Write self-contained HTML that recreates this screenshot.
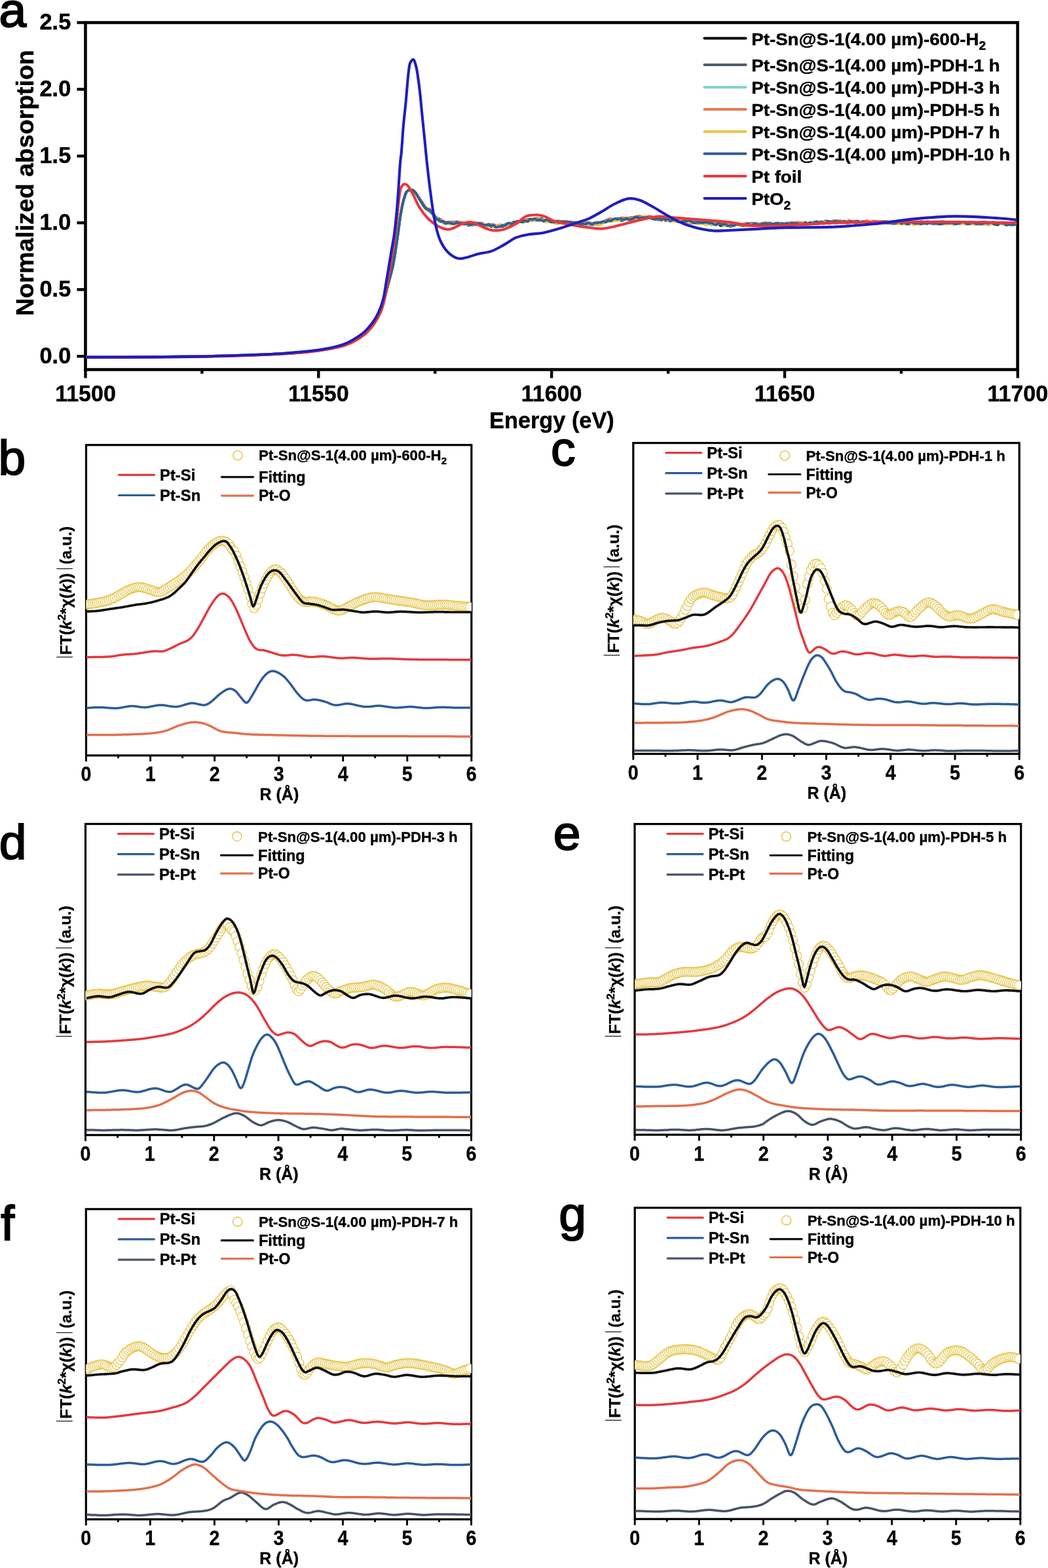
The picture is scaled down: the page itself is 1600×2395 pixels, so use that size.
<!DOCTYPE html>
<html><head><meta charset="utf-8"><style>html,body{margin:0;padding:0;background:#fff;}svg{display:block;}</style></head>
<body><svg xmlns="http://www.w3.org/2000/svg" width="1600" height="2395" viewBox="0 0 1600 2395" style="font-family:'Liberation Sans',Arial,Helvetica,sans-serif;font-weight:bold">
<rect width="1600" height="2395" fill="#fff"/>
<rect x="130.5" y="34.5" width="1423.1" height="530.0" fill="none" stroke="#000" stroke-width="4.6"/>
<line x1="117.5" y1="544.2" x2="130.5" y2="544.2" stroke="#000" stroke-width="4.4"/>
<text transform="translate(108.3,554.6) scale(0.97,1)" text-anchor="end" font-size="35.5" stroke="#000" stroke-width="0.45">0.0</text>
<line x1="117.5" y1="442.3" x2="130.5" y2="442.3" stroke="#000" stroke-width="4.4"/>
<text transform="translate(108.3,452.7) scale(0.97,1)" text-anchor="end" font-size="35.5" stroke="#000" stroke-width="0.45">0.5</text>
<line x1="117.5" y1="340.3" x2="130.5" y2="340.3" stroke="#000" stroke-width="4.4"/>
<text transform="translate(108.3,350.7) scale(0.97,1)" text-anchor="end" font-size="35.5" stroke="#000" stroke-width="0.45">1.0</text>
<line x1="117.5" y1="238.4" x2="130.5" y2="238.4" stroke="#000" stroke-width="4.4"/>
<text transform="translate(108.3,248.8) scale(0.97,1)" text-anchor="end" font-size="35.5" stroke="#000" stroke-width="0.45">1.5</text>
<line x1="117.5" y1="136.4" x2="130.5" y2="136.4" stroke="#000" stroke-width="4.4"/>
<text transform="translate(108.3,146.8) scale(0.97,1)" text-anchor="end" font-size="35.5" stroke="#000" stroke-width="0.45">2.0</text>
<line x1="117.5" y1="34.5" x2="130.5" y2="34.5" stroke="#000" stroke-width="4.4"/>
<text transform="translate(108.3,44.9) scale(0.97,1)" text-anchor="end" font-size="35.5" stroke="#000" stroke-width="0.45">2.5</text>
<line x1="130.5" y1="564.5" x2="130.5" y2="577.5" stroke="#000" stroke-width="4.4"/>
<text transform="translate(130.5,613.4) scale(0.95,1)" text-anchor="middle" font-size="35.8" stroke="#000" stroke-width="0.45">11500</text>
<line x1="308.4" y1="564.5" x2="308.4" y2="570.8" stroke="#000" stroke-width="4.4"/>
<line x1="486.3" y1="564.5" x2="486.3" y2="577.5" stroke="#000" stroke-width="4.4"/>
<text transform="translate(486.3,613.4) scale(0.95,1)" text-anchor="middle" font-size="35.8" stroke="#000" stroke-width="0.45">11550</text>
<line x1="664.2" y1="564.5" x2="664.2" y2="570.8" stroke="#000" stroke-width="4.4"/>
<line x1="842.1" y1="564.5" x2="842.1" y2="577.5" stroke="#000" stroke-width="4.4"/>
<text transform="translate(842.1,613.4) scale(0.95,1)" text-anchor="middle" font-size="35.8" stroke="#000" stroke-width="0.45">11600</text>
<line x1="1020.1" y1="564.5" x2="1020.1" y2="570.8" stroke="#000" stroke-width="4.4"/>
<line x1="1198.0" y1="564.5" x2="1198.0" y2="577.5" stroke="#000" stroke-width="4.4"/>
<text transform="translate(1198.0,613.4) scale(0.95,1)" text-anchor="middle" font-size="35.8" stroke="#000" stroke-width="0.45">11650</text>
<line x1="1375.9" y1="564.5" x2="1375.9" y2="570.8" stroke="#000" stroke-width="4.4"/>
<line x1="1553.8" y1="564.5" x2="1553.8" y2="577.5" stroke="#000" stroke-width="4.4"/>
<text transform="translate(1553.8,613.4) scale(0.95,1)" text-anchor="middle" font-size="35.8" stroke="#000" stroke-width="0.45">11700</text>
<text transform="translate(842.4,654.1) scale(0.967,1)" text-anchor="middle" font-size="35.5" stroke="#000" stroke-width="0.45">Energy (eV)</text>
<text transform="translate(50.6,279.4) rotate(-90)" text-anchor="middle" font-size="37.5" stroke="#000" stroke-width="0.45">Normalized absorption</text>
<text x="-1.6" y="41.4" font-size="75" font-weight="normal" stroke="#000" stroke-width="2">a</text>
<path d="M131.0,545.6 C142.5,545.6 171.8,545.6 200.0,545.4 C228.2,545.2 270.0,545.1 300.0,544.6 C330.0,544.1 359.0,543.1 380.0,542.4 C401.0,541.7 410.6,541.5 425.9,540.6 C441.2,539.7 459.0,538.4 471.8,537.0 C484.6,535.6 493.6,534.2 502.5,532.5 C511.4,530.8 519.0,529.1 525.4,527.0 C531.8,524.9 535.6,522.9 540.7,520.0 C545.8,517.1 551.4,513.4 556.0,509.5 C560.6,505.6 564.7,501.1 568.3,496.5 C571.9,491.9 575.0,486.4 577.5,482.0 C580.0,477.6 580.9,477.0 583.1,470.0 C585.4,463.0 588.1,451.2 591.0,440.0 C593.9,428.8 597.7,416.4 600.4,403.0 C603.1,389.6 605.4,371.4 607.2,359.5 C609.0,347.6 609.7,339.5 611.0,331.4 C612.3,323.4 613.4,317.2 614.8,311.0 C616.3,304.9 618.5,297.8 619.9,294.4 C621.4,291.0 622.1,291.2 623.8,290.6 C625.5,290.0 628.2,289.8 630.2,290.6 C632.1,291.5 633.3,293.3 635.3,295.7 C637.2,298.2 640.0,302.8 641.6,305.3 C643.3,307.9 644.0,309.2 645.1,310.9 C646.3,312.6 647.5,314.2 648.6,315.6 C649.8,316.9 651.0,318.0 652.1,319.2 C653.3,320.4 654.5,321.8 655.6,322.7 C656.8,323.6 658.0,323.0 659.1,324.4 C660.3,325.8 661.5,329.9 662.6,331.2 C663.8,332.6 665.0,331.8 666.1,332.3 C667.3,332.7 668.5,333.2 669.6,334.0 C670.8,334.7 672.0,335.6 673.1,336.5 C674.3,337.4 675.5,338.6 676.6,339.1 C677.8,339.6 679.0,339.2 680.1,339.5 C681.3,339.8 682.5,341.0 683.6,341.1 C684.8,341.3 686.0,340.4 687.1,340.4 C688.3,340.4 689.5,341.4 690.6,341.3 C691.8,341.3 693.0,340.0 694.1,340.0 C695.3,340.1 696.5,341.9 697.6,341.8 C698.8,341.8 700.0,339.6 701.1,339.5 C702.3,339.4 703.5,341.0 704.6,341.4 C705.8,341.8 707.0,341.9 708.1,341.9 C709.3,342.0 710.5,341.3 711.6,341.8 C712.8,342.2 714.0,344.3 715.1,344.4 C716.3,344.6 717.5,342.8 718.6,342.6 C719.8,342.5 721.0,343.7 722.1,343.5 C723.3,343.3 724.5,341.6 725.6,341.2 C726.8,340.8 728.0,340.9 729.1,341.2 C730.3,341.6 731.5,343.1 732.6,343.4 C733.8,343.6 735.0,342.7 736.1,342.9 C737.3,343.0 738.5,343.8 739.6,344.1 C740.8,344.4 742.0,344.9 743.1,344.8 C744.3,344.7 745.5,343.2 746.6,343.4 C747.8,343.6 749.0,345.8 750.1,346.1 C751.3,346.4 752.5,345.0 753.6,345.2 C754.8,345.4 756.0,347.3 757.1,347.2 C758.3,347.1 759.5,345.0 760.6,344.6 C761.8,344.2 763.0,344.6 764.1,344.8 C765.3,345.0 766.5,346.1 767.6,345.9 C768.8,345.7 770.0,344.1 771.1,343.7 C772.3,343.3 773.5,343.5 774.6,343.5 C775.8,343.4 777.0,343.7 778.1,343.5 C779.3,343.3 780.5,342.7 781.6,342.1 C782.8,341.6 784.0,340.8 785.1,340.2 C786.3,339.6 787.5,338.8 788.6,338.4 C789.8,338.1 791.0,338.1 792.1,338.1 C793.3,338.2 794.5,338.7 795.6,338.9 C796.8,339.0 798.0,338.8 799.1,338.8 C800.3,338.8 801.5,339.4 802.6,338.9 C803.8,338.3 805.0,335.8 806.1,335.2 C807.3,334.7 808.5,335.6 809.6,335.5 C810.8,335.4 812.0,334.6 813.1,334.7 C814.3,334.8 815.5,336.0 816.6,336.2 C817.8,336.3 819.0,335.6 820.1,335.7 C821.3,335.7 822.5,336.3 823.6,336.3 C824.8,336.4 826.0,335.9 827.1,336.2 C828.3,336.4 829.5,337.7 830.6,337.9 C831.8,338.1 833.0,337.1 834.1,337.1 C835.3,337.2 836.5,337.9 837.6,338.1 C838.8,338.2 840.0,338.2 841.1,338.0 C842.3,337.9 843.5,337.1 844.6,337.4 C845.8,337.6 847.0,338.9 848.1,339.4 C849.3,339.9 850.5,340.3 851.6,340.4 C852.8,340.6 854.0,340.6 855.1,340.4 C856.3,340.3 857.5,339.7 858.6,339.6 C859.8,339.4 861.0,339.6 862.1,339.6 C863.3,339.6 864.5,339.6 865.6,339.7 C866.8,339.8 868.0,340.1 869.1,340.4 C870.3,340.7 871.5,341.4 872.6,341.7 C873.8,342.0 875.0,342.2 876.1,342.2 C877.3,342.1 878.5,341.2 879.6,341.2 C880.8,341.2 882.0,342.1 883.1,342.0 C884.3,341.8 885.5,340.3 886.6,340.4 C887.8,340.5 889.0,342.7 890.1,342.7 C891.3,342.8 892.5,340.6 893.6,340.5 C894.8,340.3 896.0,341.4 897.1,341.9 C898.3,342.3 899.5,342.9 900.6,343.0 C901.8,343.0 903.0,341.8 904.1,341.9 C905.3,342.0 906.5,343.4 907.6,343.3 C908.8,343.3 910.0,341.9 911.1,341.6 C912.3,341.3 913.5,341.9 914.6,341.7 C915.8,341.5 917.0,340.8 918.1,340.5 C919.3,340.2 920.5,340.3 921.6,339.9 C922.8,339.4 924.0,338.1 925.1,337.7 C926.3,337.2 927.5,337.6 928.6,337.4 C929.8,337.1 931.0,336.4 932.1,336.3 C933.3,336.2 934.5,337.0 935.6,337.0 C936.8,337.0 938.0,336.7 939.1,336.4 C940.3,336.0 941.5,334.9 942.6,334.7 C943.8,334.6 945.0,334.9 946.1,335.2 C947.3,335.6 948.5,336.7 949.6,336.8 C950.8,336.9 952.0,336.4 953.1,335.8 C954.3,335.3 955.5,333.9 956.6,333.5 C957.8,333.2 959.0,333.7 960.1,333.6 C961.3,333.5 962.5,333.3 963.6,333.1 C964.8,332.8 966.0,332.1 967.1,332.0 C968.3,332.0 969.5,332.4 970.6,332.6 C971.8,332.9 973.0,333.6 974.1,333.7 C975.3,333.7 976.5,333.2 977.6,332.9 C978.8,332.6 980.0,332.1 981.1,332.0 C982.3,331.9 983.5,332.4 984.6,332.4 C985.8,332.4 987.0,332.2 988.1,332.1 C989.3,332.0 990.5,331.8 991.6,331.8 C992.8,331.8 994.0,331.7 995.1,331.8 C996.3,331.9 997.5,331.8 998.6,332.3 C999.8,332.8 1001.0,334.2 1002.1,334.7 C1003.3,335.2 1004.5,335.4 1005.6,335.4 C1006.8,335.3 1008.0,334.7 1009.1,334.6 C1010.3,334.5 1011.5,334.3 1012.6,334.7 C1013.8,335.0 1015.0,336.7 1016.1,336.7 C1017.3,336.8 1018.5,334.9 1019.6,334.7 C1020.8,334.6 1022.0,335.6 1023.1,335.8 C1024.3,336.1 1025.5,335.9 1026.6,336.2 C1027.8,336.4 1029.0,337.2 1030.1,337.4 C1031.3,337.6 1032.5,337.3 1033.6,337.3 C1034.8,337.3 1036.0,337.2 1037.1,337.5 C1038.3,337.9 1039.5,339.4 1040.6,339.5 C1041.8,339.7 1043.0,338.3 1044.1,338.4 C1045.3,338.4 1046.5,339.9 1047.6,339.8 C1048.8,339.6 1050.0,337.5 1051.1,337.6 C1052.3,337.7 1053.5,340.0 1054.6,340.4 C1055.8,340.9 1057.0,339.9 1058.1,340.0 C1059.3,340.1 1060.5,340.8 1061.6,340.9 C1062.8,341.0 1064.0,340.8 1065.1,340.7 C1066.3,340.7 1067.5,340.4 1068.6,340.4 C1069.8,340.4 1071.0,340.5 1072.1,340.6 C1073.3,340.6 1074.5,340.4 1075.6,340.6 C1076.8,340.7 1078.0,341.1 1079.1,341.4 C1080.3,341.6 1081.5,342.1 1082.6,342.1 C1083.8,342.0 1085.0,341.1 1086.1,341.1 C1087.3,341.2 1088.5,342.3 1089.6,342.4 C1090.8,342.5 1092.0,341.9 1093.1,341.8 C1094.3,341.7 1095.5,341.2 1096.6,341.6 C1097.8,342.1 1099.0,344.0 1100.1,344.4 C1101.3,344.8 1102.5,344.2 1103.6,344.2 C1104.8,344.1 1106.0,344.4 1107.1,344.0 C1108.3,343.7 1109.5,342.0 1110.6,342.2 C1111.8,342.4 1113.0,344.7 1114.1,345.2 C1115.3,345.8 1116.5,345.7 1117.6,345.2 C1118.8,344.8 1120.0,342.9 1121.1,342.4 C1122.3,341.9 1123.5,342.5 1124.6,342.5 C1125.8,342.5 1127.0,342.4 1128.1,342.5 C1129.3,342.6 1130.5,342.8 1131.6,343.2 C1132.8,343.6 1134.0,345.0 1135.1,344.8 C1136.3,344.5 1137.5,342.3 1138.6,341.8 C1139.8,341.3 1141.0,341.6 1142.1,341.8 C1143.3,342.1 1144.5,343.0 1145.6,343.2 C1146.8,343.4 1148.0,342.8 1149.1,342.9 C1150.3,343.1 1151.5,343.8 1152.6,343.8 C1153.8,343.8 1155.0,343.2 1156.1,343.0 C1157.3,342.8 1158.5,342.2 1159.6,342.4 C1160.8,342.6 1162.0,344.0 1163.1,344.3 C1164.3,344.6 1165.5,344.5 1166.6,344.3 C1167.8,344.0 1169.0,343.0 1170.1,343.0 C1171.3,342.9 1172.5,344.1 1173.6,343.9 C1174.8,343.7 1176.0,341.8 1177.1,341.8 C1178.3,341.8 1179.5,343.8 1180.6,343.9 C1181.8,344.1 1183.0,342.9 1184.1,342.7 C1185.3,342.4 1186.5,342.5 1187.6,342.5 C1188.8,342.5 1190.0,342.7 1191.1,342.9 C1192.3,343.1 1193.5,343.7 1194.6,343.9 C1195.8,344.1 1197.0,344.1 1198.1,344.0 C1199.3,344.0 1200.5,344.1 1201.6,343.6 C1202.8,343.2 1204.0,341.6 1205.1,341.4 C1206.3,341.2 1207.5,342.2 1208.6,342.4 C1209.8,342.6 1211.0,342.6 1212.1,342.5 C1213.3,342.4 1214.5,342.0 1215.6,341.8 C1216.8,341.7 1218.0,341.8 1219.1,341.7 C1220.3,341.7 1221.5,341.6 1222.6,341.6 C1223.8,341.6 1225.0,341.8 1226.1,341.7 C1227.3,341.6 1228.5,341.3 1229.6,341.2 C1230.8,341.1 1232.0,341.3 1233.1,341.3 C1234.3,341.3 1235.5,341.3 1236.6,341.1 C1237.8,341.0 1239.0,340.6 1240.1,340.4 C1241.3,340.3 1242.5,339.9 1243.6,340.2 C1244.8,340.4 1246.0,342.0 1247.1,342.0 C1248.3,342.0 1249.5,340.5 1250.6,340.2 C1251.8,339.9 1253.0,340.0 1254.1,340.2 C1255.3,340.4 1256.5,341.7 1257.6,341.4 C1258.8,341.1 1260.0,338.7 1261.1,338.5 C1262.3,338.3 1263.5,340.4 1264.6,340.4 C1265.8,340.4 1267.0,338.6 1268.1,338.5 C1269.3,338.5 1270.5,340.0 1271.6,339.9 C1272.8,339.8 1274.0,338.2 1275.1,337.9 C1276.3,337.5 1277.5,337.4 1278.6,337.7 C1279.8,338.0 1281.0,339.7 1282.1,339.7 C1283.3,339.8 1284.5,338.4 1285.6,338.1 C1286.8,337.7 1288.0,337.7 1289.1,337.7 C1290.3,337.8 1291.5,338.4 1292.6,338.4 C1293.8,338.5 1295.0,337.7 1296.1,337.9 C1297.3,338.0 1298.5,339.2 1299.6,339.4 C1300.8,339.5 1302.0,338.5 1303.1,338.8 C1304.3,339.0 1305.5,340.8 1306.6,340.8 C1307.8,340.8 1309.0,339.0 1310.1,338.8 C1311.3,338.6 1312.5,339.4 1313.6,339.4 C1314.8,339.4 1316.0,338.7 1317.1,339.0 C1318.3,339.3 1319.5,341.1 1320.6,341.0 C1321.8,340.9 1323.0,338.3 1324.1,338.3 C1325.3,338.2 1326.5,340.3 1327.6,340.6 C1328.8,340.9 1330.0,340.3 1331.1,339.9 C1332.3,339.5 1333.5,338.1 1334.6,338.3 C1335.8,338.5 1337.0,340.9 1338.1,341.4 C1339.3,341.8 1340.5,341.3 1341.6,340.9 C1342.8,340.6 1344.0,339.4 1345.1,339.2 C1346.3,339.1 1347.5,339.9 1348.6,339.9 C1349.8,339.9 1351.0,339.3 1352.1,339.4 C1353.3,339.5 1354.5,340.3 1355.6,340.4 C1356.8,340.5 1358.0,340.1 1359.1,340.0 C1360.3,339.9 1361.5,339.4 1362.6,339.6 C1363.8,339.7 1365.0,340.9 1366.1,340.8 C1367.3,340.7 1368.5,339.3 1369.6,339.0 C1370.8,338.8 1372.0,338.9 1373.1,339.2 C1374.3,339.5 1375.5,340.2 1376.6,340.7 C1377.8,341.2 1379.0,342.2 1380.1,342.2 C1381.3,342.3 1382.5,341.1 1383.6,341.1 C1384.8,341.0 1386.0,341.9 1387.1,341.8 C1388.3,341.8 1389.5,341.2 1390.6,340.8 C1391.8,340.5 1393.0,340.0 1394.1,339.7 C1395.3,339.5 1396.5,339.2 1397.6,339.5 C1398.8,339.7 1400.0,340.8 1401.1,341.3 C1402.3,341.7 1403.5,342.4 1404.6,342.2 C1405.8,342.0 1407.0,340.6 1408.1,340.2 C1409.3,339.8 1410.5,339.6 1411.6,339.8 C1412.8,340.1 1414.0,341.8 1415.1,341.8 C1416.3,341.8 1417.5,340.0 1418.6,339.9 C1419.8,339.7 1421.0,340.8 1422.1,341.1 C1423.3,341.4 1424.5,341.9 1425.6,341.8 C1426.8,341.6 1428.0,340.2 1429.1,340.2 C1430.3,340.3 1431.5,341.6 1432.6,341.9 C1433.8,342.2 1435.0,342.5 1436.1,342.1 C1437.3,341.6 1438.5,339.6 1439.6,339.2 C1440.8,338.8 1442.0,339.4 1443.1,339.4 C1444.3,339.5 1445.5,339.3 1446.6,339.6 C1447.8,339.8 1449.0,340.8 1450.1,341.1 C1451.3,341.4 1452.5,341.4 1453.6,341.1 C1454.8,340.9 1456.0,339.2 1457.1,339.4 C1458.3,339.6 1459.5,342.2 1460.6,342.2 C1461.8,342.3 1463.0,339.8 1464.1,339.6 C1465.3,339.4 1466.5,341.2 1467.6,341.2 C1468.8,341.3 1470.0,340.0 1471.1,339.9 C1472.3,339.9 1473.5,340.8 1474.6,340.9 C1475.8,341.1 1477.0,340.8 1478.1,340.9 C1479.3,341.0 1480.5,341.5 1481.6,341.6 C1482.8,341.7 1484.0,341.5 1485.1,341.5 C1486.3,341.5 1487.5,341.6 1488.6,341.5 C1489.8,341.4 1491.0,340.6 1492.1,340.9 C1493.3,341.1 1494.5,342.7 1495.6,342.8 C1496.8,342.9 1498.0,341.6 1499.1,341.5 C1500.3,341.4 1501.5,342.4 1502.6,342.4 C1503.8,342.4 1505.0,341.4 1506.1,341.6 C1507.3,341.7 1508.5,343.1 1509.6,343.1 C1510.8,343.0 1512.0,341.3 1513.1,341.1 C1514.3,340.9 1515.5,341.6 1516.6,341.9 C1517.8,342.2 1519.0,342.9 1520.1,343.1 C1521.3,343.2 1522.5,343.3 1523.6,343.0 C1524.8,342.8 1526.0,341.8 1527.1,341.4 C1528.3,341.0 1529.5,340.3 1530.6,340.5 C1531.8,340.7 1533.0,342.3 1534.1,342.8 C1535.3,343.3 1536.5,343.4 1537.6,343.4 C1538.8,343.4 1540.0,343.3 1541.1,343.1 C1542.3,342.8 1543.5,342.4 1544.6,342.0 C1545.8,341.6 1547.0,340.9 1548.1,340.7 C1549.3,340.5 1551.0,340.7 1551.6,340.7" fill="none" stroke="#000000" stroke-width="4.0" stroke-linejoin="round"/>
<path d="M131.0,545.6 C142.5,545.6 171.8,545.6 200.0,545.4 C228.2,545.2 270.0,545.1 300.0,544.6 C330.0,544.1 359.0,543.1 380.0,542.4 C401.0,541.7 410.6,541.5 425.9,540.6 C441.2,539.7 459.0,538.4 471.8,537.0 C484.6,535.6 493.6,534.2 502.5,532.5 C511.4,530.8 519.0,529.1 525.4,527.0 C531.8,524.9 535.6,522.9 540.7,520.0 C545.8,517.1 551.4,513.4 556.0,509.5 C560.6,505.6 564.7,501.1 568.3,496.5 C571.9,491.9 575.0,486.4 577.5,482.0 C580.0,477.6 580.9,477.0 583.1,470.0 C585.4,463.0 588.1,451.2 591.0,440.0 C593.9,428.8 597.7,416.4 600.4,403.0 C603.1,389.6 605.4,371.4 607.2,359.5 C609.0,347.6 609.7,339.5 611.0,331.4 C612.3,323.4 613.4,317.2 614.8,311.0 C616.3,304.9 618.5,297.8 619.9,294.4 C621.4,291.0 622.1,291.2 623.8,290.6 C625.5,290.0 628.2,289.8 630.2,290.6 C632.1,291.5 633.3,293.2 635.3,295.7 C637.2,298.2 640.0,303.4 641.6,305.8 C643.3,308.1 644.0,307.8 645.1,309.7 C646.3,311.6 647.5,315.7 648.6,317.3 C649.8,319.0 651.0,319.0 652.1,319.5 C653.3,319.9 654.5,319.0 655.6,320.0 C656.8,321.0 658.0,323.8 659.1,325.3 C660.3,326.9 661.5,327.9 662.6,329.3 C663.8,330.7 665.0,332.7 666.1,333.6 C667.3,334.5 668.5,334.2 669.6,334.5 C670.8,334.9 672.0,334.9 673.1,335.7 C674.3,336.5 675.5,338.3 676.6,339.3 C677.8,340.2 679.0,341.1 680.1,341.3 C681.3,341.5 682.5,340.6 683.6,340.4 C684.8,340.3 686.0,340.6 687.1,340.3 C688.3,340.0 689.5,338.8 690.6,338.7 C691.8,338.6 693.0,339.8 694.1,339.8 C695.3,339.7 696.5,338.4 697.6,338.4 C698.8,338.4 700.0,339.3 701.1,339.8 C702.3,340.3 703.5,341.0 704.6,341.4 C705.8,341.8 707.0,342.0 708.1,342.1 C709.3,342.3 710.5,342.4 711.6,342.2 C712.8,342.1 714.0,341.3 715.1,341.4 C716.3,341.6 717.5,343.5 718.6,343.2 C719.8,343.0 721.0,340.1 722.1,340.0 C723.3,339.9 724.5,342.7 725.6,342.8 C726.8,342.9 728.0,340.6 729.1,340.5 C730.3,340.3 731.5,341.8 732.6,342.0 C733.8,342.1 735.0,341.0 736.1,341.4 C737.3,341.8 738.5,344.0 739.6,344.4 C740.8,344.8 742.0,344.0 743.1,343.7 C744.3,343.4 745.5,342.5 746.6,342.5 C747.8,342.5 749.0,343.4 750.1,343.5 C751.3,343.6 752.5,343.0 753.6,343.2 C754.8,343.4 756.0,344.7 757.1,344.9 C758.3,345.2 759.5,344.5 760.6,344.7 C761.8,344.8 763.0,345.6 764.1,345.8 C765.3,346.0 766.5,346.3 767.6,345.8 C768.8,345.3 770.0,343.0 771.1,342.7 C772.3,342.4 773.5,343.9 774.6,344.0 C775.8,344.1 777.0,343.7 778.1,343.4 C779.3,343.1 780.5,342.9 781.6,342.2 C782.8,341.6 784.0,339.7 785.1,339.4 C786.3,339.1 787.5,340.4 788.6,340.5 C789.8,340.6 791.0,340.5 792.1,339.8 C793.3,339.2 794.5,337.0 795.6,336.7 C796.8,336.4 798.0,338.0 799.1,338.0 C800.3,338.0 801.5,337.1 802.6,336.7 C803.8,336.3 805.0,336.0 806.1,335.6 C807.3,335.3 808.5,334.5 809.6,334.7 C810.8,334.8 812.0,336.6 813.1,336.6 C814.3,336.5 815.5,335.0 816.6,334.4 C817.8,333.9 819.0,333.3 820.1,333.4 C821.3,333.4 822.5,334.6 823.6,334.6 C824.8,334.6 826.0,333.1 827.1,333.5 C828.3,333.9 829.5,336.5 830.6,337.2 C831.8,337.9 833.0,337.8 834.1,337.6 C835.3,337.4 836.5,335.9 837.6,335.9 C838.8,336.0 840.0,337.1 841.1,337.6 C842.3,338.1 843.5,339.1 844.6,339.2 C845.8,339.2 847.0,338.1 848.1,337.9 C849.3,337.6 850.5,337.5 851.6,337.5 C852.8,337.5 854.0,337.7 855.1,337.9 C856.3,338.1 857.5,338.7 858.6,338.8 C859.8,338.9 861.0,338.1 862.1,338.4 C863.3,338.8 864.5,340.6 865.6,341.1 C866.8,341.6 868.0,341.5 869.1,341.5 C870.3,341.5 871.5,341.5 872.6,341.3 C873.8,341.0 875.0,340.1 876.1,340.0 C877.3,339.9 878.5,340.7 879.6,340.7 C880.8,340.7 882.0,339.6 883.1,339.9 C884.3,340.1 885.5,342.1 886.6,342.2 C887.8,342.4 889.0,341.2 890.1,340.9 C891.3,340.6 892.5,340.6 893.6,340.6 C894.8,340.7 896.0,341.0 897.1,341.4 C898.3,341.7 899.5,343.0 900.6,342.9 C901.8,342.8 903.0,340.8 904.1,340.7 C905.3,340.5 906.5,342.0 907.6,342.0 C908.8,342.0 910.0,340.6 911.1,340.4 C912.3,340.3 913.5,341.2 914.6,341.0 C915.8,340.8 917.0,339.5 918.1,339.3 C919.3,339.0 920.5,339.9 921.6,339.4 C922.8,339.0 924.0,337.4 925.1,336.8 C926.3,336.1 927.5,335.5 928.6,335.4 C929.8,335.3 931.0,336.1 932.1,336.1 C933.3,336.1 934.5,335.6 935.6,335.6 C936.8,335.6 938.0,336.7 939.1,336.4 C940.3,336.0 941.5,333.6 942.6,333.5 C943.8,333.3 945.0,335.1 946.1,335.3 C947.3,335.6 948.5,335.1 949.6,334.7 C950.8,334.3 952.0,333.0 953.1,332.9 C954.3,332.9 955.5,334.3 956.6,334.4 C957.8,334.5 959.0,334.0 960.1,333.6 C961.3,333.1 962.5,331.9 963.6,331.9 C964.8,332.0 966.0,334.0 967.1,333.9 C968.3,333.7 969.5,331.4 970.6,331.0 C971.8,330.5 973.0,331.1 974.1,331.1 C975.3,331.2 976.5,331.3 977.6,331.3 C978.8,331.3 980.0,330.9 981.1,330.9 C982.3,330.9 983.5,331.2 984.6,331.3 C985.8,331.4 987.0,331.5 988.1,331.5 C989.3,331.5 990.5,331.3 991.6,331.3 C992.8,331.3 994.0,331.3 995.1,331.4 C996.3,331.6 997.5,331.8 998.6,332.1 C999.8,332.3 1001.0,332.3 1002.1,332.7 C1003.3,333.0 1004.5,333.9 1005.6,334.3 C1006.8,334.7 1008.0,335.1 1009.1,335.3 C1010.3,335.5 1011.5,335.6 1012.6,335.6 C1013.8,335.6 1015.0,335.0 1016.1,335.2 C1017.3,335.3 1018.5,336.3 1019.6,336.6 C1020.8,337.0 1022.0,337.4 1023.1,337.3 C1024.3,337.2 1025.5,336.2 1026.6,336.1 C1027.8,336.0 1029.0,336.7 1030.1,336.7 C1031.3,336.8 1032.5,336.4 1033.6,336.3 C1034.8,336.2 1036.0,335.8 1037.1,336.0 C1038.3,336.3 1039.5,337.7 1040.6,337.9 C1041.8,338.0 1043.0,336.8 1044.1,336.9 C1045.3,337.0 1046.5,338.4 1047.6,338.7 C1048.8,339.0 1050.0,338.8 1051.1,338.7 C1052.3,338.6 1053.5,338.3 1054.6,338.0 C1055.8,337.8 1057.0,337.4 1058.1,337.3 C1059.3,337.2 1060.5,337.3 1061.6,337.4 C1062.8,337.4 1064.0,337.3 1065.1,337.4 C1066.3,337.5 1067.5,337.8 1068.6,338.0 C1069.8,338.3 1071.0,338.4 1072.1,338.8 C1073.3,339.3 1074.5,340.2 1075.6,340.6 C1076.8,341.0 1078.0,341.4 1079.1,341.2 C1080.3,341.0 1081.5,339.5 1082.6,339.4 C1083.8,339.3 1085.0,340.2 1086.1,340.6 C1087.3,341.0 1088.5,341.6 1089.6,341.7 C1090.8,341.8 1092.0,341.1 1093.1,341.1 C1094.3,341.1 1095.5,341.8 1096.6,341.9 C1097.8,342.0 1099.0,341.8 1100.1,341.8 C1101.3,341.8 1102.5,341.8 1103.6,342.0 C1104.8,342.2 1106.0,342.5 1107.1,342.9 C1108.3,343.3 1109.5,344.3 1110.6,344.2 C1111.8,344.2 1113.0,342.8 1114.1,342.6 C1115.3,342.5 1116.5,343.3 1117.6,343.4 C1118.8,343.5 1120.0,343.3 1121.1,343.2 C1122.3,343.1 1123.5,343.2 1124.6,343.0 C1125.8,342.8 1127.0,341.8 1128.1,341.9 C1129.3,341.9 1130.5,342.9 1131.6,343.2 C1132.8,343.4 1134.0,343.4 1135.1,343.5 C1136.3,343.6 1137.5,343.8 1138.6,343.8 C1139.8,343.8 1141.0,344.0 1142.1,343.6 C1143.3,343.1 1144.5,341.5 1145.6,341.1 C1146.8,340.6 1148.0,340.6 1149.1,340.7 C1150.3,340.7 1151.5,341.4 1152.6,341.5 C1153.8,341.6 1155.0,341.0 1156.1,341.3 C1157.3,341.7 1158.5,343.6 1159.6,343.5 C1160.8,343.5 1162.0,341.3 1163.1,341.1 C1164.3,340.9 1165.5,341.9 1166.6,342.1 C1167.8,342.3 1169.0,342.8 1170.1,342.5 C1171.3,342.2 1172.5,340.8 1173.6,340.6 C1174.8,340.3 1176.0,340.6 1177.1,340.9 C1178.3,341.2 1179.5,342.1 1180.6,342.5 C1181.8,342.9 1183.0,343.4 1184.1,343.5 C1185.3,343.5 1186.5,343.5 1187.6,343.1 C1188.8,342.6 1190.0,341.0 1191.1,340.8 C1192.3,340.5 1193.5,341.5 1194.6,341.6 C1195.8,341.7 1197.0,341.2 1198.1,341.4 C1199.3,341.5 1200.5,342.6 1201.6,342.6 C1202.8,342.6 1204.0,341.7 1205.1,341.5 C1206.3,341.4 1207.5,341.5 1208.6,341.7 C1209.8,341.8 1211.0,342.5 1212.1,342.6 C1213.3,342.8 1214.5,342.8 1215.6,342.6 C1216.8,342.4 1218.0,342.0 1219.1,341.6 C1220.3,341.2 1221.5,340.1 1222.6,340.3 C1223.8,340.4 1225.0,342.7 1226.1,342.6 C1227.3,342.5 1228.5,339.8 1229.6,339.6 C1230.8,339.4 1232.0,341.1 1233.1,341.4 C1234.3,341.7 1235.5,341.7 1236.6,341.4 C1237.8,341.0 1239.0,339.7 1240.1,339.4 C1241.3,339.0 1242.5,339.3 1243.6,339.2 C1244.8,339.0 1246.0,338.4 1247.1,338.5 C1248.3,338.6 1249.5,339.5 1250.6,339.7 C1251.8,340.0 1253.0,340.3 1254.1,340.1 C1255.3,339.9 1256.5,339.1 1257.6,338.7 C1258.8,338.3 1260.0,337.6 1261.1,337.5 C1262.3,337.5 1263.5,337.9 1264.6,338.3 C1265.8,338.7 1267.0,339.9 1268.1,339.8 C1269.3,339.6 1270.5,337.9 1271.6,337.5 C1272.8,337.1 1274.0,337.1 1275.1,337.3 C1276.3,337.5 1277.5,338.8 1278.6,338.8 C1279.8,338.8 1281.0,337.3 1282.1,337.2 C1283.3,337.0 1284.5,337.8 1285.6,338.0 C1286.8,338.2 1288.0,337.9 1289.1,338.2 C1290.3,338.5 1291.5,339.6 1292.6,339.8 C1293.8,340.0 1295.0,339.8 1296.1,339.6 C1297.3,339.3 1298.5,338.3 1299.6,338.1 C1300.8,338.0 1302.0,338.6 1303.1,338.5 C1304.3,338.4 1305.5,337.7 1306.6,337.7 C1307.8,337.7 1309.0,338.2 1310.1,338.4 C1311.3,338.7 1312.5,339.0 1313.6,339.0 C1314.8,339.0 1316.0,338.6 1317.1,338.6 C1318.3,338.5 1319.5,338.8 1320.6,338.7 C1321.8,338.5 1323.0,337.5 1324.1,337.6 C1325.3,337.7 1326.5,339.1 1327.6,339.5 C1328.8,339.9 1330.0,340.0 1331.1,339.8 C1332.3,339.7 1333.5,338.9 1334.6,338.7 C1335.8,338.5 1337.0,338.5 1338.1,338.5 C1339.3,338.5 1340.5,338.8 1341.6,338.7 C1342.8,338.7 1344.0,338.4 1345.1,338.4 C1346.3,338.3 1347.5,338.3 1348.6,338.3 C1349.8,338.3 1351.0,338.3 1352.1,338.4 C1353.3,338.5 1354.5,338.7 1355.6,339.0 C1356.8,339.4 1358.0,340.5 1359.1,340.5 C1360.3,340.5 1361.5,339.5 1362.6,339.1 C1363.8,338.8 1365.0,338.1 1366.1,338.3 C1367.3,338.5 1368.5,340.1 1369.6,340.4 C1370.8,340.8 1372.0,340.3 1373.1,340.3 C1374.3,340.3 1375.5,340.4 1376.6,340.5 C1377.8,340.6 1379.0,341.0 1380.1,340.9 C1381.3,340.7 1382.5,340.1 1383.6,339.7 C1384.8,339.4 1386.0,338.9 1387.1,338.7 C1388.3,338.5 1389.5,338.2 1390.6,338.6 C1391.8,339.0 1393.0,340.9 1394.1,341.3 C1395.3,341.7 1396.5,341.3 1397.6,341.0 C1398.8,340.8 1400.0,340.2 1401.1,339.8 C1402.3,339.4 1403.5,338.7 1404.6,338.6 C1405.8,338.5 1407.0,338.6 1408.1,339.1 C1409.3,339.6 1410.5,341.5 1411.6,341.6 C1412.8,341.7 1414.0,339.8 1415.1,339.7 C1416.3,339.5 1417.5,340.7 1418.6,340.7 C1419.8,340.8 1421.0,340.1 1422.1,339.9 C1423.3,339.7 1424.5,339.4 1425.6,339.5 C1426.8,339.6 1428.0,340.5 1429.1,340.4 C1430.3,340.4 1431.5,339.0 1432.6,339.1 C1433.8,339.2 1435.0,341.3 1436.1,341.3 C1437.3,341.2 1438.5,338.6 1439.6,338.7 C1440.8,338.7 1442.0,341.2 1443.1,341.4 C1444.3,341.6 1445.5,340.0 1446.6,339.8 C1447.8,339.5 1449.0,339.7 1450.1,340.0 C1451.3,340.2 1452.5,341.1 1453.6,341.2 C1454.8,341.4 1456.0,340.8 1457.1,340.8 C1458.3,340.7 1459.5,340.9 1460.6,341.0 C1461.8,341.0 1463.0,340.9 1464.1,341.0 C1465.3,341.0 1466.5,341.6 1467.6,341.3 C1468.8,341.1 1470.0,339.6 1471.1,339.6 C1472.3,339.6 1473.5,341.3 1474.6,341.4 C1475.8,341.4 1477.0,339.9 1478.1,339.6 C1479.3,339.3 1480.5,339.5 1481.6,339.7 C1482.8,339.8 1484.0,340.4 1485.1,340.6 C1486.3,340.9 1487.5,341.1 1488.6,341.2 C1489.8,341.4 1491.0,341.8 1492.1,341.5 C1493.3,341.2 1494.5,339.3 1495.6,339.3 C1496.8,339.3 1498.0,341.4 1499.1,341.6 C1500.3,341.8 1501.5,340.6 1502.6,340.5 C1503.8,340.3 1505.0,340.4 1506.1,340.6 C1507.3,340.9 1508.5,341.9 1509.6,342.0 C1510.8,342.2 1512.0,342.0 1513.1,341.6 C1514.3,341.2 1515.5,339.6 1516.6,339.4 C1517.8,339.2 1519.0,340.3 1520.1,340.4 C1521.3,340.6 1522.5,340.2 1523.6,340.4 C1524.8,340.6 1526.0,341.8 1527.1,341.8 C1528.3,341.7 1529.5,340.5 1530.6,340.2 C1531.8,340.0 1533.0,340.1 1534.1,340.1 C1535.3,340.1 1536.5,339.9 1537.6,340.3 C1538.8,340.6 1540.0,342.0 1541.1,342.1 C1542.3,342.2 1543.5,340.7 1544.6,340.9 C1545.8,341.0 1547.0,343.1 1548.1,343.0 C1549.3,342.8 1551.0,340.5 1551.6,340.0" fill="none" stroke="#4E5A6E" stroke-width="4.0" stroke-linejoin="round"/>
<path d="M131.0,545.6 C142.5,545.6 171.8,545.6 200.0,545.4 C228.2,545.2 270.0,545.1 300.0,544.6 C330.0,544.1 359.0,543.1 380.0,542.4 C401.0,541.7 410.6,541.5 425.9,540.6 C441.2,539.7 459.0,538.4 471.8,537.0 C484.6,535.6 493.6,534.2 502.5,532.5 C511.4,530.8 519.0,529.1 525.4,527.0 C531.8,524.9 535.6,522.9 540.7,520.0 C545.8,517.1 551.4,513.4 556.0,509.5 C560.6,505.6 564.7,501.1 568.3,496.5 C571.9,491.9 575.0,486.4 577.5,482.0 C580.0,477.6 580.9,477.0 583.1,470.0 C585.4,463.0 588.1,451.2 591.0,440.0 C593.9,428.8 597.7,416.4 600.4,403.0 C603.1,389.6 605.4,371.4 607.2,359.5 C609.0,347.6 609.7,339.5 611.0,331.4 C612.3,323.4 613.4,317.2 614.8,311.0 C616.3,304.9 618.5,297.8 619.9,294.4 C621.4,291.0 622.1,291.2 623.8,290.6 C625.5,290.0 628.2,289.8 630.2,290.6 C632.1,291.5 633.3,293.1 635.3,295.7 C637.2,298.3 640.0,303.4 641.6,306.1 C643.3,308.8 644.0,310.0 645.1,311.9 C646.3,313.8 647.5,316.3 648.6,317.3 C649.8,318.4 651.0,317.4 652.1,318.2 C653.3,319.1 654.5,321.0 655.6,322.3 C656.8,323.6 658.0,324.8 659.1,326.0 C660.3,327.2 661.5,328.3 662.6,329.3 C663.8,330.2 665.0,330.8 666.1,331.8 C667.3,332.8 668.5,334.6 669.6,335.4 C670.8,336.3 672.0,335.9 673.1,336.7 C674.3,337.6 675.5,340.0 676.6,340.6 C677.8,341.2 679.0,340.3 680.1,340.5 C681.3,340.7 682.5,341.6 683.6,341.8 C684.8,341.9 686.0,341.4 687.1,341.4 C688.3,341.5 689.5,342.0 690.6,342.2 C691.8,342.3 693.0,342.6 694.1,342.4 C695.3,342.2 696.5,340.8 697.6,340.7 C698.8,340.7 700.0,341.9 701.1,342.0 C702.3,342.1 703.5,341.4 704.6,341.5 C705.8,341.6 707.0,342.5 708.1,342.7 C709.3,343.0 710.5,343.0 711.6,342.9 C712.8,342.9 714.0,342.3 715.1,342.2 C716.3,342.2 717.5,342.8 718.6,342.7 C719.8,342.5 721.0,341.5 722.1,341.3 C723.3,341.0 724.5,341.0 725.6,341.3 C726.8,341.6 728.0,342.6 729.1,342.8 C730.3,343.0 731.5,342.5 732.6,342.5 C733.8,342.6 735.0,342.8 736.1,343.2 C737.3,343.5 738.5,344.1 739.6,344.6 C740.8,345.1 742.0,346.0 743.1,346.0 C744.3,346.1 745.5,345.1 746.6,344.9 C747.8,344.7 749.0,344.5 750.1,344.8 C751.3,345.1 752.5,346.2 753.6,346.6 C754.8,347.0 756.0,347.3 757.1,347.1 C758.3,346.9 759.5,345.6 760.6,345.2 C761.8,344.9 763.0,345.2 764.1,344.9 C765.3,344.7 766.5,343.9 767.6,343.6 C768.8,343.3 770.0,343.1 771.1,343.2 C772.3,343.4 773.5,345.0 774.6,344.7 C775.8,344.4 777.0,342.0 778.1,341.5 C779.3,341.0 780.5,341.8 781.6,341.8 C782.8,341.8 784.0,341.7 785.1,341.4 C786.3,341.1 787.5,340.5 788.6,340.2 C789.8,339.9 791.0,340.0 792.1,339.6 C793.3,339.2 794.5,338.1 795.6,337.8 C796.8,337.5 798.0,337.7 799.1,337.8 C800.3,337.9 801.5,338.5 802.6,338.3 C803.8,338.2 805.0,337.3 806.1,337.0 C807.3,336.7 808.5,336.7 809.6,336.3 C810.8,336.0 812.0,334.7 813.1,334.8 C814.3,334.9 815.5,336.7 816.6,336.8 C817.8,337.0 819.0,336.2 820.1,335.9 C821.3,335.6 822.5,334.9 823.6,334.9 C824.8,335.0 826.0,335.7 827.1,336.0 C828.3,336.4 829.5,336.4 830.6,336.9 C831.8,337.4 833.0,339.0 834.1,339.1 C835.3,339.3 836.5,338.1 837.6,338.0 C838.8,337.8 840.0,338.3 841.1,338.5 C842.3,338.7 843.5,339.1 844.6,339.3 C845.8,339.4 847.0,339.5 848.1,339.4 C849.3,339.3 850.5,338.8 851.6,338.8 C852.8,338.7 854.0,338.8 855.1,339.2 C856.3,339.6 857.5,341.1 858.6,341.3 C859.8,341.5 861.0,340.5 862.1,340.6 C863.3,340.7 864.5,341.6 865.6,341.9 C866.8,342.2 868.0,342.3 869.1,342.2 C870.3,342.1 871.5,341.4 872.6,341.4 C873.8,341.4 875.0,342.3 876.1,342.3 C877.3,342.4 878.5,342.0 879.6,341.8 C880.8,341.7 882.0,341.5 883.1,341.4 C884.3,341.2 885.5,341.1 886.6,341.2 C887.8,341.2 889.0,341.8 890.1,341.9 C891.3,341.9 892.5,341.3 893.6,341.5 C894.8,341.8 896.0,343.2 897.1,343.6 C898.3,344.0 899.5,344.1 900.6,343.8 C901.8,343.6 903.0,342.2 904.1,342.1 C905.3,342.0 906.5,343.2 907.6,343.2 C908.8,343.1 910.0,341.6 911.1,341.7 C912.3,341.7 913.5,343.6 914.6,343.5 C915.8,343.4 917.0,342.1 918.1,341.3 C919.3,340.5 920.5,339.1 921.6,338.7 C922.8,338.2 924.0,338.8 925.1,338.5 C926.3,338.1 927.5,336.8 928.6,336.6 C929.8,336.4 931.0,337.0 932.1,337.2 C933.3,337.4 934.5,338.2 935.6,337.8 C936.8,337.4 938.0,335.3 939.1,334.7 C940.3,334.2 941.5,334.5 942.6,334.5 C943.8,334.5 945.0,334.4 946.1,334.6 C947.3,334.8 948.5,335.3 949.6,335.5 C950.8,335.7 952.0,336.1 953.1,336.1 C954.3,336.0 955.5,335.7 956.6,335.2 C957.8,334.8 959.0,333.3 960.1,333.4 C961.3,333.5 962.5,336.0 963.6,335.8 C964.8,335.7 966.0,332.9 967.1,332.5 C968.3,332.1 969.5,333.8 970.6,333.6 C971.8,333.5 973.0,332.1 974.1,331.8 C975.3,331.5 976.5,331.8 977.6,331.7 C978.8,331.7 980.0,331.4 981.1,331.5 C982.3,331.5 983.5,331.9 984.6,332.2 C985.8,332.5 987.0,333.3 988.1,333.4 C989.3,333.5 990.5,333.1 991.6,332.8 C992.8,332.5 994.0,331.4 995.1,331.8 C996.3,332.1 997.5,334.5 998.6,335.1 C999.8,335.7 1001.0,335.6 1002.1,335.3 C1003.3,335.1 1004.5,333.8 1005.6,333.8 C1006.8,333.7 1008.0,334.9 1009.1,335.2 C1010.3,335.6 1011.5,335.9 1012.6,335.8 C1013.8,335.8 1015.0,335.1 1016.1,335.1 C1017.3,335.2 1018.5,335.6 1019.6,336.2 C1020.8,336.7 1022.0,338.1 1023.1,338.3 C1024.3,338.4 1025.5,337.4 1026.6,337.2 C1027.8,337.0 1029.0,337.0 1030.1,337.1 C1031.3,337.2 1032.5,337.6 1033.6,337.8 C1034.8,338.1 1036.0,338.5 1037.1,338.5 C1038.3,338.6 1039.5,338.0 1040.6,337.9 C1041.8,337.9 1043.0,338.0 1044.1,338.4 C1045.3,338.8 1046.5,340.4 1047.6,340.3 C1048.8,340.3 1050.0,338.1 1051.1,337.9 C1052.3,337.8 1053.5,339.4 1054.6,339.4 C1055.8,339.4 1057.0,338.1 1058.1,337.9 C1059.3,337.8 1060.5,337.9 1061.6,338.5 C1062.8,339.1 1064.0,341.3 1065.1,341.4 C1066.3,341.6 1067.5,339.5 1068.6,339.4 C1069.8,339.4 1071.0,341.3 1072.1,341.4 C1073.3,341.4 1074.5,339.5 1075.6,339.7 C1076.8,339.8 1078.0,341.7 1079.1,342.2 C1080.3,342.6 1081.5,342.2 1082.6,342.4 C1083.8,342.6 1085.0,343.6 1086.1,343.4 C1087.3,343.1 1088.5,341.2 1089.6,341.0 C1090.8,340.9 1092.0,342.2 1093.1,342.3 C1094.3,342.4 1095.5,341.7 1096.6,341.6 C1097.8,341.6 1099.0,342.0 1100.1,342.2 C1101.3,342.4 1102.5,342.8 1103.6,342.9 C1104.8,342.9 1106.0,342.3 1107.1,342.4 C1108.3,342.4 1109.5,342.7 1110.6,343.2 C1111.8,343.6 1113.0,345.0 1114.1,345.1 C1115.3,345.1 1116.5,343.9 1117.6,343.5 C1118.8,343.1 1120.0,342.8 1121.1,342.7 C1122.3,342.6 1123.5,342.4 1124.6,342.6 C1125.8,342.9 1127.0,343.9 1128.1,344.1 C1129.3,344.3 1130.5,343.8 1131.6,344.0 C1132.8,344.2 1134.0,345.2 1135.1,345.3 C1136.3,345.5 1137.5,345.3 1138.6,345.1 C1139.8,344.9 1141.0,344.6 1142.1,344.2 C1143.3,343.8 1144.5,342.9 1145.6,342.5 C1146.8,342.2 1148.0,342.0 1149.1,342.0 C1150.3,341.9 1151.5,342.3 1152.6,342.4 C1153.8,342.6 1155.0,343.0 1156.1,343.0 C1157.3,343.1 1158.5,342.7 1159.6,342.8 C1160.8,342.9 1162.0,343.4 1163.1,343.5 C1164.3,343.6 1165.5,343.2 1166.6,343.4 C1167.8,343.6 1169.0,344.9 1170.1,344.6 C1171.3,344.3 1172.5,341.9 1173.6,341.7 C1174.8,341.6 1176.0,343.1 1177.1,343.6 C1178.3,344.1 1179.5,344.9 1180.6,344.6 C1181.8,344.3 1183.0,341.9 1184.1,341.8 C1185.3,341.8 1186.5,344.1 1187.6,344.1 C1188.8,344.1 1190.0,342.4 1191.1,342.1 C1192.3,341.7 1193.5,341.9 1194.6,341.9 C1195.8,341.8 1197.0,341.5 1198.1,341.8 C1199.3,342.0 1200.5,343.3 1201.6,343.3 C1202.8,343.2 1204.0,341.8 1205.1,341.6 C1206.3,341.4 1207.5,341.9 1208.6,342.1 C1209.8,342.2 1211.0,342.3 1212.1,342.5 C1213.3,342.8 1214.5,343.6 1215.6,343.5 C1216.8,343.3 1218.0,341.7 1219.1,341.6 C1220.3,341.4 1221.5,342.4 1222.6,342.5 C1223.8,342.7 1225.0,342.6 1226.1,342.4 C1227.3,342.2 1228.5,341.3 1229.6,341.3 C1230.8,341.3 1232.0,342.4 1233.1,342.7 C1234.3,342.9 1235.5,343.2 1236.6,342.8 C1237.8,342.3 1239.0,340.2 1240.1,339.7 C1241.3,339.2 1242.5,339.3 1243.6,339.7 C1244.8,340.1 1246.0,341.8 1247.1,342.0 C1248.3,342.2 1249.5,341.2 1250.6,340.9 C1251.8,340.6 1253.0,340.5 1254.1,340.1 C1255.3,339.8 1256.5,338.7 1257.6,338.8 C1258.8,338.9 1260.0,340.9 1261.1,340.8 C1262.3,340.8 1263.5,338.6 1264.6,338.6 C1265.8,338.6 1267.0,341.0 1268.1,341.0 C1269.3,341.0 1270.5,338.6 1271.6,338.6 C1272.8,338.6 1274.0,340.9 1275.1,341.0 C1276.3,341.1 1277.5,339.8 1278.6,339.4 C1279.8,338.9 1281.0,338.5 1282.1,338.6 C1283.3,338.6 1284.5,339.9 1285.6,339.8 C1286.8,339.7 1288.0,338.2 1289.1,338.1 C1290.3,337.9 1291.5,339.1 1292.6,339.1 C1293.8,339.1 1295.0,338.2 1296.1,338.3 C1297.3,338.4 1298.5,339.5 1299.6,339.7 C1300.8,339.9 1302.0,339.7 1303.1,339.7 C1304.3,339.7 1305.5,339.8 1306.6,339.7 C1307.8,339.6 1309.0,339.2 1310.1,339.1 C1311.3,339.0 1312.5,339.0 1313.6,339.3 C1314.8,339.6 1316.0,340.7 1317.1,341.0 C1318.3,341.3 1319.5,341.6 1320.6,341.3 C1321.8,341.0 1323.0,339.5 1324.1,339.2 C1325.3,338.9 1326.5,339.2 1327.6,339.6 C1328.8,340.0 1330.0,341.3 1331.1,341.5 C1332.3,341.7 1333.5,341.1 1334.6,341.0 C1335.8,340.9 1337.0,341.0 1338.1,341.0 C1339.3,341.0 1340.5,341.2 1341.6,341.2 C1342.8,341.2 1344.0,341.4 1345.1,341.0 C1346.3,340.6 1347.5,339.0 1348.6,338.8 C1349.8,338.7 1351.0,339.7 1352.1,340.0 C1353.3,340.3 1354.5,340.5 1355.6,340.5 C1356.8,340.6 1358.0,340.3 1359.1,340.4 C1360.3,340.5 1361.5,341.2 1362.6,341.3 C1363.8,341.4 1365.0,340.8 1366.1,340.9 C1367.3,341.0 1368.5,342.0 1369.6,341.9 C1370.8,341.8 1372.0,340.6 1373.1,340.2 C1374.3,339.8 1375.5,339.3 1376.6,339.4 C1377.8,339.4 1379.0,339.8 1380.1,340.3 C1381.3,340.8 1382.5,342.1 1383.6,342.3 C1384.8,342.5 1386.0,342.0 1387.1,341.5 C1388.3,341.1 1389.5,339.7 1390.6,339.7 C1391.8,339.7 1393.0,341.1 1394.1,341.5 C1395.3,341.8 1396.5,341.8 1397.6,341.8 C1398.8,341.7 1400.0,341.2 1401.1,341.1 C1402.3,341.0 1403.5,341.3 1404.6,341.2 C1405.8,341.1 1407.0,340.4 1408.1,340.5 C1409.3,340.7 1410.5,341.9 1411.6,342.0 C1412.8,342.1 1414.0,341.4 1415.1,341.2 C1416.3,341.0 1417.5,340.6 1418.6,340.8 C1419.8,341.0 1421.0,342.4 1422.1,342.3 C1423.3,342.2 1424.5,340.3 1425.6,340.4 C1426.8,340.5 1428.0,342.7 1429.1,342.7 C1430.3,342.6 1431.5,340.8 1432.6,340.3 C1433.8,339.7 1435.0,339.5 1436.1,339.5 C1437.3,339.5 1438.5,339.9 1439.6,340.2 C1440.8,340.5 1442.0,341.6 1443.1,341.6 C1444.3,341.5 1445.5,340.3 1446.6,340.2 C1447.8,340.0 1449.0,340.2 1450.1,340.6 C1451.3,341.0 1452.5,342.2 1453.6,342.5 C1454.8,342.8 1456.0,342.8 1457.1,342.5 C1458.3,342.3 1459.5,341.2 1460.6,341.2 C1461.8,341.1 1463.0,342.3 1464.1,342.4 C1465.3,342.6 1466.5,342.3 1467.6,341.9 C1468.8,341.5 1470.0,340.4 1471.1,340.2 C1472.3,340.0 1473.5,340.4 1474.6,340.8 C1475.8,341.1 1477.0,342.6 1478.1,342.4 C1479.3,342.3 1480.5,340.1 1481.6,340.1 C1482.8,340.1 1484.0,342.0 1485.1,342.4 C1486.3,342.8 1487.5,342.5 1488.6,342.5 C1489.8,342.5 1491.0,342.3 1492.1,342.3 C1493.3,342.4 1494.5,343.1 1495.6,342.9 C1496.8,342.6 1498.0,341.0 1499.1,340.9 C1500.3,340.8 1501.5,342.3 1502.6,342.3 C1503.8,342.2 1505.0,340.3 1506.1,340.4 C1507.3,340.5 1508.5,342.4 1509.6,342.7 C1510.8,342.9 1512.0,342.1 1513.1,341.9 C1514.3,341.6 1515.5,341.5 1516.6,341.3 C1517.8,341.2 1519.0,340.9 1520.1,340.9 C1521.3,340.9 1522.5,341.3 1523.6,341.4 C1524.8,341.5 1526.0,341.3 1527.1,341.5 C1528.3,341.7 1529.5,342.5 1530.6,342.6 C1531.8,342.7 1533.0,342.0 1534.1,341.9 C1535.3,341.9 1536.5,342.2 1537.6,342.4 C1538.8,342.5 1540.0,342.8 1541.1,342.9 C1542.3,342.9 1543.5,342.4 1544.6,342.5 C1545.8,342.7 1547.0,343.8 1548.1,343.8 C1549.3,343.7 1551.0,342.5 1551.6,342.2" fill="none" stroke="#7ED3C9" stroke-width="4.0" stroke-linejoin="round"/>
<path d="M131.0,545.6 C142.5,545.6 171.8,545.6 200.0,545.4 C228.2,545.2 270.0,545.1 300.0,544.6 C330.0,544.1 359.0,543.1 380.0,542.4 C401.0,541.7 410.6,541.5 425.9,540.6 C441.2,539.7 459.0,538.4 471.8,537.0 C484.6,535.6 493.6,534.2 502.5,532.5 C511.4,530.8 519.0,529.1 525.4,527.0 C531.8,524.9 535.6,522.9 540.7,520.0 C545.8,517.1 551.4,513.4 556.0,509.5 C560.6,505.6 564.7,501.1 568.3,496.5 C571.9,491.9 575.0,486.4 577.5,482.0 C580.0,477.6 580.9,477.0 583.1,470.0 C585.4,463.0 588.1,451.2 591.0,440.0 C593.9,428.8 597.7,416.4 600.4,403.0 C603.1,389.6 605.4,371.4 607.2,359.5 C609.0,347.6 609.7,339.5 611.0,331.4 C612.3,323.4 613.4,317.2 614.8,311.0 C616.3,304.9 618.5,297.8 619.9,294.4 C621.4,291.0 622.1,291.2 623.8,290.6 C625.5,290.0 628.2,289.8 630.2,290.6 C632.1,291.5 633.3,293.3 635.3,295.7 C637.2,298.1 640.0,302.2 641.6,304.9 C643.3,307.7 644.0,310.4 645.1,312.1 C646.3,313.8 647.5,313.9 648.6,315.1 C649.8,316.3 651.0,318.8 652.1,319.5 C653.3,320.1 654.5,318.4 655.6,319.1 C656.8,319.7 658.0,321.8 659.1,323.2 C660.3,324.6 661.5,325.8 662.6,327.4 C663.8,329.1 665.0,331.7 666.1,333.1 C667.3,334.5 668.5,335.4 669.6,335.9 C670.8,336.3 672.0,335.6 673.1,335.9 C674.3,336.2 675.5,337.0 676.6,337.7 C677.8,338.4 679.0,340.1 680.1,340.3 C681.3,340.5 682.5,339.2 683.6,338.9 C684.8,338.7 686.0,338.9 687.1,339.0 C688.3,339.1 689.5,339.5 690.6,339.6 C691.8,339.7 693.0,339.7 694.1,339.7 C695.3,339.7 696.5,339.6 697.6,339.5 C698.8,339.5 700.0,339.2 701.1,339.2 C702.3,339.2 703.5,339.3 704.6,339.6 C705.8,339.8 707.0,340.2 708.1,340.4 C709.3,340.7 710.5,340.9 711.6,341.1 C712.8,341.2 714.0,341.4 715.1,341.3 C716.3,341.3 717.5,340.8 718.6,340.8 C719.8,340.7 721.0,341.1 722.1,340.9 C723.3,340.8 724.5,339.5 725.6,339.7 C726.8,339.9 728.0,342.0 729.1,342.3 C730.3,342.6 731.5,341.9 732.6,341.6 C733.8,341.4 735.0,340.2 736.1,340.6 C737.3,340.9 738.5,343.4 739.6,343.9 C740.8,344.4 742.0,343.6 743.1,343.7 C744.3,343.8 745.5,344.4 746.6,344.3 C747.8,344.1 749.0,343.1 750.1,342.8 C751.3,342.6 752.5,342.7 753.6,343.0 C754.8,343.3 756.0,344.6 757.1,344.9 C758.3,345.1 759.5,344.7 760.6,344.5 C761.8,344.2 763.0,343.2 764.1,343.3 C765.3,343.3 766.5,344.7 767.6,344.8 C768.8,344.9 770.0,344.4 771.1,343.8 C772.3,343.2 773.5,341.8 774.6,341.4 C775.8,341.1 777.0,342.0 778.1,341.7 C779.3,341.5 780.5,340.5 781.6,340.0 C782.8,339.5 784.0,338.9 785.1,338.8 C786.3,338.6 787.5,338.9 788.6,338.9 C789.8,338.9 791.0,339.1 792.1,338.7 C793.3,338.3 794.5,336.8 795.6,336.7 C796.8,336.5 798.0,338.2 799.1,338.1 C800.3,337.9 801.5,336.1 802.6,335.6 C803.8,335.1 805.0,335.1 806.1,335.2 C807.3,335.3 808.5,336.4 809.6,336.4 C810.8,336.3 812.0,335.2 813.1,334.9 C814.3,334.6 815.5,334.8 816.6,334.6 C817.8,334.3 819.0,333.3 820.1,333.5 C821.3,333.7 822.5,335.4 823.6,335.7 C824.8,335.9 826.0,335.0 827.1,335.0 C828.3,335.0 829.5,335.1 830.6,335.5 C831.8,336.0 833.0,337.6 834.1,337.6 C835.3,337.7 836.5,335.7 837.6,335.8 C838.8,335.8 840.0,337.5 841.1,337.7 C842.3,337.9 843.5,337.0 844.6,337.1 C845.8,337.2 847.0,338.1 848.1,338.4 C849.3,338.8 850.5,339.2 851.6,339.2 C852.8,339.2 854.0,338.7 855.1,338.5 C856.3,338.2 857.5,337.9 858.6,337.9 C859.8,337.9 861.0,338.3 862.1,338.3 C863.3,338.3 864.5,337.5 865.6,337.9 C866.8,338.3 868.0,340.3 869.1,340.4 C870.3,340.6 871.5,339.2 872.6,339.0 C873.8,338.8 875.0,338.9 876.1,339.2 C877.3,339.6 878.5,340.9 879.6,341.0 C880.8,341.0 882.0,340.0 883.1,339.8 C884.3,339.6 885.5,339.7 886.6,340.0 C887.8,340.3 889.0,341.7 890.1,341.8 C891.3,341.8 892.5,340.3 893.6,340.1 C894.8,339.9 896.0,340.6 897.1,340.7 C898.3,340.7 899.5,340.5 900.6,340.5 C901.8,340.5 903.0,340.6 904.1,340.7 C905.3,340.9 906.5,341.5 907.6,341.3 C908.8,341.2 910.0,340.0 911.1,339.8 C912.3,339.6 913.5,340.0 914.6,340.2 C915.8,340.4 917.0,341.1 918.1,340.9 C919.3,340.7 920.5,339.1 921.6,338.8 C922.8,338.4 924.0,339.5 925.1,338.9 C926.3,338.3 927.5,336.0 928.6,335.2 C929.8,334.4 931.0,334.0 932.1,334.1 C933.3,334.2 934.5,335.6 935.6,335.8 C936.8,336.0 938.0,335.2 939.1,335.1 C940.3,335.1 941.5,335.8 942.6,335.5 C943.8,335.3 945.0,334.1 946.1,333.6 C947.3,333.1 948.5,332.6 949.6,332.5 C950.8,332.4 952.0,332.9 953.1,333.0 C954.3,333.0 955.5,332.6 956.6,332.9 C957.8,333.1 959.0,334.4 960.1,334.3 C961.3,334.1 962.5,332.3 963.6,332.0 C964.8,331.6 966.0,332.1 967.1,332.2 C968.3,332.3 969.5,332.8 970.6,332.5 C971.8,332.1 973.0,330.4 974.1,330.0 C975.3,329.6 976.5,329.7 977.6,330.1 C978.8,330.5 980.0,332.2 981.1,332.5 C982.3,332.9 983.5,332.5 984.6,332.3 C985.8,332.0 987.0,331.5 988.1,331.1 C989.3,330.8 990.5,329.8 991.6,330.0 C992.8,330.2 994.0,331.9 995.1,332.2 C996.3,332.4 997.5,331.5 998.6,331.7 C999.8,331.9 1001.0,333.0 1002.1,333.2 C1003.3,333.5 1004.5,333.3 1005.6,333.2 C1006.8,333.0 1008.0,332.0 1009.1,332.4 C1010.3,332.7 1011.5,335.1 1012.6,335.3 C1013.8,335.5 1015.0,333.4 1016.1,333.4 C1017.3,333.4 1018.5,334.8 1019.6,335.3 C1020.8,335.8 1022.0,336.2 1023.1,336.5 C1024.3,336.9 1025.5,337.3 1026.6,337.4 C1027.8,337.5 1029.0,337.4 1030.1,337.3 C1031.3,337.3 1032.5,337.5 1033.6,337.2 C1034.8,337.0 1036.0,336.0 1037.1,335.9 C1038.3,335.7 1039.5,335.8 1040.6,336.2 C1041.8,336.5 1043.0,337.8 1044.1,337.8 C1045.3,337.8 1046.5,336.2 1047.6,336.1 C1048.8,336.0 1050.0,336.8 1051.1,337.2 C1052.3,337.6 1053.5,338.6 1054.6,338.5 C1055.8,338.5 1057.0,337.2 1058.1,336.9 C1059.3,336.6 1060.5,336.7 1061.6,336.8 C1062.8,337.0 1064.0,337.3 1065.1,337.8 C1066.3,338.3 1067.5,339.9 1068.6,340.0 C1069.8,340.1 1071.0,338.7 1072.1,338.4 C1073.3,338.2 1074.5,338.4 1075.6,338.4 C1076.8,338.5 1078.0,338.5 1079.1,338.6 C1080.3,338.7 1081.5,338.6 1082.6,339.1 C1083.8,339.6 1085.0,341.5 1086.1,341.8 C1087.3,342.1 1088.5,340.7 1089.6,340.8 C1090.8,340.9 1092.0,342.0 1093.1,342.3 C1094.3,342.6 1095.5,342.8 1096.6,342.6 C1097.8,342.4 1099.0,341.3 1100.1,341.2 C1101.3,341.1 1102.5,342.0 1103.6,341.9 C1104.8,341.9 1106.0,340.8 1107.1,340.8 C1108.3,340.8 1109.5,342.1 1110.6,342.1 C1111.8,342.1 1113.0,340.9 1114.1,341.0 C1115.3,341.0 1116.5,342.3 1117.6,342.3 C1118.8,342.4 1120.0,341.3 1121.1,341.1 C1122.3,341.0 1123.5,341.1 1124.6,341.3 C1125.8,341.4 1127.0,341.8 1128.1,342.1 C1129.3,342.5 1130.5,343.3 1131.6,343.2 C1132.8,343.1 1134.0,342.0 1135.1,341.8 C1136.3,341.5 1137.5,341.5 1138.6,341.5 C1139.8,341.5 1141.0,341.8 1142.1,341.7 C1143.3,341.6 1144.5,340.9 1145.6,341.0 C1146.8,341.0 1148.0,341.9 1149.1,341.9 C1150.3,341.8 1151.5,340.8 1152.6,340.7 C1153.8,340.6 1155.0,340.9 1156.1,341.3 C1157.3,341.6 1158.5,342.3 1159.6,342.6 C1160.8,342.9 1162.0,343.4 1163.1,343.0 C1164.3,342.6 1165.5,340.7 1166.6,340.3 C1167.8,339.8 1169.0,340.0 1170.1,340.3 C1171.3,340.6 1172.5,341.7 1173.6,342.1 C1174.8,342.5 1176.0,342.4 1177.1,342.5 C1178.3,342.6 1179.5,342.5 1180.6,342.6 C1181.8,342.6 1183.0,343.0 1184.1,342.6 C1185.3,342.2 1186.5,340.4 1187.6,340.2 C1188.8,340.1 1190.0,341.3 1191.1,341.7 C1192.3,342.2 1193.5,342.5 1194.6,342.7 C1195.8,343.0 1197.0,343.3 1198.1,343.1 C1199.3,342.8 1200.5,341.6 1201.6,341.1 C1202.8,340.6 1204.0,340.3 1205.1,340.2 C1206.3,340.1 1207.5,340.3 1208.6,340.3 C1209.8,340.3 1211.0,340.0 1212.1,340.1 C1213.3,340.1 1214.5,340.7 1215.6,340.6 C1216.8,340.5 1218.0,339.5 1219.1,339.5 C1220.3,339.5 1221.5,340.5 1222.6,340.6 C1223.8,340.7 1225.0,340.0 1226.1,340.0 C1227.3,340.1 1228.5,340.7 1229.6,340.8 C1230.8,340.9 1232.0,340.3 1233.1,340.4 C1234.3,340.4 1235.5,341.2 1236.6,341.2 C1237.8,341.3 1239.0,340.8 1240.1,340.7 C1241.3,340.7 1242.5,341.2 1243.6,340.9 C1244.8,340.7 1246.0,339.5 1247.1,339.2 C1248.3,338.9 1249.5,339.3 1250.6,339.1 C1251.8,338.9 1253.0,338.1 1254.1,338.2 C1255.3,338.2 1256.5,339.2 1257.6,339.5 C1258.8,339.7 1260.0,339.9 1261.1,339.8 C1262.3,339.8 1263.5,339.5 1264.6,339.3 C1265.8,339.1 1267.0,338.9 1268.1,338.6 C1269.3,338.3 1270.5,337.8 1271.6,337.6 C1272.8,337.4 1274.0,337.4 1275.1,337.4 C1276.3,337.4 1277.5,337.3 1278.6,337.4 C1279.8,337.4 1281.0,337.5 1282.1,337.6 C1283.3,337.8 1284.5,338.1 1285.6,338.3 C1286.8,338.4 1288.0,338.2 1289.1,338.3 C1290.3,338.4 1291.5,339.3 1292.6,339.0 C1293.8,338.8 1295.0,336.6 1296.1,336.6 C1297.3,336.7 1298.5,338.9 1299.6,339.1 C1300.8,339.4 1302.0,338.5 1303.1,338.3 C1304.3,338.1 1305.5,337.9 1306.6,338.1 C1307.8,338.4 1309.0,339.7 1310.1,339.9 C1311.3,340.1 1312.5,339.2 1313.6,339.1 C1314.8,339.0 1316.0,339.6 1317.1,339.4 C1318.3,339.2 1319.5,338.3 1320.6,337.9 C1321.8,337.6 1323.0,337.1 1324.1,337.3 C1325.3,337.6 1326.5,339.1 1327.6,339.3 C1328.8,339.5 1330.0,339.0 1331.1,338.7 C1332.3,338.4 1333.5,337.5 1334.6,337.6 C1335.8,337.6 1337.0,338.6 1338.1,338.9 C1339.3,339.2 1340.5,339.3 1341.6,339.6 C1342.8,339.8 1344.0,340.4 1345.1,340.5 C1346.3,340.6 1347.5,340.8 1348.6,340.5 C1349.8,340.1 1351.0,338.2 1352.1,338.1 C1353.3,338.1 1354.5,339.6 1355.6,339.9 C1356.8,340.2 1358.0,340.3 1359.1,340.0 C1360.3,339.8 1361.5,338.7 1362.6,338.5 C1363.8,338.2 1365.0,338.4 1366.1,338.3 C1367.3,338.2 1368.5,337.7 1369.6,337.8 C1370.8,338.0 1372.0,338.8 1373.1,339.1 C1374.3,339.5 1375.5,339.8 1376.6,339.9 C1377.8,339.9 1379.0,339.6 1380.1,339.6 C1381.3,339.5 1382.5,339.7 1383.6,339.5 C1384.8,339.4 1386.0,338.7 1387.1,338.5 C1388.3,338.4 1389.5,338.5 1390.6,338.6 C1391.8,338.7 1393.0,339.0 1394.1,339.1 C1395.3,339.2 1396.5,339.2 1397.6,339.1 C1398.8,339.0 1400.0,338.3 1401.1,338.5 C1402.3,338.7 1403.5,340.2 1404.6,340.2 C1405.8,340.1 1407.0,338.2 1408.1,338.2 C1409.3,338.1 1410.5,339.9 1411.6,339.9 C1412.8,339.9 1414.0,338.5 1415.1,338.3 C1416.3,338.1 1417.5,338.3 1418.6,338.6 C1419.8,339.0 1421.0,340.2 1422.1,340.6 C1423.3,341.0 1424.5,341.1 1425.6,340.9 C1426.8,340.6 1428.0,339.4 1429.1,339.2 C1430.3,339.0 1431.5,339.7 1432.6,339.6 C1433.8,339.6 1435.0,339.0 1436.1,338.7 C1437.3,338.5 1438.5,338.1 1439.6,338.2 C1440.8,338.3 1442.0,338.9 1443.1,339.3 C1444.3,339.7 1445.5,340.4 1446.6,340.6 C1447.8,340.7 1449.0,340.6 1450.1,340.4 C1451.3,340.1 1452.5,338.7 1453.6,338.8 C1454.8,339.0 1456.0,340.8 1457.1,341.1 C1458.3,341.4 1459.5,341.2 1460.6,340.8 C1461.8,340.3 1463.0,338.5 1464.1,338.4 C1465.3,338.3 1466.5,339.9 1467.6,340.1 C1468.8,340.3 1470.0,339.8 1471.1,339.8 C1472.3,339.8 1473.5,340.2 1474.6,340.3 C1475.8,340.3 1477.0,340.2 1478.1,340.1 C1479.3,339.9 1480.5,339.3 1481.6,339.4 C1482.8,339.5 1484.0,340.4 1485.1,340.6 C1486.3,340.7 1487.5,340.3 1488.6,340.5 C1489.8,340.6 1491.0,341.5 1492.1,341.7 C1493.3,341.9 1494.5,341.8 1495.6,341.4 C1496.8,341.0 1498.0,339.6 1499.1,339.2 C1500.3,338.7 1501.5,338.8 1502.6,338.8 C1503.8,338.9 1505.0,339.3 1506.1,339.5 C1507.3,339.6 1508.5,339.6 1509.6,339.7 C1510.8,339.9 1512.0,340.6 1513.1,340.5 C1514.3,340.4 1515.5,339.1 1516.6,339.1 C1517.8,339.1 1519.0,340.4 1520.1,340.6 C1521.3,340.9 1522.5,340.6 1523.6,340.7 C1524.8,340.8 1526.0,341.1 1527.1,341.3 C1528.3,341.4 1529.5,341.9 1530.6,341.7 C1531.8,341.5 1533.0,340.2 1534.1,340.2 C1535.3,340.1 1536.5,341.1 1537.6,341.2 C1538.8,341.4 1540.0,341.3 1541.1,341.0 C1542.3,340.7 1543.5,339.7 1544.6,339.7 C1545.8,339.6 1547.0,340.8 1548.1,340.9 C1549.3,340.9 1551.0,340.2 1551.6,340.0" fill="none" stroke="#E8774F" stroke-width="4.0" stroke-linejoin="round"/>
<path d="M131.0,545.6 C142.5,545.6 171.8,545.6 200.0,545.4 C228.2,545.2 270.0,545.1 300.0,544.6 C330.0,544.1 359.0,543.1 380.0,542.4 C401.0,541.7 410.6,541.5 425.9,540.6 C441.2,539.7 459.0,538.4 471.8,537.0 C484.6,535.6 493.6,534.2 502.5,532.5 C511.4,530.8 519.0,529.1 525.4,527.0 C531.8,524.9 535.6,522.9 540.7,520.0 C545.8,517.1 551.4,513.4 556.0,509.5 C560.6,505.6 564.7,501.1 568.3,496.5 C571.9,491.9 575.0,486.4 577.5,482.0 C580.0,477.6 580.9,477.0 583.1,470.0 C585.4,463.0 588.1,451.2 591.0,440.0 C593.9,428.8 597.7,416.4 600.4,403.0 C603.1,389.6 605.4,371.4 607.2,359.5 C609.0,347.6 609.7,339.5 611.0,331.4 C612.3,323.4 613.4,317.2 614.8,311.0 C616.3,304.9 618.5,297.8 619.9,294.4 C621.4,291.0 622.1,291.2 623.8,290.6 C625.5,290.0 628.2,289.8 630.2,290.6 C632.1,291.5 633.3,293.1 635.3,295.7 C637.2,298.4 640.0,303.9 641.6,306.5 C643.3,309.1 644.0,309.6 645.1,311.4 C646.3,313.2 647.5,315.9 648.6,317.3 C649.8,318.8 651.0,319.3 652.1,320.0 C653.3,320.6 654.5,320.2 655.6,321.1 C656.8,322.0 658.0,323.9 659.1,325.4 C660.3,326.9 661.5,328.8 662.6,330.3 C663.8,331.7 665.0,332.9 666.1,334.1 C667.3,335.2 668.5,336.6 669.6,337.2 C670.8,337.9 672.0,337.3 673.1,337.9 C674.3,338.5 675.5,340.3 676.6,340.8 C677.8,341.2 679.0,340.6 680.1,340.7 C681.3,340.7 682.5,340.9 683.6,341.1 C684.8,341.4 686.0,342.3 687.1,342.3 C688.3,342.4 689.5,341.4 690.6,341.3 C691.8,341.2 693.0,341.5 694.1,341.7 C695.3,341.9 696.5,342.7 697.6,342.5 C698.8,342.3 700.0,340.5 701.1,340.4 C702.3,340.2 703.5,341.5 704.6,341.7 C705.8,341.8 707.0,341.2 708.1,341.5 C709.3,341.7 710.5,342.7 711.6,343.0 C712.8,343.4 714.0,343.5 715.1,343.6 C716.3,343.7 717.5,343.6 718.6,343.5 C719.8,343.4 721.0,343.2 722.1,343.0 C723.3,342.8 724.5,342.4 725.6,342.1 C726.8,341.9 728.0,341.4 729.1,341.6 C730.3,341.8 731.5,343.1 732.6,343.5 C733.8,343.8 735.0,343.9 736.1,343.9 C737.3,343.8 738.5,342.7 739.6,343.0 C740.8,343.3 742.0,345.4 743.1,345.6 C744.3,345.8 745.5,344.4 746.6,344.2 C747.8,344.0 749.0,344.1 750.1,344.6 C751.3,345.0 752.5,346.5 753.6,346.8 C754.8,347.1 756.0,346.7 757.1,346.4 C758.3,346.1 759.5,345.3 760.6,345.0 C761.8,344.8 763.0,345.0 764.1,344.8 C765.3,344.7 766.5,344.2 767.6,344.1 C768.8,344.0 770.0,344.5 771.1,344.3 C772.3,344.1 773.5,343.2 774.6,342.8 C775.8,342.4 777.0,342.0 778.1,341.7 C779.3,341.5 780.5,341.5 781.6,341.3 C782.8,341.1 784.0,340.4 785.1,340.4 C786.3,340.5 787.5,341.7 788.6,341.5 C789.8,341.3 791.0,340.0 792.1,339.3 C793.3,338.7 794.5,337.9 795.6,337.7 C796.8,337.4 798.0,337.6 799.1,337.8 C800.3,338.1 801.5,338.9 802.6,339.0 C803.8,339.1 805.0,338.7 806.1,338.3 C807.3,338.0 808.5,337.1 809.6,337.0 C810.8,336.9 812.0,338.1 813.1,337.8 C814.3,337.5 815.5,335.7 816.6,335.2 C817.8,334.7 819.0,334.4 820.1,334.8 C821.3,335.1 822.5,337.2 823.6,337.4 C824.8,337.5 826.0,335.6 827.1,335.5 C828.3,335.4 829.5,336.1 830.6,336.6 C831.8,337.0 833.0,338.0 834.1,338.4 C835.3,338.8 836.5,338.9 837.6,339.0 C838.8,339.0 840.0,338.9 841.1,338.9 C842.3,339.0 843.5,338.8 844.6,339.3 C845.8,339.7 847.0,341.5 848.1,341.5 C849.3,341.4 850.5,339.2 851.6,339.1 C852.8,339.1 854.0,341.1 855.1,341.1 C856.3,341.1 857.5,339.0 858.6,339.2 C859.8,339.3 861.0,341.4 862.1,342.0 C863.3,342.6 864.5,342.6 865.6,342.6 C866.8,342.5 868.0,341.7 869.1,341.7 C870.3,341.6 871.5,342.2 872.6,342.2 C873.8,342.2 875.0,341.6 876.1,341.6 C877.3,341.7 878.5,342.7 879.6,342.6 C880.8,342.5 882.0,340.7 883.1,340.8 C884.3,341.0 885.5,343.4 886.6,343.4 C887.8,343.4 889.0,341.2 890.1,341.0 C891.3,340.8 892.5,342.0 893.6,342.1 C894.8,342.1 896.0,341.3 897.1,341.2 C898.3,341.1 899.5,341.2 900.6,341.6 C901.8,342.0 903.0,343.7 904.1,343.7 C905.3,343.6 906.5,341.5 907.6,341.5 C908.8,341.4 910.0,343.2 911.1,343.5 C912.3,343.8 913.5,343.5 914.6,343.3 C915.8,343.1 917.0,343.1 918.1,342.3 C919.3,341.6 920.5,339.6 921.6,339.0 C922.8,338.3 924.0,338.8 925.1,338.6 C926.3,338.5 927.5,338.4 928.6,338.1 C929.8,337.9 931.0,337.2 932.1,337.2 C933.3,337.2 934.5,338.5 935.6,338.3 C936.8,338.2 938.0,336.7 939.1,336.4 C940.3,336.2 941.5,337.0 942.6,336.9 C943.8,336.7 945.0,335.8 946.1,335.4 C947.3,335.0 948.5,334.6 949.6,334.5 C950.8,334.4 952.0,334.8 953.1,335.0 C954.3,335.1 955.5,335.1 956.6,335.3 C957.8,335.4 959.0,335.6 960.1,335.6 C961.3,335.6 962.5,335.2 963.6,335.1 C964.8,335.0 966.0,334.9 967.1,334.9 C968.3,335.0 969.5,335.8 970.6,335.3 C971.8,334.8 973.0,332.2 974.1,331.9 C975.3,331.6 976.5,333.7 977.6,333.5 C978.8,333.4 980.0,331.5 981.1,331.1 C982.3,330.8 983.5,331.3 984.6,331.4 C985.8,331.5 987.0,331.7 988.1,331.8 C989.3,331.9 990.5,331.8 991.6,332.0 C992.8,332.2 994.0,333.0 995.1,333.1 C996.3,333.2 997.5,332.8 998.6,332.8 C999.8,332.9 1001.0,333.3 1002.1,333.5 C1003.3,333.7 1004.5,333.3 1005.6,333.9 C1006.8,334.4 1008.0,336.4 1009.1,336.8 C1010.3,337.1 1011.5,336.1 1012.6,335.9 C1013.8,335.7 1015.0,335.5 1016.1,335.5 C1017.3,335.5 1018.5,335.9 1019.6,336.0 C1020.8,336.1 1022.0,335.8 1023.1,336.1 C1024.3,336.4 1025.5,337.9 1026.6,337.9 C1027.8,337.9 1029.0,336.2 1030.1,336.4 C1031.3,336.6 1032.5,339.0 1033.6,339.2 C1034.8,339.5 1036.0,338.3 1037.1,338.0 C1038.3,337.6 1039.5,337.2 1040.6,337.2 C1041.8,337.2 1043.0,337.4 1044.1,337.9 C1045.3,338.5 1046.5,339.9 1047.6,340.3 C1048.8,340.7 1050.0,340.4 1051.1,340.2 C1052.3,340.0 1053.5,339.2 1054.6,339.3 C1055.8,339.4 1057.0,340.7 1058.1,341.0 C1059.3,341.2 1060.5,340.7 1061.6,340.8 C1062.8,341.0 1064.0,341.7 1065.1,341.9 C1066.3,342.1 1067.5,342.0 1068.6,341.9 C1069.8,341.8 1071.0,341.3 1072.1,341.4 C1073.3,341.6 1074.5,342.5 1075.6,342.8 C1076.8,343.1 1078.0,343.5 1079.1,343.2 C1080.3,343.0 1081.5,341.4 1082.6,341.2 C1083.8,341.0 1085.0,342.0 1086.1,342.1 C1087.3,342.1 1088.5,341.2 1089.6,341.3 C1090.8,341.5 1092.0,342.7 1093.1,342.8 C1094.3,342.9 1095.5,342.2 1096.6,342.0 C1097.8,341.9 1099.0,341.7 1100.1,342.0 C1101.3,342.3 1102.5,343.3 1103.6,343.8 C1104.8,344.4 1106.0,345.3 1107.1,345.3 C1108.3,345.2 1109.5,343.8 1110.6,343.5 C1111.8,343.2 1113.0,343.0 1114.1,343.3 C1115.3,343.6 1116.5,345.5 1117.6,345.5 C1118.8,345.5 1120.0,343.6 1121.1,343.3 C1122.3,343.0 1123.5,343.6 1124.6,343.6 C1125.8,343.5 1127.0,342.7 1128.1,343.0 C1129.3,343.4 1130.5,345.2 1131.6,345.5 C1132.8,345.9 1134.0,345.2 1135.1,345.0 C1136.3,344.9 1137.5,344.7 1138.6,344.7 C1139.8,344.7 1141.0,345.3 1142.1,345.2 C1143.3,345.1 1144.5,344.3 1145.6,344.3 C1146.8,344.2 1148.0,345.1 1149.1,344.9 C1150.3,344.7 1151.5,343.0 1152.6,343.0 C1153.8,343.0 1155.0,344.9 1156.1,344.9 C1157.3,345.0 1158.5,343.4 1159.6,343.2 C1160.8,343.0 1162.0,343.8 1163.1,343.8 C1164.3,343.9 1165.5,343.5 1166.6,343.5 C1167.8,343.6 1169.0,344.4 1170.1,344.3 C1171.3,344.1 1172.5,342.7 1173.6,342.7 C1174.8,342.6 1176.0,344.0 1177.1,343.9 C1178.3,343.9 1179.5,342.8 1180.6,342.6 C1181.8,342.5 1183.0,343.0 1184.1,343.2 C1185.3,343.4 1186.5,343.9 1187.6,343.8 C1188.8,343.7 1190.0,342.5 1191.1,342.5 C1192.3,342.4 1193.5,343.6 1194.6,343.6 C1195.8,343.7 1197.0,343.0 1198.1,342.9 C1199.3,342.8 1200.5,343.0 1201.6,343.1 C1202.8,343.3 1204.0,344.0 1205.1,343.9 C1206.3,343.7 1207.5,342.4 1208.6,342.4 C1209.8,342.4 1211.0,343.6 1212.1,343.7 C1213.3,343.7 1214.5,343.0 1215.6,342.8 C1216.8,342.7 1218.0,342.5 1219.1,342.7 C1220.3,342.8 1221.5,343.9 1222.6,343.7 C1223.8,343.4 1225.0,341.2 1226.1,341.2 C1227.3,341.2 1228.5,343.8 1229.6,343.7 C1230.8,343.6 1232.0,341.4 1233.1,340.8 C1234.3,340.2 1235.5,339.9 1236.6,340.2 C1237.8,340.4 1239.0,341.9 1240.1,342.2 C1241.3,342.5 1242.5,342.0 1243.6,341.8 C1244.8,341.6 1246.0,341.2 1247.1,341.0 C1248.3,340.7 1249.5,340.7 1250.6,340.5 C1251.8,340.2 1253.0,339.4 1254.1,339.7 C1255.3,339.9 1256.5,342.0 1257.6,341.9 C1258.8,341.8 1260.0,339.1 1261.1,339.0 C1262.3,338.9 1263.5,341.1 1264.6,341.4 C1265.8,341.8 1267.0,341.5 1268.1,341.1 C1269.3,340.7 1270.5,339.2 1271.6,338.9 C1272.8,338.6 1274.0,339.1 1275.1,339.5 C1276.3,339.8 1277.5,340.9 1278.6,340.9 C1279.8,341.0 1281.0,339.8 1282.1,339.8 C1283.3,339.7 1284.5,340.6 1285.6,340.7 C1286.8,340.9 1288.0,340.6 1289.1,340.6 C1290.3,340.5 1291.5,340.4 1292.6,340.6 C1293.8,340.7 1295.0,341.6 1296.1,341.3 C1297.3,341.1 1298.5,339.3 1299.6,339.1 C1300.8,338.9 1302.0,340.1 1303.1,340.0 C1304.3,339.9 1305.5,338.8 1306.6,338.6 C1307.8,338.4 1309.0,338.5 1310.1,338.7 C1311.3,339.0 1312.5,339.8 1313.6,340.1 C1314.8,340.3 1316.0,340.5 1317.1,340.3 C1318.3,340.2 1319.5,339.3 1320.6,339.1 C1321.8,339.0 1323.0,339.4 1324.1,339.5 C1325.3,339.6 1326.5,339.5 1327.6,339.7 C1328.8,339.9 1330.0,340.4 1331.1,340.5 C1332.3,340.5 1333.5,340.3 1334.6,340.1 C1335.8,340.0 1337.0,339.3 1338.1,339.5 C1339.3,339.6 1340.5,341.1 1341.6,341.0 C1342.8,341.0 1344.0,339.2 1345.1,339.3 C1346.3,339.5 1347.5,341.9 1348.6,341.9 C1349.8,341.9 1351.0,339.7 1352.1,339.4 C1353.3,339.1 1354.5,339.8 1355.6,340.1 C1356.8,340.5 1358.0,341.3 1359.1,341.6 C1360.3,342.0 1361.5,342.3 1362.6,342.3 C1363.8,342.2 1365.0,341.3 1366.1,341.3 C1367.3,341.2 1368.5,341.8 1369.6,341.9 C1370.8,342.1 1372.0,342.0 1373.1,342.0 C1374.3,342.1 1375.5,342.3 1376.6,342.3 C1377.8,342.3 1379.0,342.2 1380.1,342.1 C1381.3,342.0 1382.5,342.1 1383.6,341.8 C1384.8,341.6 1386.0,341.0 1387.1,340.8 C1388.3,340.7 1389.5,340.6 1390.6,341.0 C1391.8,341.3 1393.0,342.6 1394.1,342.9 C1395.3,343.2 1396.5,342.9 1397.6,342.7 C1398.8,342.5 1400.0,341.7 1401.1,341.5 C1402.3,341.3 1403.5,341.5 1404.6,341.4 C1405.8,341.2 1407.0,340.6 1408.1,340.5 C1409.3,340.4 1410.5,340.8 1411.6,341.0 C1412.8,341.1 1414.0,341.6 1415.1,341.5 C1416.3,341.3 1417.5,340.3 1418.6,340.1 C1419.8,339.8 1421.0,339.9 1422.1,339.9 C1423.3,339.9 1424.5,339.9 1425.6,340.3 C1426.8,340.6 1428.0,342.1 1429.1,342.2 C1430.3,342.3 1431.5,341.0 1432.6,340.8 C1433.8,340.6 1435.0,340.8 1436.1,340.9 C1437.3,341.1 1438.5,341.4 1439.6,341.6 C1440.8,341.8 1442.0,341.8 1443.1,342.0 C1444.3,342.1 1445.5,342.8 1446.6,342.6 C1447.8,342.4 1449.0,340.6 1450.1,340.5 C1451.3,340.5 1452.5,341.9 1453.6,342.1 C1454.8,342.2 1456.0,341.6 1457.1,341.4 C1458.3,341.2 1459.5,340.6 1460.6,340.7 C1461.8,340.8 1463.0,341.7 1464.1,341.9 C1465.3,342.1 1466.5,342.0 1467.6,341.8 C1468.8,341.5 1470.0,340.4 1471.1,340.6 C1472.3,340.8 1473.5,343.1 1474.6,343.0 C1475.8,343.0 1477.0,340.6 1478.1,340.3 C1479.3,339.9 1480.5,340.5 1481.6,340.7 C1482.8,340.9 1484.0,341.1 1485.1,341.4 C1486.3,341.8 1487.5,342.6 1488.6,342.8 C1489.8,343.0 1491.0,342.6 1492.1,342.5 C1493.3,342.5 1494.5,342.9 1495.6,342.6 C1496.8,342.3 1498.0,340.7 1499.1,340.8 C1500.3,340.8 1501.5,342.5 1502.6,342.8 C1503.8,343.0 1505.0,342.5 1506.1,342.3 C1507.3,342.1 1508.5,341.5 1509.6,341.4 C1510.8,341.4 1512.0,341.7 1513.1,342.0 C1514.3,342.3 1515.5,342.9 1516.6,343.0 C1517.8,343.2 1519.0,342.9 1520.1,342.7 C1521.3,342.6 1522.5,342.3 1523.6,342.0 C1524.8,341.8 1526.0,341.3 1527.1,341.2 C1528.3,341.2 1529.5,341.8 1530.6,341.9 C1531.8,341.9 1533.0,341.2 1534.1,341.2 C1535.3,341.2 1536.5,341.9 1537.6,341.9 C1538.8,341.9 1540.0,340.9 1541.1,341.3 C1542.3,341.6 1543.5,344.0 1544.6,344.1 C1545.8,344.3 1547.0,342.5 1548.1,342.2 C1549.3,341.8 1551.0,342.0 1551.6,342.0" fill="none" stroke="#E9C548" stroke-width="4.0" stroke-linejoin="round"/>
<path d="M131.0,545.6 C142.5,545.6 171.8,545.6 200.0,545.4 C228.2,545.2 270.0,545.1 300.0,544.6 C330.0,544.1 359.0,543.1 380.0,542.4 C401.0,541.7 410.6,541.5 425.9,540.6 C441.2,539.7 459.0,538.4 471.8,537.0 C484.6,535.6 493.6,534.2 502.5,532.5 C511.4,530.8 519.0,529.1 525.4,527.0 C531.8,524.9 535.6,522.9 540.7,520.0 C545.8,517.1 551.4,513.4 556.0,509.5 C560.6,505.6 564.7,501.1 568.3,496.5 C571.9,491.9 575.0,486.4 577.5,482.0 C580.0,477.6 580.9,477.0 583.1,470.0 C585.4,463.0 588.1,451.2 591.0,440.0 C593.9,428.8 597.7,416.4 600.4,403.0 C603.1,389.6 605.4,371.4 607.2,359.5 C609.0,347.6 609.7,339.5 611.0,331.4 C612.3,323.4 613.4,317.2 614.8,311.0 C616.3,304.9 618.5,297.8 619.9,294.4 C621.4,291.0 622.1,291.2 623.8,290.6 C625.5,290.0 628.2,289.8 630.2,290.6 C632.1,291.5 633.3,293.1 635.3,295.7 C637.2,298.3 640.0,303.6 641.6,306.2 C643.3,308.9 644.0,309.9 645.1,311.6 C646.3,313.4 647.5,315.5 648.6,316.9 C649.8,318.2 651.0,319.1 652.1,319.8 C653.3,320.5 654.5,320.0 655.6,320.8 C656.8,321.7 658.0,323.8 659.1,325.1 C660.3,326.4 661.5,327.0 662.6,328.5 C663.8,330.0 665.0,332.9 666.1,334.2 C667.3,335.4 668.5,335.3 669.6,336.0 C670.8,336.7 672.0,338.1 673.1,338.4 C674.3,338.8 675.5,337.7 676.6,338.2 C677.8,338.7 679.0,341.1 680.1,341.4 C681.3,341.7 682.5,340.2 683.6,340.1 C684.8,340.0 686.0,340.3 687.1,340.6 C688.3,340.8 689.5,341.5 690.6,341.7 C691.8,341.9 693.0,341.9 694.1,341.6 C695.3,341.3 696.5,340.1 697.6,340.1 C698.8,340.0 700.0,341.4 701.1,341.5 C702.3,341.6 703.5,340.7 704.6,340.8 C705.8,340.9 707.0,341.9 708.1,342.1 C709.3,342.2 710.5,341.6 711.6,341.6 C712.8,341.7 714.0,342.2 715.1,342.5 C716.3,342.9 717.5,343.7 718.6,343.6 C719.8,343.4 721.0,341.7 722.1,341.6 C723.3,341.5 724.5,343.0 725.6,343.0 C726.8,343.0 728.0,341.9 729.1,341.6 C730.3,341.2 731.5,340.6 732.6,340.9 C733.8,341.1 735.0,342.4 736.1,342.9 C737.3,343.4 738.5,343.8 739.6,343.8 C740.8,343.9 742.0,343.4 743.1,343.4 C744.3,343.4 745.5,343.5 746.6,343.7 C747.8,344.0 749.0,344.7 750.1,344.8 C751.3,344.9 752.5,343.9 753.6,344.2 C754.8,344.6 756.0,346.6 757.1,347.0 C758.3,347.3 759.5,346.6 760.6,346.4 C761.8,346.2 763.0,346.3 764.1,345.9 C765.3,345.6 766.5,344.6 767.6,344.3 C768.8,344.0 770.0,344.9 771.1,344.4 C772.3,344.0 773.5,342.2 774.6,341.6 C775.8,340.9 777.0,340.5 778.1,340.7 C779.3,340.9 780.5,343.1 781.6,342.8 C782.8,342.6 784.0,339.7 785.1,339.2 C786.3,338.7 787.5,340.0 788.6,339.7 C789.8,339.5 791.0,338.1 792.1,338.0 C793.3,337.8 794.5,338.7 795.6,338.6 C796.8,338.5 798.0,337.8 799.1,337.6 C800.3,337.4 801.5,337.3 802.6,337.4 C803.8,337.4 805.0,338.4 806.1,337.9 C807.3,337.5 808.5,335.0 809.6,334.6 C810.8,334.2 812.0,335.6 813.1,335.5 C814.3,335.4 815.5,333.8 816.6,334.0 C817.8,334.1 819.0,336.0 820.1,336.4 C821.3,336.7 822.5,336.1 823.6,336.1 C824.8,336.1 826.0,336.1 827.1,336.3 C828.3,336.5 829.5,337.5 830.6,337.3 C831.8,337.2 833.0,335.5 834.1,335.4 C835.3,335.3 836.5,336.1 837.6,336.8 C838.8,337.4 840.0,338.7 841.1,339.1 C842.3,339.6 843.5,339.3 844.6,339.2 C845.8,339.2 847.0,338.9 848.1,338.8 C849.3,338.7 850.5,338.7 851.6,338.9 C852.8,339.0 854.0,339.8 855.1,339.8 C856.3,339.7 857.5,338.7 858.6,338.7 C859.8,338.6 861.0,339.2 862.1,339.3 C863.3,339.4 864.5,339.5 865.6,339.4 C866.8,339.4 868.0,339.0 869.1,339.0 C870.3,339.1 871.5,339.4 872.6,339.8 C873.8,340.1 875.0,341.0 876.1,341.0 C877.3,341.0 878.5,339.5 879.6,339.6 C880.8,339.7 882.0,341.1 883.1,341.6 C884.3,342.0 885.5,342.3 886.6,342.3 C887.8,342.3 889.0,341.5 890.1,341.5 C891.3,341.5 892.5,342.7 893.6,342.6 C894.8,342.4 896.0,340.6 897.1,340.3 C898.3,340.1 899.5,340.7 900.6,341.2 C901.8,341.6 903.0,343.3 904.1,343.2 C905.3,343.1 906.5,340.8 907.6,340.4 C908.8,340.0 910.0,340.8 911.1,340.7 C912.3,340.6 913.5,339.9 914.6,339.7 C915.8,339.5 917.0,339.9 918.1,339.6 C919.3,339.3 920.5,337.9 921.6,337.9 C922.8,337.8 924.0,339.5 925.1,339.3 C926.3,339.1 927.5,337.0 928.6,336.7 C929.8,336.4 931.0,337.8 932.1,337.5 C933.3,337.3 934.5,335.8 935.6,335.2 C936.8,334.6 938.0,334.0 939.1,334.0 C940.3,333.9 941.5,334.8 942.6,334.8 C943.8,334.8 945.0,333.9 946.1,333.9 C947.3,333.9 948.5,334.7 949.6,334.9 C950.8,335.1 952.0,335.2 953.1,335.1 C954.3,334.9 955.5,333.9 956.6,334.0 C957.8,334.1 959.0,335.4 960.1,335.5 C961.3,335.7 962.5,335.4 963.6,335.0 C964.8,334.7 966.0,334.2 967.1,333.6 C968.3,333.0 969.5,331.7 970.6,331.5 C971.8,331.3 973.0,332.1 974.1,332.3 C975.3,332.6 976.5,333.0 977.6,332.9 C978.8,332.9 980.0,332.3 981.1,332.3 C982.3,332.2 983.5,332.7 984.6,332.6 C985.8,332.6 987.0,332.1 988.1,332.0 C989.3,331.9 990.5,331.8 991.6,332.1 C992.8,332.5 994.0,333.5 995.1,333.9 C996.3,334.3 997.5,334.5 998.6,334.6 C999.8,334.7 1001.0,334.9 1002.1,334.6 C1003.3,334.4 1004.5,332.8 1005.6,333.0 C1006.8,333.3 1008.0,336.0 1009.1,336.1 C1010.3,336.3 1011.5,334.0 1012.6,333.9 C1013.8,333.9 1015.0,335.6 1016.1,335.7 C1017.3,335.7 1018.5,334.1 1019.6,334.4 C1020.8,334.7 1022.0,337.2 1023.1,337.5 C1024.3,337.7 1025.5,336.4 1026.6,336.0 C1027.8,335.7 1029.0,335.3 1030.1,335.5 C1031.3,335.7 1032.5,336.9 1033.6,337.4 C1034.8,338.0 1036.0,338.7 1037.1,338.9 C1038.3,339.1 1039.5,338.9 1040.6,338.7 C1041.8,338.6 1043.0,338.0 1044.1,337.9 C1045.3,337.8 1046.5,338.2 1047.6,338.1 C1048.8,337.9 1050.0,336.9 1051.1,336.8 C1052.3,336.8 1053.5,337.3 1054.6,337.8 C1055.8,338.3 1057.0,339.4 1058.1,339.8 C1059.3,340.3 1060.5,340.4 1061.6,340.3 C1062.8,340.3 1064.0,339.6 1065.1,339.5 C1066.3,339.5 1067.5,339.9 1068.6,340.0 C1069.8,340.1 1071.0,340.3 1072.1,340.2 C1073.3,340.2 1074.5,339.8 1075.6,339.7 C1076.8,339.6 1078.0,339.4 1079.1,339.6 C1080.3,339.7 1081.5,340.6 1082.6,340.8 C1083.8,340.9 1085.0,340.4 1086.1,340.6 C1087.3,340.9 1088.5,341.6 1089.6,342.1 C1090.8,342.6 1092.0,343.7 1093.1,343.5 C1094.3,343.3 1095.5,341.1 1096.6,340.9 C1097.8,340.7 1099.0,342.1 1100.1,342.4 C1101.3,342.8 1102.5,343.0 1103.6,342.9 C1104.8,342.9 1106.0,341.7 1107.1,342.0 C1108.3,342.3 1109.5,344.4 1110.6,344.8 C1111.8,345.2 1113.0,344.7 1114.1,344.6 C1115.3,344.5 1116.5,344.4 1117.6,344.4 C1118.8,344.3 1120.0,344.9 1121.1,344.5 C1122.3,344.2 1123.5,342.4 1124.6,342.2 C1125.8,341.9 1127.0,342.8 1128.1,343.0 C1129.3,343.2 1130.5,343.0 1131.6,343.3 C1132.8,343.5 1134.0,344.3 1135.1,344.3 C1136.3,344.2 1137.5,343.6 1138.6,343.1 C1139.8,342.6 1141.0,341.2 1142.1,341.4 C1143.3,341.6 1144.5,343.9 1145.6,344.3 C1146.8,344.7 1148.0,344.0 1149.1,343.5 C1150.3,343.1 1151.5,341.7 1152.6,341.7 C1153.8,341.6 1155.0,343.1 1156.1,343.4 C1157.3,343.6 1158.5,343.4 1159.6,343.3 C1160.8,343.3 1162.0,343.5 1163.1,343.1 C1164.3,342.8 1165.5,341.7 1166.6,341.5 C1167.8,341.3 1169.0,341.8 1170.1,341.9 C1171.3,342.0 1172.5,342.0 1173.6,342.2 C1174.8,342.3 1176.0,342.6 1177.1,342.7 C1178.3,342.7 1179.5,342.7 1180.6,342.5 C1181.8,342.2 1183.0,341.1 1184.1,341.0 C1185.3,340.8 1186.5,340.9 1187.6,341.3 C1188.8,341.7 1190.0,343.3 1191.1,343.3 C1192.3,343.4 1193.5,341.9 1194.6,341.7 C1195.8,341.5 1197.0,342.3 1198.1,342.2 C1199.3,342.1 1200.5,340.8 1201.6,341.0 C1202.8,341.1 1204.0,343.3 1205.1,343.2 C1206.3,343.1 1207.5,340.7 1208.6,340.5 C1209.8,340.4 1211.0,342.2 1212.1,342.2 C1213.3,342.2 1214.5,340.3 1215.6,340.5 C1216.8,340.6 1218.0,342.6 1219.1,343.0 C1220.3,343.3 1221.5,342.6 1222.6,342.5 C1223.8,342.4 1225.0,342.5 1226.1,342.3 C1227.3,342.0 1228.5,340.8 1229.6,340.8 C1230.8,340.7 1232.0,342.3 1233.1,342.2 C1234.3,342.0 1235.5,340.0 1236.6,339.9 C1237.8,339.8 1239.0,341.6 1240.1,341.6 C1241.3,341.6 1242.5,340.5 1243.6,340.1 C1244.8,339.6 1246.0,338.6 1247.1,338.7 C1248.3,338.8 1249.5,340.6 1250.6,340.7 C1251.8,340.8 1253.0,339.2 1254.1,339.2 C1255.3,339.3 1256.5,340.8 1257.6,341.0 C1258.8,341.2 1260.0,340.9 1261.1,340.4 C1262.3,339.8 1263.5,338.0 1264.6,337.9 C1265.8,337.7 1267.0,339.3 1268.1,339.5 C1269.3,339.7 1270.5,339.2 1271.6,339.0 C1272.8,338.8 1274.0,338.1 1275.1,338.1 C1276.3,338.2 1277.5,339.0 1278.6,339.1 C1279.8,339.2 1281.0,338.6 1282.1,338.7 C1283.3,338.8 1284.5,339.5 1285.6,339.4 C1286.8,339.3 1288.0,338.1 1289.1,338.3 C1290.3,338.4 1291.5,340.2 1292.6,340.5 C1293.8,340.7 1295.0,340.0 1296.1,339.5 C1297.3,339.1 1298.5,337.8 1299.6,337.9 C1300.8,337.9 1302.0,339.6 1303.1,339.6 C1304.3,339.7 1305.5,338.5 1306.6,338.2 C1307.8,337.9 1309.0,337.6 1310.1,337.8 C1311.3,337.9 1312.5,339.1 1313.6,339.2 C1314.8,339.3 1316.0,338.4 1317.1,338.4 C1318.3,338.5 1319.5,339.0 1320.6,339.3 C1321.8,339.7 1323.0,340.6 1324.1,340.7 C1325.3,340.8 1326.5,340.0 1327.6,340.0 C1328.8,340.0 1330.0,340.7 1331.1,340.5 C1332.3,340.3 1333.5,339.0 1334.6,338.9 C1335.8,338.7 1337.0,339.6 1338.1,339.7 C1339.3,339.8 1340.5,339.7 1341.6,339.7 C1342.8,339.6 1344.0,339.5 1345.1,339.5 C1346.3,339.4 1347.5,339.4 1348.6,339.5 C1349.8,339.7 1351.0,340.4 1352.1,340.6 C1353.3,340.7 1354.5,340.7 1355.6,340.7 C1356.8,340.7 1358.0,340.5 1359.1,340.5 C1360.3,340.5 1361.5,340.7 1362.6,340.9 C1363.8,341.0 1365.0,341.5 1366.1,341.3 C1367.3,341.2 1368.5,340.2 1369.6,339.8 C1370.8,339.5 1372.0,338.9 1373.1,339.2 C1374.3,339.4 1375.5,341.5 1376.6,341.4 C1377.8,341.3 1379.0,338.7 1380.1,338.8 C1381.3,338.8 1382.5,341.4 1383.6,341.9 C1384.8,342.4 1386.0,342.4 1387.1,341.9 C1388.3,341.4 1389.5,339.1 1390.6,338.9 C1391.8,338.7 1393.0,340.0 1394.1,340.4 C1395.3,340.8 1396.5,341.3 1397.6,341.4 C1398.8,341.4 1400.0,340.9 1401.1,340.8 C1402.3,340.7 1403.5,340.5 1404.6,340.6 C1405.8,340.8 1407.0,341.8 1408.1,341.8 C1409.3,341.8 1410.5,340.7 1411.6,340.6 C1412.8,340.5 1414.0,341.2 1415.1,341.3 C1416.3,341.3 1417.5,340.7 1418.6,340.6 C1419.8,340.5 1421.0,340.6 1422.1,340.6 C1423.3,340.6 1424.5,340.6 1425.6,340.7 C1426.8,340.8 1428.0,341.0 1429.1,341.2 C1430.3,341.3 1431.5,341.4 1432.6,341.5 C1433.8,341.6 1435.0,341.6 1436.1,341.7 C1437.3,341.7 1438.5,342.1 1439.6,341.9 C1440.8,341.7 1442.0,340.6 1443.1,340.4 C1444.3,340.2 1445.5,340.6 1446.6,340.6 C1447.8,340.7 1449.0,340.9 1450.1,340.7 C1451.3,340.6 1452.5,339.6 1453.6,339.8 C1454.8,340.0 1456.0,341.8 1457.1,341.9 C1458.3,342.1 1459.5,340.9 1460.6,340.8 C1461.8,340.7 1463.0,341.5 1464.1,341.2 C1465.3,341.0 1466.5,339.7 1467.6,339.3 C1468.8,338.9 1470.0,338.7 1471.1,339.1 C1472.3,339.4 1473.5,340.7 1474.6,341.2 C1475.8,341.7 1477.0,342.3 1478.1,342.3 C1479.3,342.2 1480.5,341.2 1481.6,340.7 C1482.8,340.3 1484.0,339.5 1485.1,339.5 C1486.3,339.6 1487.5,340.7 1488.6,341.1 C1489.8,341.5 1491.0,341.9 1492.1,341.9 C1493.3,341.9 1494.5,341.2 1495.6,341.2 C1496.8,341.3 1498.0,342.3 1499.1,342.2 C1500.3,342.1 1501.5,340.7 1502.6,340.5 C1503.8,340.3 1505.0,340.8 1506.1,340.8 C1507.3,340.9 1508.5,341.1 1509.6,340.9 C1510.8,340.8 1512.0,339.6 1513.1,339.8 C1514.3,339.9 1515.5,341.1 1516.6,341.6 C1517.8,342.1 1519.0,342.8 1520.1,342.9 C1521.3,343.0 1522.5,342.6 1523.6,342.2 C1524.8,341.7 1526.0,340.6 1527.1,340.4 C1528.3,340.1 1529.5,340.6 1530.6,340.8 C1531.8,341.0 1533.0,341.4 1534.1,341.6 C1535.3,341.8 1536.5,341.7 1537.6,342.0 C1538.8,342.2 1540.0,342.9 1541.1,343.1 C1542.3,343.3 1543.5,343.1 1544.6,343.1 C1545.8,343.1 1547.0,343.3 1548.1,343.2 C1549.3,343.1 1551.0,342.5 1551.6,342.3" fill="none" stroke="#2F6092" stroke-width="4.0" stroke-linejoin="round"/>
<path d="M131.0,545.8 C142.5,545.8 171.8,545.8 200.0,545.7 C228.2,545.6 270.0,545.5 300.0,545.0 C330.0,544.5 359.0,543.5 380.0,542.8 C401.0,542.1 410.6,541.9 425.9,541.0 C441.2,540.1 459.0,538.8 471.8,537.5 C484.6,536.2 493.6,534.6 502.5,533.0 C511.4,531.4 519.0,529.9 525.4,528.0 C531.8,526.1 535.6,524.2 540.7,521.5 C545.8,518.8 551.4,515.3 556.0,511.5 C560.6,507.7 564.7,503.1 568.3,498.5 C571.9,493.9 574.7,489.6 577.5,484.0 C580.3,478.4 582.6,474.8 585.1,465.0 C587.6,455.2 589.8,441.7 592.7,425.0 C595.6,408.3 599.4,386.0 602.3,364.8 C605.2,343.6 608.0,311.2 609.9,297.8 C611.8,284.4 612.4,287.2 613.7,284.4 C615.0,281.6 616.0,281.2 617.6,281.2 C619.2,281.2 621.1,281.6 623.3,284.4 C625.5,287.2 628.1,292.4 631.0,297.8 C633.9,303.2 636.7,310.9 640.5,317.0 C644.3,323.1 649.1,329.4 653.9,334.2 C658.7,339.0 664.4,343.0 669.2,345.7 C674.0,348.4 678.8,349.9 682.6,350.4 C686.4,350.9 688.7,349.8 692.2,348.5 C695.7,347.2 699.6,344.4 703.7,342.8 C707.9,341.2 712.7,338.9 717.1,339.0 C721.5,339.1 725.0,341.6 730.4,343.7 C735.8,345.8 743.2,350.3 749.6,351.4 C756.0,352.5 762.3,352.0 768.7,350.4 C775.1,348.8 782.1,345.1 787.8,341.8 C793.5,338.5 797.7,332.7 803.1,330.4 C808.5,328.1 815.1,328.1 820.0,328.2 C824.9,328.3 827.9,329.1 832.5,330.8 C837.1,332.5 840.5,336.2 847.8,338.4 C855.1,340.6 867.8,342.6 876.5,344.2 C885.2,345.8 892.9,346.9 900.0,347.8 C907.1,348.7 912.7,349.7 919.1,349.4 C925.5,349.1 931.9,347.3 938.3,345.9 C944.7,344.5 951.0,342.7 957.4,341.1 C963.8,339.5 970.1,337.8 976.5,336.3 C982.9,334.8 990.6,333.1 995.7,332.1 C1000.8,331.2 1002.3,330.6 1007.1,330.6 C1011.9,330.6 1016.8,331.5 1024.4,332.1 C1032.1,332.7 1041.8,333.5 1053.0,334.4 C1064.2,335.3 1080.1,336.3 1091.3,337.3 C1102.5,338.3 1112.0,339.1 1120.0,340.2 C1128.0,341.3 1131.1,343.1 1139.1,344.0 C1147.1,344.9 1155.6,345.6 1167.8,345.5 C1180.0,345.4 1194.8,344.4 1212.4,343.6 C1230.1,342.8 1253.3,341.3 1273.7,340.5 C1294.1,339.7 1314.5,339.2 1334.9,339.0 C1355.3,338.8 1375.7,339.0 1396.1,339.0 C1416.5,339.0 1431.3,338.8 1457.3,339.0 C1483.3,339.2 1536.4,340.2 1552.2,340.5" fill="none" stroke="#E8383D" stroke-width="4.1" stroke-linejoin="round"/>
<path d="M131.0,545.6 C142.5,545.6 171.8,545.6 200.0,545.4 C228.2,545.2 270.0,545.1 300.0,544.6 C330.0,544.1 359.0,542.9 380.0,542.2 C401.0,541.5 410.6,541.2 425.9,540.2 C441.2,539.2 459.0,537.7 471.8,536.3 C484.6,534.9 493.6,533.5 502.5,531.7 C511.4,529.9 519.0,527.9 525.4,525.6 C531.8,523.3 535.6,521.1 540.7,518.0 C545.8,514.9 551.4,511.3 556.0,507.2 C560.6,503.1 564.7,498.3 568.3,493.5 C571.9,488.7 574.7,484.3 577.5,478.2 C580.3,472.1 583.1,464.6 585.1,456.7 C587.1,448.8 588.2,439.6 589.7,430.7 C591.2,421.8 592.9,411.6 594.3,403.2 C595.7,394.8 596.8,388.2 598.1,380.2 C599.4,372.2 600.8,367.3 602.3,355.2 C603.8,343.1 605.6,324.9 607.0,307.4 C608.4,289.9 609.9,262.5 610.9,250.0 C611.9,237.5 612.1,241.5 612.9,232.2 C613.7,222.8 614.6,206.7 615.7,193.9 C616.8,181.2 618.5,167.5 619.6,155.7 C620.7,143.9 621.5,132.5 622.4,123.1 C623.3,113.7 624.3,104.3 625.3,99.2 C626.3,94.1 627.6,93.9 628.5,92.5 C629.4,91.1 630.0,90.5 630.7,90.8 C631.5,91.0 632.1,91.5 633.0,94.0 C633.9,96.5 634.9,98.8 636.2,105.9 C637.5,113.0 639.2,125.0 640.6,136.5 C642.0,148.0 643.1,162.1 644.4,174.8 C645.7,187.6 647.0,200.2 648.3,213.0 C649.6,225.8 650.5,237.2 652.1,251.3 C653.7,265.4 655.8,283.7 657.7,297.8 C659.6,311.9 661.3,324.8 663.5,336.0 C665.7,347.2 667.9,356.8 671.1,364.8 C674.3,372.8 678.1,379.0 682.6,383.9 C687.1,388.8 693.1,392.8 697.9,394.4 C702.7,396.0 705.9,394.6 711.3,393.5 C716.7,392.4 724.0,389.3 730.4,387.7 C736.8,386.1 743.2,386.1 749.6,383.9 C756.0,381.7 762.3,377.9 768.7,374.4 C775.1,370.9 781.4,365.6 787.8,362.9 C794.2,360.2 800.2,359.3 807.0,358.1 C813.8,356.9 820.3,357.4 828.7,355.7 C837.1,354.0 847.8,350.9 857.4,348.0 C867.0,345.1 879.0,340.8 886.1,338.4 C893.2,336.0 894.5,336.1 900.0,333.5 C905.5,330.9 912.7,326.7 919.1,323.0 C925.5,319.3 931.6,314.8 938.3,311.5 C945.0,308.2 952.9,304.4 959.3,303.4 C965.7,302.4 970.4,303.7 976.5,305.7 C982.6,307.7 989.3,311.8 995.7,315.3 C1002.1,318.8 1008.4,323.1 1014.8,326.8 C1021.2,330.5 1027.5,334.3 1033.9,337.3 C1040.3,340.3 1046.6,342.9 1053.0,345.0 C1059.4,347.1 1065.8,348.8 1072.2,350.1 C1078.6,351.4 1084.9,352.3 1091.3,352.6 C1097.7,352.9 1100.8,352.4 1110.4,352.0 C1120.0,351.6 1133.8,350.8 1148.7,350.1 C1163.6,349.4 1179.2,348.4 1200.0,347.8 C1220.8,347.2 1251.2,347.6 1273.7,346.6 C1296.2,345.6 1314.5,344.0 1334.9,342.0 C1355.3,340.0 1375.7,336.3 1396.1,334.4 C1416.5,332.5 1436.9,330.6 1457.3,330.4 C1477.7,330.1 1502.7,332.0 1518.5,332.9 C1534.3,333.8 1546.6,335.4 1552.2,335.9" fill="none" stroke="#1E1EBE" stroke-width="4.1" stroke-linejoin="round"/>
<line x1="1075.5" y1="58.6" x2="1138.5" y2="58.6" stroke="#000" stroke-width="4.0" stroke-linecap="round"/>
<text transform="translate(1147.3,68.5) scale(1.04,1)" font-size="26.6" stroke="#000" stroke-width="0.45">Pt-Sn@S-1(4.00 &#181;m)-600-H<tspan dy="7" font-size="18.5">2</tspan></text>
<line x1="1075.5" y1="98.9" x2="1138.5" y2="98.9" stroke="#4E5A6E" stroke-width="4.0" stroke-linecap="round"/>
<text transform="translate(1147.3,108.8) scale(1.04,1)" font-size="26.6" stroke="#000" stroke-width="0.45">Pt-Sn@S-1(4.00 &#181;m)-PDH-1 h</text>
<line x1="1075.5" y1="133.3" x2="1138.5" y2="133.3" stroke="#7ED3C9" stroke-width="4.0" stroke-linecap="round"/>
<text transform="translate(1147.3,143.2) scale(1.04,1)" font-size="26.6" stroke="#000" stroke-width="0.45">Pt-Sn@S-1(4.00 &#181;m)-PDH-3 h</text>
<line x1="1075.5" y1="167" x2="1138.5" y2="167" stroke="#E8774F" stroke-width="4.0" stroke-linecap="round"/>
<text transform="translate(1147.3,176.9) scale(1.04,1)" font-size="26.6" stroke="#000" stroke-width="0.45">Pt-Sn@S-1(4.00 &#181;m)-PDH-5 h</text>
<line x1="1075.5" y1="200.9" x2="1138.5" y2="200.9" stroke="#E9C548" stroke-width="4.0" stroke-linecap="round"/>
<text transform="translate(1147.3,210.8) scale(1.04,1)" font-size="26.6" stroke="#000" stroke-width="0.45">Pt-Sn@S-1(4.00 &#181;m)-PDH-7 h</text>
<line x1="1075.5" y1="234.8" x2="1138.5" y2="234.8" stroke="#2F6092" stroke-width="4.0" stroke-linecap="round"/>
<text transform="translate(1147.3,244.7) scale(1.04,1)" font-size="26.6" stroke="#000" stroke-width="0.45">Pt-Sn@S-1(4.00 &#181;m)-PDH-10 h</text>
<line x1="1075.5" y1="269" x2="1138.5" y2="269" stroke="#E8383D" stroke-width="4.0" stroke-linecap="round"/>
<text transform="translate(1147.3,278.9) scale(1.04,1)" font-size="26.6" stroke="#000" stroke-width="0.45">Pt foil</text>
<line x1="1075.5" y1="303" x2="1138.5" y2="303" stroke="#1E1EBE" stroke-width="4.0" stroke-linecap="round"/>
<text transform="translate(1147.3,312.9) scale(1.04,1)" font-size="26.6" stroke="#000" stroke-width="0.45">PtO<tspan dy="7" font-size="18.5">2</tspan></text>
<rect x="131.5" y="679.7" width="588.3" height="474.2" fill="none" stroke="#000" stroke-width="3.2"/>
<line x1="131.5" y1="1153.9" x2="131.5" y2="1163.1" stroke="#000" stroke-width="2.9"/>
<text transform="translate(131.5,1193.2) scale(0.9,1)" text-anchor="middle" font-size="31.8" stroke="#000" stroke-width="0.4">0</text>
<line x1="180.5" y1="1153.9" x2="180.5" y2="1158.1" stroke="#000" stroke-width="2.9"/>
<line x1="229.6" y1="1153.9" x2="229.6" y2="1163.1" stroke="#000" stroke-width="2.9"/>
<text transform="translate(229.6,1193.2) scale(0.9,1)" text-anchor="middle" font-size="31.8" stroke="#000" stroke-width="0.4">1</text>
<line x1="278.6" y1="1153.9" x2="278.6" y2="1158.1" stroke="#000" stroke-width="2.9"/>
<line x1="327.6" y1="1153.9" x2="327.6" y2="1163.1" stroke="#000" stroke-width="2.9"/>
<text transform="translate(327.6,1193.2) scale(0.9,1)" text-anchor="middle" font-size="31.8" stroke="#000" stroke-width="0.4">2</text>
<line x1="376.6" y1="1153.9" x2="376.6" y2="1158.1" stroke="#000" stroke-width="2.9"/>
<line x1="425.6" y1="1153.9" x2="425.6" y2="1163.1" stroke="#000" stroke-width="2.9"/>
<text transform="translate(425.6,1193.2) scale(0.9,1)" text-anchor="middle" font-size="31.8" stroke="#000" stroke-width="0.4">3</text>
<line x1="474.7" y1="1153.9" x2="474.7" y2="1158.1" stroke="#000" stroke-width="2.9"/>
<line x1="523.7" y1="1153.9" x2="523.7" y2="1163.1" stroke="#000" stroke-width="2.9"/>
<text transform="translate(523.7,1193.2) scale(0.9,1)" text-anchor="middle" font-size="31.8" stroke="#000" stroke-width="0.4">4</text>
<line x1="572.7" y1="1153.9" x2="572.7" y2="1158.1" stroke="#000" stroke-width="2.9"/>
<line x1="621.8" y1="1153.9" x2="621.8" y2="1163.1" stroke="#000" stroke-width="2.9"/>
<text transform="translate(621.8,1193.2) scale(0.9,1)" text-anchor="middle" font-size="31.8" stroke="#000" stroke-width="0.4">5</text>
<line x1="670.8" y1="1153.9" x2="670.8" y2="1158.1" stroke="#000" stroke-width="2.9"/>
<line x1="719.8" y1="1153.9" x2="719.8" y2="1163.1" stroke="#000" stroke-width="2.9"/>
<text transform="translate(719.8,1193.2) scale(0.9,1)" text-anchor="middle" font-size="31.8" stroke="#000" stroke-width="0.4">6</text>
<text x="426.4" y="1222.4" text-anchor="middle" font-size="25" stroke="#000" stroke-width="0.4">R (&#197;)</text>
<line x1="86.3" y1="1003.6" x2="111.0" y2="1003.6" stroke="#222" stroke-width="1.3"/>
<line x1="86.3" y1="868.6" x2="111.0" y2="868.6" stroke="#222" stroke-width="1.3"/>
<text transform="translate(109.3,1000.4) rotate(-90)" font-size="24.5" stroke="#000" stroke-width="0.3" textLength="125" lengthAdjust="spacingAndGlyphs">FT(<tspan font-style="italic">k</tspan><tspan dy="-9" font-size="17">2</tspan><tspan dy="9">*</tspan>&#967;(<tspan font-style="italic">k</tspan>))</text>
<text transform="translate(109.3,862.0) rotate(-90)" font-size="24.5" stroke="#000" stroke-width="0.3" textLength="58" lengthAdjust="spacingAndGlyphs">(a.u.)</text>
<text x="-2.5" y="724.9" font-size="75" font-weight="normal" stroke="#000" stroke-width="2">b</text>
<line x1="181.5" y1="725.3" x2="235.5" y2="725.3" stroke="#E33A3F" stroke-width="3.2" stroke-linecap="round"/>
<text transform="translate(244.0,733.5) scale(1.02,1)" font-size="23.4" stroke="#000" stroke-width="0.4">Pt-Si</text>
<line x1="181.5" y1="756.5" x2="235.5" y2="756.5" stroke="#2C5C98" stroke-width="3.2" stroke-linecap="round"/>
<text transform="translate(244.0,764.7) scale(1.02,1)" font-size="23.4" stroke="#000" stroke-width="0.4">Pt-Sn</text>
<circle cx="362.9" cy="695.8" r="7.1" fill="none" stroke="#E4BF3A" stroke-width="1.3"/>
<text x="395.1" y="702.8" font-size="22.2" stroke="#000" stroke-width="0.4">Pt-Sn@S-1(4.00 &#181;m)-600-H<tspan dy="6" font-size="15">2</tspan></text>
<line x1="338.5" y1="728.6" x2="386.5" y2="728.6" stroke="#111111" stroke-width="3.2" stroke-linecap="round"/>
<text x="395.1" y="736.8" font-size="23.4" stroke="#000" stroke-width="0.4">Fitting</text>
<line x1="338.5" y1="757.1" x2="386.5" y2="757.1" stroke="#E2714D" stroke-width="3.2" stroke-linecap="round"/>
<text transform="translate(395.1,765.3) scale(0.98,1)" font-size="23.4" stroke="#000" stroke-width="0.4">Pt-O</text>
<clipPath id="clipb"><rect x="131.5" y="679.7" width="588.3" height="474.2"/></clipPath>
<g clip-path="url(#clipb)">
<path d="M131.9,1122.5 133.4,1122.5 134.9,1122.5 136.4,1122.5 137.9,1122.5 139.4,1122.5 140.9,1122.5 142.4,1122.5 143.9,1122.5 145.4,1122.5 146.9,1122.5 148.4,1122.5 149.9,1122.5 151.4,1122.5 152.9,1122.5 154.4,1122.5 155.9,1122.5 157.4,1122.5 158.9,1122.5 160.4,1122.5 161.9,1122.5 163.4,1122.5 164.9,1122.5 166.4,1122.5 167.9,1122.5 169.4,1122.5 170.9,1122.4 172.4,1122.4 173.9,1122.4 175.4,1122.4 176.9,1122.3 178.4,1122.3 179.9,1122.3 181.4,1122.3 182.9,1122.2 184.4,1122.2 185.9,1122.2 187.4,1122.1 188.9,1122.1 190.4,1122.1 191.9,1122.0 193.4,1122.0 194.9,1121.9 196.4,1121.9 197.9,1121.8 199.4,1121.8 200.9,1121.7 202.4,1121.7 203.9,1121.6 205.4,1121.6 206.9,1121.5 208.4,1121.4 209.9,1121.4 211.4,1121.3 212.9,1121.2 214.4,1121.2 215.9,1121.1 217.4,1121.0 218.9,1120.9 220.4,1120.9 221.9,1120.8 223.4,1120.7 224.9,1120.6 226.4,1120.5 227.9,1120.3 229.4,1120.2 230.9,1120.1 232.4,1119.9 233.9,1119.8 235.4,1119.6 236.9,1119.4 238.4,1119.2 239.9,1119.0 241.4,1118.7 242.9,1118.5 244.4,1118.2 245.9,1117.9 247.4,1117.6 248.9,1117.2 250.4,1116.9 251.9,1116.5 253.4,1116.0 254.9,1115.6 256.4,1115.1 257.9,1114.5 259.4,1113.9 260.9,1113.3 262.4,1112.7 263.9,1112.0 265.4,1111.4 266.9,1110.7 268.4,1110.1 269.9,1109.4 271.4,1108.9 272.9,1108.3 274.4,1107.8 275.9,1107.3 277.4,1106.9 278.9,1106.4 280.4,1106.0 281.9,1105.5 283.4,1105.1 284.9,1104.8 286.4,1104.4 287.9,1104.1 289.4,1103.8 290.9,1103.6 292.4,1103.4 293.9,1103.2 295.4,1103.2 296.9,1103.1 298.4,1103.1 299.9,1103.2 301.4,1103.3 302.9,1103.5 304.4,1103.7 305.9,1103.9 307.4,1104.2 308.9,1104.5 310.4,1104.9 311.9,1105.4 313.4,1105.9 314.9,1106.4 316.4,1107.0 317.9,1107.6 319.4,1108.3 320.9,1108.9 322.4,1109.6 323.9,1110.4 325.4,1111.2 326.9,1112.0 328.4,1112.9 329.9,1113.7 331.4,1114.5 332.9,1115.3 334.4,1115.9 335.9,1116.5 337.4,1116.9 338.9,1117.3 340.4,1117.6 341.9,1117.9 343.4,1118.1 344.9,1118.3 346.4,1118.5 347.9,1118.6 349.4,1118.7 350.9,1118.9 352.4,1119.0 353.9,1119.1 355.4,1119.2 356.9,1119.3 358.4,1119.5 359.9,1119.6 361.4,1119.8 362.9,1120.0 364.4,1120.2 365.9,1120.3 367.4,1120.5 368.9,1120.7 370.4,1120.8 371.9,1121.0 373.4,1121.1 374.9,1121.2 376.4,1121.4 377.9,1121.5 379.4,1121.6 380.9,1121.6 382.4,1121.7 383.9,1121.8 385.4,1121.9 386.9,1121.9 388.4,1122.0 389.9,1122.0 391.4,1122.1 392.9,1122.1 394.4,1122.2 395.9,1122.2 397.4,1122.2 398.9,1122.3 400.4,1122.3 401.9,1122.3 403.4,1122.4 404.9,1122.4 406.4,1122.5 407.9,1122.5 409.4,1122.5 410.9,1122.6 412.4,1122.6 413.9,1122.6 415.4,1122.7 416.9,1122.7 418.4,1122.7 419.9,1122.8 421.4,1122.8 422.9,1122.9 424.4,1122.9 425.9,1122.9 427.4,1123.0 428.9,1123.0 430.4,1123.0 431.9,1123.1 433.4,1123.1 434.9,1123.1 436.4,1123.2 437.9,1123.2 439.4,1123.2 440.9,1123.3 442.4,1123.3 443.9,1123.3 445.4,1123.4 446.9,1123.4 448.4,1123.4 449.9,1123.5 451.4,1123.5 452.9,1123.5 454.4,1123.6 455.9,1123.6 457.4,1123.6 458.9,1123.7 460.4,1123.7 461.9,1123.7 463.4,1123.7 464.9,1123.8 466.4,1123.8 467.9,1123.8 469.4,1123.8 470.9,1123.9 472.4,1123.9 473.9,1123.9 475.4,1123.9 476.9,1124.0 478.4,1124.0 479.9,1124.0 481.4,1124.0 482.9,1124.0 484.4,1124.1 485.9,1124.1 487.4,1124.1 488.9,1124.1 490.4,1124.1 491.9,1124.1 493.4,1124.1 494.9,1124.2 496.4,1124.2 497.9,1124.2 499.4,1124.2 500.9,1124.2 502.4,1124.2 503.9,1124.2 505.4,1124.2 506.9,1124.2 508.4,1124.2 509.9,1124.2 511.4,1124.3 512.9,1124.3 514.4,1124.3 515.9,1124.3 517.4,1124.3 518.9,1124.3 520.4,1124.3 521.9,1124.3 523.4,1124.3 524.9,1124.3 526.4,1124.3 527.9,1124.3 529.4,1124.3 530.9,1124.3 532.4,1124.3 533.9,1124.3 535.4,1124.4 536.9,1124.4 538.4,1124.4 539.9,1124.4 541.4,1124.4 542.9,1124.4 544.4,1124.4 545.9,1124.4 547.4,1124.4 548.9,1124.4 550.4,1124.4 551.9,1124.4 553.4,1124.4 554.9,1124.4 556.4,1124.4 557.9,1124.4 559.4,1124.4 560.9,1124.4 562.4,1124.5 563.9,1124.5 565.4,1124.5 566.9,1124.5 568.4,1124.5 569.9,1124.5 571.4,1124.5 572.9,1124.5 574.4,1124.5 575.9,1124.5 577.4,1124.5 578.9,1124.5 580.4,1124.5 581.9,1124.5 583.4,1124.5 584.9,1124.5 586.4,1124.5 587.9,1124.5 589.4,1124.5 590.9,1124.5 592.4,1124.5 593.9,1124.5 595.4,1124.6 596.9,1124.6 598.4,1124.6 599.9,1124.6 601.4,1124.6 602.9,1124.6 604.4,1124.6 605.9,1124.6 607.4,1124.6 608.9,1124.6 610.4,1124.6 611.9,1124.6 613.4,1124.6 614.9,1124.6 616.4,1124.6 617.9,1124.6 619.4,1124.6 620.9,1124.6 622.4,1124.6 623.9,1124.6 625.4,1124.7 626.9,1124.7 628.4,1124.7 629.9,1124.7 631.4,1124.7 632.9,1124.7 634.4,1124.7 635.9,1124.7 637.4,1124.7 638.9,1124.7 640.4,1124.7 641.9,1124.7 643.4,1124.7 644.9,1124.7 646.4,1124.7 647.9,1124.7 649.4,1124.7 650.9,1124.7 652.4,1124.7 653.9,1124.7 655.4,1124.7 656.9,1124.8 658.4,1124.8 659.9,1124.8 661.4,1124.8 662.9,1124.8 664.4,1124.8 665.9,1124.8 667.4,1124.8 668.9,1124.8 670.4,1124.8 671.9,1124.8 673.4,1124.8 674.9,1124.8 676.4,1124.8 677.9,1124.8 679.4,1124.8 680.9,1124.8 682.4,1124.8 683.9,1124.8 685.4,1124.8 686.9,1124.8 688.4,1124.8 689.9,1124.8 691.4,1124.8 692.9,1124.9 694.4,1124.9 695.9,1124.9 697.4,1124.9 698.9,1124.9 700.4,1124.9 701.9,1124.9 703.4,1124.9 704.9,1124.9 706.4,1124.9 707.9,1124.9 709.4,1124.9 710.9,1124.9 712.4,1124.9 713.9,1124.9 715.4,1124.9 716.9,1124.9 718.4,1124.9 719.9,1124.9" fill="none" stroke="#E2714D" stroke-width="3.5" stroke-linejoin="round"/>
<path d="M131.9,1081.3 133.4,1081.3 134.9,1081.2 136.4,1081.1 137.9,1081.0 139.4,1080.9 140.9,1080.8 142.4,1080.7 143.9,1080.6 145.4,1080.6 146.9,1080.5 148.4,1080.4 149.9,1080.4 151.4,1080.4 152.9,1080.4 154.4,1080.4 155.9,1080.5 157.4,1080.6 158.9,1080.7 160.4,1080.8 161.9,1080.9 163.4,1081.0 164.9,1081.2 166.4,1081.3 167.9,1081.4 169.4,1081.5 170.9,1081.6 172.4,1081.7 173.9,1081.7 175.4,1081.8 176.9,1081.7 178.4,1081.7 179.9,1081.6 181.4,1081.4 182.9,1081.2 184.4,1081.0 185.9,1080.7 187.4,1080.4 188.9,1080.1 190.4,1079.9 191.9,1079.6 193.4,1079.3 194.9,1079.1 196.4,1078.9 197.9,1078.7 199.4,1078.6 200.9,1078.5 202.4,1078.5 203.9,1078.5 205.4,1078.7 206.9,1078.8 208.4,1079.0 209.9,1079.2 211.4,1079.5 212.9,1079.7 214.4,1079.9 215.9,1080.1 217.4,1080.2 218.9,1080.3 220.4,1080.4 221.9,1080.4 223.4,1080.3 224.9,1080.1 226.4,1079.9 227.9,1079.7 229.4,1079.4 230.9,1079.1 232.4,1078.8 233.9,1078.5 235.4,1078.2 236.9,1077.9 238.4,1077.6 239.9,1077.4 241.4,1077.2 242.9,1077.1 244.4,1077.0 245.9,1077.0 247.4,1077.0 248.9,1077.1 250.4,1077.3 251.9,1077.5 253.4,1077.7 254.9,1077.9 256.4,1078.2 257.9,1078.4 259.4,1078.7 260.9,1078.9 262.4,1079.1 263.9,1079.3 265.4,1079.4 266.9,1079.4 268.4,1079.5 269.9,1079.4 271.4,1079.2 272.9,1079.0 274.4,1078.7 275.9,1078.3 277.4,1077.9 278.9,1077.4 280.4,1077.0 281.9,1076.5 283.4,1076.0 284.9,1075.6 286.4,1075.2 287.9,1074.8 289.4,1074.5 290.9,1074.3 292.4,1074.1 293.9,1074.1 295.4,1074.2 296.9,1074.3 298.4,1074.6 299.9,1074.9 301.4,1075.3 302.9,1075.7 304.4,1076.0 305.9,1076.3 307.4,1076.6 308.9,1076.8 310.4,1076.9 311.9,1076.9 313.4,1076.7 314.9,1076.2 316.4,1075.6 317.9,1074.9 319.4,1074.0 320.9,1073.0 322.4,1071.9 323.9,1070.7 325.4,1069.4 326.9,1068.0 328.4,1066.6 329.9,1065.2 331.4,1063.8 332.9,1062.4 334.4,1061.1 335.9,1059.9 337.4,1058.8 338.9,1057.7 340.4,1056.7 341.9,1055.7 343.4,1054.8 344.9,1053.9 346.4,1053.2 347.9,1052.7 349.4,1052.2 350.9,1052.1 352.4,1052.1 353.9,1052.4 355.4,1053.0 356.9,1053.7 358.4,1054.7 359.9,1055.9 361.4,1057.3 362.9,1059.1 364.4,1061.0 365.9,1063.0 367.4,1064.9 368.9,1066.7 370.4,1068.5 371.9,1070.3 373.4,1071.9 374.9,1073.0 376.4,1073.4 377.9,1072.8 379.4,1071.3 380.9,1069.2 382.4,1066.7 383.9,1064.1 385.4,1061.6 386.9,1059.1 388.4,1056.4 389.9,1053.8 391.4,1051.1 392.9,1048.4 394.4,1045.8 395.9,1043.3 397.4,1040.9 398.9,1038.7 400.4,1036.6 401.9,1034.6 403.4,1032.8 404.9,1031.1 406.4,1029.7 407.9,1028.4 409.4,1027.3 410.9,1026.4 412.4,1025.7 413.9,1025.2 415.4,1025.0 416.9,1025.0 418.4,1025.2 419.9,1025.5 421.4,1026.0 422.9,1026.6 424.4,1027.3 425.9,1028.1 427.4,1029.0 428.9,1030.0 430.4,1031.0 431.9,1032.1 433.4,1033.4 434.9,1034.8 436.4,1036.4 437.9,1038.1 439.4,1039.9 440.9,1041.7 442.4,1043.5 443.9,1045.4 445.4,1047.4 446.9,1049.5 448.4,1051.6 449.9,1053.7 451.4,1055.7 452.9,1057.6 454.4,1059.4 455.9,1061.1 457.4,1062.7 458.9,1064.3 460.4,1065.7 461.9,1067.0 463.4,1068.1 464.9,1068.9 466.4,1069.5 467.9,1069.8 469.4,1069.9 470.9,1069.8 472.4,1069.6 473.9,1069.4 475.4,1069.1 476.9,1068.8 478.4,1068.6 479.9,1068.5 481.4,1068.5 482.9,1068.7 484.4,1068.9 485.9,1069.2 487.4,1069.5 488.9,1069.8 490.4,1070.2 491.9,1070.6 493.4,1071.0 494.9,1071.5 496.4,1071.9 497.9,1072.4 499.4,1072.9 500.9,1073.5 502.4,1074.1 503.9,1074.8 505.4,1075.4 506.9,1075.9 508.4,1076.4 509.9,1076.8 511.4,1077.0 512.9,1077.1 514.4,1077.1 515.9,1077.0 517.4,1076.8 518.9,1076.5 520.4,1076.2 521.9,1075.9 523.4,1075.6 524.9,1075.3 526.4,1075.1 527.9,1074.9 529.4,1074.8 530.9,1074.8 532.4,1074.9 533.9,1075.1 535.4,1075.3 536.9,1075.5 538.4,1075.8 539.9,1076.1 541.4,1076.5 542.9,1076.8 544.4,1077.2 545.9,1077.5 547.4,1077.9 548.9,1078.2 550.4,1078.5 551.9,1078.8 553.4,1079.1 554.9,1079.3 556.4,1079.4 557.9,1079.6 559.4,1079.6 560.9,1079.6 562.4,1079.5 563.9,1079.4 565.4,1079.3 566.9,1079.1 568.4,1078.9 569.9,1078.7 571.4,1078.5 572.9,1078.3 574.4,1078.2 575.9,1078.1 577.4,1078.1 578.9,1078.1 580.4,1078.1 581.9,1078.2 583.4,1078.4 584.9,1078.6 586.4,1078.8 587.9,1079.0 589.4,1079.2 590.9,1079.4 592.4,1079.7 593.9,1079.9 595.4,1080.1 596.9,1080.3 598.4,1080.5 599.9,1080.7 601.4,1080.8 602.9,1080.9 604.4,1080.9 605.9,1080.9 607.4,1080.9 608.9,1080.8 610.4,1080.7 611.9,1080.6 613.4,1080.5 614.9,1080.3 616.4,1080.2 617.9,1080.0 619.4,1079.9 620.9,1079.8 622.4,1079.7 623.9,1079.6 625.4,1079.6 626.9,1079.6 628.4,1079.6 629.9,1079.7 631.4,1079.8 632.9,1080.0 634.4,1080.1 635.9,1080.3 637.4,1080.5 638.9,1080.6 640.4,1080.8 641.9,1081.0 643.4,1081.1 644.9,1081.3 646.4,1081.4 647.9,1081.4 649.4,1081.5 650.9,1081.5 652.4,1081.5 653.9,1081.4 655.4,1081.4 656.9,1081.3 658.4,1081.2 659.9,1081.1 661.4,1080.9 662.9,1080.8 664.4,1080.7 665.9,1080.6 667.4,1080.5 668.9,1080.4 670.4,1080.3 671.9,1080.2 673.4,1080.2 674.9,1080.2 676.4,1080.2 677.9,1080.2 679.4,1080.2 680.9,1080.3 682.4,1080.4 683.9,1080.4 685.4,1080.5 686.9,1080.6 688.4,1080.7 689.9,1080.8 691.4,1080.9 692.9,1081.0 694.4,1081.0 695.9,1081.1 697.4,1081.1 698.9,1081.1 700.4,1081.1 701.9,1081.1 703.4,1081.1 704.9,1081.1 706.4,1081.1 707.9,1081.1 709.4,1081.1 710.9,1081.1 712.4,1081.0 713.9,1081.0 715.4,1081.0 716.9,1081.0 718.4,1080.9 719.9,1080.9" fill="none" stroke="#2C5C98" stroke-width="3.5" stroke-linejoin="round"/>
<path d="M131.9,1003.8 133.4,1003.8 134.9,1003.8 136.4,1003.8 137.9,1003.7 139.4,1003.7 140.9,1003.7 142.4,1003.6 143.9,1003.6 145.4,1003.6 146.9,1003.5 148.4,1003.5 149.9,1003.5 151.4,1003.4 152.9,1003.4 154.4,1003.4 155.9,1003.4 157.4,1003.4 158.9,1003.3 160.4,1003.3 161.9,1003.3 163.4,1003.2 164.9,1003.1 166.4,1003.0 167.9,1002.9 169.4,1002.8 170.9,1002.6 172.4,1002.4 173.9,1002.2 175.4,1001.9 176.9,1001.7 178.4,1001.4 179.9,1001.1 181.4,1000.9 182.9,1000.6 184.4,1000.4 185.9,1000.2 187.4,1000.0 188.9,999.9 190.4,999.8 191.9,999.6 193.4,999.5 194.9,999.5 196.4,999.4 197.9,999.3 199.4,999.2 200.9,999.1 202.4,999.0 203.9,998.9 205.4,998.8 206.9,998.6 208.4,998.5 209.9,998.3 211.4,998.0 212.9,997.8 214.4,997.6 215.9,997.4 217.4,997.1 218.9,996.9 220.4,996.6 221.9,996.4 223.4,996.1 224.9,995.9 226.4,995.7 227.9,995.5 229.4,995.3 230.9,995.1 232.4,994.9 233.9,994.8 235.4,994.7 236.9,994.7 238.4,994.7 239.9,994.8 241.4,994.9 242.9,995.0 244.4,995.1 245.9,995.1 247.4,995.0 248.9,994.8 250.4,994.4 251.9,994.0 253.4,993.4 254.9,992.8 256.4,992.1 257.9,991.5 259.4,990.8 260.9,990.1 262.4,989.4 263.9,988.6 265.4,987.9 266.9,987.1 268.4,986.3 269.9,985.5 271.4,984.8 272.9,984.0 274.4,983.4 275.9,982.7 277.4,982.2 278.9,981.6 280.4,981.0 281.9,980.4 283.4,979.8 284.9,979.1 286.4,978.3 287.9,977.3 289.4,976.3 290.9,975.0 292.4,973.6 293.9,972.0 295.4,970.2 296.9,968.1 298.4,965.9 299.9,963.6 301.4,961.1 302.9,958.6 304.4,956.0 305.9,953.3 307.4,950.6 308.9,947.8 310.4,945.1 311.9,942.3 313.4,939.6 314.9,936.8 316.4,934.0 317.9,931.3 319.4,928.6 320.9,926.1 322.4,923.7 323.9,921.4 325.4,919.1 326.9,917.0 328.4,915.0 329.9,913.2 331.4,911.5 332.9,910.0 334.4,908.8 335.9,907.8 337.4,907.1 338.9,906.7 340.4,906.7 341.9,907.0 343.4,907.5 344.9,908.3 346.4,909.4 347.9,910.6 349.4,912.0 350.9,913.7 352.4,915.7 353.9,917.9 355.4,920.5 356.9,923.3 358.4,926.2 359.9,929.3 361.4,932.5 362.9,935.8 364.4,939.2 365.9,942.7 367.4,946.3 368.9,950.0 370.4,953.6 371.9,957.3 373.4,960.9 374.9,964.4 376.4,967.9 377.9,971.3 379.4,974.6 380.9,977.5 382.4,980.2 383.9,982.6 385.4,984.8 386.9,986.8 388.4,988.6 389.9,990.0 391.4,991.1 392.9,991.9 394.4,992.4 395.9,992.7 397.4,992.9 398.9,993.0 400.4,993.0 401.9,993.1 403.4,993.3 404.9,993.7 406.4,994.1 407.9,994.5 409.4,995.0 410.9,995.5 412.4,996.0 413.9,996.4 415.4,996.9 416.9,997.3 418.4,997.8 419.9,998.3 421.4,998.8 422.9,999.2 424.4,999.7 425.9,1000.1 427.4,1000.4 428.9,1000.7 430.4,1001.0 431.9,1001.1 433.4,1001.2 434.9,1001.2 436.4,1001.1 437.9,1001.0 439.4,1000.9 440.9,1000.7 442.4,1000.5 443.9,1000.3 445.4,1000.2 446.9,1000.2 448.4,1000.2 449.9,1000.3 451.4,1000.4 452.9,1000.6 454.4,1000.8 455.9,1001.0 457.4,1001.3 458.9,1001.5 460.4,1001.8 461.9,1002.1 463.4,1002.3 464.9,1002.6 466.4,1002.8 467.9,1003.0 469.4,1003.2 470.9,1003.4 472.4,1003.5 473.9,1003.6 475.4,1003.6 476.9,1003.6 478.4,1003.5 479.9,1003.4 481.4,1003.3 482.9,1003.1 484.4,1002.9 485.9,1002.8 487.4,1002.7 488.9,1002.5 490.4,1002.5 491.9,1002.5 493.4,1002.5 494.9,1002.6 496.4,1002.7 497.9,1002.9 499.4,1003.0 500.9,1003.2 502.4,1003.4 503.9,1003.6 505.4,1003.8 506.9,1004.0 508.4,1004.2 509.9,1004.4 511.4,1004.6 512.9,1004.8 514.4,1004.9 515.9,1005.1 517.4,1005.2 518.9,1005.3 520.4,1005.4 521.9,1005.4 523.4,1005.4 524.9,1005.3 526.4,1005.2 527.9,1005.1 529.4,1005.0 530.9,1004.9 532.4,1004.8 533.9,1004.7 535.4,1004.6 536.9,1004.6 538.4,1004.6 539.9,1004.6 541.4,1004.7 542.9,1004.8 544.4,1004.8 545.9,1004.9 547.4,1005.1 548.9,1005.2 550.4,1005.3 551.9,1005.4 553.4,1005.5 554.9,1005.7 556.4,1005.8 557.9,1005.9 559.4,1006.0 560.9,1006.1 562.4,1006.2 563.9,1006.2 565.4,1006.3 566.9,1006.3 568.4,1006.3 569.9,1006.3 571.4,1006.3 572.9,1006.3 574.4,1006.3 575.9,1006.2 577.4,1006.2 578.9,1006.1 580.4,1006.1 581.9,1006.1 583.4,1006.0 584.9,1006.0 586.4,1005.9 587.9,1005.9 589.4,1005.9 590.9,1005.9 592.4,1005.9 593.9,1006.0 595.4,1006.0 596.9,1006.0 598.4,1006.1 599.9,1006.1 601.4,1006.2 602.9,1006.3 604.4,1006.3 605.9,1006.4 607.4,1006.5 608.9,1006.6 610.4,1006.6 611.9,1006.7 613.4,1006.8 614.9,1006.8 616.4,1006.9 617.9,1007.0 619.4,1007.0 620.9,1007.1 622.4,1007.1 623.9,1007.1 625.4,1007.2 626.9,1007.2 628.4,1007.2 629.9,1007.3 631.4,1007.3 632.9,1007.3 634.4,1007.3 635.9,1007.3 637.4,1007.3 638.9,1007.4 640.4,1007.4 641.9,1007.4 643.4,1007.4 644.9,1007.4 646.4,1007.4 647.9,1007.4 649.4,1007.4 650.9,1007.5 652.4,1007.5 653.9,1007.5 655.4,1007.5 656.9,1007.5 658.4,1007.5 659.9,1007.5 661.4,1007.5 662.9,1007.5 664.4,1007.6 665.9,1007.6 667.4,1007.6 668.9,1007.6 670.4,1007.6 671.9,1007.6 673.4,1007.6 674.9,1007.6 676.4,1007.6 677.9,1007.6 679.4,1007.6 680.9,1007.6 682.4,1007.6 683.9,1007.7 685.4,1007.7 686.9,1007.7 688.4,1007.7 689.9,1007.7 691.4,1007.7 692.9,1007.7 694.4,1007.7 695.9,1007.7 697.4,1007.7 698.9,1007.7 700.4,1007.7 701.9,1007.7 703.4,1007.7 704.9,1007.8 706.4,1007.8 707.9,1007.8 709.4,1007.8 710.9,1007.8 712.4,1007.8 713.9,1007.8 715.4,1007.8 716.9,1007.8 718.4,1007.8 719.9,1007.8" fill="none" stroke="#E33A3F" stroke-width="3.5" stroke-linejoin="round"/>
<g fill="#fff" stroke="#E4BF3A" stroke-width="1.1"><circle cx="133.0" cy="923.3" r="7"/><circle cx="136.0" cy="922.8" r="7"/><circle cx="139.0" cy="922.4" r="7"/><circle cx="142.0" cy="921.9" r="7"/><circle cx="145.0" cy="921.4" r="7"/><circle cx="148.0" cy="920.9" r="7"/><circle cx="151.0" cy="920.2" r="7"/><circle cx="154.0" cy="919.6" r="7"/><circle cx="157.0" cy="919.0" r="7"/><circle cx="160.0" cy="918.3" r="7"/><circle cx="163.0" cy="917.5" r="7"/><circle cx="166.0" cy="916.6" r="7"/><circle cx="169.0" cy="915.6" r="7"/><circle cx="172.0" cy="914.3" r="7"/><circle cx="175.0" cy="912.8" r="7"/><circle cx="178.0" cy="911.2" r="7"/><circle cx="181.0" cy="909.6" r="7"/><circle cx="184.0" cy="907.9" r="7"/><circle cx="187.0" cy="906.2" r="7"/><circle cx="190.0" cy="904.3" r="7"/><circle cx="193.0" cy="902.5" r="7"/><circle cx="196.0" cy="901.0" r="7"/><circle cx="199.0" cy="899.8" r="7"/><circle cx="202.0" cy="898.7" r="7"/><circle cx="205.0" cy="897.8" r="7"/><circle cx="208.0" cy="897.2" r="7"/><circle cx="211.0" cy="896.8" r="7"/><circle cx="214.0" cy="896.8" r="7"/><circle cx="217.0" cy="897.2" r="7"/><circle cx="220.0" cy="897.9" r="7"/><circle cx="223.0" cy="898.8" r="7"/><circle cx="226.0" cy="899.7" r="7"/><circle cx="229.0" cy="900.6" r="7"/><circle cx="232.0" cy="901.7" r="7"/><circle cx="235.0" cy="902.8" r="7"/><circle cx="238.0" cy="903.8" r="7"/><circle cx="241.0" cy="904.3" r="7"/><circle cx="244.0" cy="904.2" r="7"/><circle cx="247.0" cy="903.2" r="7"/><circle cx="250.0" cy="901.7" r="7"/><circle cx="253.0" cy="900.0" r="7"/><circle cx="256.0" cy="898.1" r="7"/><circle cx="259.0" cy="896.2" r="7"/><circle cx="262.0" cy="894.2" r="7"/><circle cx="265.0" cy="892.2" r="7"/><circle cx="268.0" cy="890.2" r="7"/><circle cx="271.0" cy="888.3" r="7"/><circle cx="274.0" cy="886.2" r="7"/><circle cx="277.0" cy="884.1" r="7"/><circle cx="280.0" cy="881.7" r="7"/><circle cx="283.0" cy="879.2" r="7"/><circle cx="286.0" cy="876.5" r="7"/><circle cx="289.0" cy="873.6" r="7"/><circle cx="292.0" cy="870.6" r="7"/><circle cx="295.0" cy="867.4" r="7"/><circle cx="298.0" cy="864.1" r="7"/><circle cx="301.0" cy="860.6" r="7"/><circle cx="304.0" cy="857.1" r="7"/><circle cx="307.0" cy="853.3" r="7"/><circle cx="310.0" cy="849.3" r="7"/><circle cx="313.0" cy="845.0" r="7"/><circle cx="316.0" cy="841.1" r="7"/><circle cx="319.0" cy="837.8" r="7"/><circle cx="322.0" cy="835.0" r="7"/><circle cx="325.0" cy="832.5" r="7"/><circle cx="328.0" cy="830.4" r="7"/><circle cx="331.0" cy="828.5" r="7"/><circle cx="334.0" cy="827.0" r="7"/><circle cx="337.0" cy="826.1" r="7"/><circle cx="340.0" cy="826.0" r="7"/><circle cx="343.0" cy="826.7" r="7"/><circle cx="346.0" cy="828.2" r="7"/><circle cx="349.0" cy="830.8" r="7"/><circle cx="352.0" cy="835.4" r="7"/><circle cx="355.0" cy="839.9" r="7"/><circle cx="358.0" cy="842.0" r="7"/><circle cx="361.0" cy="848.9" r="7"/><circle cx="364.0" cy="856.9" r="7"/><circle cx="367.0" cy="865.2" r="7"/><circle cx="370.0" cy="873.7" r="7"/><circle cx="373.0" cy="882.0" r="7"/><circle cx="376.0" cy="890.7" r="7"/><circle cx="379.0" cy="900.3" r="7"/><circle cx="382.0" cy="911.0" r="7"/><circle cx="385.0" cy="922.5" r="7"/><circle cx="388.0" cy="928.8" r="7"/><circle cx="391.0" cy="923.7" r="7"/><circle cx="394.0" cy="915.6" r="7"/><circle cx="397.0" cy="906.7" r="7"/><circle cx="400.0" cy="898.7" r="7"/><circle cx="403.0" cy="891.8" r="7"/><circle cx="406.0" cy="885.5" r="7"/><circle cx="409.0" cy="880.0" r="7"/><circle cx="412.0" cy="875.7" r="7"/><circle cx="415.0" cy="872.4" r="7"/><circle cx="418.0" cy="870.1" r="7"/><circle cx="421.0" cy="869.6" r="7"/><circle cx="424.0" cy="870.8" r="7"/><circle cx="427.0" cy="873.1" r="7"/><circle cx="430.0" cy="876.1" r="7"/><circle cx="433.0" cy="879.8" r="7"/><circle cx="436.0" cy="884.0" r="7"/><circle cx="439.0" cy="888.5" r="7"/><circle cx="442.0" cy="893.2" r="7"/><circle cx="445.0" cy="898.0" r="7"/><circle cx="448.0" cy="902.7" r="7"/><circle cx="451.0" cy="907.0" r="7"/><circle cx="454.0" cy="911.1" r="7"/><circle cx="457.0" cy="914.5" r="7"/><circle cx="460.0" cy="917.1" r="7"/><circle cx="463.0" cy="918.6" r="7"/><circle cx="466.0" cy="919.2" r="7"/><circle cx="469.0" cy="919.2" r="7"/><circle cx="472.0" cy="918.9" r="7"/><circle cx="475.0" cy="918.7" r="7"/><circle cx="478.0" cy="918.8" r="7"/><circle cx="481.0" cy="919.3" r="7"/><circle cx="484.0" cy="920.0" r="7"/><circle cx="487.0" cy="920.8" r="7"/><circle cx="490.0" cy="921.8" r="7"/><circle cx="493.0" cy="922.9" r="7"/><circle cx="496.0" cy="924.1" r="7"/><circle cx="499.0" cy="925.4" r="7"/><circle cx="502.0" cy="926.7" r="7"/><circle cx="505.0" cy="928.2" r="7"/><circle cx="508.0" cy="929.7" r="7"/><circle cx="511.0" cy="931.0" r="7"/><circle cx="514.0" cy="932.0" r="7"/><circle cx="517.0" cy="932.6" r="7"/><circle cx="520.0" cy="932.4" r="7"/><circle cx="523.0" cy="931.4" r="7"/><circle cx="526.0" cy="929.9" r="7"/><circle cx="529.0" cy="928.3" r="7"/><circle cx="532.0" cy="926.8" r="7"/><circle cx="535.0" cy="925.3" r="7"/><circle cx="538.0" cy="923.6" r="7"/><circle cx="541.0" cy="922.0" r="7"/><circle cx="544.0" cy="920.5" r="7"/><circle cx="547.0" cy="919.1" r="7"/><circle cx="550.0" cy="917.8" r="7"/><circle cx="553.0" cy="916.7" r="7"/><circle cx="556.0" cy="915.6" r="7"/><circle cx="559.0" cy="914.6" r="7"/><circle cx="562.0" cy="913.7" r="7"/><circle cx="565.0" cy="912.9" r="7"/><circle cx="568.0" cy="912.4" r="7"/><circle cx="571.0" cy="912.0" r="7"/><circle cx="574.0" cy="912.0" r="7"/><circle cx="577.0" cy="912.2" r="7"/><circle cx="580.0" cy="912.6" r="7"/><circle cx="583.0" cy="913.2" r="7"/><circle cx="586.0" cy="913.8" r="7"/><circle cx="589.0" cy="914.3" r="7"/><circle cx="592.0" cy="914.9" r="7"/><circle cx="595.0" cy="915.3" r="7"/><circle cx="598.0" cy="915.7" r="7"/><circle cx="601.0" cy="916.2" r="7"/><circle cx="604.0" cy="916.6" r="7"/><circle cx="607.0" cy="917.1" r="7"/><circle cx="610.0" cy="917.6" r="7"/><circle cx="613.0" cy="918.0" r="7"/><circle cx="616.0" cy="918.4" r="7"/><circle cx="619.0" cy="918.9" r="7"/><circle cx="622.0" cy="919.3" r="7"/><circle cx="625.0" cy="919.7" r="7"/><circle cx="628.0" cy="920.2" r="7"/><circle cx="631.0" cy="920.7" r="7"/><circle cx="634.0" cy="921.4" r="7"/><circle cx="637.0" cy="922.1" r="7"/><circle cx="640.0" cy="922.8" r="7"/><circle cx="643.0" cy="923.5" r="7"/><circle cx="646.0" cy="924.0" r="7"/><circle cx="649.0" cy="924.4" r="7"/><circle cx="652.0" cy="924.5" r="7"/><circle cx="655.0" cy="924.6" r="7"/><circle cx="658.0" cy="924.5" r="7"/><circle cx="661.0" cy="924.3" r="7"/><circle cx="664.0" cy="924.1" r="7"/><circle cx="667.0" cy="923.9" r="7"/><circle cx="670.0" cy="923.7" r="7"/><circle cx="673.0" cy="923.6" r="7"/><circle cx="676.0" cy="923.5" r="7"/><circle cx="679.0" cy="923.5" r="7"/><circle cx="682.0" cy="923.7" r="7"/><circle cx="685.0" cy="924.0" r="7"/><circle cx="688.0" cy="924.3" r="7"/><circle cx="691.0" cy="924.7" r="7"/><circle cx="694.0" cy="925.0" r="7"/><circle cx="697.0" cy="925.4" r="7"/><circle cx="700.0" cy="925.6" r="7"/><circle cx="703.0" cy="925.9" r="7"/><circle cx="706.0" cy="926.2" r="7"/><circle cx="709.0" cy="926.4" r="7"/><circle cx="712.0" cy="926.7" r="7"/><circle cx="715.0" cy="926.9" r="7"/><circle cx="718.0" cy="927.2" r="7"/></g>
<path d="M131.9,934.0 133.4,933.9 134.9,933.9 136.4,933.8 137.9,933.8 139.4,933.7 140.9,933.6 142.4,933.6 143.9,933.5 145.4,933.4 146.9,933.3 148.4,933.1 149.9,933.0 151.4,932.8 152.9,932.6 154.4,932.4 155.9,932.2 157.4,931.9 158.9,931.7 160.4,931.5 161.9,931.2 163.4,931.0 164.9,930.7 166.4,930.5 167.9,930.2 169.4,930.0 170.9,929.8 172.4,929.6 173.9,929.4 175.4,929.1 176.9,928.9 178.4,928.7 179.9,928.5 181.4,928.3 182.9,928.0 184.4,927.8 185.9,927.6 187.4,927.3 188.9,927.1 190.4,926.8 191.9,926.5 193.4,926.3 194.9,926.0 196.4,925.7 197.9,925.4 199.4,925.1 200.9,924.9 202.4,924.6 203.9,924.3 205.4,924.1 206.9,923.8 208.4,923.6 209.9,923.4 211.4,923.2 212.9,923.0 214.4,922.8 215.9,922.7 217.4,922.5 218.9,922.3 220.4,922.1 221.9,921.9 223.4,921.6 224.9,921.3 226.4,921.0 227.9,920.7 229.4,920.4 230.9,920.1 232.4,919.7 233.9,919.3 235.4,919.0 236.9,918.6 238.4,918.1 239.9,917.7 241.4,917.3 242.9,916.8 244.4,916.3 245.9,915.9 247.4,915.4 248.9,914.9 250.4,914.4 251.9,913.9 253.4,913.3 254.9,912.7 256.4,912.1 257.9,911.3 259.4,910.5 260.9,909.6 262.4,908.5 263.9,907.3 265.4,906.1 266.9,904.8 268.4,903.4 269.9,902.0 271.4,900.6 272.9,899.2 274.4,897.8 275.9,896.4 277.4,895.0 278.9,893.5 280.4,892.0 281.9,890.4 283.4,888.6 284.9,886.7 286.4,884.6 287.9,882.5 289.4,880.3 290.9,878.1 292.4,876.0 293.9,873.8 295.4,871.7 296.9,869.6 298.4,867.4 299.9,865.3 301.4,863.3 302.9,861.4 304.4,859.5 305.9,857.7 307.4,855.9 308.9,854.1 310.4,852.4 311.9,850.6 313.4,848.8 314.9,846.9 316.4,845.0 317.9,843.2 319.4,841.4 320.9,839.8 322.4,838.2 323.9,836.7 325.4,835.2 326.9,833.8 328.4,832.6 329.9,831.4 331.4,830.4 332.9,829.5 334.4,828.6 335.9,827.9 337.4,827.3 338.9,826.9 340.4,826.5 341.9,826.4 343.4,826.6 344.9,827.1 346.4,828.1 347.9,829.7 349.4,831.8 350.9,834.0 352.4,836.1 353.9,838.4 355.4,841.0 356.9,844.0 358.4,847.2 359.9,850.4 361.4,853.7 362.9,857.1 364.4,860.6 365.9,864.3 367.4,868.0 368.9,872.0 370.4,876.1 371.9,880.4 373.4,884.9 374.9,889.5 376.4,894.1 377.9,898.8 379.4,903.5 380.9,908.4 382.4,913.5 383.9,919.4 385.4,924.5 386.9,926.2 388.4,924.2 389.9,920.0 391.4,915.4 392.9,910.9 394.4,906.2 395.9,901.6 397.4,897.5 398.9,893.9 400.4,890.7 401.9,887.8 403.4,885.1 404.9,882.6 406.4,880.3 407.9,878.1 409.4,876.3 410.9,874.7 412.4,873.5 413.9,872.6 415.4,871.8 416.9,871.3 418.4,871.1 419.9,871.1 421.4,871.3 422.9,871.8 424.4,872.5 425.9,873.4 427.4,874.7 428.9,876.1 430.4,877.9 431.9,879.8 433.4,881.8 434.9,883.9 436.4,885.9 437.9,887.9 439.4,889.9 440.9,892.0 442.4,894.1 443.9,896.2 445.4,898.3 446.9,900.4 448.4,902.5 449.9,904.6 451.4,906.7 452.9,908.7 454.4,910.7 455.9,912.6 457.4,914.6 458.9,916.5 460.4,918.2 461.9,919.6 463.4,920.6 464.9,921.2 466.4,921.6 467.9,921.8 469.4,921.9 470.9,922.0 472.4,922.1 473.9,922.4 475.4,922.6 476.9,922.8 478.4,922.9 479.9,923.2 481.4,923.4 482.9,923.7 484.4,924.0 485.9,924.4 487.4,924.8 488.9,925.3 490.4,925.8 491.9,926.2 493.4,926.7 494.9,927.2 496.4,927.8 497.9,928.3 499.4,929.0 500.9,929.6 502.4,930.1 503.9,930.6 505.4,931.0 506.9,931.3 508.4,931.5 509.9,931.6 511.4,931.6 512.9,931.5 514.4,931.5 515.9,931.4 517.4,931.3 518.9,931.3 520.4,931.2 521.9,931.2 523.4,931.1 524.9,931.1 526.4,931.3 527.9,931.5 529.4,931.7 530.9,931.9 532.4,932.1 533.9,932.4 535.4,932.6 536.9,932.8 538.4,933.1 539.9,933.3 541.4,933.6 542.9,933.8 544.4,934.0 545.9,934.3 547.4,934.5 548.9,934.8 550.4,935.1 551.9,935.2 553.4,935.3 554.9,935.3 556.4,935.3 557.9,935.2 559.4,935.1 560.9,934.9 562.4,934.8 563.9,934.6 565.4,934.5 566.9,934.3 568.4,934.2 569.9,934.1 571.4,934.1 572.9,934.0 574.4,934.0 575.9,934.1 577.4,934.2 578.9,934.3 580.4,934.5 581.9,934.6 583.4,934.8 584.9,934.9 586.4,935.0 587.9,935.2 589.4,935.3 590.9,935.3 592.4,935.3 593.9,935.3 595.4,935.3 596.9,935.2 598.4,935.1 599.9,935.0 601.4,934.8 602.9,934.7 604.4,934.6 605.9,934.4 607.4,934.3 608.9,934.3 610.4,934.2 611.9,934.2 613.4,934.2 614.9,934.3 616.4,934.3 617.9,934.4 619.4,934.4 620.9,934.5 622.4,934.6 623.9,934.7 625.4,934.7 626.9,934.8 628.4,934.9 629.9,935.0 631.4,935.1 632.9,935.2 634.4,935.2 635.9,935.3 637.4,935.3 638.9,935.3 640.4,935.4 641.9,935.4 643.4,935.3 644.9,935.3 646.4,935.3 647.9,935.3 649.4,935.2 650.9,935.2 652.4,935.1 653.9,935.0 655.4,935.0 656.9,934.9 658.4,934.9 659.9,934.8 661.4,934.8 662.9,934.7 664.4,934.7 665.9,934.6 667.4,934.6 668.9,934.6 670.4,934.6 671.9,934.6 673.4,934.6 674.9,934.7 676.4,934.7 677.9,934.7 679.4,934.8 680.9,934.8 682.4,934.9 683.9,934.9 685.4,934.9 686.9,935.0 688.4,935.0 689.9,935.0 691.4,935.0 692.9,935.0 694.4,935.0 695.9,935.0 697.4,935.0 698.9,935.0 700.4,935.0 701.9,935.0 703.4,935.0 704.9,935.0 706.4,935.0 707.9,935.0 709.4,935.0 710.9,935.0 712.4,935.0 713.9,935.0 715.4,935.0 716.9,935.0 718.4,935.0 719.9,935.0" fill="none" stroke="#111111" stroke-width="3.7" stroke-linejoin="round"/>
</g>
<rect x="966.8" y="676.6" width="589.4" height="474.9" fill="none" stroke="#000" stroke-width="3.2"/>
<line x1="966.8" y1="1151.5" x2="966.8" y2="1160.7" stroke="#000" stroke-width="2.9"/>
<text transform="translate(966.8,1190.8) scale(0.9,1)" text-anchor="middle" font-size="31.8" stroke="#000" stroke-width="0.4">0</text>
<line x1="1015.9" y1="1151.5" x2="1015.9" y2="1155.7" stroke="#000" stroke-width="2.9"/>
<line x1="1065.0" y1="1151.5" x2="1065.0" y2="1160.7" stroke="#000" stroke-width="2.9"/>
<text transform="translate(1065.0,1190.8) scale(0.9,1)" text-anchor="middle" font-size="31.8" stroke="#000" stroke-width="0.4">1</text>
<line x1="1114.2" y1="1151.5" x2="1114.2" y2="1155.7" stroke="#000" stroke-width="2.9"/>
<line x1="1163.3" y1="1151.5" x2="1163.3" y2="1160.7" stroke="#000" stroke-width="2.9"/>
<text transform="translate(1163.3,1190.8) scale(0.9,1)" text-anchor="middle" font-size="31.8" stroke="#000" stroke-width="0.4">2</text>
<line x1="1212.4" y1="1151.5" x2="1212.4" y2="1155.7" stroke="#000" stroke-width="2.9"/>
<line x1="1261.5" y1="1151.5" x2="1261.5" y2="1160.7" stroke="#000" stroke-width="2.9"/>
<text transform="translate(1261.5,1190.8) scale(0.9,1)" text-anchor="middle" font-size="31.8" stroke="#000" stroke-width="0.4">3</text>
<line x1="1310.6" y1="1151.5" x2="1310.6" y2="1155.7" stroke="#000" stroke-width="2.9"/>
<line x1="1359.7" y1="1151.5" x2="1359.7" y2="1160.7" stroke="#000" stroke-width="2.9"/>
<text transform="translate(1359.7,1190.8) scale(0.9,1)" text-anchor="middle" font-size="31.8" stroke="#000" stroke-width="0.4">4</text>
<line x1="1408.8" y1="1151.5" x2="1408.8" y2="1155.7" stroke="#000" stroke-width="2.9"/>
<line x1="1458.0" y1="1151.5" x2="1458.0" y2="1160.7" stroke="#000" stroke-width="2.9"/>
<text transform="translate(1458.0,1190.8) scale(0.9,1)" text-anchor="middle" font-size="31.8" stroke="#000" stroke-width="0.4">5</text>
<line x1="1507.1" y1="1151.5" x2="1507.1" y2="1155.7" stroke="#000" stroke-width="2.9"/>
<line x1="1556.2" y1="1151.5" x2="1556.2" y2="1160.7" stroke="#000" stroke-width="2.9"/>
<text transform="translate(1556.2,1190.8) scale(0.9,1)" text-anchor="middle" font-size="31.8" stroke="#000" stroke-width="0.4">6</text>
<text x="1262.3" y="1220.0" text-anchor="middle" font-size="25" stroke="#000" stroke-width="0.4">R (&#197;)</text>
<line x1="921.6" y1="1000.8" x2="946.3" y2="1000.8" stroke="#222" stroke-width="1.3"/>
<line x1="921.6" y1="865.8" x2="946.3" y2="865.8" stroke="#222" stroke-width="1.3"/>
<text transform="translate(944.6,997.6) rotate(-90)" font-size="24.5" stroke="#000" stroke-width="0.3" textLength="125" lengthAdjust="spacingAndGlyphs">FT(<tspan font-style="italic">k</tspan><tspan dy="-9" font-size="17">2</tspan><tspan dy="9">*</tspan>&#967;(<tspan font-style="italic">k</tspan>))</text>
<text transform="translate(944.6,859.2) rotate(-90)" font-size="24.5" stroke="#000" stroke-width="0.3" textLength="58" lengthAdjust="spacingAndGlyphs">(a.u.)</text>
<text x="840.9" y="711.3" font-size="75" font-weight="normal" stroke="#000" stroke-width="2">c</text>
<line x1="1016.8" y1="691.7" x2="1070.8" y2="691.7" stroke="#E33A3F" stroke-width="3.2" stroke-linecap="round"/>
<text transform="translate(1079.3,699.9) scale(1.02,1)" font-size="23.4" stroke="#000" stroke-width="0.4">Pt-Si</text>
<line x1="1016.8" y1="722.7" x2="1070.8" y2="722.7" stroke="#2C5C98" stroke-width="3.2" stroke-linecap="round"/>
<text transform="translate(1079.3,730.9) scale(1.02,1)" font-size="23.4" stroke="#000" stroke-width="0.4">Pt-Sn</text>
<line x1="1016.8" y1="753.9" x2="1070.8" y2="753.9" stroke="#48526A" stroke-width="3.2" stroke-linecap="round"/>
<text transform="translate(1079.3,762.1) scale(1.02,1)" font-size="23.4" stroke="#000" stroke-width="0.4">Pt-Pt</text>
<circle cx="1198.2" cy="695.7" r="7.1" fill="none" stroke="#E4BF3A" stroke-width="1.3"/>
<text x="1230.4" y="703.8" font-size="22.2" stroke="#000" stroke-width="0.4">Pt-Sn@S-1(4.00 &#181;m)-PDH-1 h</text>
<line x1="1173.8" y1="724.5" x2="1221.8" y2="724.5" stroke="#111111" stroke-width="3.2" stroke-linecap="round"/>
<text x="1230.4" y="732.7" font-size="23.4" stroke="#000" stroke-width="0.4">Fitting</text>
<line x1="1173.8" y1="752.3" x2="1221.8" y2="752.3" stroke="#E2714D" stroke-width="3.2" stroke-linecap="round"/>
<text transform="translate(1230.4,760.5) scale(0.98,1)" font-size="23.4" stroke="#000" stroke-width="0.4">Pt-O</text>
<clipPath id="clipc"><rect x="966.8" y="676.6" width="589.4" height="474.9"/></clipPath>
<g clip-path="url(#clipc)">
<path d="M967.9,1146.4 969.4,1146.4 970.9,1146.4 972.4,1146.4 973.9,1146.4 975.4,1146.4 976.9,1146.4 978.4,1146.4 979.9,1146.4 981.4,1146.4 982.9,1146.4 984.4,1146.4 985.9,1146.4 987.4,1146.4 988.9,1146.4 990.4,1146.4 991.9,1146.4 993.4,1146.4 994.9,1146.4 996.4,1146.4 997.9,1146.4 999.4,1146.4 1000.9,1146.5 1002.4,1146.5 1003.9,1146.5 1005.4,1146.6 1006.9,1146.6 1008.4,1146.6 1009.9,1146.7 1011.4,1146.7 1012.9,1146.7 1014.4,1146.7 1015.9,1146.8 1017.4,1146.8 1018.9,1146.8 1020.4,1146.8 1021.9,1146.8 1023.4,1146.8 1024.9,1146.7 1026.4,1146.7 1027.9,1146.7 1029.4,1146.6 1030.9,1146.6 1032.4,1146.5 1033.9,1146.4 1035.4,1146.4 1036.9,1146.3 1038.4,1146.2 1039.9,1146.2 1041.4,1146.1 1042.9,1146.0 1044.4,1146.0 1045.9,1145.9 1047.4,1145.9 1048.9,1145.8 1050.4,1145.8 1051.9,1145.8 1053.4,1145.8 1054.9,1145.9 1056.4,1145.9 1057.9,1146.0 1059.4,1146.0 1060.9,1146.1 1062.4,1146.2 1063.9,1146.3 1065.4,1146.4 1066.9,1146.5 1068.4,1146.6 1069.9,1146.7 1071.4,1146.7 1072.9,1146.8 1074.4,1146.8 1075.9,1146.8 1077.4,1146.8 1078.9,1146.7 1080.4,1146.6 1081.9,1146.5 1083.4,1146.4 1084.9,1146.2 1086.4,1146.1 1087.9,1145.9 1089.4,1145.7 1090.9,1145.5 1092.4,1145.4 1093.9,1145.2 1095.4,1145.1 1096.9,1145.0 1098.4,1144.9 1099.9,1144.9 1101.4,1144.9 1102.9,1144.9 1104.4,1145.0 1105.9,1145.1 1107.4,1145.3 1108.9,1145.4 1110.4,1145.6 1111.9,1145.7 1113.4,1145.8 1114.9,1145.9 1116.4,1145.9 1117.9,1145.9 1119.4,1145.7 1120.9,1145.5 1122.4,1145.2 1123.9,1144.9 1125.4,1144.4 1126.9,1144.0 1128.4,1143.5 1129.9,1143.0 1131.4,1142.5 1132.9,1142.0 1134.4,1141.6 1135.9,1141.2 1137.4,1140.8 1138.9,1140.4 1140.4,1140.0 1141.9,1139.6 1143.4,1139.3 1144.9,1138.9 1146.4,1138.5 1147.9,1138.2 1149.4,1137.8 1150.9,1137.5 1152.4,1137.3 1153.9,1137.0 1155.4,1136.8 1156.9,1136.6 1158.4,1136.4 1159.9,1136.1 1161.4,1135.8 1162.9,1135.5 1164.4,1135.1 1165.9,1134.6 1167.4,1134.0 1168.9,1133.5 1170.4,1132.8 1171.9,1132.1 1173.4,1131.4 1174.9,1130.7 1176.4,1130.0 1177.9,1129.3 1179.4,1128.6 1180.9,1127.9 1182.4,1127.2 1183.9,1126.5 1185.4,1125.8 1186.9,1125.0 1188.4,1124.4 1189.9,1123.7 1191.4,1123.2 1192.9,1122.7 1194.4,1122.3 1195.9,1122.0 1197.4,1121.7 1198.9,1121.6 1200.4,1121.5 1201.9,1121.6 1203.4,1121.8 1204.9,1122.1 1206.4,1122.6 1207.9,1123.1 1209.4,1123.7 1210.9,1124.4 1212.4,1125.3 1213.9,1126.2 1215.4,1127.2 1216.9,1128.3 1218.4,1129.4 1219.9,1130.4 1221.4,1131.4 1222.9,1132.4 1224.4,1133.3 1225.9,1134.2 1227.4,1135.1 1228.9,1136.0 1230.4,1136.7 1231.9,1137.3 1233.4,1137.6 1234.9,1137.7 1236.4,1137.5 1237.9,1137.1 1239.4,1136.5 1240.9,1135.9 1242.4,1135.3 1243.9,1134.7 1245.4,1134.1 1246.9,1133.5 1248.4,1132.8 1249.9,1132.3 1251.4,1131.9 1252.9,1131.7 1254.4,1131.7 1255.9,1131.8 1257.4,1131.9 1258.9,1132.1 1260.4,1132.3 1261.9,1132.6 1263.4,1132.9 1264.9,1133.2 1266.4,1133.6 1267.9,1134.0 1269.4,1134.4 1270.9,1134.8 1272.4,1135.3 1273.9,1135.9 1275.4,1136.5 1276.9,1137.3 1278.4,1138.0 1279.9,1138.8 1281.4,1139.5 1282.9,1140.3 1284.4,1140.9 1285.9,1141.5 1287.4,1141.9 1288.9,1142.2 1290.4,1142.4 1291.9,1142.4 1293.4,1142.3 1294.9,1142.1 1296.4,1141.9 1297.9,1141.7 1299.4,1141.5 1300.9,1141.2 1302.4,1141.1 1303.9,1141.0 1305.4,1141.0 1306.9,1141.2 1308.4,1141.4 1309.9,1141.6 1311.4,1141.9 1312.9,1142.2 1314.4,1142.6 1315.9,1142.9 1317.4,1143.3 1318.9,1143.7 1320.4,1144.0 1321.9,1144.4 1323.4,1144.7 1324.9,1145.0 1326.4,1145.2 1327.9,1145.3 1329.4,1145.4 1330.9,1145.5 1332.4,1145.4 1333.9,1145.3 1335.4,1145.1 1336.9,1145.0 1338.4,1144.8 1339.9,1144.5 1341.4,1144.3 1342.9,1144.2 1344.4,1144.0 1345.9,1143.9 1347.4,1143.9 1348.9,1144.0 1350.4,1144.1 1351.9,1144.2 1353.4,1144.4 1354.9,1144.6 1356.4,1144.8 1357.9,1145.1 1359.4,1145.3 1360.9,1145.5 1362.4,1145.8 1363.9,1146.0 1365.4,1146.1 1366.9,1146.3 1368.4,1146.4 1369.9,1146.4 1371.4,1146.4 1372.9,1146.3 1374.4,1146.2 1375.9,1146.0 1377.4,1145.9 1378.9,1145.7 1380.4,1145.5 1381.9,1145.4 1383.4,1145.3 1384.9,1145.1 1386.4,1145.1 1387.9,1145.1 1389.4,1145.1 1390.9,1145.2 1392.4,1145.3 1393.9,1145.4 1395.4,1145.5 1396.9,1145.7 1398.4,1145.9 1399.9,1146.0 1401.4,1146.2 1402.9,1146.4 1404.4,1146.5 1405.9,1146.6 1407.4,1146.7 1408.9,1146.8 1410.4,1146.8 1411.9,1146.7 1413.4,1146.7 1414.9,1146.6 1416.4,1146.5 1417.9,1146.4 1419.4,1146.3 1420.9,1146.1 1422.4,1146.0 1423.9,1145.9 1425.4,1145.9 1426.9,1145.8 1428.4,1145.8 1429.9,1145.9 1431.4,1145.9 1432.9,1146.0 1434.4,1146.1 1435.9,1146.2 1437.4,1146.3 1438.9,1146.5 1440.4,1146.6 1441.9,1146.7 1443.4,1146.8 1444.9,1146.9 1446.4,1146.9 1447.9,1147.0 1449.4,1147.0 1450.9,1147.0 1452.4,1147.0 1453.9,1147.0 1455.4,1146.9 1456.9,1146.9 1458.4,1146.9 1459.9,1146.9 1461.4,1146.8 1462.9,1146.8 1464.4,1146.8 1465.9,1146.7 1467.4,1146.7 1468.9,1146.7 1470.4,1146.6 1471.9,1146.6 1473.4,1146.6 1474.9,1146.5 1476.4,1146.5 1477.9,1146.5 1479.4,1146.4 1480.9,1146.4 1482.4,1146.4 1483.9,1146.4 1485.4,1146.4 1486.9,1146.4 1488.4,1146.4 1489.9,1146.4 1491.4,1146.4 1492.9,1146.4 1494.4,1146.5 1495.9,1146.5 1497.4,1146.5 1498.9,1146.5 1500.4,1146.6 1501.9,1146.6 1503.4,1146.6 1504.9,1146.7 1506.4,1146.7 1507.9,1146.7 1509.4,1146.8 1510.9,1146.8 1512.4,1146.8 1513.9,1146.8 1515.4,1146.9 1516.9,1146.9 1518.4,1146.9 1519.9,1146.9 1521.4,1146.9 1522.9,1147.0 1524.4,1147.0 1525.9,1147.0 1527.4,1147.0 1528.9,1147.0 1530.4,1147.0 1531.9,1147.0 1533.4,1147.0 1534.9,1147.0 1536.4,1146.9 1537.9,1146.9 1539.4,1146.9 1540.9,1146.9 1542.4,1146.9 1543.9,1146.9 1545.4,1146.9 1546.9,1146.8 1548.4,1146.8 1549.9,1146.8 1551.4,1146.8 1552.9,1146.8 1554.4,1146.8 1555.9,1146.8" fill="none" stroke="#48526A" stroke-width="3.5" stroke-linejoin="round"/>
<path d="M967.9,1104.3 969.4,1104.3 970.9,1104.3 972.4,1104.3 973.9,1104.2 975.4,1104.2 976.9,1104.2 978.4,1104.2 979.9,1104.2 981.4,1104.2 982.9,1104.1 984.4,1104.1 985.9,1104.1 987.4,1104.1 988.9,1104.1 990.4,1104.1 991.9,1104.1 993.4,1104.0 994.9,1104.0 996.4,1104.0 997.9,1104.0 999.4,1104.0 1000.9,1104.0 1002.4,1103.9 1003.9,1103.9 1005.4,1103.9 1006.9,1103.9 1008.4,1103.9 1009.9,1103.9 1011.4,1103.9 1012.9,1103.9 1014.4,1103.8 1015.9,1103.8 1017.4,1103.8 1018.9,1103.8 1020.4,1103.8 1021.9,1103.8 1023.4,1103.8 1024.9,1103.8 1026.4,1103.8 1027.9,1103.8 1029.4,1103.8 1030.9,1103.7 1032.4,1103.7 1033.9,1103.7 1035.4,1103.6 1036.9,1103.6 1038.4,1103.5 1039.9,1103.5 1041.4,1103.4 1042.9,1103.3 1044.4,1103.2 1045.9,1103.2 1047.4,1103.1 1048.9,1103.0 1050.4,1102.8 1051.9,1102.7 1053.4,1102.6 1054.9,1102.5 1056.4,1102.3 1057.9,1102.2 1059.4,1102.0 1060.9,1101.9 1062.4,1101.7 1063.9,1101.5 1065.4,1101.3 1066.9,1101.1 1068.4,1100.9 1069.9,1100.7 1071.4,1100.4 1072.9,1100.2 1074.4,1099.9 1075.9,1099.6 1077.4,1099.3 1078.9,1098.9 1080.4,1098.6 1081.9,1098.2 1083.4,1097.8 1084.9,1097.4 1086.4,1096.9 1087.9,1096.5 1089.4,1096.0 1090.9,1095.5 1092.4,1094.9 1093.9,1094.4 1095.4,1093.7 1096.9,1093.1 1098.4,1092.4 1099.9,1091.8 1101.4,1091.1 1102.9,1090.4 1104.4,1089.8 1105.9,1089.1 1107.4,1088.5 1108.9,1087.9 1110.4,1087.4 1111.9,1086.9 1113.4,1086.5 1114.9,1086.1 1116.4,1085.7 1117.9,1085.3 1119.4,1084.9 1120.9,1084.6 1122.4,1084.3 1123.9,1084.0 1125.4,1083.8 1126.9,1083.6 1128.4,1083.4 1129.9,1083.3 1131.4,1083.2 1132.9,1083.2 1134.4,1083.3 1135.9,1083.5 1137.4,1083.7 1138.9,1083.9 1140.4,1084.3 1141.9,1084.6 1143.4,1085.0 1144.9,1085.5 1146.4,1086.0 1147.9,1086.6 1149.4,1087.2 1150.9,1087.9 1152.4,1088.6 1153.9,1089.3 1155.4,1090.0 1156.9,1090.7 1158.4,1091.4 1159.9,1092.2 1161.4,1093.0 1162.9,1093.9 1164.4,1094.7 1165.9,1095.6 1167.4,1096.3 1168.9,1097.1 1170.4,1097.7 1171.9,1098.3 1173.4,1098.8 1174.9,1099.2 1176.4,1099.5 1177.9,1099.9 1179.4,1100.2 1180.9,1100.4 1182.4,1100.7 1183.9,1100.9 1185.4,1101.1 1186.9,1101.3 1188.4,1101.5 1189.9,1101.7 1191.4,1101.9 1192.9,1102.0 1194.4,1102.2 1195.9,1102.4 1197.4,1102.6 1198.9,1102.8 1200.4,1103.0 1201.9,1103.2 1203.4,1103.3 1204.9,1103.5 1206.4,1103.6 1207.9,1103.8 1209.4,1103.9 1210.9,1104.0 1212.4,1104.1 1213.9,1104.2 1215.4,1104.3 1216.9,1104.4 1218.4,1104.5 1219.9,1104.6 1221.4,1104.6 1222.9,1104.7 1224.4,1104.7 1225.9,1104.8 1227.4,1104.8 1228.9,1104.9 1230.4,1104.9 1231.9,1105.0 1233.4,1105.0 1234.9,1105.0 1236.4,1105.1 1237.9,1105.1 1239.4,1105.1 1240.9,1105.2 1242.4,1105.2 1243.9,1105.3 1245.4,1105.3 1246.9,1105.4 1248.4,1105.4 1249.9,1105.4 1251.4,1105.5 1252.9,1105.5 1254.4,1105.6 1255.9,1105.6 1257.4,1105.7 1258.9,1105.7 1260.4,1105.8 1261.9,1105.8 1263.4,1105.9 1264.9,1105.9 1266.4,1106.0 1267.9,1106.0 1269.4,1106.1 1270.9,1106.1 1272.4,1106.1 1273.9,1106.2 1275.4,1106.2 1276.9,1106.3 1278.4,1106.3 1279.9,1106.4 1281.4,1106.4 1282.9,1106.5 1284.4,1106.5 1285.9,1106.5 1287.4,1106.6 1288.9,1106.6 1290.4,1106.7 1291.9,1106.7 1293.4,1106.7 1294.9,1106.8 1296.4,1106.8 1297.9,1106.9 1299.4,1106.9 1300.9,1106.9 1302.4,1107.0 1303.9,1107.0 1305.4,1107.0 1306.9,1107.1 1308.4,1107.1 1309.9,1107.1 1311.4,1107.1 1312.9,1107.2 1314.4,1107.2 1315.9,1107.2 1317.4,1107.2 1318.9,1107.2 1320.4,1107.3 1321.9,1107.3 1323.4,1107.3 1324.9,1107.3 1326.4,1107.3 1327.9,1107.3 1329.4,1107.4 1330.9,1107.4 1332.4,1107.4 1333.9,1107.4 1335.4,1107.4 1336.9,1107.4 1338.4,1107.4 1339.9,1107.4 1341.4,1107.4 1342.9,1107.4 1344.4,1107.4 1345.9,1107.4 1347.4,1107.4 1348.9,1107.4 1350.4,1107.4 1351.9,1107.5 1353.4,1107.5 1354.9,1107.5 1356.4,1107.5 1357.9,1107.5 1359.4,1107.5 1360.9,1107.5 1362.4,1107.5 1363.9,1107.5 1365.4,1107.5 1366.9,1107.5 1368.4,1107.5 1369.9,1107.5 1371.4,1107.5 1372.9,1107.5 1374.4,1107.5 1375.9,1107.5 1377.4,1107.5 1378.9,1107.5 1380.4,1107.5 1381.9,1107.5 1383.4,1107.5 1384.9,1107.5 1386.4,1107.5 1387.9,1107.5 1389.4,1107.5 1390.9,1107.6 1392.4,1107.6 1393.9,1107.6 1395.4,1107.6 1396.9,1107.6 1398.4,1107.6 1399.9,1107.6 1401.4,1107.6 1402.9,1107.6 1404.4,1107.6 1405.9,1107.7 1407.4,1107.7 1408.9,1107.7 1410.4,1107.7 1411.9,1107.7 1413.4,1107.7 1414.9,1107.7 1416.4,1107.7 1417.9,1107.8 1419.4,1107.8 1420.9,1107.8 1422.4,1107.8 1423.9,1107.8 1425.4,1107.8 1426.9,1107.8 1428.4,1107.8 1429.9,1107.8 1431.4,1107.9 1432.9,1107.9 1434.4,1107.9 1435.9,1107.9 1437.4,1107.9 1438.9,1107.9 1440.4,1107.9 1441.9,1107.9 1443.4,1108.0 1444.9,1108.0 1446.4,1108.0 1447.9,1108.0 1449.4,1108.0 1450.9,1108.0 1452.4,1108.0 1453.9,1108.0 1455.4,1108.0 1456.9,1108.1 1458.4,1108.1 1459.9,1108.1 1461.4,1108.1 1462.9,1108.1 1464.4,1108.1 1465.9,1108.1 1467.4,1108.1 1468.9,1108.1 1470.4,1108.2 1471.9,1108.2 1473.4,1108.2 1474.9,1108.2 1476.4,1108.2 1477.9,1108.2 1479.4,1108.2 1480.9,1108.2 1482.4,1108.2 1483.9,1108.2 1485.4,1108.3 1486.9,1108.3 1488.4,1108.3 1489.9,1108.3 1491.4,1108.3 1492.9,1108.3 1494.4,1108.3 1495.9,1108.3 1497.4,1108.3 1498.9,1108.3 1500.4,1108.3 1501.9,1108.4 1503.4,1108.4 1504.9,1108.4 1506.4,1108.4 1507.9,1108.4 1509.4,1108.4 1510.9,1108.4 1512.4,1108.4 1513.9,1108.4 1515.4,1108.4 1516.9,1108.5 1518.4,1108.5 1519.9,1108.5 1521.4,1108.5 1522.9,1108.5 1524.4,1108.5 1525.9,1108.5 1527.4,1108.5 1528.9,1108.5 1530.4,1108.5 1531.9,1108.5 1533.4,1108.6 1534.9,1108.6 1536.4,1108.6 1537.9,1108.6 1539.4,1108.6 1540.9,1108.6 1542.4,1108.6 1543.9,1108.6 1545.4,1108.6 1546.9,1108.6 1548.4,1108.7 1549.9,1108.7 1551.4,1108.7 1552.9,1108.7 1554.4,1108.7 1555.9,1108.7" fill="none" stroke="#E2714D" stroke-width="3.5" stroke-linejoin="round"/>
<path d="M967.9,1074.7 969.4,1074.7 970.9,1074.8 972.4,1074.9 973.9,1075.0 975.4,1075.1 976.9,1075.2 978.4,1075.3 979.9,1075.4 981.4,1075.5 982.9,1075.6 984.4,1075.6 985.9,1075.6 987.4,1075.6 988.9,1075.6 990.4,1075.5 991.9,1075.4 993.4,1075.2 994.9,1075.0 996.4,1074.8 997.9,1074.6 999.4,1074.3 1000.9,1074.1 1002.4,1073.9 1003.9,1073.6 1005.4,1073.5 1006.9,1073.3 1008.4,1073.2 1009.9,1073.1 1011.4,1073.1 1012.9,1073.2 1014.4,1073.2 1015.9,1073.3 1017.4,1073.5 1018.9,1073.6 1020.4,1073.8 1021.9,1073.9 1023.4,1074.1 1024.9,1074.3 1026.4,1074.4 1027.9,1074.5 1029.4,1074.6 1030.9,1074.6 1032.4,1074.6 1033.9,1074.6 1035.4,1074.5 1036.9,1074.4 1038.4,1074.2 1039.9,1074.0 1041.4,1073.8 1042.9,1073.6 1044.4,1073.4 1045.9,1073.1 1047.4,1072.9 1048.9,1072.7 1050.4,1072.5 1051.9,1072.3 1053.4,1072.1 1054.9,1072.0 1056.4,1071.9 1057.9,1071.8 1059.4,1071.8 1060.9,1071.8 1062.4,1072.0 1063.9,1072.1 1065.4,1072.3 1066.9,1072.5 1068.4,1072.7 1069.9,1072.9 1071.4,1073.1 1072.9,1073.2 1074.4,1073.3 1075.9,1073.3 1077.4,1073.3 1078.9,1073.1 1080.4,1073.0 1081.9,1072.8 1083.4,1072.5 1084.9,1072.2 1086.4,1071.9 1087.9,1071.6 1089.4,1071.3 1090.9,1071.0 1092.4,1070.7 1093.9,1070.5 1095.4,1070.3 1096.9,1070.1 1098.4,1070.0 1099.9,1069.9 1101.4,1069.9 1102.9,1070.1 1104.4,1070.3 1105.9,1070.7 1107.4,1071.0 1108.9,1071.4 1110.4,1071.8 1111.9,1072.1 1113.4,1072.3 1114.9,1072.4 1116.4,1072.4 1117.9,1072.2 1119.4,1071.9 1120.9,1071.5 1122.4,1071.0 1123.9,1070.5 1125.4,1069.9 1126.9,1069.2 1128.4,1068.6 1129.9,1067.9 1131.4,1067.3 1132.9,1066.7 1134.4,1066.2 1135.9,1065.7 1137.4,1065.3 1138.9,1065.0 1140.4,1064.9 1141.9,1064.9 1143.4,1064.9 1144.9,1065.1 1146.4,1065.2 1147.9,1065.4 1149.4,1065.4 1150.9,1065.4 1152.4,1065.2 1153.9,1064.9 1155.4,1064.2 1156.9,1063.2 1158.4,1062.0 1159.9,1060.6 1161.4,1059.0 1162.9,1057.2 1164.4,1055.3 1165.9,1053.3 1167.4,1051.2 1168.9,1049.3 1170.4,1047.4 1171.9,1045.8 1173.4,1044.3 1174.9,1043.0 1176.4,1041.8 1177.9,1040.7 1179.4,1039.7 1180.9,1038.9 1182.4,1038.1 1183.9,1037.5 1185.4,1037.1 1186.9,1037.0 1188.4,1037.0 1189.9,1037.4 1191.4,1038.1 1192.9,1039.0 1194.4,1040.2 1195.9,1041.6 1197.4,1043.5 1198.9,1045.7 1200.4,1048.3 1201.9,1051.1 1203.4,1054.1 1204.9,1057.7 1206.4,1061.7 1207.9,1065.6 1209.4,1068.6 1210.9,1070.0 1212.4,1069.4 1213.9,1067.0 1215.4,1063.3 1216.9,1058.9 1218.4,1054.5 1219.9,1050.5 1221.4,1046.6 1222.9,1042.7 1224.4,1038.7 1225.9,1034.9 1227.4,1031.2 1228.9,1027.5 1230.4,1023.9 1231.9,1020.4 1233.4,1017.0 1234.9,1013.8 1236.4,1011.0 1237.9,1008.5 1239.4,1006.5 1240.9,1004.8 1242.4,1003.4 1243.9,1002.2 1245.4,1001.3 1246.9,1000.9 1248.4,1000.9 1249.9,1001.2 1251.4,1001.8 1252.9,1002.7 1254.4,1003.8 1255.9,1005.3 1257.4,1007.2 1258.9,1009.4 1260.4,1011.7 1261.9,1014.1 1263.4,1016.4 1264.9,1018.9 1266.4,1021.4 1267.9,1024.0 1269.4,1026.8 1270.9,1029.8 1272.4,1032.9 1273.9,1035.9 1275.4,1038.8 1276.9,1041.4 1278.4,1043.8 1279.9,1046.0 1281.4,1048.1 1282.9,1050.0 1284.4,1051.7 1285.9,1053.2 1287.4,1054.5 1288.9,1055.5 1290.4,1056.2 1291.9,1056.7 1293.4,1056.9 1294.9,1057.1 1296.4,1057.2 1297.9,1057.5 1299.4,1057.8 1300.9,1058.2 1302.4,1058.6 1303.9,1059.0 1305.4,1059.5 1306.9,1060.1 1308.4,1060.8 1309.9,1061.6 1311.4,1062.5 1312.9,1063.4 1314.4,1064.3 1315.9,1065.1 1317.4,1065.8 1318.9,1066.5 1320.4,1067.1 1321.9,1067.7 1323.4,1068.2 1324.9,1068.6 1326.4,1068.9 1327.9,1069.0 1329.4,1069.0 1330.9,1068.8 1332.4,1068.5 1333.9,1068.2 1335.4,1067.8 1336.9,1067.6 1338.4,1067.4 1339.9,1067.3 1341.4,1067.3 1342.9,1067.3 1344.4,1067.3 1345.9,1067.4 1347.4,1067.6 1348.9,1067.7 1350.4,1068.0 1351.9,1068.3 1353.4,1068.7 1354.9,1069.1 1356.4,1069.6 1357.9,1070.0 1359.4,1070.5 1360.9,1071.0 1362.4,1071.4 1363.9,1071.8 1365.4,1072.2 1366.9,1072.4 1368.4,1072.6 1369.9,1072.8 1371.4,1072.8 1372.9,1072.7 1374.4,1072.6 1375.9,1072.4 1377.4,1072.2 1378.9,1071.9 1380.4,1071.7 1381.9,1071.5 1383.4,1071.4 1384.9,1071.4 1386.4,1071.4 1387.9,1071.6 1389.4,1071.7 1390.9,1071.9 1392.4,1072.2 1393.9,1072.5 1395.4,1072.8 1396.9,1073.1 1398.4,1073.4 1399.9,1073.7 1401.4,1074.0 1402.9,1074.2 1404.4,1074.5 1405.9,1074.7 1407.4,1074.9 1408.9,1075.0 1410.4,1075.0 1411.9,1075.0 1413.4,1074.9 1414.9,1074.7 1416.4,1074.5 1417.9,1074.3 1419.4,1074.1 1420.9,1073.9 1422.4,1073.8 1423.9,1073.7 1425.4,1073.7 1426.9,1073.8 1428.4,1073.9 1429.9,1074.0 1431.4,1074.2 1432.9,1074.3 1434.4,1074.5 1435.9,1074.7 1437.4,1074.8 1438.9,1075.0 1440.4,1075.2 1441.9,1075.3 1443.4,1075.4 1444.9,1075.5 1446.4,1075.6 1447.9,1075.6 1449.4,1075.6 1450.9,1075.5 1452.4,1075.4 1453.9,1075.3 1455.4,1075.1 1456.9,1074.9 1458.4,1074.8 1459.9,1074.6 1461.4,1074.5 1462.9,1074.4 1464.4,1074.3 1465.9,1074.3 1467.4,1074.3 1468.9,1074.4 1470.4,1074.5 1471.9,1074.6 1473.4,1074.8 1474.9,1075.0 1476.4,1075.1 1477.9,1075.3 1479.4,1075.5 1480.9,1075.7 1482.4,1075.8 1483.9,1075.9 1485.4,1076.0 1486.9,1076.0 1488.4,1076.0 1489.9,1076.0 1491.4,1076.0 1492.9,1075.9 1494.4,1075.9 1495.9,1075.8 1497.4,1075.8 1498.9,1075.7 1500.4,1075.6 1501.9,1075.6 1503.4,1075.5 1504.9,1075.5 1506.4,1075.4 1507.9,1075.3 1509.4,1075.3 1510.9,1075.3 1512.4,1075.2 1513.9,1075.2 1515.4,1075.2 1516.9,1075.2 1518.4,1075.2 1519.9,1075.2 1521.4,1075.3 1522.9,1075.3 1524.4,1075.3 1525.9,1075.3 1527.4,1075.3 1528.9,1075.4 1530.4,1075.4 1531.9,1075.4 1533.4,1075.5 1534.9,1075.5 1536.4,1075.5 1537.9,1075.6 1539.4,1075.6 1540.9,1075.6 1542.4,1075.7 1543.9,1075.7 1545.4,1075.8 1546.9,1075.8 1548.4,1075.8 1549.9,1075.9 1551.4,1075.9 1552.9,1075.9 1554.4,1076.0 1555.9,1076.0" fill="none" stroke="#2C5C98" stroke-width="3.5" stroke-linejoin="round"/>
<path d="M967.9,1001.9 969.4,1001.9 970.9,1001.8 972.4,1001.7 973.9,1001.6 975.4,1001.5 976.9,1001.4 978.4,1001.4 979.9,1001.3 981.4,1001.2 982.9,1001.1 984.4,1001.0 985.9,1000.9 987.4,1000.9 988.9,1000.8 990.4,1000.8 991.9,1000.7 993.4,1000.6 994.9,1000.5 996.4,1000.4 997.9,1000.3 999.4,1000.1 1000.9,999.9 1002.4,999.7 1003.9,999.5 1005.4,999.2 1006.9,998.9 1008.4,998.5 1009.9,998.2 1011.4,997.9 1012.9,997.6 1014.4,997.2 1015.9,996.9 1017.4,996.6 1018.9,996.3 1020.4,996.1 1021.9,995.8 1023.4,995.6 1024.9,995.4 1026.4,995.1 1027.9,994.9 1029.4,994.7 1030.9,994.5 1032.4,994.3 1033.9,994.1 1035.4,993.9 1036.9,993.6 1038.4,993.4 1039.9,993.1 1041.4,992.8 1042.9,992.5 1044.4,992.2 1045.9,991.9 1047.4,991.6 1048.9,991.3 1050.4,990.9 1051.9,990.6 1053.4,990.3 1054.9,990.0 1056.4,989.8 1057.9,989.5 1059.4,989.3 1060.9,989.1 1062.4,988.9 1063.9,988.7 1065.4,988.5 1066.9,988.4 1068.4,988.2 1069.9,988.0 1071.4,987.8 1072.9,987.6 1074.4,987.4 1075.9,987.1 1077.4,986.8 1078.9,986.5 1080.4,986.2 1081.9,985.8 1083.4,985.4 1084.9,985.0 1086.4,984.6 1087.9,984.1 1089.4,983.6 1090.9,983.1 1092.4,982.6 1093.9,982.1 1095.4,981.6 1096.9,981.0 1098.4,980.5 1099.9,979.9 1101.4,979.4 1102.9,978.9 1104.4,978.3 1105.9,977.8 1107.4,977.1 1108.9,976.5 1110.4,975.7 1111.9,974.8 1113.4,973.7 1114.9,972.5 1116.4,971.2 1117.9,969.7 1119.4,968.0 1120.9,966.3 1122.4,964.4 1123.9,962.4 1125.4,960.4 1126.9,958.4 1128.4,956.3 1129.9,954.3 1131.4,952.2 1132.9,950.2 1134.4,948.1 1135.9,946.0 1137.4,943.8 1138.9,941.5 1140.4,939.2 1141.9,936.9 1143.4,934.5 1144.9,932.1 1146.4,929.6 1147.9,927.0 1149.4,924.4 1150.9,921.8 1152.4,919.1 1153.9,916.3 1155.4,913.6 1156.9,910.9 1158.4,908.1 1159.9,905.4 1161.4,902.7 1162.9,900.0 1164.4,897.3 1165.9,894.6 1167.4,891.9 1168.9,889.1 1170.4,886.1 1171.9,883.3 1173.4,880.5 1174.9,878.0 1176.4,875.8 1177.9,873.9 1179.4,872.3 1180.9,870.9 1182.4,869.8 1183.9,868.9 1185.4,868.3 1186.9,868.0 1188.4,868.1 1189.9,868.7 1191.4,869.7 1192.9,871.1 1194.4,872.9 1195.9,875.3 1197.4,878.0 1198.9,881.2 1200.4,884.9 1201.9,889.0 1203.4,893.7 1204.9,898.8 1206.4,904.3 1207.9,909.9 1209.4,915.6 1210.9,921.4 1212.4,927.4 1213.9,933.5 1215.4,939.6 1216.9,945.7 1218.4,951.8 1219.9,957.6 1221.4,962.7 1222.9,967.2 1224.4,971.4 1225.9,975.5 1227.4,979.6 1228.9,983.8 1230.4,987.9 1231.9,991.6 1233.4,994.5 1234.9,996.3 1236.4,996.9 1237.9,996.3 1239.4,995.0 1240.9,993.6 1242.4,992.1 1243.9,990.7 1245.4,989.7 1246.9,988.9 1248.4,988.4 1249.9,988.2 1251.4,988.3 1252.9,988.7 1254.4,989.2 1255.9,989.8 1257.4,990.5 1258.9,991.3 1260.4,992.2 1261.9,993.2 1263.4,994.3 1264.9,995.4 1266.4,996.4 1267.9,997.3 1269.4,997.9 1270.9,998.3 1272.4,998.5 1273.9,998.3 1275.4,998.0 1276.9,997.5 1278.4,996.9 1279.9,996.3 1281.4,995.8 1282.9,995.4 1284.4,995.1 1285.9,995.0 1287.4,995.1 1288.9,995.2 1290.4,995.5 1291.9,995.8 1293.4,996.1 1294.9,996.4 1296.4,996.8 1297.9,997.2 1299.4,997.6 1300.9,998.1 1302.4,998.5 1303.9,999.0 1305.4,999.3 1306.9,999.5 1308.4,999.6 1309.9,999.5 1311.4,999.4 1312.9,999.2 1314.4,998.9 1315.9,998.7 1317.4,998.4 1318.9,998.1 1320.4,997.8 1321.9,997.6 1323.4,997.4 1324.9,997.3 1326.4,997.3 1327.9,997.4 1329.4,997.5 1330.9,997.7 1332.4,998.0 1333.9,998.3 1335.4,998.7 1336.9,999.1 1338.4,999.5 1339.9,999.9 1341.4,1000.3 1342.9,1000.7 1344.4,1001.0 1345.9,1001.3 1347.4,1001.6 1348.9,1001.8 1350.4,1001.9 1351.9,1001.9 1353.4,1001.8 1354.9,1001.6 1356.4,1001.3 1357.9,1001.0 1359.4,1000.7 1360.9,1000.4 1362.4,1000.2 1363.9,1000.1 1365.4,1000.1 1366.9,1000.1 1368.4,1000.2 1369.9,1000.3 1371.4,1000.4 1372.9,1000.6 1374.4,1000.8 1375.9,1001.0 1377.4,1001.2 1378.9,1001.4 1380.4,1001.6 1381.9,1001.8 1383.4,1002.0 1384.9,1002.1 1386.4,1002.3 1387.9,1002.4 1389.4,1002.5 1390.9,1002.5 1392.4,1002.5 1393.9,1002.5 1395.4,1002.4 1396.9,1002.3 1398.4,1002.2 1399.9,1002.0 1401.4,1001.9 1402.9,1001.8 1404.4,1001.7 1405.9,1001.6 1407.4,1001.6 1408.9,1001.6 1410.4,1001.6 1411.9,1001.7 1413.4,1001.8 1414.9,1002.0 1416.4,1002.1 1417.9,1002.3 1419.4,1002.5 1420.9,1002.7 1422.4,1002.8 1423.9,1003.0 1425.4,1003.1 1426.9,1003.2 1428.4,1003.3 1429.9,1003.3 1431.4,1003.3 1432.9,1003.3 1434.4,1003.3 1435.9,1003.2 1437.4,1003.1 1438.9,1003.1 1440.4,1003.0 1441.9,1003.0 1443.4,1002.9 1444.9,1002.9 1446.4,1002.9 1447.9,1002.9 1449.4,1003.0 1450.9,1003.0 1452.4,1003.1 1453.9,1003.2 1455.4,1003.3 1456.9,1003.4 1458.4,1003.5 1459.9,1003.5 1461.4,1003.6 1462.9,1003.7 1464.4,1003.8 1465.9,1003.8 1467.4,1003.9 1468.9,1003.9 1470.4,1003.9 1471.9,1004.0 1473.4,1004.0 1474.9,1004.0 1476.4,1004.0 1477.9,1004.0 1479.4,1004.1 1480.9,1004.1 1482.4,1004.1 1483.9,1004.1 1485.4,1004.1 1486.9,1004.1 1488.4,1004.1 1489.9,1004.1 1491.4,1004.1 1492.9,1004.1 1494.4,1004.2 1495.9,1004.2 1497.4,1004.2 1498.9,1004.2 1500.4,1004.2 1501.9,1004.2 1503.4,1004.2 1504.9,1004.2 1506.4,1004.3 1507.9,1004.3 1509.4,1004.3 1510.9,1004.3 1512.4,1004.3 1513.9,1004.3 1515.4,1004.4 1516.9,1004.4 1518.4,1004.4 1519.9,1004.4 1521.4,1004.4 1522.9,1004.4 1524.4,1004.5 1525.9,1004.5 1527.4,1004.5 1528.9,1004.5 1530.4,1004.5 1531.9,1004.5 1533.4,1004.6 1534.9,1004.6 1536.4,1004.6 1537.9,1004.6 1539.4,1004.6 1540.9,1004.6 1542.4,1004.7 1543.9,1004.7 1545.4,1004.7 1546.9,1004.7 1548.4,1004.7 1549.9,1004.7 1551.4,1004.8 1552.9,1004.8 1554.4,1004.8 1555.9,1004.8" fill="none" stroke="#E33A3F" stroke-width="3.5" stroke-linejoin="round"/>
<g fill="#fff" stroke="#E4BF3A" stroke-width="1.1"><circle cx="968.3" cy="946.6" r="7"/><circle cx="971.3" cy="947.0" r="7"/><circle cx="974.3" cy="947.6" r="7"/><circle cx="977.3" cy="948.3" r="7"/><circle cx="980.3" cy="949.6" r="7"/><circle cx="983.3" cy="951.3" r="7"/><circle cx="986.3" cy="952.7" r="7"/><circle cx="989.3" cy="953.0" r="7"/><circle cx="992.3" cy="952.1" r="7"/><circle cx="995.3" cy="950.4" r="7"/><circle cx="998.3" cy="948.5" r="7"/><circle cx="1001.3" cy="947.0" r="7"/><circle cx="1004.3" cy="945.7" r="7"/><circle cx="1007.3" cy="944.4" r="7"/><circle cx="1010.3" cy="943.7" r="7"/><circle cx="1013.3" cy="943.8" r="7"/><circle cx="1016.3" cy="944.7" r="7"/><circle cx="1019.3" cy="946.2" r="7"/><circle cx="1022.3" cy="947.8" r="7"/><circle cx="1025.3" cy="949.7" r="7"/><circle cx="1028.3" cy="952.1" r="7"/><circle cx="1031.3" cy="953.0" r="7"/><circle cx="1034.3" cy="951.5" r="7"/><circle cx="1037.3" cy="948.3" r="7"/><circle cx="1040.3" cy="943.7" r="7"/><circle cx="1043.3" cy="937.5" r="7"/><circle cx="1046.3" cy="931.3" r="7"/><circle cx="1049.3" cy="925.4" r="7"/><circle cx="1052.3" cy="919.7" r="7"/><circle cx="1055.3" cy="914.8" r="7"/><circle cx="1058.3" cy="911.5" r="7"/><circle cx="1061.3" cy="909.3" r="7"/><circle cx="1064.3" cy="907.7" r="7"/><circle cx="1067.3" cy="906.6" r="7"/><circle cx="1070.3" cy="905.8" r="7"/><circle cx="1073.3" cy="905.3" r="7"/><circle cx="1076.3" cy="905.3" r="7"/><circle cx="1079.3" cy="905.8" r="7"/><circle cx="1082.3" cy="906.8" r="7"/><circle cx="1085.3" cy="908.0" r="7"/><circle cx="1088.3" cy="909.1" r="7"/><circle cx="1091.3" cy="909.9" r="7"/><circle cx="1094.3" cy="910.7" r="7"/><circle cx="1097.3" cy="911.4" r="7"/><circle cx="1100.3" cy="912.1" r="7"/><circle cx="1103.3" cy="913.0" r="7"/><circle cx="1106.3" cy="913.7" r="7"/><circle cx="1109.3" cy="913.9" r="7"/><circle cx="1112.3" cy="913.4" r="7"/><circle cx="1115.3" cy="911.8" r="7"/><circle cx="1118.3" cy="908.3" r="7"/><circle cx="1121.3" cy="902.5" r="7"/><circle cx="1124.3" cy="895.9" r="7"/><circle cx="1127.3" cy="889.3" r="7"/><circle cx="1130.3" cy="882.5" r="7"/><circle cx="1133.3" cy="875.6" r="7"/><circle cx="1136.3" cy="868.4" r="7"/><circle cx="1139.3" cy="861.9" r="7"/><circle cx="1142.3" cy="857.1" r="7"/><circle cx="1145.3" cy="853.3" r="7"/><circle cx="1148.3" cy="850.2" r="7"/><circle cx="1151.3" cy="847.7" r="7"/><circle cx="1154.3" cy="846.1" r="7"/><circle cx="1157.3" cy="844.5" r="7"/><circle cx="1160.3" cy="842.1" r="7"/><circle cx="1163.3" cy="838.7" r="7"/><circle cx="1166.3" cy="834.5" r="7"/><circle cx="1169.3" cy="829.1" r="7"/><circle cx="1172.3" cy="822.8" r="7"/><circle cx="1175.3" cy="816.8" r="7"/><circle cx="1178.3" cy="811.0" r="7"/><circle cx="1181.3" cy="806.1" r="7"/><circle cx="1184.3" cy="803.1" r="7"/><circle cx="1187.3" cy="801.8" r="7"/><circle cx="1190.3" cy="802.4" r="7"/><circle cx="1193.3" cy="806.1" r="7"/><circle cx="1196.3" cy="812.5" r="7"/><circle cx="1199.3" cy="821.2" r="7"/><circle cx="1202.3" cy="830.9" r="7"/><circle cx="1205.3" cy="841.4" r="7"/><circle cx="1208.3" cy="862.4" r="7"/><circle cx="1211.3" cy="880.6" r="7"/><circle cx="1214.3" cy="897.5" r="7"/><circle cx="1217.3" cy="911.6" r="7"/><circle cx="1220.3" cy="922.9" r="7"/><circle cx="1223.3" cy="930.0" r="7"/><circle cx="1226.3" cy="928.6" r="7"/><circle cx="1229.3" cy="916.1" r="7"/><circle cx="1232.3" cy="891.8" r="7"/><circle cx="1235.3" cy="880.9" r="7"/><circle cx="1238.3" cy="870.6" r="7"/><circle cx="1241.3" cy="864.5" r="7"/><circle cx="1244.3" cy="861.3" r="7"/><circle cx="1247.3" cy="861.1" r="7"/><circle cx="1250.3" cy="863.3" r="7"/><circle cx="1253.3" cy="868.0" r="7"/><circle cx="1256.3" cy="875.3" r="7"/><circle cx="1259.3" cy="887.4" r="7"/><circle cx="1262.3" cy="899.5" r="7"/><circle cx="1265.3" cy="915.2" r="7"/><circle cx="1268.3" cy="926.7" r="7"/><circle cx="1271.3" cy="935.9" r="7"/><circle cx="1274.3" cy="939.5" r="7"/><circle cx="1277.3" cy="936.1" r="7"/><circle cx="1280.3" cy="932.7" r="7"/><circle cx="1283.3" cy="929.6" r="7"/><circle cx="1286.3" cy="926.7" r="7"/><circle cx="1289.3" cy="924.8" r="7"/><circle cx="1292.3" cy="924.9" r="7"/><circle cx="1295.3" cy="926.8" r="7"/><circle cx="1298.3" cy="929.6" r="7"/><circle cx="1301.3" cy="932.5" r="7"/><circle cx="1304.3" cy="936.3" r="7"/><circle cx="1307.3" cy="939.6" r="7"/><circle cx="1310.3" cy="940.4" r="7"/><circle cx="1313.3" cy="938.2" r="7"/><circle cx="1316.3" cy="934.4" r="7"/><circle cx="1319.3" cy="931.0" r="7"/><circle cx="1322.3" cy="928.2" r="7"/><circle cx="1325.3" cy="925.5" r="7"/><circle cx="1328.3" cy="923.0" r="7"/><circle cx="1331.3" cy="921.4" r="7"/><circle cx="1334.3" cy="921.0" r="7"/><circle cx="1337.3" cy="921.9" r="7"/><circle cx="1340.3" cy="923.6" r="7"/><circle cx="1343.3" cy="925.8" r="7"/><circle cx="1346.3" cy="928.7" r="7"/><circle cx="1349.3" cy="932.6" r="7"/><circle cx="1352.3" cy="936.4" r="7"/><circle cx="1355.3" cy="938.6" r="7"/><circle cx="1358.3" cy="938.8" r="7"/><circle cx="1361.3" cy="937.7" r="7"/><circle cx="1364.3" cy="936.0" r="7"/><circle cx="1367.3" cy="934.5" r="7"/><circle cx="1370.3" cy="933.8" r="7"/><circle cx="1373.3" cy="933.6" r="7"/><circle cx="1376.3" cy="934.0" r="7"/><circle cx="1379.3" cy="935.1" r="7"/><circle cx="1382.3" cy="937.5" r="7"/><circle cx="1385.3" cy="940.4" r="7"/><circle cx="1388.3" cy="942.3" r="7"/><circle cx="1391.3" cy="942.0" r="7"/><circle cx="1394.3" cy="939.5" r="7"/><circle cx="1397.3" cy="935.8" r="7"/><circle cx="1400.3" cy="932.3" r="7"/><circle cx="1403.3" cy="929.5" r="7"/><circle cx="1406.3" cy="926.8" r="7"/><circle cx="1409.3" cy="924.2" r="7"/><circle cx="1412.3" cy="922.0" r="7"/><circle cx="1415.3" cy="920.5" r="7"/><circle cx="1418.3" cy="920.0" r="7"/><circle cx="1421.3" cy="920.8" r="7"/><circle cx="1424.3" cy="922.6" r="7"/><circle cx="1427.3" cy="924.7" r="7"/><circle cx="1430.3" cy="927.3" r="7"/><circle cx="1433.3" cy="930.4" r="7"/><circle cx="1436.3" cy="933.7" r="7"/><circle cx="1439.3" cy="936.5" r="7"/><circle cx="1442.3" cy="938.7" r="7"/><circle cx="1445.3" cy="940.4" r="7"/><circle cx="1448.3" cy="941.5" r="7"/><circle cx="1451.3" cy="941.7" r="7"/><circle cx="1454.3" cy="941.2" r="7"/><circle cx="1457.3" cy="940.4" r="7"/><circle cx="1460.3" cy="939.8" r="7"/><circle cx="1463.3" cy="939.9" r="7"/><circle cx="1466.3" cy="940.5" r="7"/><circle cx="1469.3" cy="941.5" r="7"/><circle cx="1472.3" cy="942.7" r="7"/><circle cx="1475.3" cy="943.8" r="7"/><circle cx="1478.3" cy="944.6" r="7"/><circle cx="1481.3" cy="944.9" r="7"/><circle cx="1484.3" cy="944.5" r="7"/><circle cx="1487.3" cy="943.6" r="7"/><circle cx="1490.3" cy="942.2" r="7"/><circle cx="1493.3" cy="940.7" r="7"/><circle cx="1496.3" cy="939.2" r="7"/><circle cx="1499.3" cy="937.7" r="7"/><circle cx="1502.3" cy="936.0" r="7"/><circle cx="1505.3" cy="934.2" r="7"/><circle cx="1508.3" cy="932.6" r="7"/><circle cx="1511.3" cy="931.3" r="7"/><circle cx="1514.3" cy="930.6" r="7"/><circle cx="1517.3" cy="930.6" r="7"/><circle cx="1520.3" cy="931.0" r="7"/><circle cx="1523.3" cy="931.8" r="7"/><circle cx="1526.3" cy="932.8" r="7"/><circle cx="1529.3" cy="933.8" r="7"/><circle cx="1532.3" cy="934.7" r="7"/><circle cx="1535.3" cy="935.4" r="7"/><circle cx="1538.3" cy="936.0" r="7"/><circle cx="1541.3" cy="936.7" r="7"/><circle cx="1544.3" cy="937.3" r="7"/><circle cx="1547.3" cy="937.9" r="7"/><circle cx="1550.3" cy="938.6" r="7"/><circle cx="1553.3" cy="939.2" r="7"/></g>
<path d="M967.9,955.1 969.4,955.1 970.9,955.1 972.4,955.1 973.9,955.1 975.4,955.1 976.9,955.1 978.4,955.1 979.9,955.1 981.4,955.2 982.9,955.2 984.4,955.3 985.9,955.3 987.4,955.3 988.9,955.3 990.4,955.1 991.9,954.9 993.4,954.5 994.9,954.1 996.4,953.7 997.9,953.2 999.4,952.7 1000.9,952.2 1002.4,951.7 1003.9,951.3 1005.4,951.0 1006.9,950.6 1008.4,950.3 1009.9,950.0 1011.4,949.7 1012.9,949.4 1014.4,949.1 1015.9,948.9 1017.4,948.7 1018.9,948.5 1020.4,948.3 1021.9,948.2 1023.4,948.1 1024.9,948.0 1026.4,948.0 1027.9,948.0 1029.4,947.9 1030.9,947.9 1032.4,947.7 1033.9,947.5 1035.4,947.3 1036.9,946.9 1038.4,946.5 1039.9,946.0 1041.4,945.5 1042.9,944.9 1044.4,944.3 1045.9,943.7 1047.4,943.2 1048.9,942.5 1050.4,941.9 1051.9,941.2 1053.4,940.6 1054.9,940.0 1056.4,939.5 1057.9,939.2 1059.4,939.0 1060.9,938.9 1062.4,939.0 1063.9,939.0 1065.4,939.1 1066.9,939.2 1068.4,939.3 1069.9,939.4 1071.4,939.3 1072.9,939.2 1074.4,938.9 1075.9,938.4 1077.4,937.8 1078.9,937.0 1080.4,936.1 1081.9,935.2 1083.4,934.1 1084.9,933.0 1086.4,931.8 1087.9,930.7 1089.4,929.5 1090.9,928.3 1092.4,927.2 1093.9,926.2 1095.4,925.2 1096.9,924.2 1098.4,923.3 1099.9,922.3 1101.4,921.3 1102.9,920.3 1104.4,919.2 1105.9,918.1 1107.4,917.1 1108.9,915.9 1110.4,914.7 1111.9,913.4 1113.4,911.8 1114.9,910.0 1116.4,907.8 1117.9,905.4 1119.4,902.7 1120.9,899.9 1122.4,897.0 1123.9,893.9 1125.4,890.8 1126.9,887.7 1128.4,884.5 1129.9,881.2 1131.4,877.9 1132.9,874.8 1134.4,871.8 1135.9,869.0 1137.4,866.4 1138.9,863.9 1140.4,861.6 1141.9,859.6 1143.4,857.8 1144.9,856.1 1146.4,854.6 1147.9,853.2 1149.4,851.8 1150.9,850.5 1152.4,849.1 1153.9,847.8 1155.4,846.6 1156.9,845.3 1158.4,843.9 1159.9,842.4 1161.4,840.6 1162.9,838.6 1164.4,836.3 1165.9,833.7 1167.4,830.8 1168.9,827.8 1170.4,824.6 1171.9,821.6 1173.4,818.7 1174.9,815.8 1176.4,813.0 1177.9,810.3 1179.4,808.0 1180.9,806.2 1182.4,804.8 1183.9,803.8 1185.4,803.2 1186.9,803.1 1188.4,803.3 1189.9,804.4 1191.4,806.4 1192.9,809.6 1194.4,813.7 1195.9,818.5 1197.4,823.8 1198.9,829.9 1200.4,836.5 1201.9,843.1 1203.4,848.6 1204.9,854.2 1206.4,862.3 1207.9,871.0 1209.4,879.1 1210.9,886.8 1212.4,894.2 1213.9,901.6 1215.4,909.2 1216.9,916.7 1218.4,923.9 1219.9,930.5 1221.4,934.7 1222.9,935.5 1224.4,933.1 1225.9,928.7 1227.4,923.6 1228.9,918.4 1230.4,912.8 1231.9,906.6 1233.4,899.8 1234.9,893.2 1236.4,887.5 1237.9,882.9 1239.4,879.2 1240.9,876.2 1242.4,873.8 1243.9,872.0 1245.4,870.7 1246.9,869.9 1248.4,869.8 1249.9,870.2 1251.4,871.2 1252.9,872.8 1254.4,874.9 1255.9,877.6 1257.4,880.6 1258.9,883.9 1260.4,887.4 1261.9,891.0 1263.4,894.6 1264.9,898.3 1266.4,902.1 1267.9,905.9 1269.4,909.6 1270.9,913.3 1272.4,917.0 1273.9,920.6 1275.4,924.0 1276.9,927.1 1278.4,929.9 1279.9,932.0 1281.4,933.6 1282.9,934.9 1284.4,935.8 1285.9,936.6 1287.4,937.1 1288.9,937.5 1290.4,937.7 1291.9,937.8 1293.4,937.9 1294.9,938.1 1296.4,938.4 1297.9,938.8 1299.4,939.4 1300.9,940.1 1302.4,941.0 1303.9,942.0 1305.4,943.0 1306.9,944.0 1308.4,945.1 1309.9,946.4 1311.4,947.7 1312.9,949.1 1314.4,950.4 1315.9,951.6 1317.4,952.5 1318.9,953.0 1320.4,953.2 1321.9,953.2 1323.4,953.0 1324.9,952.6 1326.4,952.1 1327.9,951.6 1329.4,951.1 1330.9,950.5 1332.4,950.0 1333.9,949.7 1335.4,949.4 1336.9,949.4 1338.4,949.5 1339.9,949.7 1341.4,950.1 1342.9,950.5 1344.4,951.0 1345.9,951.5 1347.4,952.1 1348.9,952.6 1350.4,953.2 1351.9,953.9 1353.4,954.6 1354.9,955.3 1356.4,956.0 1357.9,956.6 1359.4,957.0 1360.9,957.3 1362.4,957.3 1363.9,957.2 1365.4,956.8 1366.9,956.4 1368.4,955.9 1369.9,955.4 1371.4,955.0 1372.9,954.7 1374.4,954.5 1375.9,954.5 1377.4,954.6 1378.9,954.7 1380.4,954.9 1381.9,955.1 1383.4,955.4 1384.9,955.6 1386.4,955.9 1387.9,956.1 1389.4,956.4 1390.9,956.7 1392.4,956.9 1393.9,957.1 1395.4,957.2 1396.9,957.3 1398.4,957.4 1399.9,957.4 1401.4,957.3 1402.9,957.2 1404.4,957.1 1405.9,957.0 1407.4,956.8 1408.9,956.7 1410.4,956.5 1411.9,956.4 1413.4,956.2 1414.9,956.1 1416.4,956.1 1417.9,956.0 1419.4,956.1 1420.9,956.1 1422.4,956.3 1423.9,956.5 1425.4,956.7 1426.9,956.9 1428.4,957.2 1429.9,957.4 1431.4,957.6 1432.9,957.8 1434.4,957.9 1435.9,957.9 1437.4,957.9 1438.9,957.9 1440.4,957.8 1441.9,957.7 1443.4,957.5 1444.9,957.4 1446.4,957.2 1447.9,957.0 1449.4,956.9 1450.9,956.7 1452.4,956.6 1453.9,956.5 1455.4,956.4 1456.9,956.4 1458.4,956.4 1459.9,956.5 1461.4,956.6 1462.9,956.7 1464.4,956.9 1465.9,957.0 1467.4,957.2 1468.9,957.4 1470.4,957.5 1471.9,957.7 1473.4,957.8 1474.9,957.9 1476.4,957.9 1477.9,958.0 1479.4,958.0 1480.9,958.0 1482.4,958.0 1483.9,958.1 1485.4,958.1 1486.9,958.1 1488.4,958.1 1489.9,958.1 1491.4,958.1 1492.9,958.1 1494.4,958.0 1495.9,958.0 1497.4,958.0 1498.9,958.0 1500.4,958.0 1501.9,958.0 1503.4,958.0 1504.9,958.0 1506.4,957.9 1507.9,957.9 1509.4,957.9 1510.9,957.9 1512.4,957.9 1513.9,957.9 1515.4,957.9 1516.9,957.9 1518.4,958.0 1519.9,958.0 1521.4,958.0 1522.9,958.0 1524.4,958.0 1525.9,958.0 1527.4,958.0 1528.9,958.0 1530.4,958.1 1531.9,958.1 1533.4,958.1 1534.9,958.1 1536.4,958.1 1537.9,958.1 1539.4,958.1 1540.9,958.2 1542.4,958.2 1543.9,958.2 1545.4,958.2 1546.9,958.2 1548.4,958.2 1549.9,958.3 1551.4,958.3 1552.9,958.3 1554.4,958.3 1555.9,958.3" fill="none" stroke="#111111" stroke-width="3.7" stroke-linejoin="round"/>
</g>
<rect x="130.5" y="1258.5" width="589.0" height="475.2" fill="none" stroke="#000" stroke-width="3.2"/>
<line x1="130.5" y1="1733.7" x2="130.5" y2="1742.9" stroke="#000" stroke-width="2.9"/>
<text transform="translate(130.5,1773.0) scale(0.9,1)" text-anchor="middle" font-size="31.8" stroke="#000" stroke-width="0.4">0</text>
<line x1="179.6" y1="1733.7" x2="179.6" y2="1737.9" stroke="#000" stroke-width="2.9"/>
<line x1="228.7" y1="1733.7" x2="228.7" y2="1742.9" stroke="#000" stroke-width="2.9"/>
<text transform="translate(228.7,1773.0) scale(0.9,1)" text-anchor="middle" font-size="31.8" stroke="#000" stroke-width="0.4">1</text>
<line x1="277.8" y1="1733.7" x2="277.8" y2="1737.9" stroke="#000" stroke-width="2.9"/>
<line x1="326.8" y1="1733.7" x2="326.8" y2="1742.9" stroke="#000" stroke-width="2.9"/>
<text transform="translate(326.8,1773.0) scale(0.9,1)" text-anchor="middle" font-size="31.8" stroke="#000" stroke-width="0.4">2</text>
<line x1="375.9" y1="1733.7" x2="375.9" y2="1737.9" stroke="#000" stroke-width="2.9"/>
<line x1="425.0" y1="1733.7" x2="425.0" y2="1742.9" stroke="#000" stroke-width="2.9"/>
<text transform="translate(425.0,1773.0) scale(0.9,1)" text-anchor="middle" font-size="31.8" stroke="#000" stroke-width="0.4">3</text>
<line x1="474.1" y1="1733.7" x2="474.1" y2="1737.9" stroke="#000" stroke-width="2.9"/>
<line x1="523.2" y1="1733.7" x2="523.2" y2="1742.9" stroke="#000" stroke-width="2.9"/>
<text transform="translate(523.2,1773.0) scale(0.9,1)" text-anchor="middle" font-size="31.8" stroke="#000" stroke-width="0.4">4</text>
<line x1="572.2" y1="1733.7" x2="572.2" y2="1737.9" stroke="#000" stroke-width="2.9"/>
<line x1="621.3" y1="1733.7" x2="621.3" y2="1742.9" stroke="#000" stroke-width="2.9"/>
<text transform="translate(621.3,1773.0) scale(0.9,1)" text-anchor="middle" font-size="31.8" stroke="#000" stroke-width="0.4">5</text>
<line x1="670.4" y1="1733.7" x2="670.4" y2="1737.9" stroke="#000" stroke-width="2.9"/>
<line x1="719.5" y1="1733.7" x2="719.5" y2="1742.9" stroke="#000" stroke-width="2.9"/>
<text transform="translate(719.5,1773.0) scale(0.9,1)" text-anchor="middle" font-size="31.8" stroke="#000" stroke-width="0.4">6</text>
<text x="425.8" y="1802.2" text-anchor="middle" font-size="25" stroke="#000" stroke-width="0.4">R (&#197;)</text>
<line x1="85.3" y1="1582.9" x2="110.0" y2="1582.9" stroke="#222" stroke-width="1.3"/>
<line x1="85.3" y1="1447.9" x2="110.0" y2="1447.9" stroke="#222" stroke-width="1.3"/>
<text transform="translate(108.3,1579.7) rotate(-90)" font-size="24.5" stroke="#000" stroke-width="0.3" textLength="125" lengthAdjust="spacingAndGlyphs">FT(<tspan font-style="italic">k</tspan><tspan dy="-9" font-size="17">2</tspan><tspan dy="9">*</tspan>&#967;(<tspan font-style="italic">k</tspan>))</text>
<text transform="translate(108.3,1441.3) rotate(-90)" font-size="24.5" stroke="#000" stroke-width="0.3" textLength="58" lengthAdjust="spacingAndGlyphs">(a.u.)</text>
<text x="-1.2" y="1311.5" font-size="75" font-weight="normal" stroke="#000" stroke-width="2">d</text>
<line x1="180.5" y1="1273.6" x2="234.5" y2="1273.6" stroke="#E33A3F" stroke-width="3.2" stroke-linecap="round"/>
<text transform="translate(243.0,1281.8) scale(1.02,1)" font-size="23.4" stroke="#000" stroke-width="0.4">Pt-Si</text>
<line x1="180.5" y1="1304.6" x2="234.5" y2="1304.6" stroke="#2C5C98" stroke-width="3.2" stroke-linecap="round"/>
<text transform="translate(243.0,1312.8) scale(1.02,1)" font-size="23.4" stroke="#000" stroke-width="0.4">Pt-Sn</text>
<line x1="180.5" y1="1335.8" x2="234.5" y2="1335.8" stroke="#48526A" stroke-width="3.2" stroke-linecap="round"/>
<text transform="translate(243.0,1344.0) scale(1.02,1)" font-size="23.4" stroke="#000" stroke-width="0.4">Pt-Pt</text>
<circle cx="361.9" cy="1277.6" r="7.1" fill="none" stroke="#E4BF3A" stroke-width="1.3"/>
<text x="394.1" y="1285.7" font-size="22.2" stroke="#000" stroke-width="0.4">Pt-Sn@S-1(4.00 &#181;m)-PDH-3 h</text>
<line x1="337.5" y1="1306.4" x2="385.5" y2="1306.4" stroke="#111111" stroke-width="3.2" stroke-linecap="round"/>
<text x="394.1" y="1314.6" font-size="23.4" stroke="#000" stroke-width="0.4">Fitting</text>
<line x1="337.5" y1="1334.2" x2="385.5" y2="1334.2" stroke="#E2714D" stroke-width="3.2" stroke-linecap="round"/>
<text transform="translate(394.1,1342.4) scale(0.98,1)" font-size="23.4" stroke="#000" stroke-width="0.4">Pt-O</text>
<clipPath id="clipd"><rect x="130.5" y="1258.5" width="589.0" height="475.2"/></clipPath>
<g clip-path="url(#clipd)">
<path d="M131.9,1725.8 133.4,1725.9 134.9,1725.9 136.4,1725.9 137.9,1726.0 139.4,1726.0 140.9,1726.1 142.4,1726.1 143.9,1726.1 145.4,1726.2 146.9,1726.2 148.4,1726.3 149.9,1726.3 151.4,1726.3 152.9,1726.3 154.4,1726.4 155.9,1726.4 157.4,1726.4 158.9,1726.4 160.4,1726.4 161.9,1726.4 163.4,1726.3 164.9,1726.3 166.4,1726.3 167.9,1726.2 169.4,1726.2 170.9,1726.2 172.4,1726.1 173.9,1726.1 175.4,1726.0 176.9,1726.0 178.4,1726.0 179.9,1725.9 181.4,1725.9 182.9,1725.9 184.4,1725.8 185.9,1725.8 187.4,1725.8 188.9,1725.8 190.4,1725.9 191.9,1725.9 193.4,1725.9 194.9,1726.0 196.4,1726.0 197.9,1726.1 199.4,1726.2 200.9,1726.2 202.4,1726.3 203.9,1726.3 205.4,1726.4 206.9,1726.4 208.4,1726.4 209.9,1726.4 211.4,1726.4 212.9,1726.3 214.4,1726.3 215.9,1726.2 217.4,1726.1 218.9,1726.0 220.4,1725.9 221.9,1725.8 223.4,1725.7 224.9,1725.6 226.4,1725.5 227.9,1725.4 229.4,1725.3 230.9,1725.2 232.4,1725.2 233.9,1725.1 235.4,1725.1 236.9,1725.1 238.4,1725.1 239.9,1725.1 241.4,1725.2 242.9,1725.3 244.4,1725.4 245.9,1725.5 247.4,1725.6 248.9,1725.7 250.4,1725.8 251.9,1726.0 253.4,1726.1 254.9,1726.2 256.4,1726.3 257.9,1726.4 259.4,1726.4 260.9,1726.4 262.4,1726.4 263.9,1726.4 265.4,1726.3 266.9,1726.1 268.4,1725.9 269.9,1725.7 271.4,1725.4 272.9,1725.1 274.4,1724.8 275.9,1724.5 277.4,1724.2 278.9,1723.9 280.4,1723.6 281.9,1723.3 283.4,1723.1 284.9,1722.9 286.4,1722.7 287.9,1722.5 289.4,1722.3 290.9,1722.1 292.4,1721.9 293.9,1721.7 295.4,1721.5 296.9,1721.4 298.4,1721.2 299.9,1721.1 301.4,1721.0 302.9,1720.9 304.4,1720.8 305.9,1720.8 307.4,1720.6 308.9,1720.5 310.4,1720.3 311.9,1720.0 313.4,1719.7 314.9,1719.4 316.4,1719.0 317.9,1718.5 319.4,1718.0 320.9,1717.5 322.4,1717.0 323.9,1716.4 325.4,1715.7 326.9,1715.0 328.4,1714.3 329.9,1713.4 331.4,1712.6 332.9,1711.7 334.4,1710.9 335.9,1710.0 337.4,1709.2 338.9,1708.4 340.4,1707.7 341.9,1707.0 343.4,1706.3 344.9,1705.6 346.4,1704.9 347.9,1704.2 349.4,1703.5 350.9,1702.9 352.4,1702.3 353.9,1701.8 355.4,1701.3 356.9,1700.9 358.4,1700.6 359.9,1700.5 361.4,1700.4 362.9,1700.5 364.4,1700.8 365.9,1701.2 367.4,1701.8 368.9,1702.4 370.4,1703.1 371.9,1703.8 373.4,1704.6 374.9,1705.6 376.4,1706.6 377.9,1707.8 379.4,1709.0 380.9,1710.1 382.4,1711.3 383.9,1712.4 385.4,1713.3 386.9,1714.2 388.4,1715.1 389.9,1715.9 391.4,1716.7 392.9,1717.4 394.4,1718.0 395.9,1718.4 397.4,1718.7 398.9,1718.7 400.4,1718.5 401.9,1718.0 403.4,1717.4 404.9,1716.7 406.4,1715.9 407.9,1715.1 409.4,1714.4 410.9,1713.8 412.4,1713.3 413.9,1712.8 415.4,1712.4 416.9,1712.0 418.4,1711.6 419.9,1711.3 421.4,1711.1 422.9,1710.9 424.4,1710.8 425.9,1710.8 427.4,1710.9 428.9,1711.1 430.4,1711.3 431.9,1711.7 433.4,1712.0 434.9,1712.4 436.4,1712.9 437.9,1713.4 439.4,1713.9 440.9,1714.6 442.4,1715.3 443.9,1716.1 445.4,1716.9 446.9,1717.7 448.4,1718.5 449.9,1719.2 451.4,1720.0 452.9,1720.7 454.4,1721.5 455.9,1722.2 457.4,1722.9 458.9,1723.5 460.4,1724.0 461.9,1724.4 463.4,1724.5 464.9,1724.6 466.4,1724.4 467.9,1724.2 469.4,1723.8 470.9,1723.5 472.4,1723.1 473.9,1722.8 475.4,1722.5 476.9,1722.3 478.4,1722.3 479.9,1722.3 481.4,1722.4 482.9,1722.5 484.4,1722.7 485.9,1722.9 487.4,1723.2 488.9,1723.4 490.4,1723.6 491.9,1723.9 493.4,1724.1 494.9,1724.4 496.4,1724.7 497.9,1725.0 499.4,1725.3 500.9,1725.6 502.4,1725.9 503.9,1726.1 505.4,1726.2 506.9,1726.2 508.4,1726.1 509.9,1725.9 511.4,1725.7 512.9,1725.3 514.4,1725.0 515.9,1724.7 517.4,1724.4 518.9,1724.1 520.4,1724.0 521.9,1724.0 523.4,1724.1 524.9,1724.2 526.4,1724.4 527.9,1724.5 529.4,1724.7 530.9,1724.8 532.4,1725.0 533.9,1725.1 535.4,1725.3 536.9,1725.4 538.4,1725.6 539.9,1725.7 541.4,1725.9 542.9,1726.0 544.4,1726.1 545.9,1726.2 547.4,1726.3 548.9,1726.4 550.4,1726.4 551.9,1726.4 553.4,1726.4 554.9,1726.3 556.4,1726.3 557.9,1726.2 559.4,1726.1 560.9,1726.0 562.4,1725.9 563.9,1725.8 565.4,1725.7 566.9,1725.6 568.4,1725.5 569.9,1725.5 571.4,1725.4 572.9,1725.4 574.4,1725.5 575.9,1725.5 577.4,1725.6 578.9,1725.7 580.4,1725.8 581.9,1725.9 583.4,1726.0 584.9,1726.1 586.4,1726.3 587.9,1726.4 589.4,1726.5 590.9,1726.6 592.4,1726.7 593.9,1726.7 595.4,1726.8 596.9,1726.8 598.4,1726.8 599.9,1726.7 601.4,1726.7 602.9,1726.6 604.4,1726.5 605.9,1726.5 607.4,1726.4 608.9,1726.3 610.4,1726.2 611.9,1726.1 613.4,1726.0 614.9,1726.0 616.4,1725.9 617.9,1725.9 619.4,1725.8 620.9,1725.8 622.4,1725.8 623.9,1725.9 625.4,1726.0 626.9,1726.0 628.4,1726.1 629.9,1726.2 631.4,1726.3 632.9,1726.4 634.4,1726.5 635.9,1726.6 637.4,1726.7 638.9,1726.7 640.4,1726.8 641.9,1726.8 643.4,1726.8 644.9,1726.8 646.4,1726.7 647.9,1726.7 649.4,1726.7 650.9,1726.6 652.4,1726.6 653.9,1726.5 655.4,1726.5 656.9,1726.5 658.4,1726.4 659.9,1726.4 661.4,1726.3 662.9,1726.3 664.4,1726.3 665.9,1726.2 667.4,1726.2 668.9,1726.2 670.4,1726.2 671.9,1726.2 673.4,1726.2 674.9,1726.2 676.4,1726.2 677.9,1726.2 679.4,1726.2 680.9,1726.2 682.4,1726.2 683.9,1726.2 685.4,1726.2 686.9,1726.2 688.4,1726.2 689.9,1726.2 691.4,1726.2 692.9,1726.2 694.4,1726.2 695.9,1726.2 697.4,1726.3 698.9,1726.3 700.4,1726.3 701.9,1726.3 703.4,1726.3 704.9,1726.3 706.4,1726.3 707.9,1726.3 709.4,1726.3 710.9,1726.3 712.4,1726.4 713.9,1726.4 715.4,1726.4 716.9,1726.4 718.4,1726.4 719.9,1726.4" fill="none" stroke="#48526A" stroke-width="3.5" stroke-linejoin="round"/>
<path d="M131.9,1695.8 133.4,1695.8 134.9,1695.7 136.4,1695.7 137.9,1695.7 139.4,1695.7 140.9,1695.7 142.4,1695.6 143.9,1695.6 145.4,1695.6 146.9,1695.6 148.4,1695.6 149.9,1695.5 151.4,1695.5 152.9,1695.5 154.4,1695.5 155.9,1695.5 157.4,1695.4 158.9,1695.4 160.4,1695.4 161.9,1695.3 163.4,1695.3 164.9,1695.3 166.4,1695.2 167.9,1695.2 169.4,1695.2 170.9,1695.1 172.4,1695.1 173.9,1695.1 175.4,1695.0 176.9,1695.0 178.4,1694.9 179.9,1694.9 181.4,1694.9 182.9,1694.8 184.4,1694.8 185.9,1694.7 187.4,1694.7 188.9,1694.6 190.4,1694.6 191.9,1694.5 193.4,1694.5 194.9,1694.4 196.4,1694.4 197.9,1694.3 199.4,1694.2 200.9,1694.2 202.4,1694.1 203.9,1694.0 205.4,1693.9 206.9,1693.8 208.4,1693.8 209.9,1693.7 211.4,1693.6 212.9,1693.5 214.4,1693.3 215.9,1693.2 217.4,1693.1 218.9,1692.9 220.4,1692.7 221.9,1692.5 223.4,1692.3 224.9,1692.1 226.4,1691.8 227.9,1691.5 229.4,1691.3 230.9,1691.0 232.4,1690.7 233.9,1690.3 235.4,1690.0 236.9,1689.6 238.4,1689.2 239.9,1688.8 241.4,1688.3 242.9,1687.8 244.4,1687.3 245.9,1686.7 247.4,1686.1 248.9,1685.4 250.4,1684.7 251.9,1684.0 253.4,1683.2 254.9,1682.5 256.4,1681.7 257.9,1680.8 259.4,1680.0 260.9,1679.2 262.4,1678.4 263.9,1677.6 265.4,1676.8 266.9,1675.9 268.4,1675.0 269.9,1674.1 271.4,1673.2 272.9,1672.3 274.4,1671.5 275.9,1670.6 277.4,1669.9 278.9,1669.2 280.4,1668.5 281.9,1668.0 283.4,1667.5 284.9,1667.0 286.4,1666.7 287.9,1666.4 289.4,1666.2 290.9,1666.1 292.4,1666.1 293.9,1666.2 295.4,1666.3 296.9,1666.5 298.4,1666.8 299.9,1667.2 301.4,1667.8 302.9,1668.4 304.4,1669.2 305.9,1670.1 307.4,1671.1 308.9,1672.2 310.4,1673.3 311.9,1674.4 313.4,1675.5 314.9,1676.6 316.4,1677.7 317.9,1678.8 319.4,1679.9 320.9,1681.1 322.4,1682.2 323.9,1683.2 325.4,1684.2 326.9,1685.1 328.4,1686.0 329.9,1686.7 331.4,1687.4 332.9,1688.1 334.4,1688.7 335.9,1689.3 337.4,1689.8 338.9,1690.3 340.4,1690.8 341.9,1691.3 343.4,1691.7 344.9,1692.1 346.4,1692.5 347.9,1692.9 349.4,1693.2 350.9,1693.6 352.4,1693.9 353.9,1694.2 355.4,1694.4 356.9,1694.7 358.4,1695.0 359.9,1695.2 361.4,1695.5 362.9,1695.8 364.4,1696.0 365.9,1696.3 367.4,1696.5 368.9,1696.7 370.4,1697.0 371.9,1697.2 373.4,1697.4 374.9,1697.6 376.4,1697.7 377.9,1697.9 379.4,1698.1 380.9,1698.2 382.4,1698.4 383.9,1698.5 385.4,1698.6 386.9,1698.7 388.4,1698.8 389.9,1698.9 391.4,1699.1 392.9,1699.2 394.4,1699.2 395.9,1699.3 397.4,1699.4 398.9,1699.5 400.4,1699.6 401.9,1699.7 403.4,1699.7 404.9,1699.8 406.4,1699.9 407.9,1699.9 409.4,1700.0 410.9,1700.1 412.4,1700.1 413.9,1700.2 415.4,1700.3 416.9,1700.3 418.4,1700.4 419.9,1700.4 421.4,1700.5 422.9,1700.5 424.4,1700.6 425.9,1700.6 427.4,1700.7 428.9,1700.7 430.4,1700.7 431.9,1700.7 433.4,1700.8 434.9,1700.8 436.4,1700.8 437.9,1700.8 439.4,1700.8 440.9,1700.9 442.4,1700.9 443.9,1700.9 445.4,1700.9 446.9,1700.9 448.4,1700.9 449.9,1701.0 451.4,1701.0 452.9,1701.0 454.4,1701.0 455.9,1701.0 457.4,1701.1 458.9,1701.1 460.4,1701.1 461.9,1701.1 463.4,1701.1 464.9,1701.2 466.4,1701.2 467.9,1701.2 469.4,1701.2 470.9,1701.3 472.4,1701.3 473.9,1701.3 475.4,1701.3 476.9,1701.3 478.4,1701.4 479.9,1701.4 481.4,1701.4 482.9,1701.4 484.4,1701.5 485.9,1701.5 487.4,1701.5 488.9,1701.6 490.4,1701.6 491.9,1701.7 493.4,1701.7 494.9,1701.8 496.4,1701.8 497.9,1701.9 499.4,1701.9 500.9,1702.0 502.4,1702.0 503.9,1702.1 505.4,1702.1 506.9,1702.2 508.4,1702.2 509.9,1702.3 511.4,1702.4 512.9,1702.4 514.4,1702.5 515.9,1702.6 517.4,1702.6 518.9,1702.7 520.4,1702.8 521.9,1702.8 523.4,1702.9 524.9,1703.0 526.4,1703.1 527.9,1703.1 529.4,1703.2 530.9,1703.3 532.4,1703.4 533.9,1703.5 535.4,1703.5 536.9,1703.6 538.4,1703.7 539.9,1703.8 541.4,1703.9 542.9,1704.0 544.4,1704.1 545.9,1704.1 547.4,1704.2 548.9,1704.3 550.4,1704.4 551.9,1704.5 553.4,1704.6 554.9,1704.6 556.4,1704.7 557.9,1704.8 559.4,1704.8 560.9,1704.9 562.4,1705.0 563.9,1705.0 565.4,1705.1 566.9,1705.2 568.4,1705.2 569.9,1705.3 571.4,1705.3 572.9,1705.3 574.4,1705.4 575.9,1705.4 577.4,1705.4 578.9,1705.5 580.4,1705.5 581.9,1705.5 583.4,1705.6 584.9,1705.6 586.4,1705.6 587.9,1705.6 589.4,1705.6 590.9,1705.7 592.4,1705.7 593.9,1705.7 595.4,1705.7 596.9,1705.7 598.4,1705.7 599.9,1705.7 601.4,1705.8 602.9,1705.8 604.4,1705.8 605.9,1705.8 607.4,1705.8 608.9,1705.8 610.4,1705.8 611.9,1705.8 613.4,1705.8 614.9,1705.8 616.4,1705.8 617.9,1705.8 619.4,1705.8 620.9,1705.8 622.4,1705.8 623.9,1705.8 625.4,1705.8 626.9,1705.8 628.4,1705.8 629.9,1705.8 631.4,1705.8 632.9,1705.9 634.4,1705.9 635.9,1705.9 637.4,1705.9 638.9,1705.9 640.4,1705.9 641.9,1705.9 643.4,1705.9 644.9,1705.9 646.4,1705.9 647.9,1705.9 649.4,1705.9 650.9,1705.9 652.4,1705.9 653.9,1705.9 655.4,1706.0 656.9,1706.0 658.4,1706.0 659.9,1706.0 661.4,1706.0 662.9,1706.0 664.4,1706.0 665.9,1706.0 667.4,1706.0 668.9,1706.0 670.4,1706.0 671.9,1706.1 673.4,1706.1 674.9,1706.1 676.4,1706.1 677.9,1706.1 679.4,1706.1 680.9,1706.1 682.4,1706.1 683.9,1706.1 685.4,1706.1 686.9,1706.1 688.4,1706.1 689.9,1706.1 691.4,1706.2 692.9,1706.2 694.4,1706.2 695.9,1706.2 697.4,1706.2 698.9,1706.2 700.4,1706.2 701.9,1706.2 703.4,1706.2 704.9,1706.2 706.4,1706.2 707.9,1706.2 709.4,1706.2 710.9,1706.3 712.4,1706.3 713.9,1706.3 715.4,1706.3 716.9,1706.3 718.4,1706.3 719.9,1706.3" fill="none" stroke="#E2714D" stroke-width="3.5" stroke-linejoin="round"/>
<path d="M131.9,1667.7 133.4,1667.7 134.9,1667.8 136.4,1667.9 137.9,1668.1 139.4,1668.2 140.9,1668.3 142.4,1668.4 143.9,1668.5 145.4,1668.6 146.9,1668.8 148.4,1668.8 149.9,1668.9 151.4,1669.0 152.9,1669.0 154.4,1669.1 155.9,1669.1 157.4,1669.0 158.9,1669.0 160.4,1668.9 161.9,1668.7 163.4,1668.6 164.9,1668.4 166.4,1668.1 167.9,1667.9 169.4,1667.6 170.9,1667.4 172.4,1667.1 173.9,1666.8 175.4,1666.6 176.9,1666.3 178.4,1666.1 179.9,1665.8 181.4,1665.6 182.9,1665.5 184.4,1665.3 185.9,1665.2 187.4,1665.2 188.9,1665.2 190.4,1665.3 191.9,1665.5 193.4,1665.7 194.9,1665.9 196.4,1666.2 197.9,1666.5 199.4,1666.8 200.9,1667.1 202.4,1667.4 203.9,1667.6 205.4,1667.8 206.9,1668.0 208.4,1668.0 209.9,1668.0 211.4,1667.9 212.9,1667.7 214.4,1667.5 215.9,1667.2 217.4,1666.8 218.9,1666.4 220.4,1666.0 221.9,1665.6 223.4,1665.1 224.9,1664.6 226.4,1664.2 227.9,1663.8 229.4,1663.4 230.9,1663.1 232.4,1662.8 233.9,1662.5 235.4,1662.4 236.9,1662.3 238.4,1662.4 239.9,1662.6 241.4,1662.9 242.9,1663.3 244.4,1663.8 245.9,1664.3 247.4,1664.8 248.9,1665.4 250.4,1666.0 251.9,1666.5 253.4,1666.9 254.9,1667.3 256.4,1667.6 257.9,1667.7 259.4,1667.7 260.9,1667.5 262.4,1667.1 263.9,1666.5 265.4,1665.8 266.9,1665.0 268.4,1664.1 269.9,1663.1 271.4,1662.2 272.9,1661.2 274.4,1660.2 275.9,1659.3 277.4,1658.5 278.9,1657.8 280.4,1657.2 281.9,1656.8 283.4,1656.6 284.9,1656.7 286.4,1656.9 287.9,1657.4 289.4,1658.1 290.9,1658.8 292.4,1659.6 293.9,1660.5 295.4,1661.2 296.9,1662.0 298.4,1662.5 299.9,1663.0 301.4,1663.1 302.9,1662.9 304.4,1662.0 305.9,1660.6 307.4,1658.9 308.9,1656.9 310.4,1655.0 311.9,1653.0 313.4,1651.0 314.9,1648.8 316.4,1646.7 317.9,1644.5 319.4,1642.3 320.9,1640.1 322.4,1637.8 323.9,1635.6 325.4,1633.5 326.9,1631.6 328.4,1630.0 329.9,1628.6 331.4,1627.4 332.9,1626.2 334.4,1625.2 335.9,1624.3 337.4,1623.7 338.9,1623.2 340.4,1622.9 341.9,1623.0 343.4,1623.5 344.9,1624.2 346.4,1625.3 347.9,1626.5 349.4,1628.1 350.9,1630.1 352.4,1632.3 353.9,1634.7 355.4,1637.4 356.9,1640.5 358.4,1643.7 359.9,1647.1 361.4,1650.6 362.9,1654.4 364.4,1658.0 365.9,1660.8 367.4,1662.1 368.9,1661.4 370.4,1659.2 371.9,1655.9 373.4,1651.9 374.9,1647.3 376.4,1642.2 377.9,1637.0 379.4,1631.9 380.9,1626.7 382.4,1621.7 383.9,1616.9 385.4,1612.6 386.9,1608.8 388.4,1605.3 389.9,1602.0 391.4,1599.0 392.9,1596.1 394.4,1593.3 395.9,1590.8 397.4,1588.5 398.9,1586.4 400.4,1584.7 401.9,1583.2 403.4,1581.9 404.9,1580.9 406.4,1580.3 407.9,1580.2 409.4,1580.5 410.9,1581.2 412.4,1582.3 413.9,1583.6 415.4,1585.2 416.9,1586.9 418.4,1588.9 419.9,1591.2 421.4,1593.7 422.9,1596.6 424.4,1599.8 425.9,1603.2 427.4,1606.8 428.9,1610.4 430.4,1614.0 431.9,1617.7 433.4,1621.5 434.9,1625.2 436.4,1628.7 437.9,1632.2 439.4,1635.5 440.9,1638.7 442.4,1641.8 443.9,1644.8 445.4,1647.7 446.9,1650.5 448.4,1653.1 449.9,1655.1 451.4,1656.4 452.9,1656.8 454.4,1656.6 455.9,1656.2 457.4,1655.6 458.9,1654.9 460.4,1654.3 461.9,1653.7 463.4,1653.2 464.9,1652.7 466.4,1652.3 467.9,1651.9 469.4,1651.7 470.9,1651.6 472.4,1651.8 473.9,1652.2 475.4,1652.9 476.9,1653.6 478.4,1654.4 479.9,1655.3 481.4,1656.2 482.9,1657.1 484.4,1658.0 485.9,1658.9 487.4,1659.9 488.9,1661.0 490.4,1662.0 491.9,1663.0 493.4,1663.9 494.9,1664.7 496.4,1665.4 497.9,1665.8 499.4,1666.0 500.9,1665.8 502.4,1665.4 503.9,1664.7 505.4,1664.0 506.9,1663.2 508.4,1662.6 509.9,1662.0 511.4,1661.6 512.9,1661.2 514.4,1660.9 515.9,1660.6 517.4,1660.4 518.9,1660.3 520.4,1660.3 521.9,1660.4 523.4,1660.6 524.9,1660.8 526.4,1661.1 527.9,1661.5 529.4,1661.9 530.9,1662.3 532.4,1662.8 533.9,1663.4 535.4,1664.1 536.9,1664.8 538.4,1665.5 539.9,1666.2 541.4,1666.8 542.9,1667.3 544.4,1667.7 545.9,1668.0 547.4,1668.0 548.9,1667.9 550.4,1667.7 551.9,1667.3 553.4,1666.9 554.9,1666.5 556.4,1666.0 557.9,1665.6 559.4,1665.1 560.9,1664.8 562.4,1664.5 563.9,1664.3 565.4,1664.2 566.9,1664.3 568.4,1664.5 569.9,1664.7 571.4,1665.0 572.9,1665.3 574.4,1665.6 575.9,1666.0 577.4,1666.4 578.9,1666.8 580.4,1667.2 581.9,1667.6 583.4,1668.0 584.9,1668.3 586.4,1668.6 587.9,1668.8 589.4,1668.9 590.9,1669.0 592.4,1669.0 593.9,1668.8 595.4,1668.7 596.9,1668.4 598.4,1668.2 599.9,1667.9 601.4,1667.5 602.9,1667.2 604.4,1666.9 605.9,1666.7 607.4,1666.4 608.9,1666.3 610.4,1666.2 611.9,1666.1 613.4,1666.2 614.9,1666.3 616.4,1666.4 617.9,1666.6 619.4,1666.8 620.9,1667.0 622.4,1667.3 623.9,1667.5 625.4,1667.7 626.9,1668.0 628.4,1668.2 629.9,1668.4 631.4,1668.6 632.9,1668.8 634.4,1668.9 635.9,1669.0 637.4,1669.0 638.9,1669.0 640.4,1668.9 641.9,1668.8 643.4,1668.7 644.9,1668.6 646.4,1668.4 647.9,1668.3 649.4,1668.1 650.9,1668.0 652.4,1667.8 653.9,1667.7 655.4,1667.6 656.9,1667.5 658.4,1667.5 659.9,1667.5 661.4,1667.5 662.9,1667.6 664.4,1667.7 665.9,1667.8 667.4,1667.9 668.9,1668.0 670.4,1668.2 671.9,1668.3 673.4,1668.4 674.9,1668.6 676.4,1668.7 677.9,1668.8 679.4,1668.9 680.9,1669.0 682.4,1669.0 683.9,1669.0 685.4,1669.0 686.9,1669.0 688.4,1669.1 689.9,1669.1 691.4,1669.1 692.9,1669.0 694.4,1669.0 695.9,1669.0 697.4,1669.0 698.9,1669.0 700.4,1668.9 701.9,1668.9 703.4,1668.9 704.9,1668.9 706.4,1668.8 707.9,1668.8 709.4,1668.8 710.9,1668.7 712.4,1668.7 713.9,1668.7 715.4,1668.7 716.9,1668.6 718.4,1668.6 719.9,1668.6" fill="none" stroke="#2C5C98" stroke-width="3.5" stroke-linejoin="round"/>
<path d="M131.9,1591.5 133.4,1591.5 134.9,1591.4 136.4,1591.4 137.9,1591.4 139.4,1591.4 140.9,1591.4 142.4,1591.3 143.9,1591.3 145.4,1591.3 146.9,1591.3 148.4,1591.2 149.9,1591.2 151.4,1591.2 152.9,1591.1 154.4,1591.1 155.9,1591.0 157.4,1591.0 158.9,1590.9 160.4,1590.9 161.9,1590.8 163.4,1590.7 164.9,1590.6 166.4,1590.6 167.9,1590.5 169.4,1590.4 170.9,1590.3 172.4,1590.2 173.9,1590.1 175.4,1590.0 176.9,1589.9 178.4,1589.8 179.9,1589.7 181.4,1589.6 182.9,1589.5 184.4,1589.4 185.9,1589.3 187.4,1589.2 188.9,1589.1 190.4,1589.0 191.9,1588.9 193.4,1588.8 194.9,1588.6 196.4,1588.5 197.9,1588.4 199.4,1588.3 200.9,1588.2 202.4,1588.0 203.9,1587.9 205.4,1587.8 206.9,1587.7 208.4,1587.5 209.9,1587.4 211.4,1587.2 212.9,1587.1 214.4,1586.9 215.9,1586.7 217.4,1586.6 218.9,1586.4 220.4,1586.2 221.9,1586.0 223.4,1585.8 224.9,1585.5 226.4,1585.3 227.9,1585.1 229.4,1584.8 230.9,1584.6 232.4,1584.3 233.9,1584.1 235.4,1583.8 236.9,1583.6 238.4,1583.3 239.9,1583.1 241.4,1582.8 242.9,1582.5 244.4,1582.3 245.9,1582.0 247.4,1581.7 248.9,1581.5 250.4,1581.2 251.9,1580.9 253.4,1580.6 254.9,1580.3 256.4,1580.0 257.9,1579.7 259.4,1579.3 260.9,1579.0 262.4,1578.6 263.9,1578.1 265.4,1577.6 266.9,1577.1 268.4,1576.6 269.9,1576.1 271.4,1575.5 272.9,1574.9 274.4,1574.4 275.9,1573.8 277.4,1573.1 278.9,1572.5 280.4,1571.9 281.9,1571.2 283.4,1570.5 284.9,1569.8 286.4,1569.1 287.9,1568.3 289.4,1567.5 290.9,1566.7 292.4,1565.8 293.9,1564.9 295.4,1563.9 296.9,1562.9 298.4,1561.9 299.9,1560.8 301.4,1559.7 302.9,1558.5 304.4,1557.4 305.9,1556.2 307.4,1554.9 308.9,1553.6 310.4,1552.3 311.9,1550.9 313.4,1549.5 314.9,1548.1 316.4,1546.6 317.9,1545.2 319.4,1543.7 320.9,1542.2 322.4,1540.6 323.9,1539.1 325.4,1537.6 326.9,1536.1 328.4,1534.7 329.9,1533.3 331.4,1531.9 332.9,1530.6 334.4,1529.3 335.9,1528.0 337.4,1526.8 338.9,1525.7 340.4,1524.6 341.9,1523.6 343.4,1522.7 344.9,1521.8 346.4,1520.9 347.9,1520.2 349.4,1519.5 350.9,1518.8 352.4,1518.3 353.9,1517.7 355.4,1517.2 356.9,1516.8 358.4,1516.5 359.9,1516.2 361.4,1516.0 362.9,1516.0 364.4,1516.0 365.9,1516.1 367.4,1516.3 368.9,1516.6 370.4,1517.0 371.9,1517.5 373.4,1518.1 374.9,1518.8 376.4,1519.7 377.9,1520.6 379.4,1521.7 380.9,1523.0 382.4,1524.4 383.9,1525.9 385.4,1527.6 386.9,1529.4 388.4,1531.4 389.9,1533.5 391.4,1535.8 392.9,1538.1 394.4,1540.5 395.9,1543.1 397.4,1545.7 398.9,1548.5 400.4,1551.3 401.9,1554.0 403.4,1556.6 404.9,1559.1 406.4,1561.6 407.9,1564.2 409.4,1566.8 410.9,1569.3 412.4,1571.5 413.9,1573.5 415.4,1575.2 416.9,1576.7 418.4,1578.0 419.9,1579.2 421.4,1580.1 422.9,1580.7 424.4,1580.9 425.9,1580.7 427.4,1580.3 428.9,1579.7 430.4,1579.2 431.9,1578.8 433.4,1578.3 434.9,1577.8 436.4,1577.4 437.9,1577.1 439.4,1577.0 440.9,1577.1 442.4,1577.2 443.9,1577.4 445.4,1577.8 446.9,1578.3 448.4,1578.9 449.9,1579.7 451.4,1580.7 452.9,1582.0 454.4,1583.4 455.9,1584.9 457.4,1586.5 458.9,1587.9 460.4,1589.3 461.9,1590.6 463.4,1591.9 464.9,1593.2 466.4,1594.4 467.9,1595.4 469.4,1596.3 470.9,1597.0 472.4,1597.5 473.9,1597.6 475.4,1597.4 476.9,1596.8 478.4,1596.0 479.9,1595.2 481.4,1594.5 482.9,1593.9 484.4,1593.2 485.9,1592.6 487.4,1592.0 488.9,1591.5 490.4,1591.1 491.9,1590.7 493.4,1590.5 494.9,1590.3 496.4,1590.3 497.9,1590.3 499.4,1590.5 500.9,1590.7 502.4,1591.0 503.9,1591.5 505.4,1592.0 506.9,1592.7 508.4,1593.5 509.9,1594.5 511.4,1595.4 512.9,1596.4 514.4,1597.3 515.9,1598.1 517.4,1598.9 518.9,1599.5 520.4,1599.9 521.9,1600.1 523.4,1600.1 524.9,1599.9 526.4,1599.5 527.9,1599.1 529.4,1598.5 530.9,1597.9 532.4,1597.3 533.9,1596.7 535.4,1596.2 536.9,1595.7 538.4,1595.4 539.9,1595.2 541.4,1595.1 542.9,1595.0 544.4,1595.1 545.9,1595.2 547.4,1595.3 548.9,1595.5 550.4,1595.8 551.9,1596.2 553.4,1596.6 554.9,1597.1 556.4,1597.6 557.9,1598.2 559.4,1598.8 560.9,1599.3 562.4,1599.8 563.9,1600.2 565.4,1600.5 566.9,1600.6 568.4,1600.7 569.9,1600.6 571.4,1600.4 572.9,1600.1 574.4,1599.7 575.9,1599.3 577.4,1598.9 578.9,1598.5 580.4,1598.1 581.9,1597.8 583.4,1597.5 584.9,1597.4 586.4,1597.3 587.9,1597.3 589.4,1597.4 590.9,1597.5 592.4,1597.7 593.9,1597.9 595.4,1598.2 596.9,1598.4 598.4,1598.7 599.9,1599.0 601.4,1599.3 602.9,1599.5 604.4,1599.8 605.9,1600.0 607.4,1600.2 608.9,1600.4 610.4,1600.4 611.9,1600.5 613.4,1600.5 614.9,1600.4 616.4,1600.3 617.9,1600.1 619.4,1599.9 620.9,1599.7 622.4,1599.5 623.9,1599.2 625.4,1599.0 626.9,1598.8 628.4,1598.6 629.9,1598.4 631.4,1598.3 632.9,1598.2 634.4,1598.2 635.9,1598.3 637.4,1598.3 638.9,1598.5 640.4,1598.6 641.9,1598.8 643.4,1599.0 644.9,1599.3 646.4,1599.5 647.9,1599.7 649.4,1599.9 650.9,1600.2 652.4,1600.3 653.9,1600.5 655.4,1600.6 656.9,1600.7 658.4,1600.7 659.9,1600.7 661.4,1600.6 662.9,1600.5 664.4,1600.4 665.9,1600.2 667.4,1600.0 668.9,1599.9 670.4,1599.7 671.9,1599.6 673.4,1599.4 674.9,1599.3 676.4,1599.2 677.9,1599.2 679.4,1599.2 680.9,1599.1 682.4,1599.1 683.9,1599.2 685.4,1599.2 686.9,1599.2 688.4,1599.2 689.9,1599.2 691.4,1599.3 692.9,1599.3 694.4,1599.3 695.9,1599.4 697.4,1599.4 698.9,1599.5 700.4,1599.5 701.9,1599.6 703.4,1599.6 704.9,1599.7 706.4,1599.7 707.9,1599.8 709.4,1599.8 710.9,1599.9 712.4,1599.9 713.9,1600.0 715.4,1600.0 716.9,1600.0 718.4,1600.1 719.9,1600.1" fill="none" stroke="#E33A3F" stroke-width="3.5" stroke-linejoin="round"/>
<g fill="#fff" stroke="#E4BF3A" stroke-width="1.1"><circle cx="132.0" cy="1520.6" r="7"/><circle cx="135.0" cy="1520.1" r="7"/><circle cx="138.0" cy="1519.5" r="7"/><circle cx="141.0" cy="1518.9" r="7"/><circle cx="144.0" cy="1518.4" r="7"/><circle cx="147.0" cy="1518.0" r="7"/><circle cx="150.0" cy="1517.8" r="7"/><circle cx="153.0" cy="1517.9" r="7"/><circle cx="156.0" cy="1518.1" r="7"/><circle cx="159.0" cy="1518.4" r="7"/><circle cx="162.0" cy="1518.7" r="7"/><circle cx="165.0" cy="1518.9" r="7"/><circle cx="168.0" cy="1518.8" r="7"/><circle cx="171.0" cy="1518.4" r="7"/><circle cx="174.0" cy="1517.8" r="7"/><circle cx="177.0" cy="1516.9" r="7"/><circle cx="180.0" cy="1516.0" r="7"/><circle cx="183.0" cy="1515.1" r="7"/><circle cx="186.0" cy="1514.3" r="7"/><circle cx="189.0" cy="1513.4" r="7"/><circle cx="192.0" cy="1512.6" r="7"/><circle cx="195.0" cy="1511.7" r="7"/><circle cx="198.0" cy="1510.9" r="7"/><circle cx="201.0" cy="1510.1" r="7"/><circle cx="204.0" cy="1509.3" r="7"/><circle cx="207.0" cy="1508.5" r="7"/><circle cx="210.0" cy="1507.8" r="7"/><circle cx="213.0" cy="1507.2" r="7"/><circle cx="216.0" cy="1506.6" r="7"/><circle cx="219.0" cy="1506.0" r="7"/><circle cx="222.0" cy="1505.6" r="7"/><circle cx="225.0" cy="1505.4" r="7"/><circle cx="228.0" cy="1505.6" r="7"/><circle cx="231.0" cy="1506.0" r="7"/><circle cx="234.0" cy="1506.6" r="7"/><circle cx="237.0" cy="1507.1" r="7"/><circle cx="240.0" cy="1507.4" r="7"/><circle cx="243.0" cy="1507.9" r="7"/><circle cx="246.0" cy="1508.3" r="7"/><circle cx="249.0" cy="1508.3" r="7"/><circle cx="252.0" cy="1507.5" r="7"/><circle cx="255.0" cy="1505.3" r="7"/><circle cx="258.0" cy="1502.0" r="7"/><circle cx="261.0" cy="1498.0" r="7"/><circle cx="264.0" cy="1493.8" r="7"/><circle cx="267.0" cy="1489.4" r="7"/><circle cx="270.0" cy="1484.7" r="7"/><circle cx="273.0" cy="1480.1" r="7"/><circle cx="276.0" cy="1476.0" r="7"/><circle cx="279.0" cy="1472.3" r="7"/><circle cx="282.0" cy="1468.9" r="7"/><circle cx="285.0" cy="1466.0" r="7"/><circle cx="288.0" cy="1463.4" r="7"/><circle cx="291.0" cy="1461.3" r="7"/><circle cx="294.0" cy="1459.6" r="7"/><circle cx="297.0" cy="1458.2" r="7"/><circle cx="300.0" cy="1457.1" r="7"/><circle cx="303.0" cy="1456.6" r="7"/><circle cx="306.0" cy="1456.2" r="7"/><circle cx="309.0" cy="1455.2" r="7"/><circle cx="312.0" cy="1453.9" r="7"/><circle cx="315.0" cy="1452.0" r="7"/><circle cx="318.0" cy="1449.3" r="7"/><circle cx="321.0" cy="1445.6" r="7"/><circle cx="324.0" cy="1441.2" r="7"/><circle cx="327.0" cy="1436.6" r="7"/><circle cx="330.0" cy="1431.9" r="7"/><circle cx="333.0" cy="1427.0" r="7"/><circle cx="336.0" cy="1422.2" r="7"/><circle cx="339.0" cy="1417.7" r="7"/><circle cx="342.0" cy="1414.0" r="7"/><circle cx="345.0" cy="1411.8" r="7"/><circle cx="348.0" cy="1411.9" r="7"/><circle cx="351.0" cy="1416.1" r="7"/><circle cx="354.0" cy="1421.0" r="7"/><circle cx="357.0" cy="1423.1" r="7"/><circle cx="360.0" cy="1429.6" r="7"/><circle cx="363.0" cy="1438.0" r="7"/><circle cx="366.0" cy="1446.7" r="7"/><circle cx="369.0" cy="1456.2" r="7"/><circle cx="372.0" cy="1466.6" r="7"/><circle cx="375.0" cy="1477.2" r="7"/><circle cx="378.0" cy="1487.5" r="7"/><circle cx="381.0" cy="1496.7" r="7"/><circle cx="384.0" cy="1505.9" r="7"/><circle cx="387.0" cy="1513.0" r="7"/><circle cx="390.0" cy="1512.5" r="7"/><circle cx="393.0" cy="1507.0" r="7"/><circle cx="396.0" cy="1498.3" r="7"/><circle cx="399.0" cy="1488.5" r="7"/><circle cx="402.0" cy="1479.6" r="7"/><circle cx="405.0" cy="1472.2" r="7"/><circle cx="408.0" cy="1466.5" r="7"/><circle cx="411.0" cy="1462.3" r="7"/><circle cx="414.0" cy="1459.3" r="7"/><circle cx="417.0" cy="1457.6" r="7"/><circle cx="420.0" cy="1457.7" r="7"/><circle cx="423.0" cy="1459.3" r="7"/><circle cx="426.0" cy="1461.9" r="7"/><circle cx="429.0" cy="1465.5" r="7"/><circle cx="432.0" cy="1469.7" r="7"/><circle cx="435.0" cy="1474.3" r="7"/><circle cx="438.0" cy="1479.3" r="7"/><circle cx="441.0" cy="1484.8" r="7"/><circle cx="444.0" cy="1490.8" r="7"/><circle cx="447.0" cy="1497.2" r="7"/><circle cx="450.0" cy="1503.9" r="7"/><circle cx="453.0" cy="1510.7" r="7"/><circle cx="456.0" cy="1513.7" r="7"/><circle cx="459.0" cy="1510.5" r="7"/><circle cx="462.0" cy="1505.7" r="7"/><circle cx="465.0" cy="1501.2" r="7"/><circle cx="468.0" cy="1497.1" r="7"/><circle cx="471.0" cy="1494.2" r="7"/><circle cx="474.0" cy="1492.0" r="7"/><circle cx="477.0" cy="1490.9" r="7"/><circle cx="480.0" cy="1491.0" r="7"/><circle cx="483.0" cy="1492.4" r="7"/><circle cx="486.0" cy="1494.5" r="7"/><circle cx="489.0" cy="1497.3" r="7"/><circle cx="492.0" cy="1500.7" r="7"/><circle cx="495.0" cy="1504.3" r="7"/><circle cx="498.0" cy="1507.6" r="7"/><circle cx="501.0" cy="1510.8" r="7"/><circle cx="504.0" cy="1513.5" r="7"/><circle cx="507.0" cy="1515.7" r="7"/><circle cx="510.0" cy="1517.2" r="7"/><circle cx="513.0" cy="1517.5" r="7"/><circle cx="516.0" cy="1516.1" r="7"/><circle cx="519.0" cy="1514.2" r="7"/><circle cx="522.0" cy="1513.3" r="7"/><circle cx="525.0" cy="1512.5" r="7"/><circle cx="528.0" cy="1511.4" r="7"/><circle cx="531.0" cy="1510.3" r="7"/><circle cx="534.0" cy="1509.4" r="7"/><circle cx="537.0" cy="1508.9" r="7"/><circle cx="540.0" cy="1508.5" r="7"/><circle cx="543.0" cy="1508.3" r="7"/><circle cx="546.0" cy="1508.1" r="7"/><circle cx="549.0" cy="1507.9" r="7"/><circle cx="552.0" cy="1507.6" r="7"/><circle cx="555.0" cy="1507.1" r="7"/><circle cx="558.0" cy="1506.4" r="7"/><circle cx="561.0" cy="1505.5" r="7"/><circle cx="564.0" cy="1504.7" r="7"/><circle cx="567.0" cy="1504.0" r="7"/><circle cx="570.0" cy="1503.8" r="7"/><circle cx="573.0" cy="1504.2" r="7"/><circle cx="576.0" cy="1505.0" r="7"/><circle cx="579.0" cy="1506.2" r="7"/><circle cx="582.0" cy="1507.6" r="7"/><circle cx="585.0" cy="1509.3" r="7"/><circle cx="588.0" cy="1511.0" r="7"/><circle cx="591.0" cy="1513.0" r="7"/><circle cx="594.0" cy="1515.7" r="7"/><circle cx="597.0" cy="1518.4" r="7"/><circle cx="600.0" cy="1520.7" r="7"/><circle cx="603.0" cy="1522.1" r="7"/><circle cx="606.0" cy="1522.2" r="7"/><circle cx="609.0" cy="1521.6" r="7"/><circle cx="612.0" cy="1520.5" r="7"/><circle cx="615.0" cy="1519.1" r="7"/><circle cx="618.0" cy="1517.6" r="7"/><circle cx="621.0" cy="1516.3" r="7"/><circle cx="624.0" cy="1515.4" r="7"/><circle cx="627.0" cy="1515.0" r="7"/><circle cx="630.0" cy="1515.3" r="7"/><circle cx="633.0" cy="1516.2" r="7"/><circle cx="636.0" cy="1517.3" r="7"/><circle cx="639.0" cy="1518.5" r="7"/><circle cx="642.0" cy="1519.6" r="7"/><circle cx="645.0" cy="1520.2" r="7"/><circle cx="648.0" cy="1520.2" r="7"/><circle cx="651.0" cy="1519.4" r="7"/><circle cx="654.0" cy="1517.7" r="7"/><circle cx="657.0" cy="1515.8" r="7"/><circle cx="660.0" cy="1513.7" r="7"/><circle cx="663.0" cy="1512.0" r="7"/><circle cx="666.0" cy="1510.8" r="7"/><circle cx="669.0" cy="1510.0" r="7"/><circle cx="672.0" cy="1509.3" r="7"/><circle cx="675.0" cy="1508.9" r="7"/><circle cx="678.0" cy="1508.7" r="7"/><circle cx="681.0" cy="1508.6" r="7"/><circle cx="684.0" cy="1508.8" r="7"/><circle cx="687.0" cy="1509.3" r="7"/><circle cx="690.0" cy="1509.9" r="7"/><circle cx="693.0" cy="1510.7" r="7"/><circle cx="696.0" cy="1511.6" r="7"/><circle cx="699.0" cy="1512.4" r="7"/><circle cx="702.0" cy="1513.3" r="7"/><circle cx="705.0" cy="1514.1" r="7"/><circle cx="708.0" cy="1515.0" r="7"/><circle cx="711.0" cy="1516.0" r="7"/><circle cx="714.0" cy="1516.9" r="7"/><circle cx="717.0" cy="1517.9" r="7"/></g>
<path d="M131.9,1524.5 133.4,1524.3 134.9,1524.0 136.4,1523.7 137.9,1523.4 139.4,1523.1 140.9,1522.8 142.4,1522.5 143.9,1522.2 145.4,1522.0 146.9,1521.8 148.4,1521.7 149.9,1521.7 151.4,1521.7 152.9,1521.8 154.4,1521.9 155.9,1522.1 157.4,1522.3 158.9,1522.5 160.4,1522.7 161.9,1522.8 163.4,1523.0 164.9,1523.1 166.4,1523.1 167.9,1523.0 169.4,1522.8 170.9,1522.5 172.4,1522.1 173.9,1521.6 175.4,1521.0 176.9,1520.5 178.4,1519.9 179.9,1519.4 181.4,1518.9 182.9,1518.4 184.4,1518.0 185.9,1517.5 187.4,1517.0 188.9,1516.5 190.4,1516.1 191.9,1515.7 193.4,1515.4 194.9,1515.2 196.4,1515.0 197.9,1515.0 199.4,1515.1 200.9,1515.3 202.4,1515.6 203.9,1516.0 205.4,1516.3 206.9,1516.7 208.4,1517.1 209.9,1517.4 211.4,1517.7 212.9,1517.9 214.4,1517.9 215.9,1517.8 217.4,1517.5 218.9,1517.0 220.4,1516.3 221.9,1515.5 223.4,1514.6 224.9,1513.7 226.4,1512.8 227.9,1511.9 229.4,1511.2 230.9,1510.5 232.4,1509.9 233.9,1509.3 235.4,1508.7 236.9,1508.2 238.4,1507.8 239.9,1507.5 241.4,1507.3 242.9,1507.3 244.4,1507.4 245.9,1507.6 247.4,1507.9 248.9,1508.1 250.4,1508.4 251.9,1508.5 253.4,1508.6 254.9,1508.5 256.4,1508.2 257.9,1507.5 259.4,1506.4 260.9,1504.9 262.4,1503.3 263.9,1501.6 265.4,1499.8 266.9,1497.9 268.4,1496.0 269.9,1494.0 271.4,1491.9 272.9,1489.8 274.4,1487.7 275.9,1485.5 277.4,1483.4 278.9,1481.1 280.4,1478.8 281.9,1476.5 283.4,1474.3 284.9,1472.0 286.4,1469.8 287.9,1467.5 289.4,1465.2 290.9,1462.8 292.4,1460.6 293.9,1458.5 295.4,1456.8 296.9,1455.4 298.4,1454.5 299.9,1453.9 301.4,1453.5 302.9,1453.3 304.4,1453.1 305.9,1452.8 307.4,1452.5 308.9,1452.3 310.4,1452.1 311.9,1451.7 313.4,1451.0 314.9,1449.9 316.4,1448.5 317.9,1446.9 319.4,1445.0 320.9,1442.8 322.4,1440.3 323.9,1437.5 325.4,1434.3 326.9,1431.2 328.4,1428.1 329.9,1425.2 331.4,1422.5 332.9,1419.8 334.4,1417.2 335.9,1414.7 337.4,1412.4 338.9,1410.2 340.4,1408.2 341.9,1406.5 343.4,1404.9 344.9,1403.6 346.4,1403.1 347.9,1403.2 349.4,1403.7 350.9,1404.4 352.4,1405.5 353.9,1406.9 355.4,1408.7 356.9,1410.9 358.4,1413.3 359.9,1416.2 361.4,1419.3 362.9,1423.0 364.4,1427.1 365.9,1431.8 367.4,1437.0 368.9,1442.5 370.4,1448.2 371.9,1454.2 373.4,1460.5 374.9,1466.9 376.4,1473.2 377.9,1479.3 379.4,1485.3 380.9,1491.2 382.4,1497.7 383.9,1505.3 385.4,1512.8 386.9,1516.8 388.4,1515.8 389.9,1511.2 391.4,1505.2 392.9,1499.8 394.4,1495.1 395.9,1490.7 397.4,1486.4 398.9,1482.4 400.4,1478.6 401.9,1474.9 403.4,1471.4 404.9,1468.3 406.4,1465.8 407.9,1463.9 409.4,1462.4 410.9,1461.3 412.4,1460.5 413.9,1460.0 415.4,1459.7 416.9,1459.8 418.4,1460.3 419.9,1461.1 421.4,1462.1 422.9,1463.4 424.4,1464.9 425.9,1466.6 427.4,1468.5 428.9,1470.5 430.4,1472.6 431.9,1474.8 433.4,1477.2 434.9,1479.9 436.4,1482.6 437.9,1485.2 439.4,1487.7 440.9,1489.8 442.4,1491.8 443.9,1493.7 445.4,1495.5 446.9,1497.0 448.4,1498.2 449.9,1499.2 451.4,1499.8 452.9,1500.2 454.4,1500.5 455.9,1500.7 457.4,1500.9 458.9,1501.2 460.4,1501.6 461.9,1502.1 463.4,1502.6 464.9,1503.1 466.4,1503.8 467.9,1504.5 469.4,1505.4 470.9,1506.5 472.4,1507.8 473.9,1509.2 475.4,1510.6 476.9,1512.0 478.4,1513.4 479.9,1514.7 481.4,1515.9 482.9,1517.1 484.4,1518.3 485.9,1519.3 487.4,1520.0 488.9,1520.4 490.4,1520.3 491.9,1519.8 493.4,1519.0 494.9,1518.0 496.4,1517.1 497.9,1516.2 499.4,1515.5 500.9,1514.9 502.4,1514.3 503.9,1513.7 505.4,1513.2 506.9,1512.8 508.4,1512.6 509.9,1512.4 511.4,1512.4 512.9,1512.4 514.4,1512.6 515.9,1512.8 517.4,1513.1 518.9,1513.4 520.4,1513.9 521.9,1514.6 523.4,1515.7 524.9,1516.7 526.4,1517.6 527.9,1518.6 529.4,1519.6 530.9,1520.6 532.4,1521.6 533.9,1522.4 535.4,1523.2 536.9,1523.7 538.4,1524.1 539.9,1524.1 541.4,1523.7 542.9,1523.2 544.4,1522.4 545.9,1521.6 547.4,1520.8 548.9,1520.2 550.4,1519.7 551.9,1519.4 553.4,1519.0 554.9,1518.8 556.4,1518.6 557.9,1518.4 559.4,1518.3 560.9,1518.3 562.4,1518.3 563.9,1518.5 565.4,1518.8 566.9,1519.1 568.4,1519.5 569.9,1520.0 571.4,1520.5 572.9,1521.1 574.4,1521.6 575.9,1522.1 577.4,1522.6 578.9,1523.1 580.4,1523.5 581.9,1523.8 583.4,1524.0 584.9,1524.1 586.4,1524.1 587.9,1524.0 589.4,1523.7 590.9,1523.4 592.4,1523.0 593.9,1522.6 595.4,1522.2 596.9,1521.7 598.4,1521.4 599.9,1521.1 601.4,1520.9 602.9,1520.7 604.4,1520.8 605.9,1520.9 607.4,1521.0 608.9,1521.2 610.4,1521.5 611.9,1521.8 613.4,1522.1 614.9,1522.5 616.4,1522.8 617.9,1523.2 619.4,1523.5 620.9,1523.9 622.4,1524.2 623.9,1524.4 625.4,1524.7 626.9,1524.8 628.4,1524.9 629.9,1524.9 631.4,1524.8 632.9,1524.7 634.4,1524.5 635.9,1524.3 637.4,1524.0 638.9,1523.7 640.4,1523.4 641.9,1523.1 643.4,1522.9 644.9,1522.6 646.4,1522.4 647.9,1522.3 649.4,1522.3 650.9,1522.3 652.4,1522.4 653.9,1522.5 655.4,1522.7 656.9,1522.9 658.4,1523.1 659.9,1523.3 661.4,1523.6 662.9,1523.8 664.4,1524.1 665.9,1524.3 667.4,1524.5 668.9,1524.7 670.4,1524.8 671.9,1524.9 673.4,1524.9 674.9,1524.9 676.4,1524.8 677.9,1524.6 679.4,1524.4 680.9,1524.2 682.4,1524.0 683.9,1523.7 685.4,1523.5 686.9,1523.3 688.4,1523.2 689.9,1523.1 691.4,1523.0 692.9,1523.0 694.4,1523.0 695.9,1523.1 697.4,1523.2 698.9,1523.2 700.4,1523.3 701.9,1523.4 703.4,1523.5 704.9,1523.7 706.4,1523.8 707.9,1523.9 709.4,1524.0 710.9,1524.2 712.4,1524.3 713.9,1524.4 715.4,1524.6 716.9,1524.7 718.4,1524.8 719.9,1524.9" fill="none" stroke="#111111" stroke-width="3.7" stroke-linejoin="round"/>
</g>
<rect x="969.0" y="1258.6" width="589.7" height="474.6" fill="none" stroke="#000" stroke-width="3.2"/>
<line x1="969.0" y1="1733.2" x2="969.0" y2="1742.4" stroke="#000" stroke-width="2.9"/>
<text transform="translate(969.0,1772.5) scale(0.9,1)" text-anchor="middle" font-size="31.8" stroke="#000" stroke-width="0.4">0</text>
<line x1="1018.1" y1="1733.2" x2="1018.1" y2="1737.4" stroke="#000" stroke-width="2.9"/>
<line x1="1067.3" y1="1733.2" x2="1067.3" y2="1742.4" stroke="#000" stroke-width="2.9"/>
<text transform="translate(1067.3,1772.5) scale(0.9,1)" text-anchor="middle" font-size="31.8" stroke="#000" stroke-width="0.4">1</text>
<line x1="1116.4" y1="1733.2" x2="1116.4" y2="1737.4" stroke="#000" stroke-width="2.9"/>
<line x1="1165.6" y1="1733.2" x2="1165.6" y2="1742.4" stroke="#000" stroke-width="2.9"/>
<text transform="translate(1165.6,1772.5) scale(0.9,1)" text-anchor="middle" font-size="31.8" stroke="#000" stroke-width="0.4">2</text>
<line x1="1214.7" y1="1733.2" x2="1214.7" y2="1737.4" stroke="#000" stroke-width="2.9"/>
<line x1="1263.8" y1="1733.2" x2="1263.8" y2="1742.4" stroke="#000" stroke-width="2.9"/>
<text transform="translate(1263.8,1772.5) scale(0.9,1)" text-anchor="middle" font-size="31.8" stroke="#000" stroke-width="0.4">3</text>
<line x1="1313.0" y1="1733.2" x2="1313.0" y2="1737.4" stroke="#000" stroke-width="2.9"/>
<line x1="1362.1" y1="1733.2" x2="1362.1" y2="1742.4" stroke="#000" stroke-width="2.9"/>
<text transform="translate(1362.1,1772.5) scale(0.9,1)" text-anchor="middle" font-size="31.8" stroke="#000" stroke-width="0.4">4</text>
<line x1="1411.3" y1="1733.2" x2="1411.3" y2="1737.4" stroke="#000" stroke-width="2.9"/>
<line x1="1460.4" y1="1733.2" x2="1460.4" y2="1742.4" stroke="#000" stroke-width="2.9"/>
<text transform="translate(1460.4,1772.5) scale(0.9,1)" text-anchor="middle" font-size="31.8" stroke="#000" stroke-width="0.4">5</text>
<line x1="1509.6" y1="1733.2" x2="1509.6" y2="1737.4" stroke="#000" stroke-width="2.9"/>
<line x1="1558.7" y1="1733.2" x2="1558.7" y2="1742.4" stroke="#000" stroke-width="2.9"/>
<text transform="translate(1558.7,1772.5) scale(0.9,1)" text-anchor="middle" font-size="31.8" stroke="#000" stroke-width="0.4">6</text>
<text x="1264.6" y="1801.7" text-anchor="middle" font-size="25" stroke="#000" stroke-width="0.4">R (&#197;)</text>
<line x1="923.8" y1="1582.7" x2="948.5" y2="1582.7" stroke="#222" stroke-width="1.3"/>
<line x1="923.8" y1="1447.7" x2="948.5" y2="1447.7" stroke="#222" stroke-width="1.3"/>
<text transform="translate(946.8,1579.5) rotate(-90)" font-size="24.5" stroke="#000" stroke-width="0.3" textLength="125" lengthAdjust="spacingAndGlyphs">FT(<tspan font-style="italic">k</tspan><tspan dy="-9" font-size="17">2</tspan><tspan dy="9">*</tspan>&#967;(<tspan font-style="italic">k</tspan>))</text>
<text transform="translate(946.8,1441.1) rotate(-90)" font-size="24.5" stroke="#000" stroke-width="0.3" textLength="58" lengthAdjust="spacingAndGlyphs">(a.u.)</text>
<text x="844.7" y="1298.3" font-size="75" font-weight="normal" stroke="#000" stroke-width="2">e</text>
<line x1="1019.0" y1="1273.7" x2="1073.0" y2="1273.7" stroke="#E33A3F" stroke-width="3.2" stroke-linecap="round"/>
<text transform="translate(1081.5,1281.9) scale(1.02,1)" font-size="23.4" stroke="#000" stroke-width="0.4">Pt-Si</text>
<line x1="1019.0" y1="1304.7" x2="1073.0" y2="1304.7" stroke="#2C5C98" stroke-width="3.2" stroke-linecap="round"/>
<text transform="translate(1081.5,1312.9) scale(1.02,1)" font-size="23.4" stroke="#000" stroke-width="0.4">Pt-Sn</text>
<line x1="1019.0" y1="1335.9" x2="1073.0" y2="1335.9" stroke="#48526A" stroke-width="3.2" stroke-linecap="round"/>
<text transform="translate(1081.5,1344.1) scale(1.02,1)" font-size="23.4" stroke="#000" stroke-width="0.4">Pt-Pt</text>
<circle cx="1200.4" cy="1277.7" r="7.1" fill="none" stroke="#E4BF3A" stroke-width="1.3"/>
<text x="1232.6" y="1285.8" font-size="22.2" stroke="#000" stroke-width="0.4">Pt-Sn@S-1(4.00 &#181;m)-PDH-5 h</text>
<line x1="1176.0" y1="1306.5" x2="1224.0" y2="1306.5" stroke="#111111" stroke-width="3.2" stroke-linecap="round"/>
<text x="1232.6" y="1314.7" font-size="23.4" stroke="#000" stroke-width="0.4">Fitting</text>
<line x1="1176.0" y1="1334.3" x2="1224.0" y2="1334.3" stroke="#E2714D" stroke-width="3.2" stroke-linecap="round"/>
<text transform="translate(1232.6,1342.5) scale(0.98,1)" font-size="23.4" stroke="#000" stroke-width="0.4">Pt-O</text>
<clipPath id="clipe"><rect x="969.0" y="1258.6" width="589.7" height="474.6"/></clipPath>
<g clip-path="url(#clipe)">
<path d="M969.9,1725.8 971.4,1725.8 972.9,1725.9 974.4,1725.9 975.9,1725.9 977.4,1726.0 978.9,1726.0 980.4,1726.0 981.9,1726.1 983.4,1726.1 984.9,1726.1 986.4,1726.2 987.9,1726.2 989.4,1726.2 990.9,1726.3 992.4,1726.3 993.9,1726.3 995.4,1726.3 996.9,1726.4 998.4,1726.4 999.9,1726.4 1001.4,1726.4 1002.9,1726.4 1004.4,1726.4 1005.9,1726.4 1007.4,1726.4 1008.9,1726.3 1010.4,1726.3 1011.9,1726.2 1013.4,1726.2 1014.9,1726.1 1016.4,1726.0 1017.9,1725.9 1019.4,1725.9 1020.9,1725.8 1022.4,1725.7 1023.9,1725.6 1025.4,1725.6 1026.9,1725.5 1028.4,1725.5 1029.9,1725.4 1031.4,1725.4 1032.9,1725.5 1034.4,1725.5 1035.9,1725.6 1037.4,1725.6 1038.9,1725.7 1040.4,1725.8 1041.9,1725.9 1043.4,1726.0 1044.9,1726.1 1046.4,1726.2 1047.9,1726.3 1049.4,1726.3 1050.9,1726.4 1052.4,1726.4 1053.9,1726.4 1055.4,1726.3 1056.9,1726.3 1058.4,1726.2 1059.9,1726.1 1061.4,1725.9 1062.9,1725.8 1064.4,1725.6 1065.9,1725.4 1067.4,1725.3 1068.9,1725.1 1070.4,1725.0 1071.9,1724.8 1073.4,1724.7 1074.9,1724.6 1076.4,1724.5 1077.9,1724.5 1079.4,1724.5 1080.9,1724.5 1082.4,1724.6 1083.9,1724.7 1085.4,1724.8 1086.9,1725.0 1088.4,1725.2 1089.9,1725.3 1091.4,1725.5 1092.9,1725.7 1094.4,1725.9 1095.9,1726.0 1097.4,1726.2 1098.9,1726.3 1100.4,1726.4 1101.9,1726.4 1103.4,1726.4 1104.9,1726.3 1106.4,1726.2 1107.9,1726.1 1109.4,1725.9 1110.9,1725.6 1112.4,1725.4 1113.9,1725.1 1115.4,1724.8 1116.9,1724.5 1118.4,1724.2 1119.9,1724.0 1121.4,1723.7 1122.9,1723.4 1124.4,1723.2 1125.9,1723.0 1127.4,1722.8 1128.9,1722.7 1130.4,1722.5 1131.9,1722.4 1133.4,1722.2 1134.9,1722.1 1136.4,1721.9 1137.9,1721.8 1139.4,1721.7 1140.9,1721.6 1142.4,1721.5 1143.9,1721.4 1145.4,1721.3 1146.9,1721.2 1148.4,1721.1 1149.9,1720.9 1151.4,1720.7 1152.9,1720.4 1154.4,1720.1 1155.9,1719.7 1157.4,1719.4 1158.9,1719.0 1160.4,1718.5 1161.9,1718.0 1163.4,1717.5 1164.9,1716.8 1166.4,1715.9 1167.9,1714.7 1169.4,1713.5 1170.9,1712.4 1172.4,1711.4 1173.9,1710.4 1175.4,1709.4 1176.9,1708.4 1178.4,1707.5 1179.9,1706.6 1181.4,1705.7 1182.9,1704.9 1184.4,1704.1 1185.9,1703.3 1187.4,1702.5 1188.9,1701.8 1190.4,1701.0 1191.9,1700.3 1193.4,1699.6 1194.9,1699.0 1196.4,1698.5 1197.9,1698.0 1199.4,1697.6 1200.9,1697.3 1202.4,1697.2 1203.9,1697.2 1205.4,1697.3 1206.9,1697.6 1208.4,1698.0 1209.9,1698.6 1211.4,1699.2 1212.9,1699.9 1214.4,1700.7 1215.9,1701.6 1217.4,1702.6 1218.9,1703.9 1220.4,1705.3 1221.9,1706.8 1223.4,1708.3 1224.9,1709.7 1226.4,1711.0 1227.9,1712.2 1229.4,1713.2 1230.9,1714.2 1232.4,1715.2 1233.9,1716.1 1235.4,1716.8 1236.9,1717.4 1238.4,1717.9 1239.9,1718.1 1241.4,1718.0 1242.9,1717.6 1244.4,1717.1 1245.9,1716.4 1247.4,1715.6 1248.9,1714.7 1250.4,1714.0 1251.9,1713.3 1253.4,1712.7 1254.9,1712.2 1256.4,1711.6 1257.9,1711.1 1259.4,1710.6 1260.9,1710.1 1262.4,1709.7 1263.9,1709.4 1265.4,1709.1 1266.9,1709.0 1268.4,1709.0 1269.9,1709.1 1271.4,1709.4 1272.9,1709.7 1274.4,1710.0 1275.9,1710.5 1277.4,1711.0 1278.9,1711.6 1280.4,1712.1 1281.9,1712.8 1283.4,1713.4 1284.9,1714.2 1286.4,1715.1 1287.9,1716.1 1289.4,1717.1 1290.9,1718.1 1292.4,1719.0 1293.9,1719.8 1295.4,1720.6 1296.9,1721.4 1298.4,1722.1 1299.9,1722.7 1301.4,1723.3 1302.9,1723.6 1304.4,1723.8 1305.9,1723.9 1307.4,1723.8 1308.9,1723.6 1310.4,1723.4 1311.9,1723.2 1313.4,1722.9 1314.9,1722.6 1316.4,1722.3 1317.9,1722.0 1319.4,1721.8 1320.9,1721.7 1322.4,1721.6 1323.9,1721.7 1325.4,1721.9 1326.9,1722.1 1328.4,1722.5 1329.9,1722.9 1331.4,1723.3 1332.9,1723.7 1334.4,1724.0 1335.9,1724.4 1337.4,1724.6 1338.9,1724.9 1340.4,1725.2 1341.9,1725.5 1343.4,1725.7 1344.9,1725.9 1346.4,1726.1 1347.9,1726.2 1349.4,1726.2 1350.9,1726.1 1352.4,1725.9 1353.9,1725.7 1355.4,1725.3 1356.9,1725.0 1358.4,1724.6 1359.9,1724.2 1361.4,1723.9 1362.9,1723.6 1364.4,1723.3 1365.9,1723.2 1367.4,1723.2 1368.9,1723.2 1370.4,1723.3 1371.9,1723.5 1373.4,1723.7 1374.9,1723.9 1376.4,1724.1 1377.9,1724.4 1379.4,1724.7 1380.9,1725.0 1382.4,1725.2 1383.9,1725.5 1385.4,1725.7 1386.9,1726.0 1388.4,1726.1 1389.9,1726.3 1391.4,1726.4 1392.9,1726.4 1394.4,1726.4 1395.9,1726.3 1397.4,1726.2 1398.9,1726.1 1400.4,1725.9 1401.9,1725.7 1403.4,1725.5 1404.9,1725.3 1406.4,1725.1 1407.9,1724.9 1409.4,1724.8 1410.9,1724.7 1412.4,1724.6 1413.9,1724.5 1415.4,1724.5 1416.9,1724.5 1418.4,1724.6 1419.9,1724.7 1421.4,1724.9 1422.9,1725.1 1424.4,1725.3 1425.9,1725.5 1427.4,1725.7 1428.9,1725.8 1430.4,1726.0 1431.9,1726.2 1433.4,1726.3 1434.9,1726.4 1436.4,1726.4 1437.9,1726.4 1439.4,1726.3 1440.9,1726.3 1442.4,1726.2 1443.9,1726.1 1445.4,1725.9 1446.9,1725.8 1448.4,1725.7 1449.9,1725.5 1451.4,1725.4 1452.9,1725.3 1454.4,1725.2 1455.9,1725.1 1457.4,1725.1 1458.9,1725.1 1460.4,1725.1 1461.9,1725.1 1463.4,1725.2 1464.9,1725.3 1466.4,1725.4 1467.9,1725.6 1469.4,1725.7 1470.9,1725.8 1472.4,1726.0 1473.9,1726.1 1475.4,1726.2 1476.9,1726.3 1478.4,1726.3 1479.9,1726.4 1481.4,1726.4 1482.9,1726.4 1484.4,1726.3 1485.9,1726.3 1487.4,1726.2 1488.9,1726.2 1490.4,1726.1 1491.9,1726.0 1493.4,1726.0 1494.9,1725.9 1496.4,1725.8 1497.9,1725.7 1499.4,1725.7 1500.9,1725.6 1502.4,1725.5 1503.9,1725.5 1505.4,1725.5 1506.9,1725.4 1508.4,1725.4 1509.9,1725.4 1511.4,1725.4 1512.9,1725.4 1514.4,1725.4 1515.9,1725.4 1517.4,1725.4 1518.9,1725.4 1520.4,1725.4 1521.9,1725.4 1523.4,1725.4 1524.9,1725.5 1526.4,1725.5 1527.9,1725.5 1529.4,1725.5 1530.9,1725.5 1532.4,1725.5 1533.9,1725.5 1535.4,1725.6 1536.9,1725.6 1538.4,1725.6 1539.9,1725.6 1541.4,1725.6 1542.9,1725.7 1544.4,1725.7 1545.9,1725.7 1547.4,1725.7 1548.9,1725.7 1550.4,1725.7 1551.9,1725.8 1553.4,1725.8 1554.9,1725.8 1556.4,1725.8 1557.9,1725.8" fill="none" stroke="#48526A" stroke-width="3.5" stroke-linejoin="round"/>
<path d="M969.9,1690.0 971.4,1690.0 972.9,1690.0 974.4,1690.0 975.9,1689.9 977.4,1689.9 978.9,1689.9 980.4,1689.9 981.9,1689.9 983.4,1689.8 984.9,1689.8 986.4,1689.8 987.9,1689.8 989.4,1689.7 990.9,1689.7 992.4,1689.7 993.9,1689.7 995.4,1689.6 996.9,1689.6 998.4,1689.6 999.9,1689.6 1001.4,1689.5 1002.9,1689.5 1004.4,1689.5 1005.9,1689.5 1007.4,1689.4 1008.9,1689.4 1010.4,1689.4 1011.9,1689.4 1013.4,1689.4 1014.9,1689.4 1016.4,1689.4 1017.9,1689.3 1019.4,1689.3 1020.9,1689.3 1022.4,1689.3 1023.9,1689.3 1025.4,1689.3 1026.9,1689.3 1028.4,1689.3 1029.9,1689.2 1031.4,1689.2 1032.9,1689.2 1034.4,1689.1 1035.9,1689.1 1037.4,1689.0 1038.9,1689.0 1040.4,1688.9 1041.9,1688.8 1043.4,1688.8 1044.9,1688.7 1046.4,1688.6 1047.9,1688.5 1049.4,1688.4 1050.9,1688.3 1052.4,1688.1 1053.9,1688.0 1055.4,1687.9 1056.9,1687.7 1058.4,1687.6 1059.9,1687.4 1061.4,1687.2 1062.9,1687.0 1064.4,1686.8 1065.9,1686.6 1067.4,1686.3 1068.9,1686.1 1070.4,1685.8 1071.9,1685.5 1073.4,1685.2 1074.9,1684.9 1076.4,1684.5 1077.9,1684.0 1079.4,1683.6 1080.9,1683.1 1082.4,1682.5 1083.9,1682.0 1085.4,1681.4 1086.9,1680.8 1088.4,1680.2 1089.9,1679.6 1091.4,1679.0 1092.9,1678.3 1094.4,1677.6 1095.9,1676.9 1097.4,1676.1 1098.9,1675.3 1100.4,1674.5 1101.9,1673.7 1103.4,1672.9 1104.9,1672.2 1106.4,1671.4 1107.9,1670.7 1109.4,1670.0 1110.9,1669.4 1112.4,1668.8 1113.9,1668.1 1115.4,1667.5 1116.9,1666.9 1118.4,1666.4 1119.9,1665.9 1121.4,1665.4 1122.9,1665.0 1124.4,1664.6 1125.9,1664.4 1127.4,1664.2 1128.9,1664.1 1130.4,1664.1 1131.9,1664.2 1133.4,1664.4 1134.9,1664.7 1136.4,1665.0 1137.9,1665.4 1139.4,1665.9 1140.9,1666.4 1142.4,1667.0 1143.9,1667.6 1145.4,1668.3 1146.9,1669.1 1148.4,1669.9 1149.9,1670.7 1151.4,1671.5 1152.9,1672.4 1154.4,1673.2 1155.9,1674.0 1157.4,1674.8 1158.9,1675.7 1160.4,1676.6 1161.9,1677.5 1163.4,1678.4 1164.9,1679.3 1166.4,1680.1 1167.9,1680.9 1169.4,1681.7 1170.9,1682.4 1172.4,1683.0 1173.9,1683.7 1175.4,1684.2 1176.9,1684.7 1178.4,1685.2 1179.9,1685.6 1181.4,1686.0 1182.9,1686.3 1184.4,1686.7 1185.9,1687.0 1187.4,1687.3 1188.9,1687.5 1190.4,1687.8 1191.9,1688.1 1193.4,1688.3 1194.9,1688.5 1196.4,1688.8 1197.9,1689.0 1199.4,1689.3 1200.9,1689.5 1202.4,1689.7 1203.9,1689.9 1205.4,1690.2 1206.9,1690.4 1208.4,1690.7 1209.9,1690.9 1211.4,1691.1 1212.9,1691.3 1214.4,1691.5 1215.9,1691.7 1217.4,1691.9 1218.9,1692.1 1220.4,1692.2 1221.9,1692.3 1223.4,1692.5 1224.9,1692.6 1226.4,1692.7 1227.9,1692.8 1229.4,1692.9 1230.9,1693.0 1232.4,1693.1 1233.9,1693.1 1235.4,1693.2 1236.9,1693.3 1238.4,1693.4 1239.9,1693.5 1241.4,1693.6 1242.9,1693.6 1244.4,1693.7 1245.9,1693.8 1247.4,1693.8 1248.9,1693.9 1250.4,1694.0 1251.9,1694.0 1253.4,1694.1 1254.9,1694.1 1256.4,1694.2 1257.9,1694.3 1259.4,1694.3 1260.9,1694.4 1262.4,1694.4 1263.9,1694.5 1265.4,1694.5 1266.9,1694.5 1268.4,1694.6 1269.9,1694.6 1271.4,1694.6 1272.9,1694.7 1274.4,1694.7 1275.9,1694.7 1277.4,1694.8 1278.9,1694.8 1280.4,1694.8 1281.9,1694.8 1283.4,1694.8 1284.9,1694.9 1286.4,1694.9 1287.9,1694.9 1289.4,1694.9 1290.9,1694.9 1292.4,1694.9 1293.9,1695.0 1295.4,1695.0 1296.9,1695.0 1298.4,1695.0 1299.9,1695.0 1301.4,1695.1 1302.9,1695.1 1304.4,1695.1 1305.9,1695.2 1307.4,1695.2 1308.9,1695.2 1310.4,1695.3 1311.9,1695.3 1313.4,1695.3 1314.9,1695.4 1316.4,1695.4 1317.9,1695.5 1319.4,1695.5 1320.9,1695.6 1322.4,1695.6 1323.9,1695.7 1325.4,1695.7 1326.9,1695.8 1328.4,1695.8 1329.9,1695.9 1331.4,1695.9 1332.9,1696.0 1334.4,1696.0 1335.9,1696.0 1337.4,1696.1 1338.9,1696.1 1340.4,1696.2 1341.9,1696.2 1343.4,1696.2 1344.9,1696.3 1346.4,1696.3 1347.9,1696.3 1349.4,1696.3 1350.9,1696.3 1352.4,1696.4 1353.9,1696.4 1355.4,1696.4 1356.9,1696.4 1358.4,1696.4 1359.9,1696.4 1361.4,1696.4 1362.9,1696.4 1364.4,1696.4 1365.9,1696.4 1367.4,1696.4 1368.9,1696.4 1370.4,1696.4 1371.9,1696.4 1373.4,1696.4 1374.9,1696.4 1376.4,1696.4 1377.9,1696.4 1379.4,1696.4 1380.9,1696.4 1382.4,1696.4 1383.9,1696.4 1385.4,1696.4 1386.9,1696.4 1388.4,1696.4 1389.9,1696.4 1391.4,1696.4 1392.9,1696.4 1394.4,1696.4 1395.9,1696.4 1397.4,1696.4 1398.9,1696.4 1400.4,1696.3 1401.9,1696.3 1403.4,1696.3 1404.9,1696.3 1406.4,1696.3 1407.9,1696.3 1409.4,1696.3 1410.9,1696.4 1412.4,1696.4 1413.9,1696.4 1415.4,1696.4 1416.9,1696.4 1418.4,1696.4 1419.9,1696.4 1421.4,1696.4 1422.9,1696.4 1424.4,1696.4 1425.9,1696.4 1427.4,1696.4 1428.9,1696.4 1430.4,1696.4 1431.9,1696.4 1433.4,1696.4 1434.9,1696.4 1436.4,1696.5 1437.9,1696.5 1439.4,1696.5 1440.9,1696.5 1442.4,1696.5 1443.9,1696.5 1445.4,1696.5 1446.9,1696.5 1448.4,1696.5 1449.9,1696.5 1451.4,1696.5 1452.9,1696.5 1454.4,1696.5 1455.9,1696.6 1457.4,1696.6 1458.9,1696.6 1460.4,1696.6 1461.9,1696.6 1463.4,1696.6 1464.9,1696.6 1466.4,1696.6 1467.9,1696.6 1469.4,1696.6 1470.9,1696.6 1472.4,1696.7 1473.9,1696.7 1475.4,1696.7 1476.9,1696.7 1478.4,1696.7 1479.9,1696.7 1481.4,1696.7 1482.9,1696.7 1484.4,1696.7 1485.9,1696.7 1487.4,1696.7 1488.9,1696.7 1490.4,1696.7 1491.9,1696.8 1493.4,1696.8 1494.9,1696.8 1496.4,1696.8 1497.9,1696.8 1499.4,1696.8 1500.9,1696.8 1502.4,1696.8 1503.9,1696.8 1505.4,1696.8 1506.9,1696.8 1508.4,1696.8 1509.9,1696.9 1511.4,1696.9 1512.9,1696.9 1514.4,1696.9 1515.9,1696.9 1517.4,1696.9 1518.9,1696.9 1520.4,1696.9 1521.9,1696.9 1523.4,1696.9 1524.9,1696.9 1526.4,1696.9 1527.9,1697.0 1529.4,1697.0 1530.9,1697.0 1532.4,1697.0 1533.9,1697.0 1535.4,1697.0 1536.9,1697.0 1538.4,1697.0 1539.9,1697.0 1541.4,1697.0 1542.9,1697.0 1544.4,1697.0 1545.9,1697.1 1547.4,1697.1 1548.9,1697.1 1550.4,1697.1 1551.9,1697.1 1553.4,1697.1 1554.9,1697.1 1556.4,1697.1 1557.9,1697.1" fill="none" stroke="#E2714D" stroke-width="3.5" stroke-linejoin="round"/>
<path d="M969.9,1659.4 971.4,1659.5 972.9,1659.5 974.4,1659.5 975.9,1659.6 977.4,1659.6 978.9,1659.7 980.4,1659.7 981.9,1659.8 983.4,1659.9 984.9,1659.9 986.4,1660.0 987.9,1660.0 989.4,1660.0 990.9,1660.1 992.4,1660.1 993.9,1660.1 995.4,1660.1 996.9,1660.1 998.4,1660.1 999.9,1660.1 1001.4,1660.0 1002.9,1660.0 1004.4,1659.9 1005.9,1659.7 1007.4,1659.6 1008.9,1659.4 1010.4,1659.2 1011.9,1659.0 1013.4,1658.7 1014.9,1658.5 1016.4,1658.3 1017.9,1658.0 1019.4,1657.8 1020.9,1657.6 1022.4,1657.4 1023.9,1657.2 1025.4,1657.1 1026.9,1657.0 1028.4,1657.0 1029.9,1657.0 1031.4,1657.0 1032.9,1657.1 1034.4,1657.3 1035.9,1657.5 1037.4,1657.8 1038.9,1658.0 1040.4,1658.3 1041.9,1658.6 1043.4,1658.9 1044.9,1659.1 1046.4,1659.4 1047.9,1659.6 1049.4,1659.7 1050.9,1659.8 1052.4,1659.8 1053.9,1659.8 1055.4,1659.7 1056.9,1659.4 1058.4,1659.1 1059.9,1658.7 1061.4,1658.3 1062.9,1657.8 1064.4,1657.3 1065.9,1656.8 1067.4,1656.3 1068.9,1655.8 1070.4,1655.3 1071.9,1654.9 1073.4,1654.5 1074.9,1654.2 1076.4,1653.9 1077.9,1653.8 1079.4,1653.7 1080.9,1653.8 1082.4,1654.1 1083.9,1654.5 1085.4,1654.9 1086.9,1655.4 1088.4,1656.0 1089.9,1656.6 1091.4,1657.2 1092.9,1657.7 1094.4,1658.1 1095.9,1658.5 1097.4,1658.7 1098.9,1658.8 1100.4,1658.8 1101.9,1658.5 1103.4,1658.2 1104.9,1657.7 1106.4,1657.1 1107.9,1656.5 1109.4,1655.8 1110.9,1655.1 1112.4,1654.3 1113.9,1653.6 1115.4,1652.9 1116.9,1652.2 1118.4,1651.6 1119.9,1651.0 1121.4,1650.5 1122.9,1650.2 1124.4,1650.0 1125.9,1649.9 1127.4,1650.0 1128.9,1650.4 1130.4,1650.8 1131.9,1651.4 1133.4,1652.0 1134.9,1652.7 1136.4,1653.4 1137.9,1654.0 1139.4,1654.6 1140.9,1655.0 1142.4,1655.4 1143.9,1655.5 1145.4,1655.3 1146.9,1654.8 1148.4,1653.8 1149.9,1652.6 1151.4,1651.0 1152.9,1649.2 1154.4,1647.2 1155.9,1645.0 1157.4,1642.7 1158.9,1640.4 1160.4,1638.1 1161.9,1635.9 1163.4,1633.8 1164.9,1631.9 1166.4,1630.2 1167.9,1628.5 1169.4,1626.9 1170.9,1625.3 1172.4,1623.9 1173.9,1622.5 1175.4,1621.3 1176.9,1620.2 1178.4,1619.3 1179.9,1618.6 1181.4,1618.1 1182.9,1618.1 1184.4,1618.4 1185.9,1619.0 1187.4,1620.0 1188.9,1621.2 1190.4,1622.7 1191.9,1624.6 1193.4,1626.8 1194.9,1629.3 1196.4,1631.9 1197.9,1634.6 1199.4,1637.3 1200.9,1640.3 1202.4,1643.7 1203.9,1647.1 1205.4,1650.3 1206.9,1652.8 1208.4,1654.3 1209.9,1654.1 1211.4,1652.0 1212.9,1648.5 1214.4,1644.3 1215.9,1640.1 1217.4,1636.0 1218.9,1631.7 1220.4,1627.3 1221.9,1622.9 1223.4,1618.5 1224.9,1614.3 1226.4,1610.4 1227.9,1606.8 1229.4,1603.5 1230.9,1600.4 1232.4,1597.6 1233.9,1594.9 1235.4,1592.4 1236.9,1590.1 1238.4,1587.9 1239.9,1586.0 1241.4,1584.2 1242.9,1582.6 1244.4,1581.3 1245.9,1580.2 1247.4,1579.5 1248.9,1579.1 1250.4,1579.2 1251.9,1579.5 1253.4,1580.3 1254.9,1581.3 1256.4,1582.6 1257.9,1584.2 1259.4,1586.0 1260.9,1588.1 1262.4,1590.4 1263.9,1593.0 1265.4,1595.8 1266.9,1598.6 1268.4,1601.6 1269.9,1604.6 1271.4,1607.6 1272.9,1610.6 1274.4,1613.8 1275.9,1617.0 1277.4,1620.3 1278.9,1623.5 1280.4,1626.7 1281.9,1629.9 1283.4,1633.0 1284.9,1636.0 1286.4,1638.8 1287.9,1641.3 1289.4,1643.4 1290.9,1645.3 1292.4,1646.9 1293.9,1648.0 1295.4,1648.7 1296.9,1648.7 1298.4,1648.4 1299.9,1648.0 1301.4,1647.5 1302.9,1647.0 1304.4,1646.4 1305.9,1645.8 1307.4,1645.3 1308.9,1644.9 1310.4,1644.5 1311.9,1644.3 1313.4,1644.2 1314.9,1644.3 1316.4,1644.5 1317.9,1644.9 1319.4,1645.5 1320.9,1646.1 1322.4,1646.8 1323.9,1647.5 1325.4,1648.2 1326.9,1648.9 1328.4,1649.8 1329.9,1650.7 1331.4,1651.8 1332.9,1652.9 1334.4,1653.9 1335.9,1654.9 1337.4,1655.7 1338.9,1656.2 1340.4,1656.5 1341.9,1656.6 1343.4,1656.5 1344.9,1656.2 1346.4,1655.9 1347.9,1655.5 1349.4,1655.1 1350.9,1654.6 1352.4,1654.1 1353.9,1653.6 1355.4,1653.1 1356.9,1652.6 1358.4,1652.3 1359.9,1652.0 1361.4,1651.8 1362.9,1651.8 1364.4,1651.8 1365.9,1652.0 1367.4,1652.3 1368.9,1652.7 1370.4,1653.0 1371.9,1653.5 1373.4,1653.9 1374.9,1654.4 1376.4,1655.0 1377.9,1655.6 1379.4,1656.2 1380.9,1656.9 1382.4,1657.5 1383.9,1658.0 1385.4,1658.4 1386.9,1658.7 1388.4,1658.8 1389.9,1658.8 1391.4,1658.7 1392.9,1658.5 1394.4,1658.2 1395.9,1657.9 1397.4,1657.6 1398.9,1657.2 1400.4,1656.8 1401.9,1656.5 1403.4,1656.2 1404.9,1655.9 1406.4,1655.7 1407.9,1655.6 1409.4,1655.6 1410.9,1655.8 1412.4,1656.0 1413.9,1656.2 1415.4,1656.6 1416.9,1656.9 1418.4,1657.4 1419.9,1657.8 1421.4,1658.2 1422.9,1658.7 1424.4,1659.1 1425.9,1659.5 1427.4,1659.8 1428.9,1660.0 1430.4,1660.2 1431.9,1660.3 1433.4,1660.3 1434.9,1660.3 1436.4,1660.1 1437.9,1659.8 1439.4,1659.5 1440.9,1659.2 1442.4,1658.8 1443.9,1658.4 1445.4,1658.1 1446.9,1657.7 1448.4,1657.4 1449.9,1657.2 1451.4,1657.0 1452.9,1657.0 1454.4,1657.0 1455.9,1657.1 1457.4,1657.2 1458.9,1657.4 1460.4,1657.6 1461.9,1657.9 1463.4,1658.2 1464.9,1658.4 1466.4,1658.7 1467.9,1659.0 1469.4,1659.3 1470.9,1659.6 1472.4,1659.8 1473.9,1660.0 1475.4,1660.2 1476.9,1660.3 1478.4,1660.4 1479.9,1660.3 1481.4,1660.3 1482.9,1660.1 1484.4,1659.9 1485.9,1659.7 1487.4,1659.5 1488.9,1659.2 1490.4,1659.0 1491.9,1658.8 1493.4,1658.5 1494.9,1658.4 1496.4,1658.2 1497.9,1658.1 1499.4,1658.1 1500.9,1658.1 1502.4,1658.2 1503.9,1658.3 1505.4,1658.5 1506.9,1658.7 1508.4,1658.9 1509.9,1659.1 1511.4,1659.3 1512.9,1659.5 1514.4,1659.7 1515.9,1659.9 1517.4,1660.1 1518.9,1660.2 1520.4,1660.3 1521.9,1660.4 1523.4,1660.4 1524.9,1660.4 1526.4,1660.4 1527.9,1660.4 1529.4,1660.4 1530.9,1660.4 1532.4,1660.4 1533.9,1660.3 1535.4,1660.3 1536.9,1660.2 1538.4,1660.2 1539.9,1660.1 1541.4,1660.1 1542.9,1660.0 1544.4,1659.9 1545.9,1659.9 1547.4,1659.8 1548.9,1659.8 1550.4,1659.7 1551.9,1659.6 1553.4,1659.6 1554.9,1659.5 1556.4,1659.5 1557.9,1659.4" fill="none" stroke="#2C5C98" stroke-width="3.5" stroke-linejoin="round"/>
<path d="M969.9,1580.0 971.4,1580.0 972.9,1580.0 974.4,1580.0 975.9,1580.0 977.4,1580.0 978.9,1580.0 980.4,1579.9 981.9,1579.9 983.4,1579.9 984.9,1579.9 986.4,1579.9 987.9,1579.9 989.4,1579.8 990.9,1579.8 992.4,1579.8 993.9,1579.7 995.4,1579.7 996.9,1579.6 998.4,1579.6 999.9,1579.5 1001.4,1579.4 1002.9,1579.3 1004.4,1579.2 1005.9,1579.2 1007.4,1579.1 1008.9,1579.0 1010.4,1578.9 1011.9,1578.8 1013.4,1578.6 1014.9,1578.5 1016.4,1578.4 1017.9,1578.3 1019.4,1578.2 1020.9,1578.1 1022.4,1578.0 1023.9,1577.8 1025.4,1577.7 1026.9,1577.6 1028.4,1577.5 1029.9,1577.4 1031.4,1577.3 1032.9,1577.2 1034.4,1577.0 1035.9,1576.9 1037.4,1576.8 1038.9,1576.7 1040.4,1576.5 1041.9,1576.4 1043.4,1576.3 1044.9,1576.2 1046.4,1576.0 1047.9,1575.9 1049.4,1575.7 1050.9,1575.6 1052.4,1575.4 1053.9,1575.3 1055.4,1575.1 1056.9,1574.9 1058.4,1574.8 1059.9,1574.6 1061.4,1574.4 1062.9,1574.2 1064.4,1574.0 1065.9,1573.8 1067.4,1573.6 1068.9,1573.4 1070.4,1573.2 1071.9,1573.0 1073.4,1572.8 1074.9,1572.6 1076.4,1572.4 1077.9,1572.2 1079.4,1571.9 1080.9,1571.7 1082.4,1571.5 1083.9,1571.2 1085.4,1571.0 1086.9,1570.7 1088.4,1570.5 1089.9,1570.2 1091.4,1570.0 1092.9,1569.7 1094.4,1569.4 1095.9,1569.1 1097.4,1568.7 1098.9,1568.4 1100.4,1568.0 1101.9,1567.6 1103.4,1567.2 1104.9,1566.7 1106.4,1566.3 1107.9,1565.8 1109.4,1565.3 1110.9,1564.8 1112.4,1564.2 1113.9,1563.7 1115.4,1563.1 1116.9,1562.6 1118.4,1562.0 1119.9,1561.4 1121.4,1560.7 1122.9,1560.1 1124.4,1559.4 1125.9,1558.8 1127.4,1558.0 1128.9,1557.3 1130.4,1556.5 1131.9,1555.8 1133.4,1554.9 1134.9,1554.1 1136.4,1553.2 1137.9,1552.3 1139.4,1551.3 1140.9,1550.3 1142.4,1549.2 1143.9,1548.1 1145.4,1547.0 1146.9,1545.9 1148.4,1544.7 1149.9,1543.5 1151.4,1542.3 1152.9,1541.1 1154.4,1539.8 1155.9,1538.5 1157.4,1537.2 1158.9,1535.9 1160.4,1534.6 1161.9,1533.3 1163.4,1532.0 1164.9,1530.7 1166.4,1529.3 1167.9,1528.1 1169.4,1526.9 1170.9,1525.7 1172.4,1524.6 1173.9,1523.5 1175.4,1522.5 1176.9,1521.4 1178.4,1520.3 1179.9,1519.3 1181.4,1518.3 1182.9,1517.3 1184.4,1516.4 1185.9,1515.6 1187.4,1514.8 1188.9,1514.1 1190.4,1513.5 1191.9,1512.9 1193.4,1512.3 1194.9,1511.8 1196.4,1511.3 1197.9,1510.9 1199.4,1510.5 1200.9,1510.2 1202.4,1510.0 1203.9,1509.8 1205.4,1509.7 1206.9,1509.8 1208.4,1509.9 1209.9,1510.2 1211.4,1510.6 1212.9,1511.2 1214.4,1511.9 1215.9,1512.7 1217.4,1513.6 1218.9,1514.7 1220.4,1515.9 1221.9,1517.2 1223.4,1518.6 1224.9,1520.2 1226.4,1521.8 1227.9,1523.6 1229.4,1525.6 1230.9,1527.7 1232.4,1530.0 1233.9,1532.3 1235.4,1534.7 1236.9,1537.1 1238.4,1539.4 1239.9,1541.8 1241.4,1544.2 1242.9,1546.7 1244.4,1549.2 1245.9,1551.6 1247.4,1554.0 1248.9,1556.4 1250.4,1558.6 1251.9,1560.7 1253.4,1562.8 1254.9,1564.7 1256.4,1566.6 1257.9,1568.3 1259.4,1569.8 1260.9,1571.2 1262.4,1572.4 1263.9,1573.1 1265.4,1573.3 1266.9,1573.2 1268.4,1572.8 1269.9,1572.3 1271.4,1571.7 1272.9,1571.1 1274.4,1570.5 1275.9,1569.9 1277.4,1569.4 1278.9,1569.1 1280.4,1568.9 1281.9,1569.0 1283.4,1569.3 1284.9,1569.7 1286.4,1570.3 1287.9,1571.0 1289.4,1571.7 1290.9,1572.6 1292.4,1573.5 1293.9,1574.5 1295.4,1575.5 1296.9,1576.6 1298.4,1577.8 1299.9,1578.9 1301.4,1579.9 1302.9,1581.0 1304.4,1582.1 1305.9,1583.3 1307.4,1584.5 1308.9,1585.5 1310.4,1586.4 1311.9,1586.9 1313.4,1587.1 1314.9,1587.0 1316.4,1586.5 1317.9,1585.9 1319.4,1585.0 1320.9,1584.1 1322.4,1583.1 1323.9,1582.2 1325.4,1581.3 1326.9,1580.5 1328.4,1579.8 1329.9,1579.4 1331.4,1579.2 1332.9,1579.2 1334.4,1579.3 1335.9,1579.6 1337.4,1579.9 1338.9,1580.3 1340.4,1580.8 1341.9,1581.3 1343.4,1581.8 1344.9,1582.3 1346.4,1582.8 1347.9,1583.2 1349.4,1583.6 1350.9,1584.0 1352.4,1584.5 1353.9,1584.9 1355.4,1585.3 1356.9,1585.6 1358.4,1585.7 1359.9,1585.7 1361.4,1585.6 1362.9,1585.4 1364.4,1585.1 1365.9,1584.8 1367.4,1584.5 1368.9,1584.1 1370.4,1583.8 1371.9,1583.4 1373.4,1583.1 1374.9,1582.8 1376.4,1582.6 1377.9,1582.5 1379.4,1582.4 1380.9,1582.4 1382.4,1582.4 1383.9,1582.5 1385.4,1582.7 1386.9,1583.0 1388.4,1583.2 1389.9,1583.5 1391.4,1583.8 1392.9,1584.2 1394.4,1584.5 1395.9,1584.8 1397.4,1585.1 1398.9,1585.4 1400.4,1585.6 1401.9,1585.9 1403.4,1586.0 1404.9,1586.1 1406.4,1586.1 1407.9,1586.1 1409.4,1586.0 1410.9,1585.8 1412.4,1585.6 1413.9,1585.4 1415.4,1585.2 1416.9,1584.9 1418.4,1584.7 1419.9,1584.4 1421.4,1584.2 1422.9,1584.0 1424.4,1583.9 1425.9,1583.9 1427.4,1583.9 1428.9,1583.9 1430.4,1584.0 1431.9,1584.2 1433.4,1584.3 1434.9,1584.5 1436.4,1584.7 1437.9,1585.0 1439.4,1585.2 1440.9,1585.4 1442.4,1585.6 1443.9,1585.8 1445.4,1585.9 1446.9,1586.0 1448.4,1586.1 1449.9,1586.1 1451.4,1586.1 1452.9,1586.1 1454.4,1586.0 1455.9,1585.9 1457.4,1585.8 1458.9,1585.7 1460.4,1585.5 1461.9,1585.4 1463.4,1585.3 1464.9,1585.1 1466.4,1585.0 1467.9,1584.9 1469.4,1584.9 1470.9,1584.8 1472.4,1584.8 1473.9,1584.9 1475.4,1584.9 1476.9,1585.0 1478.4,1585.2 1479.9,1585.3 1481.4,1585.5 1482.9,1585.7 1484.4,1585.8 1485.9,1586.0 1487.4,1586.2 1488.9,1586.3 1490.4,1586.5 1491.9,1586.6 1493.4,1586.7 1494.9,1586.7 1496.4,1586.7 1497.9,1586.7 1499.4,1586.7 1500.9,1586.7 1502.4,1586.7 1503.9,1586.6 1505.4,1586.6 1506.9,1586.5 1508.4,1586.4 1509.9,1586.3 1511.4,1586.3 1512.9,1586.2 1514.4,1586.1 1515.9,1586.0 1517.4,1586.0 1518.9,1585.9 1520.4,1585.9 1521.9,1585.8 1523.4,1585.8 1524.9,1585.8 1526.4,1585.8 1527.9,1585.8 1529.4,1585.8 1530.9,1585.8 1532.4,1585.8 1533.9,1585.9 1535.4,1585.9 1536.9,1586.0 1538.4,1586.0 1539.9,1586.1 1541.4,1586.1 1542.9,1586.2 1544.4,1586.2 1545.9,1586.3 1547.4,1586.3 1548.9,1586.4 1550.4,1586.5 1551.9,1586.5 1553.4,1586.6 1554.9,1586.6 1556.4,1586.7 1557.9,1586.7" fill="none" stroke="#E33A3F" stroke-width="3.5" stroke-linejoin="round"/>
<g fill="#fff" stroke="#E4BF3A" stroke-width="1.1"><circle cx="970.5" cy="1503.4" r="7"/><circle cx="973.5" cy="1502.9" r="7"/><circle cx="976.5" cy="1502.3" r="7"/><circle cx="979.5" cy="1501.8" r="7"/><circle cx="982.5" cy="1501.2" r="7"/><circle cx="985.5" cy="1500.8" r="7"/><circle cx="988.5" cy="1500.5" r="7"/><circle cx="991.5" cy="1500.4" r="7"/><circle cx="994.5" cy="1500.4" r="7"/><circle cx="997.5" cy="1500.4" r="7"/><circle cx="1000.5" cy="1500.4" r="7"/><circle cx="1003.5" cy="1500.1" r="7"/><circle cx="1006.5" cy="1499.6" r="7"/><circle cx="1009.5" cy="1498.5" r="7"/><circle cx="1012.5" cy="1496.9" r="7"/><circle cx="1015.5" cy="1495.2" r="7"/><circle cx="1018.5" cy="1493.5" r="7"/><circle cx="1021.5" cy="1491.9" r="7"/><circle cx="1024.5" cy="1490.3" r="7"/><circle cx="1027.5" cy="1488.9" r="7"/><circle cx="1030.5" cy="1487.7" r="7"/><circle cx="1033.5" cy="1486.8" r="7"/><circle cx="1036.5" cy="1485.9" r="7"/><circle cx="1039.5" cy="1485.2" r="7"/><circle cx="1042.5" cy="1484.6" r="7"/><circle cx="1045.5" cy="1484.3" r="7"/><circle cx="1048.5" cy="1484.2" r="7"/><circle cx="1051.5" cy="1484.2" r="7"/><circle cx="1054.5" cy="1484.4" r="7"/><circle cx="1057.5" cy="1484.5" r="7"/><circle cx="1060.5" cy="1484.5" r="7"/><circle cx="1063.5" cy="1484.4" r="7"/><circle cx="1066.5" cy="1484.0" r="7"/><circle cx="1069.5" cy="1483.6" r="7"/><circle cx="1072.5" cy="1483.1" r="7"/><circle cx="1075.5" cy="1482.5" r="7"/><circle cx="1078.5" cy="1481.8" r="7"/><circle cx="1081.5" cy="1480.9" r="7"/><circle cx="1084.5" cy="1479.9" r="7"/><circle cx="1087.5" cy="1478.7" r="7"/><circle cx="1090.5" cy="1477.2" r="7"/><circle cx="1093.5" cy="1475.6" r="7"/><circle cx="1096.5" cy="1473.9" r="7"/><circle cx="1099.5" cy="1472.0" r="7"/><circle cx="1102.5" cy="1469.8" r="7"/><circle cx="1105.5" cy="1467.3" r="7"/><circle cx="1108.5" cy="1464.3" r="7"/><circle cx="1111.5" cy="1460.7" r="7"/><circle cx="1114.5" cy="1456.9" r="7"/><circle cx="1117.5" cy="1453.4" r="7"/><circle cx="1120.5" cy="1450.8" r="7"/><circle cx="1123.5" cy="1448.7" r="7"/><circle cx="1126.5" cy="1447.2" r="7"/><circle cx="1129.5" cy="1446.3" r="7"/><circle cx="1132.5" cy="1446.1" r="7"/><circle cx="1135.5" cy="1446.8" r="7"/><circle cx="1138.5" cy="1447.7" r="7"/><circle cx="1141.5" cy="1448.6" r="7"/><circle cx="1144.5" cy="1448.9" r="7"/><circle cx="1147.5" cy="1448.8" r="7"/><circle cx="1150.5" cy="1447.9" r="7"/><circle cx="1153.5" cy="1446.1" r="7"/><circle cx="1156.5" cy="1442.5" r="7"/><circle cx="1159.5" cy="1437.8" r="7"/><circle cx="1162.5" cy="1433.6" r="7"/><circle cx="1165.5" cy="1431.6" r="7"/><circle cx="1168.5" cy="1430.7" r="7"/><circle cx="1171.5" cy="1426.5" r="7"/><circle cx="1174.5" cy="1419.5" r="7"/><circle cx="1177.5" cy="1412.2" r="7"/><circle cx="1180.5" cy="1406.5" r="7"/><circle cx="1183.5" cy="1401.9" r="7"/><circle cx="1186.5" cy="1398.6" r="7"/><circle cx="1189.5" cy="1397.0" r="7"/><circle cx="1192.5" cy="1397.4" r="7"/><circle cx="1195.5" cy="1399.7" r="7"/><circle cx="1198.5" cy="1403.9" r="7"/><circle cx="1201.5" cy="1409.8" r="7"/><circle cx="1204.5" cy="1417.0" r="7"/><circle cx="1207.5" cy="1425.9" r="7"/><circle cx="1210.5" cy="1436.4" r="7"/><circle cx="1213.5" cy="1448.3" r="7"/><circle cx="1216.5" cy="1460.2" r="7"/><circle cx="1219.5" cy="1472.7" r="7"/><circle cx="1222.5" cy="1487.4" r="7"/><circle cx="1225.5" cy="1500.9" r="7"/><circle cx="1228.5" cy="1508.5" r="7"/><circle cx="1231.5" cy="1503.0" r="7"/><circle cx="1234.5" cy="1492.6" r="7"/><circle cx="1237.5" cy="1482.1" r="7"/><circle cx="1240.5" cy="1472.7" r="7"/><circle cx="1243.5" cy="1464.0" r="7"/><circle cx="1246.5" cy="1456.5" r="7"/><circle cx="1249.5" cy="1450.7" r="7"/><circle cx="1252.5" cy="1446.7" r="7"/><circle cx="1255.5" cy="1444.7" r="7"/><circle cx="1258.5" cy="1444.7" r="7"/><circle cx="1261.5" cy="1446.5" r="7"/><circle cx="1264.5" cy="1449.3" r="7"/><circle cx="1267.5" cy="1452.9" r="7"/><circle cx="1270.5" cy="1457.3" r="7"/><circle cx="1273.5" cy="1462.1" r="7"/><circle cx="1276.5" cy="1467.3" r="7"/><circle cx="1279.5" cy="1472.7" r="7"/><circle cx="1282.5" cy="1478.5" r="7"/><circle cx="1285.5" cy="1484.1" r="7"/><circle cx="1288.5" cy="1488.7" r="7"/><circle cx="1291.5" cy="1492.1" r="7"/><circle cx="1294.5" cy="1493.6" r="7"/><circle cx="1297.5" cy="1493.5" r="7"/><circle cx="1300.5" cy="1492.7" r="7"/><circle cx="1303.5" cy="1491.6" r="7"/><circle cx="1306.5" cy="1490.7" r="7"/><circle cx="1309.5" cy="1490.2" r="7"/><circle cx="1312.5" cy="1490.0" r="7"/><circle cx="1315.5" cy="1489.9" r="7"/><circle cx="1318.5" cy="1490.1" r="7"/><circle cx="1321.5" cy="1490.7" r="7"/><circle cx="1324.5" cy="1491.5" r="7"/><circle cx="1327.5" cy="1492.5" r="7"/><circle cx="1330.5" cy="1493.6" r="7"/><circle cx="1333.5" cy="1494.6" r="7"/><circle cx="1336.5" cy="1495.8" r="7"/><circle cx="1339.5" cy="1497.0" r="7"/><circle cx="1342.5" cy="1498.4" r="7"/><circle cx="1345.5" cy="1499.9" r="7"/><circle cx="1348.5" cy="1501.7" r="7"/><circle cx="1351.5" cy="1504.5" r="7"/><circle cx="1354.5" cy="1508.5" r="7"/><circle cx="1357.5" cy="1511.9" r="7"/><circle cx="1360.5" cy="1512.7" r="7"/><circle cx="1363.5" cy="1509.9" r="7"/><circle cx="1366.5" cy="1506.1" r="7"/><circle cx="1369.5" cy="1502.8" r="7"/><circle cx="1372.5" cy="1499.5" r="7"/><circle cx="1375.5" cy="1496.7" r="7"/><circle cx="1378.5" cy="1494.8" r="7"/><circle cx="1381.5" cy="1493.3" r="7"/><circle cx="1384.5" cy="1492.3" r="7"/><circle cx="1387.5" cy="1491.6" r="7"/><circle cx="1390.5" cy="1491.5" r="7"/><circle cx="1393.5" cy="1492.0" r="7"/><circle cx="1396.5" cy="1493.0" r="7"/><circle cx="1399.5" cy="1494.3" r="7"/><circle cx="1402.5" cy="1495.5" r="7"/><circle cx="1405.5" cy="1496.7" r="7"/><circle cx="1408.5" cy="1497.9" r="7"/><circle cx="1411.5" cy="1499.1" r="7"/><circle cx="1414.5" cy="1499.6" r="7"/><circle cx="1417.5" cy="1499.3" r="7"/><circle cx="1420.5" cy="1498.2" r="7"/><circle cx="1423.5" cy="1496.9" r="7"/><circle cx="1426.5" cy="1495.8" r="7"/><circle cx="1429.5" cy="1494.8" r="7"/><circle cx="1432.5" cy="1493.7" r="7"/><circle cx="1435.5" cy="1492.6" r="7"/><circle cx="1438.5" cy="1491.9" r="7"/><circle cx="1441.5" cy="1491.5" r="7"/><circle cx="1444.5" cy="1491.6" r="7"/><circle cx="1447.5" cy="1492.0" r="7"/><circle cx="1450.5" cy="1492.7" r="7"/><circle cx="1453.5" cy="1493.5" r="7"/><circle cx="1456.5" cy="1494.3" r="7"/><circle cx="1459.5" cy="1495.0" r="7"/><circle cx="1462.5" cy="1495.9" r="7"/><circle cx="1465.5" cy="1496.6" r="7"/><circle cx="1468.5" cy="1496.7" r="7"/><circle cx="1471.5" cy="1496.2" r="7"/><circle cx="1474.5" cy="1495.3" r="7"/><circle cx="1477.5" cy="1494.1" r="7"/><circle cx="1480.5" cy="1493.0" r="7"/><circle cx="1483.5" cy="1492.1" r="7"/><circle cx="1486.5" cy="1491.3" r="7"/><circle cx="1489.5" cy="1490.5" r="7"/><circle cx="1492.5" cy="1489.9" r="7"/><circle cx="1495.5" cy="1489.5" r="7"/><circle cx="1498.5" cy="1489.7" r="7"/><circle cx="1501.5" cy="1490.1" r="7"/><circle cx="1504.5" cy="1490.7" r="7"/><circle cx="1507.5" cy="1491.4" r="7"/><circle cx="1510.5" cy="1492.3" r="7"/><circle cx="1513.5" cy="1493.2" r="7"/><circle cx="1516.5" cy="1494.0" r="7"/><circle cx="1519.5" cy="1494.8" r="7"/><circle cx="1522.5" cy="1495.7" r="7"/><circle cx="1525.5" cy="1496.6" r="7"/><circle cx="1528.5" cy="1497.6" r="7"/><circle cx="1531.5" cy="1498.5" r="7"/><circle cx="1534.5" cy="1499.4" r="7"/><circle cx="1537.5" cy="1500.3" r="7"/><circle cx="1540.5" cy="1501.1" r="7"/><circle cx="1543.5" cy="1501.9" r="7"/><circle cx="1546.5" cy="1502.7" r="7"/><circle cx="1549.5" cy="1503.5" r="7"/><circle cx="1552.5" cy="1504.3" r="7"/><circle cx="1555.5" cy="1505.1" r="7"/></g>
<path d="M969.9,1513.0 971.4,1512.9 972.9,1512.7 974.4,1512.5 975.9,1512.4 977.4,1512.2 978.9,1512.0 980.4,1511.8 981.9,1511.6 983.4,1511.5 984.9,1511.3 986.4,1511.2 987.9,1511.1 989.4,1511.0 990.9,1510.9 992.4,1510.9 993.9,1510.9 995.4,1510.8 996.9,1510.8 998.4,1510.8 999.9,1510.7 1001.4,1510.6 1002.9,1510.5 1004.4,1510.4 1005.9,1510.2 1007.4,1510.0 1008.9,1509.7 1010.4,1509.4 1011.9,1509.0 1013.4,1508.6 1014.9,1508.2 1016.4,1507.7 1017.9,1507.3 1019.4,1506.9 1020.9,1506.5 1022.4,1506.2 1023.9,1505.8 1025.4,1505.4 1026.9,1505.0 1028.4,1504.6 1029.9,1504.3 1031.4,1504.0 1032.9,1503.7 1034.4,1503.4 1035.9,1503.2 1037.4,1503.1 1038.9,1503.1 1040.4,1503.1 1041.9,1503.2 1043.4,1503.4 1044.9,1503.6 1046.4,1503.7 1047.9,1503.9 1049.4,1504.0 1050.9,1504.1 1052.4,1504.0 1053.9,1503.9 1055.4,1503.6 1056.9,1503.2 1058.4,1502.7 1059.9,1502.1 1061.4,1501.5 1062.9,1500.8 1064.4,1500.1 1065.9,1499.4 1067.4,1498.7 1068.9,1498.1 1070.4,1497.4 1071.9,1496.7 1073.4,1496.0 1074.9,1495.3 1076.4,1494.6 1077.9,1493.9 1079.4,1493.3 1080.9,1492.7 1082.4,1492.2 1083.9,1491.7 1085.4,1491.4 1086.9,1491.2 1088.4,1491.0 1089.9,1490.8 1091.4,1490.7 1092.9,1490.5 1094.4,1490.2 1095.9,1489.9 1097.4,1489.4 1098.9,1488.7 1100.4,1487.7 1101.9,1486.5 1103.4,1485.0 1104.9,1483.4 1106.4,1481.6 1107.9,1479.5 1109.4,1477.3 1110.9,1474.9 1112.4,1472.5 1113.9,1470.2 1115.4,1467.7 1116.9,1465.3 1118.4,1462.8 1119.9,1460.3 1121.4,1458.0 1122.9,1455.8 1124.4,1453.7 1125.9,1451.7 1127.4,1449.8 1128.9,1448.0 1130.4,1446.3 1131.9,1444.8 1133.4,1443.5 1134.9,1442.3 1136.4,1441.4 1137.9,1440.6 1139.4,1440.2 1140.9,1440.0 1142.4,1440.3 1143.9,1440.8 1145.4,1441.4 1146.9,1442.0 1148.4,1442.4 1149.9,1442.8 1151.4,1443.2 1152.9,1443.5 1154.4,1443.4 1155.9,1443.0 1157.4,1442.2 1158.9,1441.1 1160.4,1439.7 1161.9,1438.1 1163.4,1436.1 1164.9,1433.6 1166.4,1430.8 1167.9,1427.8 1169.4,1424.8 1170.9,1421.9 1172.4,1418.9 1173.9,1415.9 1175.4,1413.0 1176.9,1410.2 1178.4,1407.6 1179.9,1405.4 1181.4,1403.3 1182.9,1401.3 1184.4,1399.5 1185.9,1398.1 1187.4,1396.9 1188.9,1396.2 1190.4,1396.1 1191.9,1396.5 1193.4,1397.5 1194.9,1399.0 1196.4,1400.8 1197.9,1403.0 1199.4,1405.8 1200.9,1408.9 1202.4,1412.4 1203.9,1416.1 1205.4,1420.2 1206.9,1424.7 1208.4,1429.6 1209.9,1435.0 1211.4,1440.8 1212.9,1447.0 1214.4,1453.1 1215.9,1459.1 1217.4,1465.1 1218.9,1471.1 1220.4,1477.3 1221.9,1483.8 1223.4,1490.7 1224.9,1497.5 1226.4,1504.1 1227.9,1507.5 1229.4,1505.1 1230.9,1499.4 1232.4,1493.3 1233.9,1487.5 1235.4,1481.8 1236.9,1476.5 1238.4,1471.6 1239.9,1466.9 1241.4,1462.7 1242.9,1459.2 1244.4,1456.1 1245.9,1453.4 1247.4,1451.2 1248.9,1449.3 1250.4,1447.8 1251.9,1446.8 1253.4,1446.2 1254.9,1446.1 1256.4,1446.2 1257.9,1446.8 1259.4,1447.8 1260.9,1449.1 1262.4,1450.8 1263.9,1452.8 1265.4,1455.1 1266.9,1457.6 1268.4,1460.2 1269.9,1462.7 1271.4,1465.3 1272.9,1468.0 1274.4,1470.7 1275.9,1473.4 1277.4,1476.0 1278.9,1478.5 1280.4,1480.8 1281.9,1483.1 1283.4,1485.2 1284.9,1487.3 1286.4,1489.2 1287.9,1490.9 1289.4,1492.5 1290.9,1493.7 1292.4,1494.7 1293.9,1495.5 1295.4,1496.0 1296.9,1496.2 1298.4,1496.3 1299.9,1496.3 1301.4,1496.2 1302.9,1496.2 1304.4,1496.4 1305.9,1496.7 1307.4,1497.1 1308.9,1497.7 1310.4,1498.4 1311.9,1499.1 1313.4,1499.8 1314.9,1500.6 1316.4,1501.4 1317.9,1502.2 1319.4,1503.2 1320.9,1504.1 1322.4,1505.1 1323.9,1506.1 1325.4,1507.0 1326.9,1507.9 1328.4,1508.7 1329.9,1509.5 1331.4,1510.2 1332.9,1510.7 1334.4,1510.8 1335.9,1510.5 1337.4,1509.9 1338.9,1509.1 1340.4,1508.3 1341.9,1507.6 1343.4,1506.9 1344.9,1506.3 1346.4,1505.7 1347.9,1505.1 1349.4,1504.7 1350.9,1504.4 1352.4,1504.3 1353.9,1504.2 1355.4,1504.1 1356.9,1504.2 1358.4,1504.3 1359.9,1504.5 1361.4,1504.8 1362.9,1505.2 1364.4,1505.6 1365.9,1506.1 1367.4,1506.7 1368.9,1507.3 1370.4,1508.0 1371.9,1508.9 1373.4,1509.8 1374.9,1510.7 1376.4,1511.6 1377.9,1512.5 1379.4,1513.2 1380.9,1513.7 1382.4,1514.0 1383.9,1514.0 1385.4,1513.8 1386.9,1513.4 1388.4,1512.8 1389.9,1512.2 1391.4,1511.6 1392.9,1511.0 1394.4,1510.6 1395.9,1510.2 1397.4,1509.9 1398.9,1509.6 1400.4,1509.4 1401.9,1509.3 1403.4,1509.2 1404.9,1509.1 1406.4,1509.2 1407.9,1509.3 1409.4,1509.6 1410.9,1509.9 1412.4,1510.2 1413.9,1510.6 1415.4,1511.1 1416.9,1511.5 1418.4,1511.9 1419.9,1512.3 1421.4,1512.7 1422.9,1513.0 1424.4,1513.2 1425.9,1513.4 1427.4,1513.4 1428.9,1513.4 1430.4,1513.3 1431.9,1513.1 1433.4,1512.9 1434.9,1512.6 1436.4,1512.3 1437.9,1512.0 1439.4,1511.7 1440.9,1511.5 1442.4,1511.3 1443.9,1511.2 1445.4,1511.2 1446.9,1511.2 1448.4,1511.3 1449.9,1511.4 1451.4,1511.5 1452.9,1511.7 1454.4,1511.9 1455.9,1512.1 1457.4,1512.3 1458.9,1512.6 1460.4,1512.8 1461.9,1513.0 1463.4,1513.2 1464.9,1513.4 1466.4,1513.6 1467.9,1513.8 1469.4,1513.9 1470.9,1514.0 1472.4,1514.0 1473.9,1514.0 1475.4,1513.9 1476.9,1513.8 1478.4,1513.7 1479.9,1513.5 1481.4,1513.3 1482.9,1513.1 1484.4,1512.9 1485.9,1512.7 1487.4,1512.5 1488.9,1512.3 1490.4,1512.2 1491.9,1512.1 1493.4,1512.1 1494.9,1512.1 1496.4,1512.2 1497.9,1512.3 1499.4,1512.4 1500.9,1512.6 1502.4,1512.7 1503.9,1512.9 1505.4,1513.1 1506.9,1513.3 1508.4,1513.4 1509.9,1513.6 1511.4,1513.7 1512.9,1513.9 1514.4,1514.0 1515.9,1514.0 1517.4,1514.0 1518.9,1514.0 1520.4,1513.9 1521.9,1513.8 1523.4,1513.6 1524.9,1513.5 1526.4,1513.3 1527.9,1513.2 1529.4,1513.0 1530.9,1512.9 1532.4,1512.8 1533.9,1512.7 1535.4,1512.7 1536.9,1512.7 1538.4,1512.7 1539.9,1512.8 1541.4,1512.8 1542.9,1512.9 1544.4,1513.0 1545.9,1513.1 1547.4,1513.2 1548.9,1513.3 1550.4,1513.5 1551.9,1513.6 1553.4,1513.7 1554.9,1513.8 1556.4,1513.9 1557.9,1514.0" fill="none" stroke="#111111" stroke-width="3.7" stroke-linejoin="round"/>
</g>
<rect x="131.3" y="1846.8" width="588.2" height="473.9" fill="none" stroke="#000" stroke-width="3.2"/>
<line x1="131.3" y1="2320.7" x2="131.3" y2="2329.9" stroke="#000" stroke-width="2.9"/>
<text transform="translate(131.3,2360.0) scale(0.9,1)" text-anchor="middle" font-size="31.8" stroke="#000" stroke-width="0.4">0</text>
<line x1="180.3" y1="2320.7" x2="180.3" y2="2324.9" stroke="#000" stroke-width="2.9"/>
<line x1="229.3" y1="2320.7" x2="229.3" y2="2329.9" stroke="#000" stroke-width="2.9"/>
<text transform="translate(229.3,2360.0) scale(0.9,1)" text-anchor="middle" font-size="31.8" stroke="#000" stroke-width="0.4">1</text>
<line x1="278.4" y1="2320.7" x2="278.4" y2="2324.9" stroke="#000" stroke-width="2.9"/>
<line x1="327.4" y1="2320.7" x2="327.4" y2="2329.9" stroke="#000" stroke-width="2.9"/>
<text transform="translate(327.4,2360.0) scale(0.9,1)" text-anchor="middle" font-size="31.8" stroke="#000" stroke-width="0.4">2</text>
<line x1="376.4" y1="2320.7" x2="376.4" y2="2324.9" stroke="#000" stroke-width="2.9"/>
<line x1="425.4" y1="2320.7" x2="425.4" y2="2329.9" stroke="#000" stroke-width="2.9"/>
<text transform="translate(425.4,2360.0) scale(0.9,1)" text-anchor="middle" font-size="31.8" stroke="#000" stroke-width="0.4">3</text>
<line x1="474.4" y1="2320.7" x2="474.4" y2="2324.9" stroke="#000" stroke-width="2.9"/>
<line x1="523.4" y1="2320.7" x2="523.4" y2="2329.9" stroke="#000" stroke-width="2.9"/>
<text transform="translate(523.4,2360.0) scale(0.9,1)" text-anchor="middle" font-size="31.8" stroke="#000" stroke-width="0.4">4</text>
<line x1="572.5" y1="2320.7" x2="572.5" y2="2324.9" stroke="#000" stroke-width="2.9"/>
<line x1="621.5" y1="2320.7" x2="621.5" y2="2329.9" stroke="#000" stroke-width="2.9"/>
<text transform="translate(621.5,2360.0) scale(0.9,1)" text-anchor="middle" font-size="31.8" stroke="#000" stroke-width="0.4">5</text>
<line x1="670.5" y1="2320.7" x2="670.5" y2="2324.9" stroke="#000" stroke-width="2.9"/>
<line x1="719.5" y1="2320.7" x2="719.5" y2="2329.9" stroke="#000" stroke-width="2.9"/>
<text transform="translate(719.5,2360.0) scale(0.9,1)" text-anchor="middle" font-size="31.8" stroke="#000" stroke-width="0.4">6</text>
<text x="426.2" y="2389.2" text-anchor="middle" font-size="25" stroke="#000" stroke-width="0.4">R (&#197;)</text>
<line x1="86.1" y1="2170.6" x2="110.8" y2="2170.6" stroke="#222" stroke-width="1.3"/>
<line x1="86.1" y1="2035.5" x2="110.8" y2="2035.5" stroke="#222" stroke-width="1.3"/>
<text transform="translate(109.1,2167.3) rotate(-90)" font-size="24.5" stroke="#000" stroke-width="0.3" textLength="125" lengthAdjust="spacingAndGlyphs">FT(<tspan font-style="italic">k</tspan><tspan dy="-9" font-size="17">2</tspan><tspan dy="9">*</tspan>&#967;(<tspan font-style="italic">k</tspan>))</text>
<text transform="translate(109.1,2029.0) rotate(-90)" font-size="24.5" stroke="#000" stroke-width="0.3" textLength="58" lengthAdjust="spacingAndGlyphs">(a.u.)</text>
<text x="1.2" y="1893.6" font-size="75" font-weight="normal" stroke="#000" stroke-width="2">f</text>
<line x1="181.3" y1="1861.9" x2="235.3" y2="1861.9" stroke="#E33A3F" stroke-width="3.2" stroke-linecap="round"/>
<text transform="translate(243.8,1870.1) scale(1.02,1)" font-size="23.4" stroke="#000" stroke-width="0.4">Pt-Si</text>
<line x1="181.3" y1="1892.9" x2="235.3" y2="1892.9" stroke="#2C5C98" stroke-width="3.2" stroke-linecap="round"/>
<text transform="translate(243.8,1901.1) scale(1.02,1)" font-size="23.4" stroke="#000" stroke-width="0.4">Pt-Sn</text>
<line x1="181.3" y1="1924.1" x2="235.3" y2="1924.1" stroke="#48526A" stroke-width="3.2" stroke-linecap="round"/>
<text transform="translate(243.8,1932.3) scale(1.02,1)" font-size="23.4" stroke="#000" stroke-width="0.4">Pt-Pt</text>
<circle cx="362.7" cy="1865.9" r="7.1" fill="none" stroke="#E4BF3A" stroke-width="1.3"/>
<text x="394.9" y="1874.0" font-size="22.2" stroke="#000" stroke-width="0.4">Pt-Sn@S-1(4.00 &#181;m)-PDH-7 h</text>
<line x1="338.3" y1="1894.7" x2="386.3" y2="1894.7" stroke="#111111" stroke-width="3.2" stroke-linecap="round"/>
<text x="394.9" y="1902.9" font-size="23.4" stroke="#000" stroke-width="0.4">Fitting</text>
<line x1="338.3" y1="1922.5" x2="386.3" y2="1922.5" stroke="#E2714D" stroke-width="3.2" stroke-linecap="round"/>
<text transform="translate(394.9,1930.7) scale(0.98,1)" font-size="23.4" stroke="#000" stroke-width="0.4">Pt-O</text>
<clipPath id="clipf"><rect x="131.3" y="1846.8" width="588.2" height="473.9"/></clipPath>
<g clip-path="url(#clipf)">
<path d="M131.9,2313.5 133.4,2313.6 134.9,2313.6 136.4,2313.7 137.9,2313.8 139.4,2313.9 140.9,2313.9 142.4,2314.0 143.9,2314.1 145.4,2314.1 146.9,2314.2 148.4,2314.3 149.9,2314.3 151.4,2314.4 152.9,2314.4 154.4,2314.4 155.9,2314.5 157.4,2314.5 158.9,2314.5 160.4,2314.4 161.9,2314.4 163.4,2314.4 164.9,2314.3 166.4,2314.2 167.9,2314.1 169.4,2314.0 170.9,2313.9 172.4,2313.8 173.9,2313.7 175.4,2313.6 176.9,2313.5 178.4,2313.4 179.9,2313.4 181.4,2313.3 182.9,2313.2 184.4,2313.2 185.9,2313.2 187.4,2313.1 188.9,2313.2 190.4,2313.2 191.9,2313.3 193.4,2313.3 194.9,2313.4 196.4,2313.5 197.9,2313.6 199.4,2313.7 200.9,2313.9 202.4,2314.0 203.9,2314.1 205.4,2314.2 206.9,2314.3 208.4,2314.4 209.9,2314.4 211.4,2314.5 212.9,2314.5 214.4,2314.5 215.9,2314.4 217.4,2314.4 218.9,2314.3 220.4,2314.2 221.9,2314.1 223.4,2313.9 224.9,2313.8 226.4,2313.6 227.9,2313.5 229.4,2313.3 230.9,2313.2 232.4,2313.0 233.9,2312.9 235.4,2312.8 236.9,2312.7 238.4,2312.6 239.9,2312.6 241.4,2312.6 242.9,2312.6 244.4,2312.7 245.9,2312.8 247.4,2312.9 248.9,2313.0 250.4,2313.2 251.9,2313.3 253.4,2313.5 254.9,2313.7 256.4,2313.8 257.9,2313.9 259.4,2314.0 260.9,2314.1 262.4,2314.2 263.9,2314.2 265.4,2314.1 266.9,2314.0 268.4,2313.8 269.9,2313.6 271.4,2313.4 272.9,2313.1 274.4,2312.8 275.9,2312.4 277.4,2312.1 278.9,2311.7 280.4,2311.4 281.9,2311.0 283.4,2310.7 284.9,2310.4 286.4,2310.1 287.9,2309.8 289.4,2309.6 290.9,2309.4 292.4,2309.3 293.9,2309.2 295.4,2309.1 296.9,2309.0 298.4,2308.9 299.9,2308.8 301.4,2308.7 302.9,2308.7 304.4,2308.6 305.9,2308.4 307.4,2308.3 308.9,2308.2 310.4,2308.0 311.9,2307.7 313.4,2307.5 314.9,2307.2 316.4,2307.0 317.9,2306.6 319.4,2306.2 320.9,2305.7 322.4,2305.2 323.9,2304.5 325.4,2303.8 326.9,2302.9 328.4,2301.8 329.9,2300.7 331.4,2299.5 332.9,2298.3 334.4,2297.0 335.9,2295.8 337.4,2294.6 338.9,2293.5 340.4,2292.6 341.9,2291.7 343.4,2291.0 344.9,2290.4 346.4,2289.9 347.9,2289.3 349.4,2288.8 350.9,2288.1 352.4,2287.4 353.9,2286.5 355.4,2285.6 356.9,2284.6 358.4,2283.7 359.9,2282.7 361.4,2281.8 362.9,2281.1 364.4,2280.5 365.9,2280.0 367.4,2279.8 368.9,2279.8 370.4,2280.1 371.9,2280.5 373.4,2281.0 374.9,2281.7 376.4,2282.5 377.9,2283.4 379.4,2284.3 380.9,2285.5 382.4,2286.7 383.9,2288.0 385.4,2289.3 386.9,2290.7 388.4,2292.0 389.9,2293.3 391.4,2294.6 392.9,2295.9 394.4,2297.2 395.9,2298.6 397.4,2300.0 398.9,2301.4 400.4,2302.6 401.9,2303.6 403.4,2304.4 404.9,2304.9 406.4,2305.0 407.9,2304.7 409.4,2304.0 410.9,2303.1 412.4,2302.0 413.9,2300.9 415.4,2299.8 416.9,2298.9 418.4,2298.1 419.9,2297.5 421.4,2296.9 422.9,2296.3 424.4,2295.7 425.9,2295.2 427.4,2294.8 428.9,2294.5 430.4,2294.3 431.9,2294.3 433.4,2294.4 434.9,2294.7 436.4,2295.1 437.9,2295.7 439.4,2296.4 440.9,2297.1 442.4,2297.8 443.9,2298.6 445.4,2299.4 446.9,2300.3 448.4,2301.2 449.9,2302.2 451.4,2303.2 452.9,2304.1 454.4,2304.9 455.9,2305.7 457.4,2306.5 458.9,2307.3 460.4,2308.1 461.9,2308.8 463.4,2309.4 464.9,2310.0 466.4,2310.4 467.9,2310.7 469.4,2310.9 470.9,2310.8 472.4,2310.7 473.9,2310.4 475.4,2310.1 476.9,2309.7 478.4,2309.3 479.9,2308.9 481.4,2308.6 482.9,2308.3 484.4,2308.1 485.9,2308.0 487.4,2308.1 488.9,2308.2 490.4,2308.5 491.9,2308.8 493.4,2309.1 494.9,2309.5 496.4,2309.9 497.9,2310.2 499.4,2310.6 500.9,2310.9 502.4,2311.3 503.9,2311.6 505.4,2312.0 506.9,2312.4 508.4,2312.7 509.9,2313.0 511.4,2313.1 512.9,2313.1 514.4,2313.0 515.9,2312.9 517.4,2312.7 518.9,2312.5 520.4,2312.2 521.9,2312.0 523.4,2311.7 524.9,2311.5 526.4,2311.2 527.9,2311.0 529.4,2310.8 530.9,2310.7 532.4,2310.7 533.9,2310.7 535.4,2310.8 536.9,2310.9 538.4,2311.0 539.9,2311.2 541.4,2311.4 542.9,2311.7 544.4,2311.9 545.9,2312.1 547.4,2312.4 548.9,2312.6 550.4,2312.8 551.9,2313.0 553.4,2313.2 554.9,2313.4 556.4,2313.5 557.9,2313.5 559.4,2313.5 560.9,2313.4 562.4,2313.3 563.9,2313.2 565.4,2313.0 566.9,2312.8 568.4,2312.6 569.9,2312.4 571.4,2312.2 572.9,2312.0 574.4,2311.8 575.9,2311.7 577.4,2311.6 578.9,2311.6 580.4,2311.7 581.9,2311.8 583.4,2311.9 584.9,2312.0 586.4,2312.2 587.9,2312.4 589.4,2312.6 590.9,2312.8 592.4,2313.0 593.9,2313.2 595.4,2313.4 596.9,2313.6 598.4,2313.7 599.9,2313.8 601.4,2313.9 602.9,2313.9 604.4,2313.8 605.9,2313.8 607.4,2313.6 608.9,2313.5 610.4,2313.3 611.9,2313.1 613.4,2312.9 614.9,2312.8 616.4,2312.6 617.9,2312.4 619.4,2312.3 620.9,2312.2 622.4,2312.2 623.9,2312.2 625.4,2312.2 626.9,2312.3 628.4,2312.4 629.9,2312.6 631.4,2312.7 632.9,2312.8 634.4,2313.0 635.9,2313.2 637.4,2313.3 638.9,2313.5 640.4,2313.6 641.9,2313.7 643.4,2313.8 644.9,2313.9 646.4,2313.9 647.9,2313.9 649.4,2313.9 650.9,2313.8 652.4,2313.8 653.9,2313.7 655.4,2313.6 656.9,2313.5 658.4,2313.4 659.9,2313.3 661.4,2313.2 662.9,2313.1 664.4,2313.1 665.9,2313.0 667.4,2313.0 668.9,2312.9 670.4,2312.9 671.9,2312.9 673.4,2312.9 674.9,2312.9 676.4,2312.9 677.9,2312.9 679.4,2313.0 680.9,2313.0 682.4,2313.0 683.9,2313.0 685.4,2313.0 686.9,2313.0 688.4,2313.0 689.9,2313.1 691.4,2313.1 692.9,2313.1 694.4,2313.1 695.9,2313.2 697.4,2313.2 698.9,2313.2 700.4,2313.2 701.9,2313.3 703.4,2313.3 704.9,2313.3 706.4,2313.3 707.9,2313.3 709.4,2313.4 710.9,2313.4 712.4,2313.4 713.9,2313.4 715.4,2313.5 716.9,2313.5 718.4,2313.5 719.9,2313.5" fill="none" stroke="#48526A" stroke-width="3.5" stroke-linejoin="round"/>
<path d="M131.9,2278.1 133.4,2278.1 134.9,2278.1 136.4,2278.1 137.9,2278.0 139.4,2278.0 140.9,2278.0 142.4,2278.0 143.9,2278.0 145.4,2278.0 146.9,2278.0 148.4,2278.0 149.9,2277.9 151.4,2277.9 152.9,2277.9 154.4,2277.9 155.9,2277.9 157.4,2277.8 158.9,2277.8 160.4,2277.8 161.9,2277.7 163.4,2277.7 164.9,2277.7 166.4,2277.6 167.9,2277.6 169.4,2277.5 170.9,2277.4 172.4,2277.4 173.9,2277.3 175.4,2277.3 176.9,2277.2 178.4,2277.1 179.9,2277.1 181.4,2277.0 182.9,2276.9 184.4,2276.8 185.9,2276.8 187.4,2276.7 188.9,2276.6 190.4,2276.5 191.9,2276.4 193.4,2276.3 194.9,2276.2 196.4,2276.1 197.9,2276.0 199.4,2275.9 200.9,2275.8 202.4,2275.6 203.9,2275.5 205.4,2275.4 206.9,2275.2 208.4,2275.1 209.9,2274.9 211.4,2274.7 212.9,2274.6 214.4,2274.4 215.9,2274.2 217.4,2274.0 218.9,2273.8 220.4,2273.5 221.9,2273.3 223.4,2273.0 224.9,2272.8 226.4,2272.5 227.9,2272.2 229.4,2271.9 230.9,2271.5 232.4,2271.2 233.9,2270.8 235.4,2270.4 236.9,2270.0 238.4,2269.6 239.9,2269.1 241.4,2268.6 242.9,2268.1 244.4,2267.5 245.9,2266.9 247.4,2266.2 248.9,2265.5 250.4,2264.8 251.9,2264.0 253.4,2263.1 254.9,2262.2 256.4,2261.2 257.9,2260.2 259.4,2259.2 260.9,2258.2 262.4,2257.2 263.9,2256.1 265.4,2255.0 266.9,2253.9 268.4,2252.7 269.9,2251.5 271.4,2250.3 272.9,2249.1 274.4,2248.0 275.9,2246.9 277.4,2245.8 278.9,2244.9 280.4,2244.0 281.9,2243.1 283.4,2242.2 284.9,2241.4 286.4,2240.6 287.9,2239.8 289.4,2239.1 290.9,2238.5 292.4,2238.0 293.9,2237.5 295.4,2237.2 296.9,2237.0 298.4,2237.0 299.9,2237.1 301.4,2237.3 302.9,2237.8 304.4,2238.3 305.9,2238.9 307.4,2239.6 308.9,2240.3 310.4,2241.2 311.9,2242.2 313.4,2243.3 314.9,2244.6 316.4,2245.9 317.9,2247.3 319.4,2248.7 320.9,2250.0 322.4,2251.3 323.9,2252.7 325.4,2254.0 326.9,2255.3 328.4,2256.7 329.9,2258.0 331.4,2259.4 332.9,2260.7 334.4,2262.0 335.9,2263.2 337.4,2264.4 338.9,2265.6 340.4,2266.8 341.9,2268.0 343.4,2269.1 344.9,2270.2 346.4,2271.3 347.9,2272.2 349.4,2273.1 350.9,2273.8 352.4,2274.5 353.9,2275.0 355.4,2275.5 356.9,2275.8 358.4,2276.1 359.9,2276.4 361.4,2276.6 362.9,2276.8 364.4,2277.0 365.9,2277.2 367.4,2277.4 368.9,2277.6 370.4,2277.9 371.9,2278.1 373.4,2278.4 374.9,2278.6 376.4,2278.9 377.9,2279.1 379.4,2279.4 380.9,2279.6 382.4,2279.8 383.9,2280.1 385.4,2280.3 386.9,2280.5 388.4,2280.7 389.9,2280.8 391.4,2281.0 392.9,2281.1 394.4,2281.3 395.9,2281.4 397.4,2281.6 398.9,2281.7 400.4,2281.8 401.9,2282.0 403.4,2282.1 404.9,2282.2 406.4,2282.3 407.9,2282.4 409.4,2282.6 410.9,2282.7 412.4,2282.8 413.9,2282.9 415.4,2283.0 416.9,2283.1 418.4,2283.2 419.9,2283.3 421.4,2283.3 422.9,2283.4 424.4,2283.5 425.9,2283.6 427.4,2283.7 428.9,2283.7 430.4,2283.8 431.9,2283.9 433.4,2284.0 434.9,2284.0 436.4,2284.1 437.9,2284.1 439.4,2284.2 440.9,2284.2 442.4,2284.3 443.9,2284.3 445.4,2284.4 446.9,2284.4 448.4,2284.4 449.9,2284.5 451.4,2284.5 452.9,2284.5 454.4,2284.5 455.9,2284.6 457.4,2284.6 458.9,2284.6 460.4,2284.6 461.9,2284.7 463.4,2284.7 464.9,2284.7 466.4,2284.8 467.9,2284.8 469.4,2284.8 470.9,2284.8 472.4,2284.9 473.9,2284.9 475.4,2285.0 476.9,2285.0 478.4,2285.1 479.9,2285.1 481.4,2285.2 482.9,2285.2 484.4,2285.3 485.9,2285.4 487.4,2285.4 488.9,2285.5 490.4,2285.6 491.9,2285.6 493.4,2285.7 494.9,2285.8 496.4,2285.8 497.9,2285.9 499.4,2286.0 500.9,2286.0 502.4,2286.1 503.9,2286.2 505.4,2286.3 506.9,2286.3 508.4,2286.4 509.9,2286.4 511.4,2286.5 512.9,2286.6 514.4,2286.6 515.9,2286.7 517.4,2286.7 518.9,2286.7 520.4,2286.8 521.9,2286.8 523.4,2286.8 524.9,2286.8 526.4,2286.8 527.9,2286.8 529.4,2286.8 530.9,2286.8 532.4,2286.8 533.9,2286.8 535.4,2286.8 536.9,2286.8 538.4,2286.8 539.9,2286.8 541.4,2286.8 542.9,2286.8 544.4,2286.7 545.9,2286.7 547.4,2286.7 548.9,2286.7 550.4,2286.7 551.9,2286.7 553.4,2286.7 554.9,2286.7 556.4,2286.8 557.9,2286.8 559.4,2286.8 560.9,2286.8 562.4,2286.8 563.9,2286.8 565.4,2286.8 566.9,2286.9 568.4,2286.9 569.9,2286.9 571.4,2286.9 572.9,2286.9 574.4,2287.0 575.9,2287.0 577.4,2287.0 578.9,2287.0 580.4,2287.0 581.9,2287.1 583.4,2287.1 584.9,2287.1 586.4,2287.1 587.9,2287.1 589.4,2287.2 590.9,2287.2 592.4,2287.2 593.9,2287.2 595.4,2287.3 596.9,2287.3 598.4,2287.3 599.9,2287.3 601.4,2287.3 602.9,2287.4 604.4,2287.4 605.9,2287.4 607.4,2287.4 608.9,2287.4 610.4,2287.5 611.9,2287.5 613.4,2287.5 614.9,2287.5 616.4,2287.5 617.9,2287.6 619.4,2287.6 620.9,2287.6 622.4,2287.6 623.9,2287.6 625.4,2287.6 626.9,2287.7 628.4,2287.7 629.9,2287.7 631.4,2287.7 632.9,2287.7 634.4,2287.7 635.9,2287.7 637.4,2287.8 638.9,2287.8 640.4,2287.8 641.9,2287.8 643.4,2287.8 644.9,2287.8 646.4,2287.8 647.9,2287.8 649.4,2287.8 650.9,2287.9 652.4,2287.9 653.9,2287.9 655.4,2287.9 656.9,2287.9 658.4,2287.9 659.9,2287.9 661.4,2287.9 662.9,2287.9 664.4,2287.9 665.9,2288.0 667.4,2288.0 668.9,2288.0 670.4,2288.0 671.9,2288.0 673.4,2288.0 674.9,2288.0 676.4,2288.0 677.9,2288.0 679.4,2288.0 680.9,2288.0 682.4,2288.1 683.9,2288.1 685.4,2288.1 686.9,2288.1 688.4,2288.1 689.9,2288.1 691.4,2288.1 692.9,2288.1 694.4,2288.1 695.9,2288.1 697.4,2288.1 698.9,2288.1 700.4,2288.1 701.9,2288.2 703.4,2288.2 704.9,2288.2 706.4,2288.2 707.9,2288.2 709.4,2288.2 710.9,2288.2 712.4,2288.2 713.9,2288.2 715.4,2288.2 716.9,2288.2 718.4,2288.3 719.9,2288.3" fill="none" stroke="#E2714D" stroke-width="3.5" stroke-linejoin="round"/>
<path d="M131.9,2237.0 133.4,2237.0 134.9,2237.0 136.4,2237.1 137.9,2237.1 139.4,2237.1 140.9,2237.2 142.4,2237.2 143.9,2237.2 145.4,2237.3 146.9,2237.3 148.4,2237.4 149.9,2237.4 151.4,2237.4 152.9,2237.5 154.4,2237.5 155.9,2237.5 157.4,2237.5 158.9,2237.5 160.4,2237.5 161.9,2237.5 163.4,2237.5 164.9,2237.5 166.4,2237.4 167.9,2237.4 169.4,2237.3 170.9,2237.2 172.4,2237.1 173.9,2237.0 175.4,2236.8 176.9,2236.6 178.4,2236.4 179.9,2236.2 181.4,2236.0 182.9,2235.8 184.4,2235.6 185.9,2235.4 187.4,2235.2 188.9,2235.1 190.4,2234.9 191.9,2234.8 193.4,2234.7 194.9,2234.6 196.4,2234.5 197.9,2234.5 199.4,2234.6 200.9,2234.7 202.4,2234.8 203.9,2235.0 205.4,2235.1 206.9,2235.4 208.4,2235.6 209.9,2235.8 211.4,2236.0 212.9,2236.2 214.4,2236.3 215.9,2236.4 217.4,2236.4 218.9,2236.4 220.4,2236.4 221.9,2236.2 223.4,2236.0 224.9,2235.7 226.4,2235.4 227.9,2235.0 229.4,2234.7 230.9,2234.3 232.4,2233.9 233.9,2233.5 235.4,2233.1 236.9,2232.7 238.4,2232.4 239.9,2232.1 241.4,2231.9 242.9,2231.7 244.4,2231.7 245.9,2231.7 247.4,2231.9 248.9,2232.1 250.4,2232.5 251.9,2232.9 253.4,2233.4 254.9,2233.9 256.4,2234.4 257.9,2234.8 259.4,2235.2 260.9,2235.6 262.4,2235.9 263.9,2236.0 265.4,2236.0 266.9,2235.9 268.4,2235.6 269.9,2235.3 271.4,2234.9 272.9,2234.4 274.4,2233.8 275.9,2233.2 277.4,2232.6 278.9,2231.9 280.4,2231.3 281.9,2230.7 283.4,2230.2 284.9,2229.6 286.4,2229.2 287.9,2228.8 289.4,2228.6 290.9,2228.4 292.4,2228.5 293.9,2228.7 295.4,2229.0 296.9,2229.5 298.4,2230.0 299.9,2230.6 301.4,2231.2 302.9,2231.8 304.4,2232.2 305.9,2232.6 307.4,2232.8 308.9,2232.8 310.4,2232.5 311.9,2232.0 313.4,2231.1 314.9,2229.9 316.4,2228.6 317.9,2227.1 319.4,2225.5 320.9,2224.0 322.4,2222.4 323.9,2220.7 325.4,2218.8 326.9,2216.9 328.4,2215.0 329.9,2213.2 331.4,2211.6 332.9,2210.2 334.4,2208.9 335.9,2207.7 337.4,2206.6 338.9,2205.6 340.4,2204.7 341.9,2204.0 343.4,2203.4 344.9,2203.1 346.4,2203.0 347.9,2203.3 349.4,2203.8 350.9,2204.6 352.4,2205.6 353.9,2206.7 355.4,2208.1 356.9,2209.5 358.4,2211.1 359.9,2212.9 361.4,2215.0 362.9,2217.2 364.4,2219.5 365.9,2221.7 367.4,2223.9 368.9,2226.2 370.4,2228.5 371.9,2230.2 373.4,2230.9 374.9,2230.2 376.4,2228.4 377.9,2225.9 379.4,2222.9 380.9,2219.6 382.4,2216.1 383.9,2212.3 385.4,2207.9 386.9,2203.6 388.4,2199.8 389.9,2196.4 391.4,2193.4 392.9,2190.5 394.4,2187.8 395.9,2185.2 397.4,2182.9 398.9,2180.7 400.4,2178.7 401.9,2176.9 403.4,2175.4 404.9,2174.1 406.4,2173.1 407.9,2172.3 409.4,2171.8 410.9,2171.4 412.4,2171.3 413.9,2171.4 415.4,2171.7 416.9,2172.2 418.4,2173.0 419.9,2173.9 421.4,2175.0 422.9,2176.2 424.4,2177.6 425.9,2179.1 427.4,2180.8 428.9,2182.6 430.4,2184.5 431.9,2186.4 433.4,2188.4 434.9,2190.6 436.4,2192.8 437.9,2195.1 439.4,2197.5 440.9,2200.1 442.4,2203.1 443.9,2205.9 445.4,2208.5 446.9,2210.9 448.4,2213.3 449.9,2215.6 451.4,2217.8 452.9,2219.8 454.4,2221.5 455.9,2223.0 457.4,2224.0 458.9,2224.8 460.4,2225.2 461.9,2225.4 463.4,2225.5 464.9,2225.4 466.4,2225.3 467.9,2225.0 469.4,2224.8 470.9,2224.4 472.4,2224.1 473.9,2223.8 475.4,2223.6 476.9,2223.4 478.4,2223.3 479.9,2223.3 481.4,2223.4 482.9,2223.7 484.4,2224.0 485.9,2224.5 487.4,2225.0 488.9,2225.5 490.4,2226.2 491.9,2226.9 493.4,2227.6 494.9,2228.5 496.4,2229.3 497.9,2230.1 499.4,2230.9 500.9,2231.6 502.4,2232.2 503.9,2232.7 505.4,2233.0 506.9,2233.2 508.4,2233.2 509.9,2233.2 511.4,2233.0 512.9,2232.7 514.4,2232.4 515.9,2232.1 517.4,2231.7 518.9,2231.3 520.4,2231.0 521.9,2230.7 523.4,2230.5 524.9,2230.3 526.4,2230.3 527.9,2230.4 529.4,2230.5 530.9,2230.8 532.4,2231.0 533.9,2231.3 535.4,2231.7 536.9,2232.1 538.4,2232.5 539.9,2232.9 541.4,2233.4 542.9,2233.8 544.4,2234.2 545.9,2234.6 547.4,2235.0 548.9,2235.3 550.4,2235.6 551.9,2235.8 553.4,2236.0 554.9,2236.1 556.4,2236.1 557.9,2236.1 559.4,2236.0 560.9,2235.8 562.4,2235.7 563.9,2235.5 565.4,2235.2 566.9,2235.0 568.4,2234.8 569.9,2234.6 571.4,2234.4 572.9,2234.3 574.4,2234.2 575.9,2234.1 577.4,2234.2 578.9,2234.2 580.4,2234.3 581.9,2234.5 583.4,2234.7 584.9,2234.9 586.4,2235.1 587.9,2235.3 589.4,2235.6 590.9,2235.8 592.4,2236.0 593.9,2236.3 595.4,2236.5 596.9,2236.6 598.4,2236.8 599.9,2236.9 601.4,2237.0 602.9,2237.0 604.4,2236.9 605.9,2236.8 607.4,2236.7 608.9,2236.5 610.4,2236.3 611.9,2236.1 613.4,2235.9 614.9,2235.7 616.4,2235.5 617.9,2235.3 619.4,2235.2 620.9,2235.1 622.4,2235.1 623.9,2235.1 625.4,2235.2 626.9,2235.3 628.4,2235.4 629.9,2235.6 631.4,2235.8 632.9,2236.0 634.4,2236.2 635.9,2236.4 637.4,2236.6 638.9,2236.8 640.4,2237.0 641.9,2237.1 643.4,2237.2 644.9,2237.3 646.4,2237.4 647.9,2237.4 649.4,2237.4 650.9,2237.3 652.4,2237.3 653.9,2237.2 655.4,2237.1 656.9,2237.0 658.4,2236.9 659.9,2236.8 661.4,2236.7 662.9,2236.6 664.4,2236.5 665.9,2236.5 667.4,2236.4 668.9,2236.4 670.4,2236.4 671.9,2236.5 673.4,2236.5 674.9,2236.6 676.4,2236.7 677.9,2236.8 679.4,2236.9 680.9,2237.0 682.4,2237.1 683.9,2237.2 685.4,2237.3 686.9,2237.4 688.4,2237.5 689.9,2237.5 691.4,2237.6 692.9,2237.6 694.4,2237.6 695.9,2237.6 697.4,2237.6 698.9,2237.5 700.4,2237.5 701.9,2237.5 703.4,2237.5 704.9,2237.4 706.4,2237.4 707.9,2237.3 709.4,2237.3 710.9,2237.2 712.4,2237.2 713.9,2237.1 715.4,2237.1 716.9,2237.1 718.4,2237.0 719.9,2237.0" fill="none" stroke="#2C5C98" stroke-width="3.5" stroke-linejoin="round"/>
<path d="M131.9,2164.7 133.4,2164.7 134.9,2164.8 136.4,2164.8 137.9,2164.9 139.4,2164.9 140.9,2165.0 142.4,2165.0 143.9,2165.1 145.4,2165.2 146.9,2165.2 148.4,2165.3 149.9,2165.3 151.4,2165.3 152.9,2165.3 154.4,2165.3 155.9,2165.3 157.4,2165.3 158.9,2165.2 160.4,2165.2 161.9,2165.1 163.4,2165.0 164.9,2164.9 166.4,2164.7 167.9,2164.6 169.4,2164.5 170.9,2164.3 172.4,2164.1 173.9,2164.0 175.4,2163.8 176.9,2163.6 178.4,2163.5 179.9,2163.3 181.4,2163.1 182.9,2162.9 184.4,2162.7 185.9,2162.5 187.4,2162.4 188.9,2162.2 190.4,2162.0 191.9,2161.8 193.4,2161.6 194.9,2161.4 196.4,2161.2 197.9,2161.0 199.4,2160.8 200.9,2160.6 202.4,2160.4 203.9,2160.2 205.4,2160.0 206.9,2159.8 208.4,2159.6 209.9,2159.4 211.4,2159.2 212.9,2159.0 214.4,2158.8 215.9,2158.6 217.4,2158.4 218.9,2158.2 220.4,2158.1 221.9,2157.9 223.4,2157.8 224.9,2157.6 226.4,2157.5 227.9,2157.3 229.4,2157.2 230.9,2157.0 232.4,2156.9 233.9,2156.7 235.4,2156.5 236.9,2156.3 238.4,2156.1 239.9,2155.8 241.4,2155.6 242.9,2155.3 244.4,2155.0 245.9,2154.7 247.4,2154.3 248.9,2154.0 250.4,2153.6 251.9,2153.2 253.4,2152.8 254.9,2152.4 256.4,2152.0 257.9,2151.5 259.4,2151.1 260.9,2150.7 262.4,2150.2 263.9,2149.8 265.4,2149.4 266.9,2149.0 268.4,2148.6 269.9,2148.1 271.4,2147.7 272.9,2147.2 274.4,2146.7 275.9,2146.2 277.4,2145.7 278.9,2145.1 280.4,2144.5 281.9,2143.8 283.4,2143.0 284.9,2142.2 286.4,2141.3 287.9,2140.3 289.4,2139.2 290.9,2138.0 292.4,2136.8 293.9,2135.6 295.4,2134.3 296.9,2133.0 298.4,2131.7 299.9,2130.4 301.4,2128.9 302.9,2127.5 304.4,2125.9 305.9,2124.4 307.4,2122.8 308.9,2121.3 310.4,2119.7 311.9,2118.2 313.4,2116.7 314.9,2115.2 316.4,2113.7 317.9,2112.2 319.4,2110.7 320.9,2109.2 322.4,2107.7 323.9,2106.2 325.4,2104.7 326.9,2103.2 328.4,2101.7 329.9,2100.2 331.4,2098.7 332.9,2097.2 334.4,2095.6 335.9,2094.1 337.4,2092.7 338.9,2091.2 340.4,2089.7 341.9,2088.2 343.4,2086.8 344.9,2085.3 346.4,2083.8 347.9,2082.4 349.4,2081.0 350.9,2079.6 352.4,2078.4 353.9,2077.2 355.4,2076.1 356.9,2075.1 358.4,2074.2 359.9,2073.4 361.4,2072.9 362.9,2072.6 364.4,2072.5 365.9,2072.7 367.4,2073.1 368.9,2073.7 370.4,2074.5 371.9,2075.5 373.4,2076.7 374.9,2078.0 376.4,2079.4 377.9,2081.1 379.4,2083.0 380.9,2085.1 382.4,2087.6 383.9,2090.6 385.4,2093.9 386.9,2097.5 388.4,2101.3 389.9,2105.2 391.4,2108.9 392.9,2112.6 394.4,2116.2 395.9,2119.8 397.4,2123.4 398.9,2127.0 400.4,2130.6 401.9,2134.3 403.4,2138.2 404.9,2142.2 406.4,2146.1 407.9,2149.7 409.4,2152.8 410.9,2155.6 412.4,2158.1 413.9,2160.1 415.4,2161.5 416.9,2162.2 418.4,2162.3 419.9,2162.0 421.4,2161.5 422.9,2160.9 424.4,2160.1 425.9,2159.2 427.4,2158.3 428.9,2157.5 430.4,2156.7 431.9,2156.0 433.4,2155.5 434.9,2155.2 436.4,2155.2 437.9,2155.3 439.4,2155.7 440.9,2156.2 442.4,2156.8 443.9,2157.6 445.4,2158.4 446.9,2159.3 448.4,2160.3 449.9,2161.4 451.4,2162.8 452.9,2164.3 454.4,2165.9 455.9,2167.6 457.4,2169.2 458.9,2170.7 460.4,2172.0 461.9,2173.0 463.4,2173.6 464.9,2173.8 466.4,2173.8 467.9,2173.5 469.4,2173.0 470.9,2172.3 472.4,2171.5 473.9,2170.6 475.4,2169.7 476.9,2168.8 478.4,2168.0 479.9,2167.3 481.4,2166.7 482.9,2166.3 484.4,2166.1 485.9,2166.0 487.4,2166.1 488.9,2166.3 490.4,2166.6 491.9,2166.9 493.4,2167.3 494.9,2167.7 496.4,2168.1 497.9,2168.6 499.4,2169.1 500.9,2169.8 502.4,2170.5 503.9,2171.2 505.4,2171.8 506.9,2172.3 508.4,2172.7 509.9,2172.8 511.4,2172.9 512.9,2172.7 514.4,2172.6 515.9,2172.3 517.4,2172.0 518.9,2171.7 520.4,2171.3 521.9,2170.9 523.4,2170.5 524.9,2170.2 526.4,2169.8 527.9,2169.5 529.4,2169.3 530.9,2169.2 532.4,2169.1 533.9,2169.1 535.4,2169.3 536.9,2169.5 538.4,2169.8 539.9,2170.1 541.4,2170.5 542.9,2170.9 544.4,2171.3 545.9,2171.7 547.4,2172.1 548.9,2172.5 550.4,2172.8 551.9,2173.1 553.4,2173.2 554.9,2173.3 556.4,2173.3 557.9,2173.3 559.4,2173.2 560.9,2173.0 562.4,2172.9 563.9,2172.7 565.4,2172.5 566.9,2172.3 568.4,2172.1 569.9,2172.0 571.4,2171.8 572.9,2171.7 574.4,2171.6 575.9,2171.6 577.4,2171.6 578.9,2171.7 580.4,2171.8 581.9,2171.9 583.4,2172.1 584.9,2172.3 586.4,2172.5 587.9,2172.7 589.4,2172.9 590.9,2173.1 592.4,2173.3 593.9,2173.6 595.4,2173.7 596.9,2173.9 598.4,2174.0 599.9,2174.1 601.4,2174.2 602.9,2174.2 604.4,2174.2 605.9,2174.1 607.4,2174.0 608.9,2173.8 610.4,2173.6 611.9,2173.4 613.4,2173.2 614.9,2173.1 616.4,2172.9 617.9,2172.7 619.4,2172.6 620.9,2172.6 622.4,2172.5 623.9,2172.6 625.4,2172.6 626.9,2172.7 628.4,2172.9 629.9,2173.1 631.4,2173.2 632.9,2173.4 634.4,2173.7 635.9,2173.9 637.4,2174.1 638.9,2174.3 640.4,2174.4 641.9,2174.6 643.4,2174.7 644.9,2174.8 646.4,2174.8 647.9,2174.8 649.4,2174.8 650.9,2174.7 652.4,2174.6 653.9,2174.5 655.4,2174.3 656.9,2174.2 658.4,2174.1 659.9,2173.9 661.4,2173.8 662.9,2173.7 664.4,2173.6 665.9,2173.5 667.4,2173.5 668.9,2173.5 670.4,2173.5 671.9,2173.6 673.4,2173.7 674.9,2173.8 676.4,2173.9 677.9,2174.0 679.4,2174.2 680.9,2174.4 682.4,2174.5 683.9,2174.7 685.4,2174.8 686.9,2174.9 688.4,2175.0 689.9,2175.1 691.4,2175.2 692.9,2175.2 694.4,2175.2 695.9,2175.3 697.4,2175.3 698.9,2175.3 700.4,2175.2 701.9,2175.2 703.4,2175.2 704.9,2175.2 706.4,2175.1 707.9,2175.1 709.4,2175.0 710.9,2175.0 712.4,2175.0 713.9,2174.9 715.4,2174.9 716.9,2174.9 718.4,2174.8 719.9,2174.8" fill="none" stroke="#E33A3F" stroke-width="3.5" stroke-linejoin="round"/>
<g fill="#fff" stroke="#E4BF3A" stroke-width="1.1"><circle cx="132.8" cy="2091.2" r="7"/><circle cx="135.8" cy="2089.9" r="7"/><circle cx="138.8" cy="2088.5" r="7"/><circle cx="141.8" cy="2087.3" r="7"/><circle cx="144.8" cy="2086.4" r="7"/><circle cx="147.8" cy="2085.4" r="7"/><circle cx="150.8" cy="2084.6" r="7"/><circle cx="153.8" cy="2084.0" r="7"/><circle cx="156.8" cy="2084.0" r="7"/><circle cx="159.8" cy="2084.7" r="7"/><circle cx="162.8" cy="2085.9" r="7"/><circle cx="165.8" cy="2087.4" r="7"/><circle cx="168.8" cy="2088.4" r="7"/><circle cx="171.8" cy="2088.7" r="7"/><circle cx="174.8" cy="2087.4" r="7"/><circle cx="177.8" cy="2084.6" r="7"/><circle cx="180.8" cy="2081.1" r="7"/><circle cx="183.8" cy="2077.4" r="7"/><circle cx="186.8" cy="2073.0" r="7"/><circle cx="189.8" cy="2068.7" r="7"/><circle cx="192.8" cy="2065.2" r="7"/><circle cx="195.8" cy="2062.6" r="7"/><circle cx="198.8" cy="2060.6" r="7"/><circle cx="201.8" cy="2059.0" r="7"/><circle cx="204.8" cy="2057.8" r="7"/><circle cx="207.8" cy="2056.8" r="7"/><circle cx="210.8" cy="2056.4" r="7"/><circle cx="213.8" cy="2056.6" r="7"/><circle cx="216.8" cy="2057.4" r="7"/><circle cx="219.8" cy="2058.9" r="7"/><circle cx="222.8" cy="2060.9" r="7"/><circle cx="225.8" cy="2063.0" r="7"/><circle cx="228.8" cy="2065.0" r="7"/><circle cx="231.8" cy="2067.2" r="7"/><circle cx="234.8" cy="2069.2" r="7"/><circle cx="237.8" cy="2070.8" r="7"/><circle cx="240.8" cy="2072.2" r="7"/><circle cx="243.8" cy="2073.3" r="7"/><circle cx="246.8" cy="2074.1" r="7"/><circle cx="249.8" cy="2074.4" r="7"/><circle cx="252.8" cy="2074.3" r="7"/><circle cx="255.8" cy="2073.9" r="7"/><circle cx="258.8" cy="2073.0" r="7"/><circle cx="261.8" cy="2071.5" r="7"/><circle cx="264.8" cy="2069.4" r="7"/><circle cx="267.8" cy="2066.7" r="7"/><circle cx="270.8" cy="2063.5" r="7"/><circle cx="273.8" cy="2059.6" r="7"/><circle cx="276.8" cy="2055.2" r="7"/><circle cx="279.8" cy="2050.4" r="7"/><circle cx="282.8" cy="2045.2" r="7"/><circle cx="285.8" cy="2039.6" r="7"/><circle cx="288.8" cy="2034.2" r="7"/><circle cx="291.8" cy="2029.0" r="7"/><circle cx="294.8" cy="2024.1" r="7"/><circle cx="297.8" cy="2019.7" r="7"/><circle cx="300.8" cy="2016.0" r="7"/><circle cx="303.8" cy="2012.8" r="7"/><circle cx="306.8" cy="2010.0" r="7"/><circle cx="309.8" cy="2007.5" r="7"/><circle cx="312.8" cy="2005.2" r="7"/><circle cx="315.8" cy="2003.3" r="7"/><circle cx="318.8" cy="2001.4" r="7"/><circle cx="321.8" cy="1999.4" r="7"/><circle cx="324.8" cy="1997.2" r="7"/><circle cx="327.8" cy="1994.9" r="7"/><circle cx="330.8" cy="1992.1" r="7"/><circle cx="333.8" cy="1988.8" r="7"/><circle cx="336.8" cy="1985.1" r="7"/><circle cx="339.8" cy="1981.4" r="7"/><circle cx="342.8" cy="1978.0" r="7"/><circle cx="345.8" cy="1974.9" r="7"/><circle cx="348.8" cy="1972.4" r="7"/><circle cx="351.8" cy="1970.7" r="7"/><circle cx="354.8" cy="1977.6" r="7"/><circle cx="357.8" cy="1985.5" r="7"/><circle cx="360.8" cy="1990.1" r="7"/><circle cx="363.8" cy="1995.7" r="7"/><circle cx="366.8" cy="2002.9" r="7"/><circle cx="369.8" cy="2010.9" r="7"/><circle cx="372.8" cy="2019.6" r="7"/><circle cx="375.8" cy="2028.9" r="7"/><circle cx="378.8" cy="2038.5" r="7"/><circle cx="381.8" cy="2048.0" r="7"/><circle cx="384.8" cy="2057.1" r="7"/><circle cx="387.8" cy="2065.4" r="7"/><circle cx="390.8" cy="2072.3" r="7"/><circle cx="393.8" cy="2076.0" r="7"/><circle cx="396.8" cy="2073.5" r="7"/><circle cx="399.8" cy="2068.1" r="7"/><circle cx="402.8" cy="2061.2" r="7"/><circle cx="405.8" cy="2054.5" r="7"/><circle cx="408.8" cy="2047.9" r="7"/><circle cx="411.8" cy="2040.9" r="7"/><circle cx="414.8" cy="2035.0" r="7"/><circle cx="417.8" cy="2031.1" r="7"/><circle cx="420.8" cy="2028.7" r="7"/><circle cx="423.8" cy="2027.6" r="7"/><circle cx="426.8" cy="2028.1" r="7"/><circle cx="429.8" cy="2030.2" r="7"/><circle cx="432.8" cy="2033.5" r="7"/><circle cx="435.8" cy="2037.3" r="7"/><circle cx="438.8" cy="2041.8" r="7"/><circle cx="441.8" cy="2046.9" r="7"/><circle cx="444.8" cy="2052.7" r="7"/><circle cx="447.8" cy="2059.0" r="7"/><circle cx="450.8" cy="2065.2" r="7"/><circle cx="453.8" cy="2072.4" r="7"/><circle cx="456.8" cy="2081.8" r="7"/><circle cx="459.8" cy="2091.4" r="7"/><circle cx="462.8" cy="2098.7" r="7"/><circle cx="465.8" cy="2099.6" r="7"/><circle cx="468.8" cy="2096.7" r="7"/><circle cx="471.8" cy="2092.5" r="7"/><circle cx="474.8" cy="2088.6" r="7"/><circle cx="477.8" cy="2085.4" r="7"/><circle cx="480.8" cy="2082.8" r="7"/><circle cx="483.8" cy="2081.2" r="7"/><circle cx="486.8" cy="2081.0" r="7"/><circle cx="489.8" cy="2081.5" r="7"/><circle cx="492.8" cy="2082.3" r="7"/><circle cx="495.8" cy="2082.9" r="7"/><circle cx="498.8" cy="2083.5" r="7"/><circle cx="501.8" cy="2084.1" r="7"/><circle cx="504.8" cy="2084.7" r="7"/><circle cx="507.8" cy="2085.3" r="7"/><circle cx="510.8" cy="2085.7" r="7"/><circle cx="513.8" cy="2086.2" r="7"/><circle cx="516.8" cy="2086.6" r="7"/><circle cx="519.8" cy="2087.0" r="7"/><circle cx="522.8" cy="2087.4" r="7"/><circle cx="525.8" cy="2087.8" r="7"/><circle cx="528.8" cy="2087.8" r="7"/><circle cx="531.8" cy="2087.3" r="7"/><circle cx="534.8" cy="2086.5" r="7"/><circle cx="537.8" cy="2085.7" r="7"/><circle cx="540.8" cy="2084.8" r="7"/><circle cx="543.8" cy="2084.1" r="7"/><circle cx="546.8" cy="2083.4" r="7"/><circle cx="549.8" cy="2082.9" r="7"/><circle cx="552.8" cy="2082.4" r="7"/><circle cx="555.8" cy="2082.1" r="7"/><circle cx="558.8" cy="2082.0" r="7"/><circle cx="561.8" cy="2082.2" r="7"/><circle cx="564.8" cy="2082.5" r="7"/><circle cx="567.8" cy="2082.9" r="7"/><circle cx="570.8" cy="2083.5" r="7"/><circle cx="573.8" cy="2084.1" r="7"/><circle cx="576.8" cy="2085.0" r="7"/><circle cx="579.8" cy="2086.0" r="7"/><circle cx="582.8" cy="2087.1" r="7"/><circle cx="585.8" cy="2088.0" r="7"/><circle cx="588.8" cy="2088.6" r="7"/><circle cx="591.8" cy="2088.6" r="7"/><circle cx="594.8" cy="2087.9" r="7"/><circle cx="597.8" cy="2086.9" r="7"/><circle cx="600.8" cy="2085.7" r="7"/><circle cx="603.8" cy="2084.9" r="7"/><circle cx="606.8" cy="2084.2" r="7"/><circle cx="609.8" cy="2083.6" r="7"/><circle cx="612.8" cy="2083.1" r="7"/><circle cx="615.8" cy="2082.6" r="7"/><circle cx="618.8" cy="2082.3" r="7"/><circle cx="621.8" cy="2082.1" r="7"/><circle cx="624.8" cy="2082.0" r="7"/><circle cx="627.8" cy="2082.2" r="7"/><circle cx="630.8" cy="2082.5" r="7"/><circle cx="633.8" cy="2082.9" r="7"/><circle cx="636.8" cy="2083.4" r="7"/><circle cx="639.8" cy="2083.9" r="7"/><circle cx="642.8" cy="2084.4" r="7"/><circle cx="645.8" cy="2084.9" r="7"/><circle cx="648.8" cy="2085.5" r="7"/><circle cx="651.8" cy="2086.1" r="7"/><circle cx="654.8" cy="2086.8" r="7"/><circle cx="657.8" cy="2087.5" r="7"/><circle cx="660.8" cy="2088.1" r="7"/><circle cx="663.8" cy="2088.8" r="7"/><circle cx="666.8" cy="2089.5" r="7"/><circle cx="669.8" cy="2090.2" r="7"/><circle cx="672.8" cy="2091.0" r="7"/><circle cx="675.8" cy="2091.8" r="7"/><circle cx="678.8" cy="2092.7" r="7"/><circle cx="681.8" cy="2093.9" r="7"/><circle cx="684.8" cy="2095.4" r="7"/><circle cx="687.8" cy="2096.8" r="7"/><circle cx="690.8" cy="2097.8" r="7"/><circle cx="693.8" cy="2098.2" r="7"/><circle cx="696.8" cy="2097.8" r="7"/><circle cx="699.8" cy="2096.7" r="7"/><circle cx="702.8" cy="2095.3" r="7"/><circle cx="705.8" cy="2094.0" r="7"/><circle cx="708.8" cy="2092.9" r="7"/><circle cx="711.8" cy="2092.0" r="7"/><circle cx="714.8" cy="2091.2" r="7"/><circle cx="717.8" cy="2090.3" r="7"/></g>
<path d="M131.9,2101.1 133.4,2101.0 134.9,2100.9 136.4,2100.7 137.9,2100.6 139.4,2100.4 140.9,2100.3 142.4,2100.2 143.9,2100.0 145.4,2099.9 146.9,2099.7 148.4,2099.6 149.9,2099.5 151.4,2099.4 152.9,2099.2 154.4,2099.1 155.9,2099.0 157.4,2099.0 158.9,2098.9 160.4,2098.8 161.9,2098.8 163.4,2098.7 164.9,2098.6 166.4,2098.5 167.9,2098.5 169.4,2098.4 170.9,2098.2 172.4,2098.1 173.9,2098.0 175.4,2097.8 176.9,2097.5 178.4,2097.2 179.9,2096.8 181.4,2096.3 182.9,2095.8 184.4,2095.3 185.9,2094.8 187.4,2094.5 188.9,2094.1 190.4,2093.7 191.9,2093.4 193.4,2093.1 194.9,2092.7 196.4,2092.4 197.9,2092.2 199.4,2091.9 200.9,2091.7 202.4,2091.6 203.9,2091.6 205.4,2091.6 206.9,2091.6 208.4,2091.8 209.9,2091.9 211.4,2092.1 212.9,2092.3 214.4,2092.4 215.9,2092.5 217.4,2092.6 218.9,2092.6 220.4,2092.5 221.9,2092.2 223.4,2091.9 224.9,2091.4 226.4,2090.9 227.9,2090.3 229.4,2089.7 230.9,2089.1 232.4,2088.4 233.9,2087.7 235.4,2087.0 236.9,2086.3 238.4,2085.5 239.9,2084.8 241.4,2084.2 242.9,2083.6 244.4,2083.1 245.9,2082.7 247.4,2082.4 248.9,2082.3 250.4,2082.2 251.9,2082.1 253.4,2082.0 254.9,2082.0 256.4,2081.8 257.9,2081.5 259.4,2081.1 260.9,2080.6 262.4,2079.8 263.9,2078.6 265.4,2077.1 266.9,2075.3 268.4,2073.3 269.9,2071.1 271.4,2068.9 272.9,2066.5 274.4,2064.0 275.9,2061.3 277.4,2058.5 278.9,2055.7 280.4,2052.8 281.9,2049.9 283.4,2046.9 284.9,2043.8 286.4,2040.7 287.9,2037.7 289.4,2034.7 290.9,2031.9 292.4,2029.3 293.9,2026.7 295.4,2024.2 296.9,2021.8 298.4,2019.6 299.9,2017.5 301.4,2015.6 302.9,2013.8 304.4,2012.2 305.9,2010.7 307.4,2009.4 308.9,2008.1 310.4,2007.0 311.9,2006.1 313.4,2005.3 314.9,2004.6 316.4,2003.9 317.9,2003.3 319.4,2002.6 320.9,2001.9 322.4,2001.1 323.9,2000.3 325.4,1999.5 326.9,1998.6 328.4,1997.3 329.9,1995.8 331.4,1994.1 332.9,1992.2 334.4,1990.2 335.9,1988.1 337.4,1986.0 338.9,1983.9 340.4,1981.6 341.9,1979.2 343.4,1976.8 344.9,1974.6 346.4,1972.8 347.9,1971.3 349.4,1970.1 350.9,1969.3 352.4,1968.9 353.9,1969.0 355.4,1969.5 356.9,1970.5 358.4,1971.8 359.9,1973.7 361.4,1976.4 362.9,1979.9 364.4,1983.5 365.9,1987.1 367.4,1990.8 368.9,1994.7 370.4,1998.8 371.9,2003.1 373.4,2007.6 374.9,2012.2 376.4,2016.9 377.9,2021.8 379.4,2026.9 380.9,2032.1 382.4,2037.2 383.9,2042.1 385.4,2047.0 386.9,2051.7 388.4,2056.3 389.9,2060.8 391.4,2064.9 392.9,2068.5 394.4,2071.2 395.9,2072.5 397.4,2072.1 398.9,2070.4 400.4,2067.9 401.9,2065.1 403.4,2061.8 404.9,2058.4 406.4,2055.0 407.9,2051.8 409.4,2048.6 410.9,2045.6 412.4,2042.7 413.9,2040.2 415.4,2037.9 416.9,2035.9 418.4,2034.1 419.9,2032.7 421.4,2031.7 422.9,2031.4 424.4,2031.6 425.9,2032.1 427.4,2032.8 428.9,2033.7 430.4,2034.9 431.9,2036.4 433.4,2038.2 434.9,2040.3 436.4,2042.7 437.9,2045.2 439.4,2047.9 440.9,2050.7 442.4,2053.7 443.9,2056.8 445.4,2059.9 446.9,2063.1 448.4,2066.4 449.9,2069.7 451.4,2073.0 452.9,2076.2 454.4,2079.3 455.9,2082.5 457.4,2085.4 458.9,2088.2 460.4,2090.7 461.9,2092.9 463.4,2094.6 464.9,2095.7 466.4,2096.0 467.9,2095.7 469.4,2095.0 470.9,2094.2 472.4,2093.5 473.9,2092.8 475.4,2092.1 476.9,2091.3 478.4,2090.5 479.9,2089.9 481.4,2089.4 482.9,2089.2 484.4,2089.1 485.9,2089.3 487.4,2089.8 488.9,2090.3 490.4,2091.0 491.9,2091.7 493.4,2092.4 494.9,2093.0 496.4,2093.7 497.9,2094.5 499.4,2095.3 500.9,2096.1 502.4,2096.9 503.9,2097.7 505.4,2098.4 506.9,2099.0 508.4,2099.4 509.9,2099.8 511.4,2099.9 512.9,2099.9 514.4,2099.7 515.9,2099.4 517.4,2099.0 518.9,2098.6 520.4,2098.1 521.9,2097.4 523.4,2096.7 524.9,2096.1 526.4,2095.6 527.9,2095.4 529.4,2095.3 530.9,2095.3 532.4,2095.4 533.9,2095.5 535.4,2095.7 536.9,2096.0 538.4,2096.3 539.9,2096.7 541.4,2097.2 542.9,2097.8 544.4,2098.4 545.9,2099.0 547.4,2099.7 548.9,2100.3 550.4,2100.9 551.9,2101.4 553.4,2101.7 554.9,2102.0 556.4,2102.1 557.9,2102.0 559.4,2101.8 560.9,2101.5 562.4,2101.1 563.9,2100.6 565.4,2100.1 566.9,2099.6 568.4,2099.2 569.9,2098.8 571.4,2098.5 572.9,2098.3 574.4,2098.3 575.9,2098.3 577.4,2098.4 578.9,2098.6 580.4,2098.8 581.9,2099.0 583.4,2099.3 584.9,2099.6 586.4,2099.8 587.9,2100.1 589.4,2100.4 590.9,2100.8 592.4,2101.2 593.9,2101.6 595.4,2102.0 596.9,2102.4 598.4,2102.7 599.9,2102.9 601.4,2103.0 602.9,2103.0 604.4,2102.9 605.9,2102.7 607.4,2102.4 608.9,2102.2 610.4,2101.8 611.9,2101.5 613.4,2101.2 614.9,2100.9 616.4,2100.6 617.9,2100.4 619.4,2100.3 620.9,2100.2 622.4,2100.2 623.9,2100.3 625.4,2100.5 626.9,2100.7 628.4,2100.9 629.9,2101.1 631.4,2101.4 632.9,2101.7 634.4,2101.9 635.9,2102.2 637.4,2102.4 638.9,2102.7 640.4,2102.8 641.9,2103.0 643.4,2103.0 644.9,2103.1 646.4,2103.0 647.9,2103.0 649.4,2102.9 650.9,2102.8 652.4,2102.6 653.9,2102.5 655.4,2102.3 656.9,2102.1 658.4,2102.0 659.9,2101.8 661.4,2101.6 662.9,2101.5 664.4,2101.4 665.9,2101.3 667.4,2101.2 668.9,2101.2 670.4,2101.1 671.9,2101.1 673.4,2101.1 674.9,2101.2 676.4,2101.2 677.9,2101.3 679.4,2101.3 680.9,2101.4 682.4,2101.5 683.9,2101.5 685.4,2101.6 686.9,2101.7 688.4,2101.8 689.9,2101.8 691.4,2101.9 692.9,2102.0 694.4,2102.0 695.9,2102.1 697.4,2102.1 698.9,2102.1 700.4,2102.1 701.9,2102.2 703.4,2102.2 704.9,2102.2 706.4,2102.2 707.9,2102.2 709.4,2102.2 710.9,2102.1 712.4,2102.1 713.9,2102.1 715.4,2102.1 716.9,2102.1 718.4,2102.1 719.9,2102.1" fill="none" stroke="#111111" stroke-width="3.7" stroke-linejoin="round"/>
</g>
<rect x="969.2" y="1844.8" width="588.6" height="475.4" fill="none" stroke="#000" stroke-width="3.2"/>
<line x1="969.2" y1="2320.2" x2="969.2" y2="2329.4" stroke="#000" stroke-width="2.9"/>
<text transform="translate(969.2,2359.5) scale(0.9,1)" text-anchor="middle" font-size="31.8" stroke="#000" stroke-width="0.4">0</text>
<line x1="1018.2" y1="2320.2" x2="1018.2" y2="2324.4" stroke="#000" stroke-width="2.9"/>
<line x1="1067.3" y1="2320.2" x2="1067.3" y2="2329.4" stroke="#000" stroke-width="2.9"/>
<text transform="translate(1067.3,2359.5) scale(0.9,1)" text-anchor="middle" font-size="31.8" stroke="#000" stroke-width="0.4">1</text>
<line x1="1116.3" y1="2320.2" x2="1116.3" y2="2324.4" stroke="#000" stroke-width="2.9"/>
<line x1="1165.4" y1="2320.2" x2="1165.4" y2="2329.4" stroke="#000" stroke-width="2.9"/>
<text transform="translate(1165.4,2359.5) scale(0.9,1)" text-anchor="middle" font-size="31.8" stroke="#000" stroke-width="0.4">2</text>
<line x1="1214.5" y1="2320.2" x2="1214.5" y2="2324.4" stroke="#000" stroke-width="2.9"/>
<line x1="1263.5" y1="2320.2" x2="1263.5" y2="2329.4" stroke="#000" stroke-width="2.9"/>
<text transform="translate(1263.5,2359.5) scale(0.9,1)" text-anchor="middle" font-size="31.8" stroke="#000" stroke-width="0.4">3</text>
<line x1="1312.5" y1="2320.2" x2="1312.5" y2="2324.4" stroke="#000" stroke-width="2.9"/>
<line x1="1361.6" y1="2320.2" x2="1361.6" y2="2329.4" stroke="#000" stroke-width="2.9"/>
<text transform="translate(1361.6,2359.5) scale(0.9,1)" text-anchor="middle" font-size="31.8" stroke="#000" stroke-width="0.4">4</text>
<line x1="1410.7" y1="2320.2" x2="1410.7" y2="2324.4" stroke="#000" stroke-width="2.9"/>
<line x1="1459.7" y1="2320.2" x2="1459.7" y2="2329.4" stroke="#000" stroke-width="2.9"/>
<text transform="translate(1459.7,2359.5) scale(0.9,1)" text-anchor="middle" font-size="31.8" stroke="#000" stroke-width="0.4">5</text>
<line x1="1508.8" y1="2320.2" x2="1508.8" y2="2324.4" stroke="#000" stroke-width="2.9"/>
<line x1="1557.8" y1="2320.2" x2="1557.8" y2="2329.4" stroke="#000" stroke-width="2.9"/>
<text transform="translate(1557.8,2359.5) scale(0.9,1)" text-anchor="middle" font-size="31.8" stroke="#000" stroke-width="0.4">6</text>
<text x="1264.3" y="2388.7" text-anchor="middle" font-size="25" stroke="#000" stroke-width="0.4">R (&#197;)</text>
<line x1="924.0" y1="2169.3" x2="948.7" y2="2169.3" stroke="#222" stroke-width="1.3"/>
<line x1="924.0" y1="2034.3" x2="948.7" y2="2034.3" stroke="#222" stroke-width="1.3"/>
<text transform="translate(947.0,2166.1) rotate(-90)" font-size="24.5" stroke="#000" stroke-width="0.3" textLength="125" lengthAdjust="spacingAndGlyphs">FT(<tspan font-style="italic">k</tspan><tspan dy="-9" font-size="17">2</tspan><tspan dy="9">*</tspan>&#967;(<tspan font-style="italic">k</tspan>))</text>
<text transform="translate(947.0,2027.7) rotate(-90)" font-size="24.5" stroke="#000" stroke-width="0.3" textLength="58" lengthAdjust="spacingAndGlyphs">(a.u.)</text>
<text x="853.3" y="1879.7" font-size="75" font-weight="normal" stroke="#000" stroke-width="2">g</text>
<line x1="1019.2" y1="1859.9" x2="1073.2" y2="1859.9" stroke="#E33A3F" stroke-width="3.2" stroke-linecap="round"/>
<text transform="translate(1081.7,1868.1) scale(1.02,1)" font-size="23.4" stroke="#000" stroke-width="0.4">Pt-Si</text>
<line x1="1019.2" y1="1890.9" x2="1073.2" y2="1890.9" stroke="#2C5C98" stroke-width="3.2" stroke-linecap="round"/>
<text transform="translate(1081.7,1899.1) scale(1.02,1)" font-size="23.4" stroke="#000" stroke-width="0.4">Pt-Sn</text>
<line x1="1019.2" y1="1922.1" x2="1073.2" y2="1922.1" stroke="#48526A" stroke-width="3.2" stroke-linecap="round"/>
<text transform="translate(1081.7,1930.3) scale(1.02,1)" font-size="23.4" stroke="#000" stroke-width="0.4">Pt-Pt</text>
<circle cx="1200.6" cy="1863.9" r="7.1" fill="none" stroke="#E4BF3A" stroke-width="1.3"/>
<text x="1232.8" y="1872.0" font-size="22.2" stroke="#000" stroke-width="0.4">Pt-Sn@S-1(4.00 &#181;m)-PDH-10 h</text>
<line x1="1176.2" y1="1892.7" x2="1224.2" y2="1892.7" stroke="#111111" stroke-width="3.2" stroke-linecap="round"/>
<text x="1232.8" y="1900.9" font-size="23.4" stroke="#000" stroke-width="0.4">Fitting</text>
<line x1="1176.2" y1="1920.5" x2="1224.2" y2="1920.5" stroke="#E2714D" stroke-width="3.2" stroke-linecap="round"/>
<text transform="translate(1232.8,1928.7) scale(0.98,1)" font-size="23.4" stroke="#000" stroke-width="0.4">Pt-O</text>
<clipPath id="clipg"><rect x="969.2" y="1844.8" width="588.6" height="475.4"/></clipPath>
<g clip-path="url(#clipg)">
<path d="M969.9,2307.8 971.4,2307.8 972.9,2307.9 974.4,2307.9 975.9,2308.0 977.4,2308.0 978.9,2308.1 980.4,2308.1 981.9,2308.2 983.4,2308.2 984.9,2308.3 986.4,2308.3 987.9,2308.4 989.4,2308.5 990.9,2308.5 992.4,2308.5 993.9,2308.6 995.4,2308.6 996.9,2308.7 998.4,2308.7 999.9,2308.7 1001.4,2308.7 1002.9,2308.7 1004.4,2308.7 1005.9,2308.7 1007.4,2308.7 1008.9,2308.7 1010.4,2308.6 1011.9,2308.5 1013.4,2308.4 1014.9,2308.3 1016.4,2308.2 1017.9,2308.1 1019.4,2308.0 1020.9,2307.9 1022.4,2307.8 1023.9,2307.7 1025.4,2307.6 1026.9,2307.5 1028.4,2307.4 1029.9,2307.4 1031.4,2307.4 1032.9,2307.4 1034.4,2307.5 1035.9,2307.5 1037.4,2307.6 1038.9,2307.7 1040.4,2307.9 1041.9,2308.0 1043.4,2308.1 1044.9,2308.2 1046.4,2308.4 1047.9,2308.5 1049.4,2308.6 1050.9,2308.7 1052.4,2308.7 1053.9,2308.7 1055.4,2308.7 1056.9,2308.7 1058.4,2308.6 1059.9,2308.5 1061.4,2308.4 1062.9,2308.3 1064.4,2308.1 1065.9,2307.9 1067.4,2307.7 1068.9,2307.5 1070.4,2307.3 1071.9,2307.1 1073.4,2307.0 1074.9,2306.8 1076.4,2306.6 1077.9,2306.5 1079.4,2306.4 1080.9,2306.3 1082.4,2306.3 1083.9,2306.3 1085.4,2306.3 1086.9,2306.4 1088.4,2306.5 1089.9,2306.7 1091.4,2306.9 1092.9,2307.1 1094.4,2307.3 1095.9,2307.5 1097.4,2307.7 1098.9,2307.8 1100.4,2308.0 1101.9,2308.1 1103.4,2308.2 1104.9,2308.2 1106.4,2308.2 1107.9,2308.1 1109.4,2308.0 1110.9,2307.8 1112.4,2307.5 1113.9,2307.2 1115.4,2306.8 1116.9,2306.5 1118.4,2306.0 1119.9,2305.6 1121.4,2305.2 1122.9,2304.8 1124.4,2304.4 1125.9,2304.0 1127.4,2303.6 1128.9,2303.3 1130.4,2303.0 1131.9,2302.8 1133.4,2302.6 1134.9,2302.5 1136.4,2302.4 1137.9,2302.2 1139.4,2302.2 1140.9,2302.1 1142.4,2302.0 1143.9,2301.9 1145.4,2301.8 1146.9,2301.7 1148.4,2301.5 1149.9,2301.3 1151.4,2301.1 1152.9,2300.9 1154.4,2300.6 1155.9,2300.3 1157.4,2299.9 1158.9,2299.5 1160.4,2299.0 1161.9,2298.5 1163.4,2298.0 1164.9,2297.3 1166.4,2296.5 1167.9,2295.7 1169.4,2294.8 1170.9,2293.8 1172.4,2292.7 1173.9,2291.7 1175.4,2290.6 1176.9,2289.6 1178.4,2288.7 1179.9,2287.8 1181.4,2286.9 1182.9,2286.0 1184.4,2285.1 1185.9,2284.2 1187.4,2283.4 1188.9,2282.5 1190.4,2281.7 1191.9,2281.0 1193.4,2280.2 1194.9,2279.4 1196.4,2278.7 1197.9,2278.0 1199.4,2277.6 1200.9,2277.3 1202.4,2277.2 1203.9,2277.3 1205.4,2277.4 1206.9,2277.7 1208.4,2278.2 1209.9,2278.7 1211.4,2279.3 1212.9,2280.1 1214.4,2281.0 1215.9,2282.1 1217.4,2283.3 1218.9,2284.6 1220.4,2285.9 1221.9,2287.2 1223.4,2288.4 1224.9,2289.6 1226.4,2290.6 1227.9,2291.6 1229.4,2292.6 1230.9,2293.5 1232.4,2294.4 1233.9,2295.3 1235.4,2296.1 1236.9,2296.8 1238.4,2297.3 1239.9,2297.8 1241.4,2298.1 1242.9,2298.1 1244.4,2297.7 1245.9,2297.1 1247.4,2296.3 1248.9,2295.5 1250.4,2294.7 1251.9,2294.1 1253.4,2293.6 1254.9,2293.0 1256.4,2292.4 1257.9,2291.8 1259.4,2291.2 1260.9,2290.6 1262.4,2290.1 1263.9,2289.6 1265.4,2289.2 1266.9,2288.9 1268.4,2288.8 1269.9,2288.7 1271.4,2288.8 1272.9,2289.1 1274.4,2289.5 1275.9,2290.1 1277.4,2290.7 1278.9,2291.4 1280.4,2292.2 1281.9,2292.9 1283.4,2293.7 1284.9,2294.6 1286.4,2295.5 1287.9,2296.5 1289.4,2297.5 1290.9,2298.6 1292.4,2299.6 1293.9,2300.7 1295.4,2301.7 1296.9,2302.7 1298.4,2303.5 1299.9,2304.3 1301.4,2305.0 1302.9,2305.5 1304.4,2305.9 1305.9,2306.1 1307.4,2306.1 1308.9,2305.9 1310.4,2305.7 1311.9,2305.3 1313.4,2304.9 1314.9,2304.4 1316.4,2304.0 1317.9,2303.6 1319.4,2303.3 1320.9,2303.1 1322.4,2303.0 1323.9,2303.1 1325.4,2303.2 1326.9,2303.5 1328.4,2303.7 1329.9,2304.1 1331.4,2304.4 1332.9,2304.8 1334.4,2305.2 1335.9,2305.7 1337.4,2306.1 1338.9,2306.5 1340.4,2306.9 1341.9,2307.2 1343.4,2307.5 1344.9,2307.8 1346.4,2308.0 1347.9,2308.1 1349.4,2308.2 1350.9,2308.1 1352.4,2308.0 1353.9,2307.9 1355.4,2307.7 1356.9,2307.4 1358.4,2307.2 1359.9,2306.9 1361.4,2306.6 1362.9,2306.4 1364.4,2306.2 1365.9,2306.0 1367.4,2305.9 1368.9,2305.9 1370.4,2305.9 1371.9,2306.0 1373.4,2306.1 1374.9,2306.3 1376.4,2306.5 1377.9,2306.7 1379.4,2307.0 1380.9,2307.2 1382.4,2307.4 1383.9,2307.7 1385.4,2307.9 1386.9,2308.1 1388.4,2308.3 1389.9,2308.5 1391.4,2308.6 1392.9,2308.7 1394.4,2308.7 1395.9,2308.7 1397.4,2308.6 1398.9,2308.5 1400.4,2308.4 1401.9,2308.2 1403.4,2308.0 1404.9,2307.8 1406.4,2307.6 1407.9,2307.4 1409.4,2307.2 1410.9,2307.0 1412.4,2306.9 1413.9,2306.9 1415.4,2306.8 1416.9,2306.9 1418.4,2306.9 1419.9,2307.1 1421.4,2307.2 1422.9,2307.3 1424.4,2307.5 1425.9,2307.7 1427.4,2307.9 1428.9,2308.0 1430.4,2308.2 1431.9,2308.4 1433.4,2308.5 1434.9,2308.6 1436.4,2308.7 1437.9,2308.7 1439.4,2308.7 1440.9,2308.7 1442.4,2308.6 1443.9,2308.5 1445.4,2308.4 1446.9,2308.2 1448.4,2308.1 1449.9,2307.9 1451.4,2307.8 1452.9,2307.7 1454.4,2307.6 1455.9,2307.5 1457.4,2307.4 1458.9,2307.4 1460.4,2307.4 1461.9,2307.5 1463.4,2307.6 1464.9,2307.7 1466.4,2307.8 1467.9,2307.9 1469.4,2308.1 1470.9,2308.2 1472.4,2308.3 1473.9,2308.5 1475.4,2308.6 1476.9,2308.7 1478.4,2308.8 1479.9,2308.9 1481.4,2308.9 1482.9,2308.9 1484.4,2308.9 1485.9,2308.9 1487.4,2308.8 1488.9,2308.7 1490.4,2308.6 1491.9,2308.5 1493.4,2308.4 1494.9,2308.3 1496.4,2308.2 1497.9,2308.1 1499.4,2308.0 1500.9,2308.0 1502.4,2307.9 1503.9,2307.8 1505.4,2307.8 1506.9,2307.8 1508.4,2307.8 1509.9,2307.8 1511.4,2307.8 1512.9,2307.8 1514.4,2307.8 1515.9,2307.8 1517.4,2307.8 1518.9,2307.9 1520.4,2307.9 1521.9,2307.9 1523.4,2307.9 1524.9,2308.0 1526.4,2308.0 1527.9,2308.0 1529.4,2308.1 1530.9,2308.1 1532.4,2308.1 1533.9,2308.2 1535.4,2308.2 1536.9,2308.2 1538.4,2308.3 1539.9,2308.3 1541.4,2308.4 1542.9,2308.4 1544.4,2308.4 1545.9,2308.5 1547.4,2308.5 1548.9,2308.5 1550.4,2308.6 1551.9,2308.6 1553.4,2308.6 1554.9,2308.7 1556.4,2308.7 1557.9,2308.7" fill="none" stroke="#48526A" stroke-width="3.5" stroke-linejoin="round"/>
<path d="M969.9,2273.3 971.4,2273.3 972.9,2273.4 974.4,2273.4 975.9,2273.4 977.4,2273.4 978.9,2273.4 980.4,2273.4 981.9,2273.4 983.4,2273.4 984.9,2273.4 986.4,2273.4 987.9,2273.4 989.4,2273.4 990.9,2273.4 992.4,2273.4 993.9,2273.4 995.4,2273.4 996.9,2273.3 998.4,2273.3 999.9,2273.2 1001.4,2273.2 1002.9,2273.1 1004.4,2273.0 1005.9,2272.9 1007.4,2272.8 1008.9,2272.8 1010.4,2272.7 1011.9,2272.6 1013.4,2272.5 1014.9,2272.4 1016.4,2272.3 1017.9,2272.2 1019.4,2272.1 1020.9,2272.0 1022.4,2272.0 1023.9,2271.9 1025.4,2271.9 1026.9,2271.8 1028.4,2271.8 1029.9,2271.8 1031.4,2271.7 1032.9,2271.7 1034.4,2271.6 1035.9,2271.6 1037.4,2271.5 1038.9,2271.5 1040.4,2271.4 1041.9,2271.3 1043.4,2271.1 1044.9,2271.0 1046.4,2270.8 1047.9,2270.6 1049.4,2270.4 1050.9,2270.2 1052.4,2270.0 1053.9,2269.7 1055.4,2269.4 1056.9,2269.1 1058.4,2268.8 1059.9,2268.5 1061.4,2268.1 1062.9,2267.8 1064.4,2267.4 1065.9,2267.0 1067.4,2266.7 1068.9,2266.3 1070.4,2265.9 1071.9,2265.5 1073.4,2265.0 1074.9,2264.5 1076.4,2263.9 1077.9,2263.3 1079.4,2262.6 1080.9,2261.8 1082.4,2260.9 1083.9,2260.0 1085.4,2258.9 1086.9,2257.8 1088.4,2256.6 1089.9,2255.4 1091.4,2254.1 1092.9,2252.9 1094.4,2251.6 1095.9,2250.3 1097.4,2249.0 1098.9,2247.8 1100.4,2246.4 1101.9,2245.0 1103.4,2243.6 1104.9,2242.2 1106.4,2240.7 1107.9,2239.3 1109.4,2238.0 1110.9,2236.8 1112.4,2235.8 1113.9,2234.8 1115.4,2234.0 1116.9,2233.2 1118.4,2232.6 1119.9,2232.0 1121.4,2231.5 1122.9,2231.1 1124.4,2230.7 1125.9,2230.5 1127.4,2230.4 1128.9,2230.3 1130.4,2230.4 1131.9,2230.6 1133.4,2231.0 1134.9,2231.4 1136.4,2232.0 1137.9,2232.7 1139.4,2233.4 1140.9,2234.3 1142.4,2235.3 1143.9,2236.5 1145.4,2237.8 1146.9,2239.3 1148.4,2240.8 1149.9,2242.5 1151.4,2244.1 1152.9,2245.7 1154.4,2247.3 1155.9,2248.9 1157.4,2250.5 1158.9,2252.1 1160.4,2253.8 1161.9,2255.4 1163.4,2257.0 1164.9,2258.6 1166.4,2260.1 1167.9,2261.5 1169.4,2262.7 1170.9,2263.8 1172.4,2264.7 1173.9,2265.4 1175.4,2266.0 1176.9,2266.5 1178.4,2266.9 1179.9,2267.3 1181.4,2267.6 1182.9,2267.9 1184.4,2268.2 1185.9,2268.5 1187.4,2268.8 1188.9,2269.1 1190.4,2269.4 1191.9,2269.7 1193.4,2269.9 1194.9,2270.1 1196.4,2270.3 1197.9,2270.5 1199.4,2270.8 1200.9,2271.0 1202.4,2271.3 1203.9,2271.6 1205.4,2271.9 1206.9,2272.2 1208.4,2272.6 1209.9,2273.0 1211.4,2273.3 1212.9,2273.7 1214.4,2274.1 1215.9,2274.4 1217.4,2274.7 1218.9,2275.0 1220.4,2275.2 1221.9,2275.4 1223.4,2275.6 1224.9,2275.8 1226.4,2275.9 1227.9,2276.1 1229.4,2276.2 1230.9,2276.3 1232.4,2276.4 1233.9,2276.5 1235.4,2276.6 1236.9,2276.7 1238.4,2276.8 1239.9,2276.9 1241.4,2277.0 1242.9,2277.0 1244.4,2277.1 1245.9,2277.2 1247.4,2277.3 1248.9,2277.3 1250.4,2277.4 1251.9,2277.5 1253.4,2277.6 1254.9,2277.6 1256.4,2277.7 1257.9,2277.8 1259.4,2277.9 1260.9,2277.9 1262.4,2278.0 1263.9,2278.1 1265.4,2278.1 1266.9,2278.2 1268.4,2278.3 1269.9,2278.4 1271.4,2278.4 1272.9,2278.5 1274.4,2278.6 1275.9,2278.6 1277.4,2278.7 1278.9,2278.8 1280.4,2278.8 1281.9,2278.9 1283.4,2278.9 1284.9,2279.0 1286.4,2279.1 1287.9,2279.1 1289.4,2279.2 1290.9,2279.2 1292.4,2279.3 1293.9,2279.4 1295.4,2279.4 1296.9,2279.5 1298.4,2279.5 1299.9,2279.6 1301.4,2279.6 1302.9,2279.7 1304.4,2279.7 1305.9,2279.8 1307.4,2279.8 1308.9,2279.9 1310.4,2279.9 1311.9,2279.9 1313.4,2280.0 1314.9,2280.0 1316.4,2280.1 1317.9,2280.1 1319.4,2280.1 1320.9,2280.2 1322.4,2280.2 1323.9,2280.2 1325.4,2280.3 1326.9,2280.3 1328.4,2280.3 1329.9,2280.3 1331.4,2280.4 1332.9,2280.4 1334.4,2280.4 1335.9,2280.4 1337.4,2280.5 1338.9,2280.5 1340.4,2280.5 1341.9,2280.5 1343.4,2280.5 1344.9,2280.6 1346.4,2280.6 1347.9,2280.6 1349.4,2280.6 1350.9,2280.6 1352.4,2280.6 1353.9,2280.6 1355.4,2280.7 1356.9,2280.7 1358.4,2280.7 1359.9,2280.7 1361.4,2280.7 1362.9,2280.7 1364.4,2280.7 1365.9,2280.7 1367.4,2280.8 1368.9,2280.8 1370.4,2280.8 1371.9,2280.8 1373.4,2280.8 1374.9,2280.8 1376.4,2280.8 1377.9,2280.8 1379.4,2280.9 1380.9,2280.9 1382.4,2280.9 1383.9,2280.9 1385.4,2280.9 1386.9,2280.9 1388.4,2281.0 1389.9,2281.0 1391.4,2281.0 1392.9,2281.0 1394.4,2281.0 1395.9,2281.0 1397.4,2281.1 1398.9,2281.1 1400.4,2281.1 1401.9,2281.1 1403.4,2281.1 1404.9,2281.2 1406.4,2281.2 1407.9,2281.2 1409.4,2281.2 1410.9,2281.2 1412.4,2281.3 1413.9,2281.3 1415.4,2281.3 1416.9,2281.3 1418.4,2281.3 1419.9,2281.4 1421.4,2281.4 1422.9,2281.4 1424.4,2281.4 1425.9,2281.4 1427.4,2281.4 1428.9,2281.5 1430.4,2281.5 1431.9,2281.5 1433.4,2281.5 1434.9,2281.5 1436.4,2281.6 1437.9,2281.6 1439.4,2281.6 1440.9,2281.6 1442.4,2281.6 1443.9,2281.7 1445.4,2281.7 1446.9,2281.7 1448.4,2281.7 1449.9,2281.7 1451.4,2281.7 1452.9,2281.8 1454.4,2281.8 1455.9,2281.8 1457.4,2281.8 1458.9,2281.8 1460.4,2281.9 1461.9,2281.9 1463.4,2281.9 1464.9,2281.9 1466.4,2281.9 1467.9,2281.9 1469.4,2282.0 1470.9,2282.0 1472.4,2282.0 1473.9,2282.0 1475.4,2282.0 1476.9,2282.0 1478.4,2282.1 1479.9,2282.1 1481.4,2282.1 1482.9,2282.1 1484.4,2282.1 1485.9,2282.1 1487.4,2282.2 1488.9,2282.2 1490.4,2282.2 1491.9,2282.2 1493.4,2282.2 1494.9,2282.2 1496.4,2282.3 1497.9,2282.3 1499.4,2282.3 1500.9,2282.3 1502.4,2282.3 1503.9,2282.3 1505.4,2282.4 1506.9,2282.4 1508.4,2282.4 1509.9,2282.4 1511.4,2282.4 1512.9,2282.4 1514.4,2282.5 1515.9,2282.5 1517.4,2282.5 1518.9,2282.5 1520.4,2282.5 1521.9,2282.5 1523.4,2282.5 1524.9,2282.6 1526.4,2282.6 1527.9,2282.6 1529.4,2282.6 1530.9,2282.6 1532.4,2282.6 1533.9,2282.7 1535.4,2282.7 1536.9,2282.7 1538.4,2282.7 1539.9,2282.7 1541.4,2282.7 1542.9,2282.7 1544.4,2282.8 1545.9,2282.8 1547.4,2282.8 1548.9,2282.8 1550.4,2282.8 1551.9,2282.8 1553.4,2282.9 1554.9,2282.9 1556.4,2282.9 1557.9,2282.9" fill="none" stroke="#E2714D" stroke-width="3.5" stroke-linejoin="round"/>
<path d="M969.9,2226.5 971.4,2226.5 972.9,2226.6 974.4,2226.6 975.9,2226.7 977.4,2226.8 978.9,2226.9 980.4,2226.9 981.9,2227.0 983.4,2227.1 984.9,2227.2 986.4,2227.2 987.9,2227.3 989.4,2227.4 990.9,2227.4 992.4,2227.4 993.9,2227.5 995.4,2227.5 996.9,2227.5 998.4,2227.5 999.9,2227.4 1001.4,2227.4 1002.9,2227.3 1004.4,2227.2 1005.9,2227.0 1007.4,2226.9 1008.9,2226.7 1010.4,2226.5 1011.9,2226.3 1013.4,2226.1 1014.9,2225.9 1016.4,2225.7 1017.9,2225.5 1019.4,2225.3 1020.9,2225.1 1022.4,2225.0 1023.9,2224.8 1025.4,2224.7 1026.9,2224.6 1028.4,2224.6 1029.9,2224.6 1031.4,2224.6 1032.9,2224.8 1034.4,2224.9 1035.9,2225.1 1037.4,2225.4 1038.9,2225.6 1040.4,2225.9 1041.9,2226.2 1043.4,2226.4 1044.9,2226.7 1046.4,2226.8 1047.9,2227.0 1049.4,2227.1 1050.9,2227.1 1052.4,2227.0 1053.9,2226.8 1055.4,2226.6 1056.9,2226.3 1058.4,2225.9 1059.9,2225.5 1061.4,2225.0 1062.9,2224.6 1064.4,2224.1 1065.9,2223.6 1067.4,2223.1 1068.9,2222.7 1070.4,2222.3 1071.9,2221.9 1073.4,2221.7 1074.9,2221.5 1076.4,2221.4 1077.9,2221.4 1079.4,2221.5 1080.9,2221.8 1082.4,2222.2 1083.9,2222.7 1085.4,2223.3 1086.9,2223.9 1088.4,2224.5 1089.9,2225.0 1091.4,2225.5 1092.9,2226.0 1094.4,2226.3 1095.9,2226.4 1097.4,2226.5 1098.9,2226.3 1100.4,2226.0 1101.9,2225.5 1103.4,2225.0 1104.9,2224.3 1106.4,2223.6 1107.9,2222.8 1109.4,2222.0 1110.9,2221.1 1112.4,2220.3 1113.9,2219.5 1115.4,2218.7 1116.9,2218.0 1118.4,2217.4 1119.9,2217.0 1121.4,2216.6 1122.9,2216.4 1124.4,2216.4 1125.9,2216.6 1127.4,2217.1 1128.9,2217.7 1130.4,2218.4 1131.9,2219.1 1133.4,2219.9 1134.9,2220.7 1136.4,2221.4 1137.9,2222.0 1139.4,2222.4 1140.9,2222.6 1142.4,2222.5 1143.9,2221.9 1145.4,2220.9 1146.9,2219.6 1148.4,2218.0 1149.9,2216.2 1151.4,2214.3 1152.9,2212.4 1154.4,2210.3 1155.9,2208.1 1157.4,2205.8 1158.9,2203.4 1160.4,2201.1 1161.9,2198.9 1163.4,2196.9 1164.9,2195.1 1166.4,2193.5 1167.9,2191.9 1169.4,2190.5 1170.9,2189.2 1172.4,2188.0 1173.9,2186.9 1175.4,2186.1 1176.9,2185.5 1178.4,2185.0 1179.9,2184.9 1181.4,2185.0 1182.9,2185.4 1184.4,2186.0 1185.9,2186.8 1187.4,2187.9 1188.9,2189.2 1190.4,2190.8 1191.9,2192.7 1193.4,2195.0 1194.9,2197.6 1196.4,2200.3 1197.9,2203.3 1199.4,2206.4 1200.9,2210.0 1202.4,2214.2 1203.9,2218.3 1205.4,2221.4 1206.9,2222.8 1208.4,2222.0 1209.9,2219.2 1211.4,2215.2 1212.9,2210.5 1214.4,2205.7 1215.9,2201.0 1217.4,2196.2 1218.9,2191.1 1220.4,2186.0 1221.9,2181.1 1223.4,2176.6 1224.9,2172.6 1226.4,2168.9 1227.9,2165.4 1229.4,2162.2 1230.9,2159.2 1232.4,2156.4 1233.9,2153.9 1235.4,2151.6 1236.9,2149.7 1238.4,2148.2 1239.9,2147.0 1241.4,2146.2 1242.9,2145.7 1244.4,2145.3 1245.9,2145.1 1247.4,2145.1 1248.9,2145.2 1250.4,2145.6 1251.9,2146.3 1253.4,2147.4 1254.9,2149.0 1256.4,2151.0 1257.9,2153.3 1259.4,2155.8 1260.9,2158.5 1262.4,2161.3 1263.9,2164.3 1265.4,2167.3 1266.9,2170.4 1268.4,2173.6 1269.9,2176.8 1271.4,2180.1 1272.9,2183.7 1274.4,2187.5 1275.9,2191.2 1277.4,2194.8 1278.9,2198.3 1280.4,2201.4 1281.9,2204.3 1283.4,2207.0 1284.9,2209.5 1286.4,2211.8 1287.9,2213.9 1289.4,2215.6 1290.9,2216.9 1292.4,2217.7 1293.9,2218.0 1295.4,2218.0 1296.9,2217.7 1298.4,2217.2 1299.9,2216.4 1301.4,2215.6 1302.9,2214.8 1304.4,2214.0 1305.9,2213.2 1307.4,2212.7 1308.9,2212.3 1310.4,2212.2 1311.9,2212.3 1313.4,2212.6 1314.9,2213.1 1316.4,2213.7 1317.9,2214.4 1319.4,2215.1 1320.9,2215.8 1322.4,2216.6 1323.9,2217.5 1325.4,2218.5 1326.9,2219.5 1328.4,2220.6 1329.9,2221.6 1331.4,2222.6 1332.9,2223.5 1334.4,2224.3 1335.9,2224.9 1337.4,2225.3 1338.9,2225.5 1340.4,2225.5 1341.9,2225.3 1343.4,2225.0 1344.9,2224.6 1346.4,2224.2 1347.9,2223.6 1349.4,2223.0 1350.9,2222.4 1352.4,2221.8 1353.9,2221.2 1355.4,2220.7 1356.9,2220.3 1358.4,2220.0 1359.9,2219.8 1361.4,2219.8 1362.9,2220.0 1364.4,2220.3 1365.9,2220.7 1367.4,2221.2 1368.9,2221.7 1370.4,2222.2 1371.9,2222.9 1373.4,2223.6 1374.9,2224.4 1376.4,2225.1 1377.9,2225.9 1379.4,2226.5 1380.9,2227.1 1382.4,2227.5 1383.9,2227.7 1385.4,2227.8 1386.9,2227.7 1388.4,2227.5 1389.9,2227.3 1391.4,2227.0 1392.9,2226.6 1394.4,2226.2 1395.9,2225.8 1397.4,2225.3 1398.9,2224.9 1400.4,2224.5 1401.9,2224.2 1403.4,2223.9 1404.9,2223.7 1406.4,2223.6 1407.9,2223.6 1409.4,2223.8 1410.9,2224.0 1412.4,2224.2 1413.9,2224.6 1415.4,2225.0 1416.9,2225.4 1418.4,2225.8 1419.9,2226.3 1421.4,2226.7 1422.9,2227.1 1424.4,2227.5 1425.9,2227.8 1427.4,2228.1 1428.9,2228.3 1430.4,2228.4 1431.9,2228.4 1433.4,2228.3 1434.9,2228.1 1436.4,2227.9 1437.9,2227.6 1439.4,2227.3 1440.9,2227.0 1442.4,2226.7 1443.9,2226.4 1445.4,2226.1 1446.9,2225.9 1448.4,2225.7 1449.9,2225.6 1451.4,2225.5 1452.9,2225.6 1454.4,2225.7 1455.9,2225.8 1457.4,2226.0 1458.9,2226.2 1460.4,2226.5 1461.9,2226.7 1463.4,2227.0 1464.9,2227.2 1466.4,2227.5 1467.9,2227.7 1469.4,2227.9 1470.9,2228.1 1472.4,2228.3 1473.9,2228.4 1475.4,2228.4 1476.9,2228.4 1478.4,2228.3 1479.9,2228.3 1481.4,2228.2 1482.9,2228.1 1484.4,2227.9 1485.9,2227.8 1487.4,2227.6 1488.9,2227.5 1490.4,2227.4 1491.9,2227.3 1493.4,2227.2 1494.9,2227.1 1496.4,2227.1 1497.9,2227.1 1499.4,2227.1 1500.9,2227.1 1502.4,2227.2 1503.9,2227.3 1505.4,2227.4 1506.9,2227.5 1508.4,2227.7 1509.9,2227.8 1511.4,2227.9 1512.9,2228.0 1514.4,2228.1 1515.9,2228.2 1517.4,2228.3 1518.9,2228.3 1520.4,2228.4 1521.9,2228.4 1523.4,2228.4 1524.9,2228.4 1526.4,2228.4 1527.9,2228.4 1529.4,2228.4 1530.9,2228.4 1532.4,2228.3 1533.9,2228.3 1535.4,2228.3 1536.9,2228.3 1538.4,2228.2 1539.9,2228.2 1541.4,2228.2 1542.9,2228.1 1544.4,2228.1 1545.9,2228.1 1547.4,2228.0 1548.9,2228.0 1550.4,2228.0 1551.9,2227.9 1553.4,2227.9 1554.9,2227.9 1556.4,2227.8 1557.9,2227.8" fill="none" stroke="#2C5C98" stroke-width="3.5" stroke-linejoin="round"/>
<path d="M969.9,2146.1 971.4,2146.1 972.9,2146.1 974.4,2146.1 975.9,2146.1 977.4,2146.2 978.9,2146.2 980.4,2146.2 981.9,2146.2 983.4,2146.2 984.9,2146.2 986.4,2146.2 987.9,2146.2 989.4,2146.2 990.9,2146.2 992.4,2146.2 993.9,2146.2 995.4,2146.1 996.9,2146.1 998.4,2146.0 999.9,2146.0 1001.4,2145.9 1002.9,2145.8 1004.4,2145.8 1005.9,2145.7 1007.4,2145.6 1008.9,2145.5 1010.4,2145.4 1011.9,2145.3 1013.4,2145.2 1014.9,2145.0 1016.4,2144.9 1017.9,2144.8 1019.4,2144.7 1020.9,2144.6 1022.4,2144.4 1023.9,2144.3 1025.4,2144.2 1026.9,2144.1 1028.4,2143.9 1029.9,2143.8 1031.4,2143.7 1032.9,2143.5 1034.4,2143.4 1035.9,2143.3 1037.4,2143.1 1038.9,2143.0 1040.4,2142.8 1041.9,2142.7 1043.4,2142.5 1044.9,2142.3 1046.4,2142.2 1047.9,2142.0 1049.4,2141.9 1050.9,2141.7 1052.4,2141.5 1053.9,2141.3 1055.4,2141.2 1056.9,2141.0 1058.4,2140.8 1059.9,2140.7 1061.4,2140.5 1062.9,2140.3 1064.4,2140.2 1065.9,2140.0 1067.4,2139.8 1068.9,2139.7 1070.4,2139.5 1071.9,2139.3 1073.4,2139.1 1074.9,2138.8 1076.4,2138.6 1077.9,2138.4 1079.4,2138.1 1080.9,2137.9 1082.4,2137.6 1083.9,2137.3 1085.4,2136.9 1086.9,2136.5 1088.4,2136.1 1089.9,2135.7 1091.4,2135.3 1092.9,2134.8 1094.4,2134.3 1095.9,2133.8 1097.4,2133.3 1098.9,2132.8 1100.4,2132.3 1101.9,2131.8 1103.4,2131.2 1104.9,2130.7 1106.4,2130.2 1107.9,2129.6 1109.4,2129.1 1110.9,2128.5 1112.4,2127.9 1113.9,2127.3 1115.4,2126.7 1116.9,2126.0 1118.4,2125.4 1119.9,2124.7 1121.4,2123.9 1122.9,2123.1 1124.4,2122.3 1125.9,2121.5 1127.4,2120.6 1128.9,2119.6 1130.4,2118.7 1131.9,2117.7 1133.4,2116.6 1134.9,2115.6 1136.4,2114.5 1137.9,2113.3 1139.4,2112.1 1140.9,2110.9 1142.4,2109.6 1143.9,2108.2 1145.4,2106.9 1146.9,2105.6 1148.4,2104.2 1149.9,2102.9 1151.4,2101.6 1152.9,2100.3 1154.4,2099.0 1155.9,2097.7 1157.4,2096.4 1158.9,2095.1 1160.4,2093.8 1161.9,2092.6 1163.4,2091.4 1164.9,2090.2 1166.4,2089.0 1167.9,2087.9 1169.4,2086.7 1170.9,2085.6 1172.4,2084.5 1173.9,2083.4 1175.4,2082.3 1176.9,2081.2 1178.4,2080.1 1179.9,2079.1 1181.4,2078.0 1182.9,2077.0 1184.4,2076.0 1185.9,2075.0 1187.4,2074.0 1188.9,2073.1 1190.4,2072.3 1191.9,2071.5 1193.4,2070.8 1194.9,2070.1 1196.4,2069.6 1197.9,2069.1 1199.4,2068.8 1200.9,2068.7 1202.4,2068.7 1203.9,2068.8 1205.4,2069.1 1206.9,2069.5 1208.4,2070.1 1209.9,2070.9 1211.4,2071.9 1212.9,2073.1 1214.4,2074.5 1215.9,2076.1 1217.4,2077.8 1218.9,2079.8 1220.4,2081.9 1221.9,2084.2 1223.4,2086.7 1224.9,2089.4 1226.4,2092.3 1227.9,2095.1 1229.4,2097.9 1230.9,2100.7 1232.4,2103.4 1233.9,2106.2 1235.4,2108.9 1236.9,2111.6 1238.4,2114.2 1239.9,2116.8 1241.4,2119.4 1242.9,2122.0 1244.4,2124.6 1245.9,2127.0 1247.4,2129.2 1248.9,2131.3 1250.4,2133.1 1251.9,2134.6 1253.4,2135.9 1254.9,2136.8 1256.4,2137.3 1257.9,2137.5 1259.4,2137.4 1260.9,2137.2 1262.4,2136.9 1263.9,2136.5 1265.4,2136.0 1266.9,2135.6 1268.4,2135.1 1269.9,2134.6 1271.4,2134.2 1272.9,2133.8 1274.4,2133.6 1275.9,2133.4 1277.4,2133.3 1278.9,2133.5 1280.4,2133.7 1281.9,2134.2 1283.4,2134.7 1284.9,2135.4 1286.4,2136.2 1287.9,2137.1 1289.4,2138.1 1290.9,2139.2 1292.4,2140.5 1293.9,2141.9 1295.4,2143.4 1296.9,2144.9 1298.4,2146.4 1299.9,2147.8 1301.4,2149.1 1302.9,2150.3 1304.4,2151.3 1305.9,2152.1 1307.4,2152.6 1308.9,2152.9 1310.4,2152.8 1311.9,2152.5 1313.4,2152.0 1314.9,2151.4 1316.4,2150.6 1317.9,2149.8 1319.4,2148.9 1320.9,2148.0 1322.4,2147.2 1323.9,2146.5 1325.4,2146.0 1326.9,2145.6 1328.4,2145.4 1329.9,2145.4 1331.4,2145.5 1332.9,2145.7 1334.4,2146.0 1335.9,2146.4 1337.4,2146.8 1338.9,2147.3 1340.4,2147.9 1341.9,2148.5 1343.4,2149.3 1344.9,2150.1 1346.4,2150.9 1347.9,2151.7 1349.4,2152.4 1350.9,2153.1 1352.4,2153.6 1353.9,2154.0 1355.4,2154.3 1356.9,2154.3 1358.4,2154.2 1359.9,2154.0 1361.4,2153.7 1362.9,2153.3 1364.4,2152.9 1365.9,2152.4 1367.4,2151.9 1368.9,2151.4 1370.4,2151.0 1371.9,2150.6 1373.4,2150.3 1374.9,2150.1 1376.4,2150.0 1377.9,2150.0 1379.4,2150.1 1380.9,2150.4 1382.4,2150.7 1383.9,2151.0 1385.4,2151.4 1386.9,2151.9 1388.4,2152.3 1389.9,2152.7 1391.4,2153.1 1392.9,2153.5 1394.4,2153.8 1395.9,2154.0 1397.4,2154.1 1398.9,2154.1 1400.4,2154.1 1401.9,2154.0 1403.4,2153.8 1404.9,2153.6 1406.4,2153.4 1407.9,2153.1 1409.4,2152.8 1410.9,2152.6 1412.4,2152.3 1413.9,2152.1 1415.4,2151.9 1416.9,2151.7 1418.4,2151.6 1419.9,2151.5 1421.4,2151.5 1422.9,2151.6 1424.4,2151.7 1425.9,2151.9 1427.4,2152.1 1428.9,2152.3 1430.4,2152.6 1431.9,2152.8 1433.4,2153.1 1434.9,2153.3 1436.4,2153.6 1437.9,2153.8 1439.4,2154.0 1440.9,2154.2 1442.4,2154.3 1443.9,2154.3 1445.4,2154.3 1446.9,2154.2 1448.4,2154.1 1449.9,2154.0 1451.4,2153.8 1452.9,2153.6 1454.4,2153.4 1455.9,2153.2 1457.4,2153.0 1458.9,2152.8 1460.4,2152.6 1461.9,2152.5 1463.4,2152.5 1464.9,2152.4 1466.4,2152.5 1467.9,2152.6 1469.4,2152.7 1470.9,2152.9 1472.4,2153.0 1473.9,2153.2 1475.4,2153.4 1476.9,2153.7 1478.4,2153.9 1479.9,2154.1 1481.4,2154.2 1482.9,2154.4 1484.4,2154.5 1485.9,2154.6 1487.4,2154.7 1488.9,2154.7 1490.4,2154.7 1491.9,2154.6 1493.4,2154.6 1494.9,2154.5 1496.4,2154.3 1497.9,2154.2 1499.4,2154.1 1500.9,2153.9 1502.4,2153.8 1503.9,2153.7 1505.4,2153.6 1506.9,2153.5 1508.4,2153.4 1509.9,2153.4 1511.4,2153.4 1512.9,2153.4 1514.4,2153.5 1515.9,2153.6 1517.4,2153.7 1518.9,2153.8 1520.4,2154.0 1521.9,2154.1 1523.4,2154.2 1524.9,2154.4 1526.4,2154.5 1527.9,2154.7 1529.4,2154.8 1530.9,2154.9 1532.4,2155.0 1533.9,2155.0 1535.4,2155.1 1536.9,2155.1 1538.4,2155.1 1539.9,2155.1 1541.4,2155.1 1542.9,2155.0 1544.4,2155.0 1545.9,2154.9 1547.4,2154.8 1548.9,2154.8 1550.4,2154.7 1551.9,2154.6 1553.4,2154.5 1554.9,2154.5 1556.4,2154.4 1557.9,2154.4" fill="none" stroke="#E33A3F" stroke-width="3.5" stroke-linejoin="round"/>
<g fill="#fff" stroke="#E4BF3A" stroke-width="1.1"><circle cx="970.7" cy="2084.9" r="7"/><circle cx="973.7" cy="2085.2" r="7"/><circle cx="976.7" cy="2085.6" r="7"/><circle cx="979.7" cy="2086.0" r="7"/><circle cx="982.7" cy="2086.3" r="7"/><circle cx="985.7" cy="2086.5" r="7"/><circle cx="988.7" cy="2086.4" r="7"/><circle cx="991.7" cy="2086.1" r="7"/><circle cx="994.7" cy="2085.1" r="7"/><circle cx="997.7" cy="2083.3" r="7"/><circle cx="1000.7" cy="2080.9" r="7"/><circle cx="1003.7" cy="2078.3" r="7"/><circle cx="1006.7" cy="2075.9" r="7"/><circle cx="1009.7" cy="2073.5" r="7"/><circle cx="1012.7" cy="2071.0" r="7"/><circle cx="1015.7" cy="2068.6" r="7"/><circle cx="1018.7" cy="2066.4" r="7"/><circle cx="1021.7" cy="2064.8" r="7"/><circle cx="1024.7" cy="2063.6" r="7"/><circle cx="1027.7" cy="2062.7" r="7"/><circle cx="1030.7" cy="2062.1" r="7"/><circle cx="1033.7" cy="2061.6" r="7"/><circle cx="1036.7" cy="2061.3" r="7"/><circle cx="1039.7" cy="2061.1" r="7"/><circle cx="1042.7" cy="2060.9" r="7"/><circle cx="1045.7" cy="2060.8" r="7"/><circle cx="1048.7" cy="2060.9" r="7"/><circle cx="1051.7" cy="2061.1" r="7"/><circle cx="1054.7" cy="2061.4" r="7"/><circle cx="1057.7" cy="2061.9" r="7"/><circle cx="1060.7" cy="2062.5" r="7"/><circle cx="1063.7" cy="2063.3" r="7"/><circle cx="1066.7" cy="2064.3" r="7"/><circle cx="1069.7" cy="2065.3" r="7"/><circle cx="1072.7" cy="2066.5" r="7"/><circle cx="1075.7" cy="2067.8" r="7"/><circle cx="1078.7" cy="2069.4" r="7"/><circle cx="1081.7" cy="2071.0" r="7"/><circle cx="1084.7" cy="2072.6" r="7"/><circle cx="1087.7" cy="2074.0" r="7"/><circle cx="1090.7" cy="2075.4" r="7"/><circle cx="1093.7" cy="2076.8" r="7"/><circle cx="1096.7" cy="2076.9" r="7"/><circle cx="1099.7" cy="2074.0" r="7"/><circle cx="1102.7" cy="2067.8" r="7"/><circle cx="1105.7" cy="2061.2" r="7"/><circle cx="1108.7" cy="2055.7" r="7"/><circle cx="1111.7" cy="2050.5" r="7"/><circle cx="1114.7" cy="2044.9" r="7"/><circle cx="1117.7" cy="2038.5" r="7"/><circle cx="1120.7" cy="2031.5" r="7"/><circle cx="1123.7" cy="2025.0" r="7"/><circle cx="1126.7" cy="2019.9" r="7"/><circle cx="1129.7" cy="2015.9" r="7"/><circle cx="1132.7" cy="2012.8" r="7"/><circle cx="1135.7" cy="2010.3" r="7"/><circle cx="1138.7" cy="2008.7" r="7"/><circle cx="1141.7" cy="2007.7" r="7"/><circle cx="1144.7" cy="2007.5" r="7"/><circle cx="1147.7" cy="2008.3" r="7"/><circle cx="1150.7" cy="2009.8" r="7"/><circle cx="1153.7" cy="2011.8" r="7"/><circle cx="1156.7" cy="2014.1" r="7"/><circle cx="1159.7" cy="2014.8" r="7"/><circle cx="1162.7" cy="2012.5" r="7"/><circle cx="1165.7" cy="2008.9" r="7"/><circle cx="1168.7" cy="2005.5" r="7"/><circle cx="1171.7" cy="1998.7" r="7"/><circle cx="1174.7" cy="1989.1" r="7"/><circle cx="1177.7" cy="1981.3" r="7"/><circle cx="1180.7" cy="1975.7" r="7"/><circle cx="1183.7" cy="1971.7" r="7"/><circle cx="1186.7" cy="1969.0" r="7"/><circle cx="1189.7" cy="1967.7" r="7"/><circle cx="1192.7" cy="1968.1" r="7"/><circle cx="1195.7" cy="1970.7" r="7"/><circle cx="1198.7" cy="1975.3" r="7"/><circle cx="1201.7" cy="1980.8" r="7"/><circle cx="1204.7" cy="1987.7" r="7"/><circle cx="1207.7" cy="1995.9" r="7"/><circle cx="1210.7" cy="2005.4" r="7"/><circle cx="1213.7" cy="2015.8" r="7"/><circle cx="1216.7" cy="2027.9" r="7"/><circle cx="1219.7" cy="2041.2" r="7"/><circle cx="1222.7" cy="2052.9" r="7"/><circle cx="1225.7" cy="2061.1" r="7"/><circle cx="1228.7" cy="2064.9" r="7"/><circle cx="1231.7" cy="2060.5" r="7"/><circle cx="1234.7" cy="2054.7" r="7"/><circle cx="1237.7" cy="2048.4" r="7"/><circle cx="1240.7" cy="2041.1" r="7"/><circle cx="1243.7" cy="2034.2" r="7"/><circle cx="1246.7" cy="2028.7" r="7"/><circle cx="1249.7" cy="2024.1" r="7"/><circle cx="1252.7" cy="2020.6" r="7"/><circle cx="1255.7" cy="2018.8" r="7"/><circle cx="1258.7" cy="2019.4" r="7"/><circle cx="1261.7" cy="2021.9" r="7"/><circle cx="1264.7" cy="2025.4" r="7"/><circle cx="1267.7" cy="2029.7" r="7"/><circle cx="1270.7" cy="2034.3" r="7"/><circle cx="1273.7" cy="2039.3" r="7"/><circle cx="1276.7" cy="2044.7" r="7"/><circle cx="1279.7" cy="2050.7" r="7"/><circle cx="1282.7" cy="2056.8" r="7"/><circle cx="1285.7" cy="2063.0" r="7"/><circle cx="1288.7" cy="2068.9" r="7"/><circle cx="1291.7" cy="2074.2" r="7"/><circle cx="1294.7" cy="2078.7" r="7"/><circle cx="1297.7" cy="2081.5" r="7"/><circle cx="1300.7" cy="2082.7" r="7"/><circle cx="1303.7" cy="2083.5" r="7"/><circle cx="1306.7" cy="2084.4" r="7"/><circle cx="1309.7" cy="2085.5" r="7"/><circle cx="1312.7" cy="2086.6" r="7"/><circle cx="1315.7" cy="2088.1" r="7"/><circle cx="1318.7" cy="2090.2" r="7"/><circle cx="1321.7" cy="2091.7" r="7"/><circle cx="1324.7" cy="2091.4" r="7"/><circle cx="1327.7" cy="2089.6" r="7"/><circle cx="1330.7" cy="2087.4" r="7"/><circle cx="1333.7" cy="2085.2" r="7"/><circle cx="1336.7" cy="2082.9" r="7"/><circle cx="1339.7" cy="2081.3" r="7"/><circle cx="1342.7" cy="2080.2" r="7"/><circle cx="1345.7" cy="2079.4" r="7"/><circle cx="1348.7" cy="2079.3" r="7"/><circle cx="1351.7" cy="2080.0" r="7"/><circle cx="1354.7" cy="2081.8" r="7"/><circle cx="1357.7" cy="2084.3" r="7"/><circle cx="1360.7" cy="2087.3" r="7"/><circle cx="1363.7" cy="2091.3" r="7"/><circle cx="1366.7" cy="2094.9" r="7"/><circle cx="1369.7" cy="2096.1" r="7"/><circle cx="1372.7" cy="2093.6" r="7"/><circle cx="1375.7" cy="2089.2" r="7"/><circle cx="1378.7" cy="2084.4" r="7"/><circle cx="1381.7" cy="2079.0" r="7"/><circle cx="1384.7" cy="2073.6" r="7"/><circle cx="1387.7" cy="2069.2" r="7"/><circle cx="1390.7" cy="2065.9" r="7"/><circle cx="1393.7" cy="2063.1" r="7"/><circle cx="1396.7" cy="2061.1" r="7"/><circle cx="1399.7" cy="2059.8" r="7"/><circle cx="1402.7" cy="2059.5" r="7"/><circle cx="1405.7" cy="2060.2" r="7"/><circle cx="1408.7" cy="2061.8" r="7"/><circle cx="1411.7" cy="2064.0" r="7"/><circle cx="1414.7" cy="2066.6" r="7"/><circle cx="1417.7" cy="2070.2" r="7"/><circle cx="1420.7" cy="2074.8" r="7"/><circle cx="1423.7" cy="2079.2" r="7"/><circle cx="1426.7" cy="2082.1" r="7"/><circle cx="1429.7" cy="2082.5" r="7"/><circle cx="1432.7" cy="2081.1" r="7"/><circle cx="1435.7" cy="2078.4" r="7"/><circle cx="1438.7" cy="2074.6" r="7"/><circle cx="1441.7" cy="2070.6" r="7"/><circle cx="1444.7" cy="2067.4" r="7"/><circle cx="1447.7" cy="2065.5" r="7"/><circle cx="1450.7" cy="2064.2" r="7"/><circle cx="1453.7" cy="2063.3" r="7"/><circle cx="1456.7" cy="2062.7" r="7"/><circle cx="1459.7" cy="2062.5" r="7"/><circle cx="1462.7" cy="2062.7" r="7"/><circle cx="1465.7" cy="2063.4" r="7"/><circle cx="1468.7" cy="2064.6" r="7"/><circle cx="1471.7" cy="2066.3" r="7"/><circle cx="1474.7" cy="2068.2" r="7"/><circle cx="1477.7" cy="2070.3" r="7"/><circle cx="1480.7" cy="2072.5" r="7"/><circle cx="1483.7" cy="2075.0" r="7"/><circle cx="1486.7" cy="2077.7" r="7"/><circle cx="1489.7" cy="2080.5" r="7"/><circle cx="1492.7" cy="2083.4" r="7"/><circle cx="1495.7" cy="2086.7" r="7"/><circle cx="1498.7" cy="2090.6" r="7"/><circle cx="1501.7" cy="2093.1" r="7"/><circle cx="1504.7" cy="2092.8" r="7"/><circle cx="1507.7" cy="2090.7" r="7"/><circle cx="1510.7" cy="2087.5" r="7"/><circle cx="1513.7" cy="2084.3" r="7"/><circle cx="1516.7" cy="2081.8" r="7"/><circle cx="1519.7" cy="2079.9" r="7"/><circle cx="1522.7" cy="2078.2" r="7"/><circle cx="1525.7" cy="2076.8" r="7"/><circle cx="1528.7" cy="2075.7" r="7"/><circle cx="1531.7" cy="2074.7" r="7"/><circle cx="1534.7" cy="2073.9" r="7"/><circle cx="1537.7" cy="2073.3" r="7"/><circle cx="1540.7" cy="2073.0" r="7"/><circle cx="1543.7" cy="2072.8" r="7"/><circle cx="1546.7" cy="2073.0" r="7"/><circle cx="1549.7" cy="2073.7" r="7"/><circle cx="1552.7" cy="2074.6" r="7"/><circle cx="1555.7" cy="2075.6" r="7"/></g>
<path d="M969.9,2096.9 971.4,2096.9 972.9,2097.0 974.4,2097.0 975.9,2097.0 977.4,2097.1 978.9,2097.1 980.4,2097.1 981.9,2097.2 983.4,2097.2 984.9,2097.2 986.4,2097.2 987.9,2097.2 989.4,2097.2 990.9,2097.2 992.4,2097.2 993.9,2097.1 995.4,2097.0 996.9,2096.9 998.4,2096.8 999.9,2096.6 1001.4,2096.4 1002.9,2096.1 1004.4,2095.8 1005.9,2095.5 1007.4,2095.2 1008.9,2094.9 1010.4,2094.6 1011.9,2094.3 1013.4,2094.0 1014.9,2093.7 1016.4,2093.4 1017.9,2093.1 1019.4,2092.8 1020.9,2092.4 1022.4,2092.1 1023.9,2091.8 1025.4,2091.5 1026.9,2091.2 1028.4,2090.9 1029.9,2090.6 1031.4,2090.4 1032.9,2090.2 1034.4,2090.1 1035.9,2090.0 1037.4,2090.1 1038.9,2090.2 1040.4,2090.3 1041.9,2090.5 1043.4,2090.8 1044.9,2091.0 1046.4,2091.2 1047.9,2091.4 1049.4,2091.6 1050.9,2091.7 1052.4,2091.7 1053.9,2091.6 1055.4,2091.4 1056.9,2091.0 1058.4,2090.6 1059.9,2090.1 1061.4,2089.5 1062.9,2088.8 1064.4,2088.2 1065.9,2087.5 1067.4,2086.8 1068.9,2086.1 1070.4,2085.4 1071.9,2084.6 1073.4,2083.7 1074.9,2082.9 1076.4,2082.2 1077.9,2081.5 1079.4,2080.9 1080.9,2080.5 1082.4,2080.2 1083.9,2080.0 1085.4,2079.8 1086.9,2079.5 1088.4,2079.2 1089.9,2078.8 1091.4,2078.2 1092.9,2077.4 1094.4,2076.5 1095.9,2075.3 1097.4,2073.9 1098.9,2072.3 1100.4,2070.5 1101.9,2068.6 1103.4,2066.5 1104.9,2064.1 1106.4,2061.7 1107.9,2059.1 1109.4,2056.4 1110.9,2053.8 1112.4,2051.2 1113.9,2048.6 1115.4,2046.1 1116.9,2043.6 1118.4,2041.0 1119.9,2038.5 1121.4,2036.0 1122.9,2033.5 1124.4,2031.1 1125.9,2028.7 1127.4,2026.2 1128.9,2023.7 1130.4,2021.2 1131.9,2018.9 1133.4,2016.7 1134.9,2014.8 1136.4,2013.2 1137.9,2012.0 1139.4,2011.2 1140.9,2010.7 1142.4,2010.5 1143.9,2010.4 1145.4,2010.3 1146.9,2010.4 1148.4,2010.7 1149.9,2011.1 1151.4,2011.7 1152.9,2012.1 1154.4,2012.2 1155.9,2012.0 1157.4,2011.4 1158.9,2010.4 1160.4,2009.1 1161.9,2007.7 1163.4,2006.1 1164.9,2004.3 1166.4,2002.4 1167.9,2000.1 1169.4,1997.7 1170.9,1995.0 1172.4,1991.9 1173.9,1988.7 1175.4,1985.4 1176.9,1982.3 1178.4,1979.7 1179.9,1977.4 1181.4,1975.4 1182.9,1973.7 1184.4,1972.2 1185.9,1971.0 1187.4,1970.0 1188.9,1969.4 1190.4,1969.3 1191.9,1969.6 1193.4,1970.5 1194.9,1971.8 1196.4,1973.5 1197.9,1975.6 1199.4,1978.1 1200.9,1981.2 1202.4,1984.7 1203.9,1988.5 1205.4,1992.6 1206.9,1997.2 1208.4,2002.1 1209.9,2007.3 1211.4,2013.0 1212.9,2019.0 1214.4,2025.1 1215.9,2031.1 1217.4,2036.8 1218.9,2042.2 1220.4,2047.6 1221.9,2052.6 1223.4,2057.5 1224.9,2062.0 1226.4,2065.6 1227.9,2067.4 1229.4,2066.9 1230.9,2065.0 1232.4,2062.4 1233.9,2059.3 1235.4,2055.8 1236.9,2052.0 1238.4,2048.4 1239.9,2044.9 1241.4,2041.4 1242.9,2038.1 1244.4,2034.9 1245.9,2032.1 1247.4,2029.7 1248.9,2027.5 1250.4,2025.6 1251.9,2023.9 1253.4,2022.5 1254.9,2021.5 1256.4,2021.0 1257.9,2021.0 1259.4,2021.6 1260.9,2022.5 1262.4,2023.8 1263.9,2025.5 1265.4,2027.5 1266.9,2029.8 1268.4,2032.2 1269.9,2034.7 1271.4,2037.3 1272.9,2040.0 1274.4,2042.8 1275.9,2045.6 1277.4,2048.5 1278.9,2051.5 1280.4,2054.5 1281.9,2057.5 1283.4,2060.6 1284.9,2063.6 1286.4,2066.7 1287.9,2069.7 1289.4,2072.7 1290.9,2075.5 1292.4,2078.1 1293.9,2080.6 1295.4,2082.8 1296.9,2084.6 1298.4,2086.0 1299.9,2087.1 1301.4,2087.8 1302.9,2088.0 1304.4,2088.0 1305.9,2087.9 1307.4,2087.6 1308.9,2087.3 1310.4,2087.0 1311.9,2086.9 1313.4,2086.9 1314.9,2087.1 1316.4,2087.5 1317.9,2087.9 1319.4,2088.5 1320.9,2089.1 1322.4,2089.6 1323.9,2090.2 1325.4,2090.8 1326.9,2091.5 1328.4,2092.1 1329.9,2092.7 1331.4,2093.3 1332.9,2093.7 1334.4,2094.0 1335.9,2094.2 1337.4,2094.3 1338.9,2094.4 1340.4,2094.4 1341.9,2094.3 1343.4,2094.2 1344.9,2094.0 1346.4,2093.8 1347.9,2093.5 1349.4,2093.2 1350.9,2093.0 1352.4,2092.8 1353.9,2092.6 1355.4,2092.5 1356.9,2092.5 1358.4,2092.7 1359.9,2093.0 1361.4,2093.3 1362.9,2093.7 1364.4,2094.1 1365.9,2094.6 1367.4,2095.0 1368.9,2095.4 1370.4,2095.8 1371.9,2096.3 1373.4,2096.8 1374.9,2097.3 1376.4,2097.7 1377.9,2098.1 1379.4,2098.5 1380.9,2098.7 1382.4,2098.8 1383.9,2098.8 1385.4,2098.7 1386.9,2098.6 1388.4,2098.4 1389.9,2098.1 1391.4,2097.9 1392.9,2097.6 1394.4,2097.3 1395.9,2097.0 1397.4,2096.8 1398.9,2096.6 1400.4,2096.5 1401.9,2096.4 1403.4,2096.4 1404.9,2096.5 1406.4,2096.6 1407.9,2096.8 1409.4,2097.1 1410.9,2097.4 1412.4,2097.7 1413.9,2098.1 1415.4,2098.4 1416.9,2098.8 1418.4,2099.1 1419.9,2099.4 1421.4,2099.7 1422.9,2099.9 1424.4,2100.1 1425.9,2100.2 1427.4,2100.2 1428.9,2100.1 1430.4,2099.9 1431.9,2099.7 1433.4,2099.4 1434.9,2099.1 1436.4,2098.7 1437.9,2098.4 1439.4,2098.1 1440.9,2097.8 1442.4,2097.6 1443.9,2097.4 1445.4,2097.3 1446.9,2097.3 1448.4,2097.4 1449.9,2097.5 1451.4,2097.6 1452.9,2097.8 1454.4,2098.0 1455.9,2098.2 1457.4,2098.4 1458.9,2098.6 1460.4,2098.8 1461.9,2099.0 1463.4,2099.2 1464.9,2099.4 1466.4,2099.6 1467.9,2099.7 1469.4,2099.8 1470.9,2099.8 1472.4,2099.8 1473.9,2099.7 1475.4,2099.7 1476.9,2099.6 1478.4,2099.4 1479.9,2099.3 1481.4,2099.1 1482.9,2099.0 1484.4,2098.8 1485.9,2098.7 1487.4,2098.5 1488.9,2098.4 1490.4,2098.3 1491.9,2098.3 1493.4,2098.3 1494.9,2098.3 1496.4,2098.4 1497.9,2098.5 1499.4,2098.6 1500.9,2098.8 1502.4,2098.9 1503.9,2099.1 1505.4,2099.3 1506.9,2099.5 1508.4,2099.6 1509.9,2099.8 1511.4,2099.9 1512.9,2100.0 1514.4,2100.1 1515.9,2100.2 1517.4,2100.2 1518.9,2100.1 1520.4,2100.1 1521.9,2100.0 1523.4,2099.8 1524.9,2099.7 1526.4,2099.5 1527.9,2099.4 1529.4,2099.2 1530.9,2099.1 1532.4,2099.0 1533.9,2098.9 1535.4,2098.9 1536.9,2098.8 1538.4,2098.8 1539.9,2098.9 1541.4,2098.9 1542.9,2098.9 1544.4,2099.0 1545.9,2099.1 1547.4,2099.1 1548.9,2099.2 1550.4,2099.3 1551.9,2099.4 1553.4,2099.4 1554.9,2099.5 1556.4,2099.6 1557.9,2099.6" fill="none" stroke="#111111" stroke-width="3.7" stroke-linejoin="round"/>
</g>
</svg></body></html>
